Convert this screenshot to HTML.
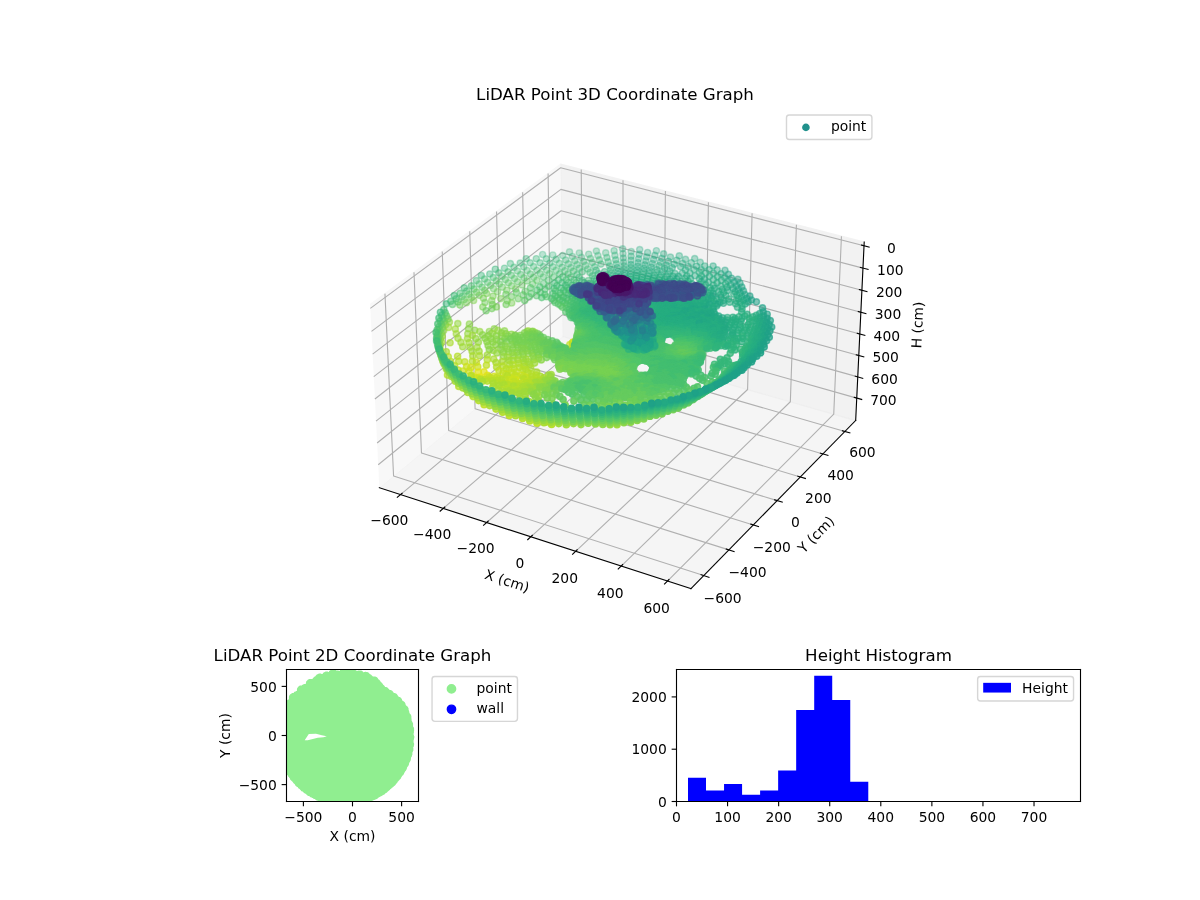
<!DOCTYPE html><html><head><meta charset="utf-8"><title>LiDAR Point Graphs</title><style>html,body{margin:0;padding:0;background:#fff}svg{display:block}text{font-family:"DejaVu Sans","Liberation Sans",sans-serif}
.pc circle{r:3.106px;stroke-width:1.389px}
.a{fill:#440154;stroke:#440154}
.b{fill:#46075a;stroke:#46075a}
.c{fill:#470d60;stroke:#470d60}
.d{fill:#471365;stroke:#471365}
.e{fill:#48186a;stroke:#48186a}
.f{fill:#481d6f;stroke:#481d6f}
.g{fill:#482374;stroke:#482374}
.h{fill:#482878;stroke:#482878}
.i{fill:#472d7b;stroke:#472d7b}
.j{fill:#46327e;stroke:#46327e}
.k{fill:#453781;stroke:#453781}
.l{fill:#443b84;stroke:#443b84}
.m{fill:#424086;stroke:#424086}
.n{fill:#404588;stroke:#404588}
.o{fill:#3e4989;stroke:#3e4989}
.p{fill:#3d4e8a;stroke:#3d4e8a}
.q{fill:#3a538b;stroke:#3a538b}
.r{fill:#38588c;stroke:#38588c}
.s{fill:#365c8d;stroke:#365c8d}
.t{fill:#34608d;stroke:#34608d}
.u{fill:#32648e;stroke:#32648e}
.v{fill:#31688e;stroke:#31688e}
.w{fill:#2f6c8e;stroke:#2f6c8e}
.x{fill:#2d708e;stroke:#2d708e}
.y{fill:#2c738e;stroke:#2c738e}
.z{fill:#2a778e;stroke:#2a778e}
.A{fill:#297b8e;stroke:#297b8e}
.B{fill:#277f8e;stroke:#277f8e}
.C{fill:#26828e;stroke:#26828e}
.D{fill:#24868e;stroke:#24868e}
.E{fill:#238a8d;stroke:#238a8d}
.F{fill:#218e8d;stroke:#218e8d}
.G{fill:#20928c;stroke:#20928c}
.H{fill:#1f968b;stroke:#1f968b}
.I{fill:#1f9a8a;stroke:#1f9a8a}
.J{fill:#1f9e89;stroke:#1f9e89}
.K{fill:#1fa187;stroke:#1fa187}
.L{fill:#21a585;stroke:#21a585}
.M{fill:#23a983;stroke:#23a983}
.N{fill:#26ad81;stroke:#26ad81}
.O{fill:#2ab07f;stroke:#2ab07f}
.P{fill:#2fb47c;stroke:#2fb47c}
.Q{fill:#35b779;stroke:#35b779}
.R{fill:#3bbb75;stroke:#3bbb75}
.S{fill:#42be71;stroke:#42be71}
.T{fill:#4ac16d;stroke:#4ac16d}
.U{fill:#52c569;stroke:#52c569}
.V{fill:#5ac864;stroke:#5ac864}
.W{fill:#65cb5e;stroke:#65cb5e}
.X{fill:#6ece58;stroke:#6ece58}
.Y{fill:#77d153;stroke:#77d153}
.Z{fill:#81d34d;stroke:#81d34d}
.k0{fill:#8bd646;stroke:#8bd646}
.k1{fill:#95d840;stroke:#95d840}
.k2{fill:#a0da39;stroke:#a0da39}
.k3{fill:#aadc32;stroke:#aadc32}
.k4{fill:#b5de2b;stroke:#b5de2b}
.k5{fill:#c0df25;stroke:#c0df25}
.k6{fill:#cae11f;stroke:#cae11f}
.k7{fill:#d5e21a;stroke:#d5e21a}
.k8{fill:#dfe318;stroke:#dfe318}
.k9{fill:#eae51a;stroke:#eae51a}
.k10{fill:#f4e61e;stroke:#f4e61e}
.k11{fill:#fde725;stroke:#fde725}
.o1{fill-opacity:0.05;stroke-opacity:0.05}
.o2{fill-opacity:0.1;stroke-opacity:0.1}
.o3{fill-opacity:0.15;stroke-opacity:0.15}
.o4{fill-opacity:0.2;stroke-opacity:0.2}
.o5{fill-opacity:0.25;stroke-opacity:0.25}
.o6{fill-opacity:0.3;stroke-opacity:0.3}
.o7{fill-opacity:0.35;stroke-opacity:0.35}
.o8{fill-opacity:0.4;stroke-opacity:0.4}
.o9{fill-opacity:0.45;stroke-opacity:0.45}
.o10{fill-opacity:0.5;stroke-opacity:0.5}
.o11{fill-opacity:0.55;stroke-opacity:0.55}
.o12{fill-opacity:0.6;stroke-opacity:0.6}
.o13{fill-opacity:0.65;stroke-opacity:0.65}
.o14{fill-opacity:0.7;stroke-opacity:0.7}
.o15{fill-opacity:0.75;stroke-opacity:0.75}
.o16{fill-opacity:0.8;stroke-opacity:0.8}
.o17{fill-opacity:0.85;stroke-opacity:0.85}
.o18{fill-opacity:0.9;stroke-opacity:0.9}
.o19{fill-opacity:0.95;stroke-opacity:0.95}
.o20{fill-opacity:1;stroke-opacity:1}</style></head><body><svg width="1200" height="900" viewBox="0 0 864 648">
 
 <defs>
  <style type="text/css">*{stroke-linejoin: round; stroke-linecap: butt}</style>
 </defs>
 <g id="figure_1">
  <g id="patch_1">
   <path d="M 0 648 
L 864 648 
L 864 0 
L 0 0 
z
" style="fill: #ffffff"/>
  </g>
  <g id="patch_2">
   <path d="M 252.828 457.704 
L 632.772 457.704 
L 632.772 77.76 
L 252.828 77.76 
z
" style="fill: #ffffff"/>
  </g>
  <g id="pane3d_1">
   <g id="patch_3">
    <path d="M 266.494291 219.285714 
L 403.616905 118.259584 
L 405.101358 242.24592 
L 273.139772 351.159248 
" style="fill: #f2f2f2; opacity: 0.5; stroke: #f2f2f2; stroke-linejoin: miter"/>
   </g>
  </g>
  <g id="pane3d_2">
   <g id="patch_4">
    <path d="M 403.616905 118.259584 
L 622.22818 174.289734 
L 616.087015 302.737657 
L 405.101358 242.24592 
" style="fill: #e6e6e6; opacity: 0.5; stroke: #e6e6e6; stroke-linejoin: miter"/>
   </g>
  </g>
  <g id="pane3d_3">
   <g id="patch_5">
    <path d="M 273.139772 351.159248 
L 497.441747 423.838683 
L 616.087015 302.737657 
L 405.101358 242.24592 
" style="fill: #ececec; opacity: 0.5; stroke: #ececec; stroke-linejoin: miter"/>
   </g>
  </g>
  <g id="grid3d_1">
   <g id="Line3DCollection_1">
    <path d="M 288.3555 356.089523 
L 419.478777 246.368073 
L 418.488989 122.071305 
" style="fill: none; stroke: #b0b0b0; stroke-width: 0.8"/>
    <path d="M 319.142932 366.065419 
L 448.540921 254.700485 
L 448.562174 129.779073 
" style="fill: none; stroke: #b0b0b0; stroke-width: 0.8"/>
    <path d="M 350.414322 376.198129 
L 478.020157 263.152482 
L 479.082197 137.601366 
" style="fill: none; stroke: #b0b0b0; stroke-width: 0.8"/>
    <path d="M 382.181172 386.491381 
L 507.925528 271.726657 
L 510.059092 145.540756 
" style="fill: none; stroke: #b0b0b0; stroke-width: 0.8"/>
    <path d="M 414.455351 396.94902 
L 538.266343 280.425678 
L 541.503194 153.599891 
" style="fill: none; stroke: #b0b0b0; stroke-width: 0.8"/>
    <path d="M 447.249111 407.575017 
L 569.052182 289.252291 
L 573.425153 161.781501 
" style="fill: none; stroke: #b0b0b0; stroke-width: 0.8"/>
    <path d="M 480.575101 418.373468 
L 600.292907 298.209325 
L 605.835948 170.088399 
" style="fill: none; stroke: #b0b0b0; stroke-width: 0.8"/>
   </g>
  </g>
  <g id="grid3d_2">
   <g id="Line3DCollection_2">
    <path d="M 277.164987 211.423997 
L 283.378164 342.709081 
L 506.688353 414.400687 
" style="fill: none; stroke: #b0b0b0; stroke-width: 0.8"/>
    <path d="M 298.071772 196.020764 
L 303.452921 326.140558 
L 524.798203 395.915994 
" style="fill: none; stroke: #b0b0b0; stroke-width: 0.8"/>
    <path d="M 318.418483 181.03017 
L 323.008954 310.000159 
L 542.414322 377.935251 
" style="fill: none; stroke: #b0b0b0; stroke-width: 0.8"/>
    <path d="M 338.227329 166.435852 
L 342.066113 294.271502 
L 559.556629 360.438127 
" style="fill: none; stroke: #b0b0b0; stroke-width: 0.8"/>
    <path d="M 357.519359 152.222302 
L 360.643246 278.939029 
L 576.243986 343.405369 
" style="fill: none; stroke: #b0b0b0; stroke-width: 0.8"/>
    <path d="M 376.314539 138.37481 
L 378.758265 263.987959 
L 592.494268 326.818733 
" style="fill: none; stroke: #b0b0b0; stroke-width: 0.8"/>
    <path d="M 394.631818 124.879416 
L 396.428201 249.404233 
L 608.324425 310.660919 
" style="fill: none; stroke: #b0b0b0; stroke-width: 0.8"/>
   </g>
  </g>
  <g id="grid3d_3">
   <g id="Line3DCollection_3">
    <path d="M 622.100655 176.957032 
L 403.647676 120.8297 
L 266.632483 222.028021 
" style="fill: none; stroke: #b0b0b0; stroke-width: 0.8"/>
    <path d="M 621.331751 193.039334 
L 403.833258 136.330112 
L 267.465531 238.559097 
" style="fill: none; stroke: #b0b0b0; stroke-width: 0.8"/>
    <path d="M 620.569607 208.980261 
L 404.017291 151.701159 
L 268.290959 254.938953 
" style="fill: none; stroke: #b0b0b0; stroke-width: 0.8"/>
    <path d="M 619.814133 224.781668 
L 404.199795 166.944452 
L 269.10887 271.169656 
" style="fill: none; stroke: #b0b0b0; stroke-width: 0.8"/>
    <path d="M 619.065242 240.445381 
L 404.380788 182.061579 
L 269.919367 287.253232 
" style="fill: none; stroke: #b0b0b0; stroke-width: 0.8"/>
    <path d="M 618.322849 255.973189 
L 404.560289 197.054099 
L 270.72255 303.191674 
" style="fill: none; stroke: #b0b0b0; stroke-width: 0.8"/>
    <path d="M 617.58687 271.366856 
L 404.738317 211.923546 
L 271.518518 318.986938 
" style="fill: none; stroke: #b0b0b0; stroke-width: 0.8"/>
    <path d="M 616.857221 286.628111 
L 404.914889 226.671429 
L 272.307368 334.640943 
" style="fill: none; stroke: #b0b0b0; stroke-width: 0.8"/>
   </g>
  </g>
  <g id="axis3d_1">
   <g id="line2d_1">
    <path d="M 273.139772 351.159248 
L 497.441747 423.838683 
" style="fill: none; stroke: #000000; stroke-width: 0.8; stroke-linecap: square"/>
   </g>
   <g id="xtick_1">
    <g id="line2d_2">
     <path d="M 289.502041 355.13012 
L 286.057249 358.012656 
" style="fill: none; stroke: #000000; stroke-width: 0.8; stroke-linecap: square"/>
    </g>
    <g id="text_1">
     <text style="font-size: 10px; font-family: 'DejaVu Sans', 'Liberation Sans', sans-serif; text-anchor: middle" x="280.334904" y="378.111347" transform="rotate(-0 280.334904 378.111347)">−600</text>
    </g>
   </g>
   <g id="xtick_2">
    <g id="line2d_3">
     <path d="M 320.275136 365.091 
L 316.873376 368.018686 
" style="fill: none; stroke: #000000; stroke-width: 0.8; stroke-linecap: square"/>
    </g>
    <g id="text_2">
     <text style="font-size: 10px; font-family: 'DejaVu Sans', 'Liberation Sans', sans-serif; text-anchor: middle" x="311.162793" y="388.233544" transform="rotate(-0 311.162793 388.233544)">−400</text>
    </g>
   </g>
   <g id="xtick_3">
    <g id="line2d_4">
     <path d="M 351.531597 375.208338 
L 348.174653 378.182245 
" style="fill: none; stroke: #000000; stroke-width: 0.8; stroke-linecap: square"/>
    </g>
    <g id="text_3">
     <text style="font-size: 10px; font-family: 'DejaVu Sans', 'Liberation Sans', sans-serif; text-anchor: middle" x="342.476913" y="398.515392" transform="rotate(-0 342.476913 398.515392)">−200</text>
    </g>
   </g>
   <g id="xtick_4">
    <g id="line2d_5">
     <path d="M 383.282901 385.485852 
L 379.972627 388.507082 
" style="fill: none; stroke: #000000; stroke-width: 0.8; stroke-linecap: square"/>
    </g>
    <g id="text_4">
     <text style="font-size: 10px; font-family: 'DejaVu Sans', 'Liberation Sans', sans-serif; text-anchor: middle" x="374.288861" y="408.960699" transform="rotate(-0 374.288861 408.960699)">0</text>
    </g>
   </g>
   <g id="xtick_5">
    <g id="line2d_6">
     <path d="M 415.540893 395.927375 
L 412.279216 398.997066 
" style="fill: none; stroke: #000000; stroke-width: 0.8; stroke-linecap: square"/>
    </g>
    <g id="text_5">
     <text style="font-size: 10px; font-family: 'DejaVu Sans', 'Liberation Sans', sans-serif; text-anchor: middle" x="406.610602" y="419.573395" transform="rotate(-0 406.610602 419.573395)">200</text>
    </g>
   </g>
   <g id="xtick_6">
    <g id="line2d_7">
     <path d="M 448.3178 406.536864 
L 445.10672 409.656193 
" style="fill: none; stroke: #000000; stroke-width: 0.8; stroke-linecap: square"/>
    </g>
    <g id="text_6">
     <text style="font-size: 10px; font-family: 'DejaVu Sans', 'Liberation Sans', sans-serif; text-anchor: middle" x="439.454491" y="430.357535" transform="rotate(-0 439.454491 430.357535)">400</text>
    </g>
   </g>
   <g id="xtick_7">
    <g id="line2d_8">
     <path d="M 481.626245 417.318405 
L 478.467841 420.488585 
" style="fill: none; stroke: #000000; stroke-width: 0.8; stroke-linecap: square"/>
    </g>
    <g id="text_7">
     <text style="font-size: 10px; font-family: 'DejaVu Sans', 'Liberation Sans', sans-serif; text-anchor: middle" x="472.833282" y="441.317308" transform="rotate(-0 472.833282 441.317308)">600</text>
    </g>
   </g>
   <g id="text_8">
    <text style="font-size: 10px; font-family: 'DejaVu Sans', 'Liberation Sans', sans-serif; text-anchor: middle" x="364.104534" y="421.574162" transform="rotate(-342.046382 364.104534 421.574162)">X (cm)</text>
   </g>
  </g>
  <g id="axis3d_2">
   <g id="line2d_9">
    <path d="M 616.087015 302.737657 
L 497.441747 423.838683 
" style="fill: none; stroke: #000000; stroke-width: 0.8; stroke-linecap: square"/>
   </g>
   <g id="xtick_8">
    <g id="line2d_10">
     <path d="M 504.801549 413.794946 
L 510.467097 415.613816 
" style="fill: none; stroke: #000000; stroke-width: 0.8; stroke-linecap: square"/>
    </g>
    <g id="text_9">
     <text style="font-size: 10px; font-family: 'DejaVu Sans', 'Liberation Sans', sans-serif; text-anchor: middle" x="520.283852" y="434.022168" transform="rotate(-0 520.283852 434.022168)">−600</text>
    </g>
   </g>
   <g id="xtick_9">
    <g id="line2d_11">
     <path d="M 522.929374 395.326876 
L 528.540876 397.095809 
" style="fill: none; stroke: #000000; stroke-width: 0.8; stroke-linecap: square"/>
    </g>
    <g id="text_10">
     <text style="font-size: 10px; font-family: 'DejaVu Sans', 'Liberation Sans', sans-serif; text-anchor: middle" x="538.224517" y="415.351852" transform="rotate(-0 538.224517 415.351852)">−400</text>
    </g>
   </g>
   <g id="xtick_10">
    <g id="line2d_12">
     <path d="M 540.563196 377.362082 
L 546.121473 379.083106 
" style="fill: none; stroke: #000000; stroke-width: 0.8; stroke-linecap: square"/>
    </g>
    <g id="text_11">
     <text style="font-size: 10px; font-family: 'DejaVu Sans', 'Liberation Sans', sans-serif; text-anchor: middle" x="555.67556" y="397.191071" transform="rotate(-0 555.67556 397.191071)">−200</text>
    </g>
   </g>
   <g id="xtick_11">
    <g id="line2d_13">
     <path d="M 557.722936 359.880267 
L 563.228801 361.555303 
" style="fill: none; stroke: #000000; stroke-width: 0.8; stroke-linecap: square"/>
    </g>
    <g id="text_12">
     <text style="font-size: 10px; font-family: 'DejaVu Sans', 'Liberation Sans', sans-serif; text-anchor: middle" x="572.656754" y="379.519247" transform="rotate(-0 572.656754 379.519247)">0</text>
    </g>
   </g>
   <g id="xtick_12">
    <g id="line2d_14">
     <path d="M 574.42746 342.862213 
L 579.881719 344.49308 
" style="fill: none; stroke: #000000; stroke-width: 0.8; stroke-linecap: square"/>
    </g>
    <g id="text_13">
     <text style="font-size: 10px; font-family: 'DejaVu Sans', 'Liberation Sans', sans-serif; text-anchor: middle" x="589.186823" y="362.316896" transform="rotate(-0 589.186823 362.316896)">200</text>
    </g>
   </g>
   <g id="xtick_13">
    <g id="line2d_15">
     <path d="M 590.694643 326.289708 
L 596.098094 327.87813 
" style="fill: none; stroke: #000000; stroke-width: 0.8; stroke-linecap: square"/>
    </g>
    <g id="text_14">
     <text style="font-size: 10px; font-family: 'DejaVu Sans', 'Liberation Sans', sans-serif; text-anchor: middle" x="605.283508" y="345.565555" transform="rotate(-0 605.283508 345.565555)">400</text>
    </g>
   </g>
   <g id="xtick_14">
    <g id="line2d_16">
     <path d="M 606.54144 310.145479 
L 611.894869 311.693092 
" style="fill: none; stroke: #000000; stroke-width: 0.8; stroke-linecap: square"/>
    </g>
    <g id="text_15">
     <text style="font-size: 10px; font-family: 'DejaVu Sans', 'Liberation Sans', sans-serif; text-anchor: middle" x="620.963633" y="329.247716" transform="rotate(-0 620.963633 329.247716)">600</text>
    </g>
   </g>
   <g id="text_16">
    <text style="font-size: 10px; font-family: 'DejaVu Sans', 'Liberation Sans', sans-serif; text-anchor: middle" x="590.040209" y="387.361361" transform="rotate(-45.586869 590.040209 387.361361)">Y (cm)</text>
   </g>
  </g>
  <g id="axis3d_3">
   <g id="line2d_17">
    <path d="M 616.087015 302.737657 
L 622.22818 174.289734 
" style="fill: none; stroke: #000000; stroke-width: 0.8; stroke-linecap: square"/>
   </g>
   <g id="xtick_15">
    <g id="line2d_18">
     <path d="M 620.259864 176.484076 
L 625.78699 177.904166 
" style="fill: none; stroke: #000000; stroke-width: 0.8; stroke-linecap: square"/>
    </g>
    <g id="text_17">
     <text style="font-size: 10px; font-family: 'DejaVu Sans', 'Liberation Sans', sans-serif; text-anchor: middle" x="641.89995" y="182.045052" transform="rotate(-0 641.89995 182.045052)">0</text>
    </g>
   </g>
   <g id="xtick_16">
    <g id="line2d_19">
     <path d="M 619.499413 192.561581 
L 625.00114 193.996068 
" style="fill: none; stroke: #000000; stroke-width: 0.8; stroke-linecap: square"/>
    </g>
    <g id="text_18">
     <text style="font-size: 10px; font-family: 'DejaVu Sans', 'Liberation Sans', sans-serif; text-anchor: middle" x="641.045582" y="198.101873" transform="rotate(-0 641.045582 198.101873)">100</text>
    </g>
   </g>
   <g id="xtick_17">
    <g id="line2d_20">
     <path d="M 618.745644 208.497814 
L 624.222203 209.946389 
" style="fill: none; stroke: #000000; stroke-width: 0.8; stroke-linecap: square"/>
    </g>
    <g id="text_19">
     <text style="font-size: 10px; font-family: 'DejaVu Sans', 'Liberation Sans', sans-serif; text-anchor: middle" x="640.198709" y="214.017862" transform="rotate(-0 640.198709 214.017862)">200</text>
    </g>
   </g>
   <g id="xtick_18">
    <g id="line2d_21">
     <path d="M 617.998469 224.294628 
L 623.450089 225.756991 
" style="fill: none; stroke: #000000; stroke-width: 0.8; stroke-linecap: square"/>
    </g>
    <g id="text_20">
     <text style="font-size: 10px; font-family: 'DejaVu Sans', 'Liberation Sans', sans-serif; text-anchor: middle" x="639.35923" y="229.794865" transform="rotate(-0 639.35923 229.794865)">300</text>
    </g>
   </g>
   <g id="xtick_19">
    <g id="line2d_22">
     <path d="M 617.257802 239.953844 
L 622.684709 241.429701 
" style="fill: none; stroke: #000000; stroke-width: 0.8; stroke-linecap: square"/>
    </g>
    <g id="text_21">
     <text style="font-size: 10px; font-family: 'DejaVu Sans', 'Liberation Sans', sans-serif; text-anchor: middle" x="638.52705" y="245.434692" transform="rotate(-0 638.52705 245.434692)">400</text>
    </g>
   </g>
   <g id="xtick_20">
    <g id="line2d_23">
     <path d="M 616.523559 255.477253 
L 621.925976 256.966314 
" style="fill: none; stroke: #000000; stroke-width: 0.8; stroke-linecap: square"/>
    </g>
    <g id="text_22">
     <text style="font-size: 10px; font-family: 'DejaVu Sans', 'Liberation Sans', sans-serif; text-anchor: middle" x="637.702075" y="260.939127" transform="rotate(-0 637.702075 260.939127)">500</text>
    </g>
   </g>
   <g id="xtick_21">
    <g id="line2d_24">
     <path d="M 615.795656 270.866614 
L 621.173803 272.368597 
" style="fill: none; stroke: #000000; stroke-width: 0.8; stroke-linecap: square"/>
    </g>
    <g id="text_23">
     <text style="font-size: 10px; font-family: 'DejaVu Sans', 'Liberation Sans', sans-serif; text-anchor: middle" x="636.884211" y="276.309919" transform="rotate(-0 636.884211 276.309919)">600</text>
    </g>
   </g>
   <g id="xtick_22">
    <g id="line2d_25">
     <path d="M 615.074012 286.123656 
L 620.428105 287.638284 
" style="fill: none; stroke: #000000; stroke-width: 0.8; stroke-linecap: square"/>
    </g>
    <g id="text_24">
     <text style="font-size: 10px; font-family: 'DejaVu Sans', 'Liberation Sans', sans-serif; text-anchor: middle" x="636.073365" y="291.548789" transform="rotate(-0 636.073365 291.548789)">700</text>
    </g>
   </g>
   <g id="text_25">
    <text style="font-size: 10px; font-family: 'DejaVu Sans', 'Liberation Sans', sans-serif; text-anchor: middle" x="664.06493" y="234.142659" transform="rotate(-87.262742 664.06493 234.142659)">H (cm)</text>
   </g>
  </g>
  <g id="axes_1">
   <g transform="scale(0.72)"><g class="pc" transform="translate(420 230)">
<g class="o6">
<circle class=Q cx=176.4 cy=21.1 r=3.1 />
<circle class=O cx=202.6 cy=18.8 r=3.1 />
<circle class=P cx=194.1 cy=20.7 r=3.1 />
<circle class=Q cx=149.5 cy=21.9 r=3.1 />
<circle class=Q cx=185.7 cy=22.9 r=3.1 />
<circle class=Q cx=159.3 cy=23 r=3.1 />
<circle class=Q cx=168.7 cy=24.2 r=3.1 />
<circle class=N cx=219.7 cy=19.6 r=3.1 />
<circle class=Q cx=177.9 cy=25.6 r=3.1 />
<circle class=O cx=211.2 cy=21.6 r=3.1 />
<circle class=P cx=122.6 cy=24.5 r=3.1 />
<circle class=N cx=236.4 cy=20.7 r=3.1 />
<circle class=Q cx=132.8 cy=25 r=3.1 />
<circle class=Q cx=142.7 cy=25.6 r=3.1 />
<circle class=O cx=203 cy=23.6 r=3.1 />
<circle class=Q cx=152.3 cy=26.5 r=3.1 />
<circle class=P cx=194.9 cy=25.4 r=3.1 />
<circle class=Q cx=161.5 cy=27.4 r=3.1 />
</g>
<g class="o7">
<circle class=N cx=227.6 cy=22.5 r=3.1 />
<circle class=Q cx=186.9 cy=27.5 r=3.1 />
<circle class=R cx=170.5 cy=28.5 r=3.1 />
<circle class=N cx=219.2 cy=24.3 r=3.1 />
<circle class=N cx=243.6 cy=23.9 r=3.1 />
<circle class=R cx=179.4 cy=29.9 r=3.1 />
<circle class=Q cx=126.4 cy=28.9 r=3.1 />
<circle class=Q cx=116.3 cy=28.7 r=3.1 />
<circle class=Q cx=136.2 cy=29.4 r=3.1 />
<circle class=Q cx=145.7 cy=30 r=3.1 />
<circle class=Q cx=106.2 cy=28.7 r=3.1 />
<circle class=O cx=211.1 cy=26.2 r=3.1 />
<circle class=R cx=154.8 cy=30.7 r=3.1 />
<circle class=N cx=234.9 cy=25.4 r=3.1 />
<circle class=R cx=163.6 cy=31.5 r=3.1 />
<circle class=O cx=203.3 cy=28 r=3.1 />
<circle class=R cx=172.3 cy=32.6 r=3.1 />
<circle class=N cx=259.3 cy=25.9 r=3.1 />
<circle class=N cx=226.6 cy=27 r=3.1 />
<circle class=P cx=195.7 cy=29.9 r=3.1 />
<circle class=Q cx=120 cy=32.8 r=3.1 />
<circle class=N cx=250.4 cy=27.1 r=3.1 />
<circle class=Q cx=188.2 cy=31.9 r=3.1 />
<circle class=Q cx=129.9 cy=33 r=3.1 />
<circle class=Q cx=110.1 cy=32.8 r=3.1 />
<circle class=R cx=139.4 cy=33.4 r=3.1 />
<circle class=N cx=218.6 cy=28.7 r=3.1 />
<circle class=R cx=148.4 cy=33.9 r=3.1 />
<circle class=N cx=241.8 cy=28.3 r=3.1 />
<circle class=R cx=157.2 cy=34.6 r=3.1 />
<circle class=Q cx=100.2 cy=33.1 r=3.1 />
<circle class=O cx=211 cy=30.2 r=3.1 />
<circle class=Q cx=181 cy=34.1 r=3.1 />
<circle class=R cx=165.7 cy=35.4 r=3.1 />
<circle class=N cx=274.7 cy=28.6 r=3.1 />
<circle class=N cx=233.6 cy=29.6 r=3.1 />
<circle class=Q cx=90.4 cy=33.6 r=3.1 />
<circle class=N cx=265.5 cy=29.4 r=3.1 />
<circle class=R cx=113.6 cy=36.6 r=3.1 />
<circle class=R cx=123.5 cy=36.6 r=3.1 />
<circle class=R cx=133.1 cy=36.8 r=3.1 />
<circle class=N cx=225.8 cy=31 r=3.1 />
<circle class=R cx=103.7 cy=36.9 r=3.1 />
<circle class=N cx=256.7 cy=30.2 r=3.1 />
<circle class=P cx=196.4 cy=33.8 r=3.1 />
<circle class=R cx=142.2 cy=37.2 r=3.1 />
<circle class=O cx=203.6 cy=32.3 r=3.1 />
<circle class=R cx=151 cy=37.6 r=3.1 />
<circle class=N cx=248.3 cy=31.2 r=3.1 />
<circle class=R cx=94 cy=37.4 r=3.1 />
<circle class=R cx=159.4 cy=38.2 r=3.1 />
<circle class=N cx=240.4 cy=32.2 r=3.1 />
<circle class=Q cx=174.7 cy=36.8 r=3.1 />
<circle class=N cx=218.1 cy=32.7 r=3.1 />
<circle class=S cx=116.9 cy=40.3 r=3.1 />
<circle class=S cx=107.1 cy=40.5 r=3.1 />
<circle class=S cx=126.7 cy=40.2 r=3.1 />
<circle class=R cx=167.8 cy=39 r=3.1 />
<circle class=P cx=189.6 cy=36 r=3.1 />
<circle class=N cx=280.2 cy=32.3 r=3.1 />
<circle class=S cx=136 cy=40.4 r=3.1 />
<circle class=Q cx=84.5 cy=38.2 r=3.1 />
<circle class=N cx=271.3 cy=32.7 r=3.1 />
<circle class=S cx=97.4 cy=41 r=3.1 />
<circle class=N cx=232.3 cy=33.6 r=3.1 />
<circle class=S cx=144.9 cy=40.7 r=3.1 />
<circle class=N cx=262.6 cy=33.4 r=3.1 />
<circle class=O cx=203.9 cy=35.8 r=3.1 />
</g>
<g class="o8">
<circle class=N cx=210.9 cy=34.5 r=3.1 />
<circle class=S cx=153.5 cy=41.1 r=3.1 />
<circle class=T cx=110.4 cy=44 r=3.1 />
<circle class=O cx=239.1 cy=35.7 r=3.1 />
<circle class=N cx=254.2 cy=34.2 r=3.1 />
<circle class=T cx=120.2 cy=43.7 r=3.1 />
<circle class=S cx=88 cy=41.8 r=3.1 />
<circle class=N cx=224.9 cy=34.9 r=3.1 />
<circle class=T cx=100.7 cy=44.5 r=3.1 />
<circle class=Q cx=176.2 cy=40.2 r=3.1 />
<circle class=T cx=129.7 cy=43.6 r=3.1 />
<circle class=Q cx=75.3 cy=39.2 r=3.1 />
<circle class=N cx=246.2 cy=35.1 r=3.1 />
<circle class=O cx=197.2 cy=37.7 r=3.1 />
<circle class=O cx=210.8 cy=37.6 r=3.1 />
<circle class=T cx=91.3 cy=45.3 r=3.1 />
<circle class=N cx=217.7 cy=36.4 r=3.1 />
<circle class=R cx=162.3 cy=41.8 r=3.1 />
<circle class=N cx=260.6 cy=36.8 r=3.1 />
<circle class=R cx=78.8 cy=42.8 r=3.1 />
<circle class=U cx=113.6 cy=47.3 r=3.1 />
<circle class=U cx=103.9 cy=47.8 r=3.1 />
<circle class=R cx=169.9 cy=42.5 r=3.1 />
<circle class=N cx=276.5 cy=36.2 r=3.1 />
<circle class=S cx=139.7 cy=43.9 r=3.1 />
<circle class=T cx=123.4 cy=47 r=3.1 />
<circle class=N cx=268.1 cy=36.5 r=3.1 />
<circle class=N cx=284.8 cy=36 r=3.1 />
<circle class=S cx=148 cy=44 r=3.1 />
<circle class=N cx=231.2 cy=37.1 r=3.1 />
<circle class=P cx=190.7 cy=39.6 r=3.1 />
<circle class=U cx=94.5 cy=48.6 r=3.1 />
<circle class=O cx=204.1 cy=39.3 r=3.1 />
<circle class=T cx=82.1 cy=46.3 r=3.1 />
<circle class=N cx=252.2 cy=37.7 r=3.1 />
<circle class=M cx=293.1 cy=36.1 r=3.1 />
<circle class=N cx=244.8 cy=38.4 r=3.1 />
<circle class=V cx=107.1 cy=51 r=3.1 />
<circle class=N cx=224 cy=38.4 r=3.1 />
<circle class=V cx=117 cy=50.4 r=3.1 />
<circle class=Q cx=69.8 cy=44 r=3.1 />
<circle class=T cx=133.8 cy=47 r=3.1 />
<circle class=U cx=85.3 cy=49.6 r=3.1 />
<circle class=V cx=97.6 cy=51.8 r=3.1 />
<circle class=R cx=157 cy=44.6 r=3.1 />
<circle class=N cx=274 cy=39.5 r=3.1 />
<circle class=P cx=184.6 cy=41.7 r=3.1 />
<circle class=S cx=73.2 cy=47.5 r=3.1 />
<circle class=V cx=88.4 cy=52.8 r=3.1 />
<circle class=N cx=265.5 cy=39.9 r=3.1 />
<circle class=S cx=143 cy=47 r=3.1 />
<circle class=O cx=197.9 cy=41.2 r=3.1 />
<circle class=P cx=178.4 cy=43.6 r=3.1 />
<circle class=O cx=210.7 cy=41 r=3.1 />
<circle class=S cx=150.8 cy=47.2 r=3.1 />
<circle class=N cx=281.2 cy=39.6 r=3.1 />
<circle class=N cx=217.2 cy=39.9 r=3.1 />
<circle class=P cx=191.5 cy=42.8 r=3.1 />
<circle class=N cx=236.9 cy=39.6 r=3.1 />
<circle class=U cx=76.3 cy=50.9 r=3.1 />
<circle class=N cx=289.2 cy=39.7 r=3.1 />
<circle class=O cx=236.4 cy=42.3 r=3.1 />
<circle class=W cx=91.7 cy=55.9 r=3.1 />
<circle class=T cx=128.5 cy=50.2 r=3.1 />
<circle class=W cx=102.1 cy=54.9 r=3.1 />
<circle class=Q cx=61.3 cy=45.5 r=3.1 />
<circle class=N cx=243 cy=41.6 r=3.1 />
<circle class=V cx=79.4 cy=54.1 r=3.1 />
<circle class=Q cx=172.5 cy=45.8 r=3.1 />
<circle class=R cx=159 cy=47.5 r=3.1 />
<circle class=O cx=279.4 cy=42.6 r=3.1 />
<circle class=N cx=223.4 cy=41.6 r=3.1 />
<circle class=N cx=249.8 cy=41.1 r=3.1 />
<circle class=N cx=229.8 cy=40.6 r=3.1 />
<circle class=M cx=297.2 cy=39.9 r=3.1 />
<circle class=V cx=112.7 cy=54.1 r=3.1 />
<circle class=S cx=64.5 cy=49 r=3.1 />
<circle class=P cx=185.6 cy=44.7 r=3.1 />
<circle class=W cx=82.4 cy=57.2 r=3.1 />
<circle class=N cx=216.9 cy=42.8 r=3.1 />
<circle class=T cx=67.6 cy=52.3 r=3.1 />
<circle class=N cx=229.3 cy=43.4 r=3.1 />
<circle class=X cx=95.7 cy=58.9 r=3.1 />
<circle class=L cx=305 cy=40.4 r=3.1 />
<circle class=S cx=138.5 cy=50.1 r=3.1 />
<circle class=S cx=146.2 cy=50 r=3.1 />
<circle class=O cx=222.9 cy=44.3 r=3.1 />
<circle class=V cx=70.6 cy=55.5 r=3.1 />
<circle class=N cx=210.6 cy=44 r=3.1 />
<circle class=N cx=285.8 cy=42.9 r=3.1 />
<circle class=N cx=269.9 cy=43 r=3.1 />
<circle class=T cx=123.5 cy=53.5 r=3.1 />
<circle class=N cx=248.4 cy=44 r=3.1 />
<circle class=N cx=262.3 cy=43.2 r=3.1 />
<circle class=N cx=204.5 cy=42.9 r=3.1 />
<circle class=N cx=198.5 cy=44.2 r=3.1 />
<circle class=R cx=154 cy=50.1 r=3.1 />
<circle class=N cx=255.1 cy=43.6 r=3.1 />
<circle class=W cx=73.5 cy=58.7 r=3.1 />
<circle class=X cx=86.8 cy=60.2 r=3.1 />
<circle class=N cx=293.5 cy=43.2 r=3.1 />
<circle class=P cx=180.2 cy=46.7 r=3.1 />
<circle class=O cx=192.6 cy=45.8 r=3.1 />
<circle class=R cx=56.3 cy=50.6 r=3.1 />
<circle class=S cx=148.3 cy=52.7 r=3.1 />
<circle class=Q cx=174.5 cy=48.6 r=3.1 />
<circle class=N cx=204.6 cy=45.5 r=3.1 />
<circle class=R cx=168.4 cy=50.6 r=3.1 />
<circle class=X cx=77.4 cy=61.7 r=3.1 />
<circle class=T cx=59.2 cy=54 r=3.1 />
<circle class=N cx=241 cy=44.8 r=3.1 />
<circle class=M cx=301.1 cy=43.7 r=3.1 />
<circle class=N cx=228.4 cy=46.2 r=3.1 />
<circle class=Q cx=162.1 cy=50.4 r=3.1 />
<circle class=U cx=62.1 cy=57.2 r=3.1 />
<circle class=N cx=275 cy=45.8 r=3.1 />
</g>
<g class="o9">
<circle class=S cx=156 cy=52.7 r=3.1 />
<circle class=Y cx=66.6 cy=63.5 r=3.1 />
<circle class=N cx=234.4 cy=45.5 r=3.1 />
<circle class=W cx=64.8 cy=60.4 r=3.1 />
<circle class=R cx=141.9 cy=52.8 r=3.1 />
<circle class=O cx=187.1 cy=47.6 r=3.1 />
<circle class=N cx=246.6 cy=46.8 r=3.1 />
<circle class=N cx=210.6 cy=46.8 r=3.1 />
<circle class=R cx=134.7 cy=53.1 r=3.1 />
<circle class=U cx=110.5 cy=57.7 r=3.1 />
<circle class=N cx=216.4 cy=45.8 r=3.1 />
<circle class=N cx=253 cy=46.4 r=3.1 />
<circle class=P cx=181.4 cy=49.3 r=3.1 />
<circle class=N cx=222.2 cy=47.2 r=3.1 />
<circle class=N cx=266.8 cy=46 r=3.1 />
<circle class=O cx=216.3 cy=48.1 r=3.1 />
<circle class=N cx=240 cy=47.4 r=3.1 />
<circle class=L cx=308.4 cy=44.4 r=3.1 />
<circle class=T cx=119.8 cy=56.8 r=3.1 />
<circle class=N cx=281.5 cy=46.1 r=3.1 />
<circle class=N cx=289.5 cy=46.3 r=3.1 />
<circle class=N cx=199 cy=47 r=3.1 />
<circle class=N cx=297.5 cy=46.7 r=3.1 />
<circle class=T cx=128.7 cy=56.2 r=3.1 />
<circle class=P cx=187.7 cy=50.1 r=3.1 />
<circle class=S cx=136.8 cy=55.7 r=3.1 />
<circle class=N cx=227.7 cy=48.8 r=3.1 />
<circle class=P cx=176.1 cy=51.2 r=3.1 />
<circle class=Q cx=164 cy=52.9 r=3.1 />
<circle class=Q cx=170.3 cy=53.2 r=3.1 />
<circle class=N cx=204.9 cy=48.2 r=3.1 />
<circle class=O cx=210.5 cy=49.3 r=3.1 />
<circle class=N cx=265 cy=48.6 r=3.1 />
<circle class=O cx=239.2 cy=49.8 r=3.1 />
<circle class=S cx=51.4 cy=55.8 r=3.1 />
<circle class=Y cx=73 cy=66.2 r=3.1 />
<circle class=N cx=279.4 cy=48.8 r=3.1 />
<circle class=N cx=233.4 cy=48.1 r=3.1 />
<circle class=U cx=54 cy=59.1 r=3.1 />
<circle class=V cx=105.2 cy=61.3 r=3.1 />
<circle class=N cx=193.6 cy=48.6 r=3.1 />
<circle class=M cx=258.4 cy=46.4 r=3.1 />
<circle class=W cx=56.6 cy=62.2 r=3.1 />
<circle class=X cx=59.2 cy=65.3 r=3.1 />
<circle class=N cx=199.3 cy=49.5 r=3.1 />
<circle class=M cx=304.7 cy=47.4 r=3.1 />
<circle class=R cx=152.1 cy=55.2 r=3.1 />
<circle class=P cx=182.5 cy=51.8 r=3.1 />
<circle class=W cx=85.9 cy=64.2 r=3.1 />
<circle class=V cx=96.4 cy=62.6 r=3.1 />
<circle class=Q cx=177 cy=53.6 r=3.1 />
<circle class=R cx=165.3 cy=55.3 r=3.1 />
<circle class=R cx=159 cy=55.2 r=3.1 />
<circle class=R cx=145.6 cy=55.4 r=3.1 />
<circle class=N cx=221.6 cy=49.7 r=3.1 />
<circle class=N cx=205 cy=50.6 r=3.1 />
<circle class=Y cx=63.4 cy=68.2 r=3.1 />
<circle class=O cx=227 cy=51.2 r=3.1 />
<circle class=N cx=244.5 cy=49.5 r=3.1 />
<circle class=M cx=270.5 cy=48.8 r=3.1 />
<circle class=N cx=293.4 cy=49.6 r=3.1 />
<circle class=M cx=256.9 cy=48.9 r=3.1 />
<circle class=Q cx=171.9 cy=55.5 r=3.1 />
<circle class=N cx=232.5 cy=50.5 r=3.1 />
<circle class=N cx=194.1 cy=51 r=3.1 />
<circle class=T cx=125.1 cy=59.3 r=3.1 />
<circle class=M cx=250.3 cy=49.2 r=3.1 />
<circle class=N cx=301.3 cy=50.2 r=3.1 />
<circle class=O cx=199.7 cy=51.9 r=3.1 />
<circle class=L cx=311.5 cy=48.2 r=3.1 />
<circle class=T cx=117 cy=60.1 r=3.1 />
<circle class=N cx=215.9 cy=50.7 r=3.1 />
<circle class=R cx=147.5 cy=57.7 r=3.1 />
<circle class=N cx=210.4 cy=51.7 r=3.1 />
<circle class=M cx=284.4 cy=49.3 r=3.1 />
<circle class=O cx=232 cy=52.8 r=3.1 />
<circle class=R cx=154.5 cy=57.5 r=3.1 />
<circle class=R cx=141 cy=58.1 r=3.1 />
<circle class=O cx=189 cy=52.5 r=3.1 />
<circle class=P cx=183.7 cy=54.1 r=3.1 />
<circle class=W cx=91.5 cy=66.7 r=3.1 />
<circle class=Y cx=80.7 cy=68.6 r=3.1 />
<circle class=Z cx=53.6 cy=70.5 r=3.1 />
<circle class=N cx=243.3 cy=51.9 r=3.1 />
<circle class=X cx=51.4 cy=67.4 r=3.1 />
<circle class=V cx=49 cy=64.3 r=3.1 />
<circle class=R cx=134.1 cy=58.5 r=3.1 />
<circle class=T cx=46.7 cy=61.1 r=3.1 />
<circle class=R cx=44.3 cy=57.9 r=3.1 />
<circle class=N cx=221 cy=52.1 r=3.1 />
<circle class=S cx=149 cy=60 r=3.1 />
<circle class=O cx=194.6 cy=53.3 r=3.1 />
<circle class=N cx=261.6 cy=51.3 r=3.1 />
<circle class=Q cx=167.4 cy=57.5 r=3.1 />
<circle class=N cx=268.2 cy=51.3 r=3.1 />
<circle class=U cx=111.3 cy=63.6 r=3.1 />
<circle class=N cx=237.3 cy=52.3 r=3.1 />
<circle class=T cx=135.4 cy=60.9 r=3.1 />
<circle class=N cx=215.6 cy=53 r=3.1 />
<circle class=M cx=307.9 cy=51.1 r=3.1 />
<circle class=N cx=205.2 cy=52.9 r=3.1 />
<circle class=T cx=120.4 cy=62.5 r=3.1 />
<circle class=V cx=103.1 cy=64.9 r=3.1 />
<circle class=Q cx=161.8 cy=57.4 r=3.1 />
<circle class=M cx=248.6 cy=51.6 r=3.1 />
<circle class=N cx=226.1 cy=53.5 r=3.1 />
<circle class=L cx=317.9 cy=49.3 r=3.1 />
<circle class=O cx=189.6 cy=54.7 r=3.1 />
<circle class=Y cx=71.7 cy=70.5 r=3.1 />
<circle class=M cx=281.4 cy=51.9 r=3.1 />
<circle class=M cx=254.5 cy=51.4 r=3.1 />
<circle class=O cx=200.1 cy=54.1 r=3.1 />
<circle class=N cx=297.1 cy=52.9 r=3.1 />
<circle class=O cx=242.2 cy=54.1 r=3.1 />
<circle class=N cx=305.6 cy=53.7 r=3.1 />
<circle class=R cx=156.5 cy=59.7 r=3.1 />
<circle class=S cx=143.7 cy=60.3 r=3.1 />
<circle class=O cx=231.1 cy=55 r=3.1 />
<circle class=N cx=210.4 cy=54 r=3.1 />
<circle class=Q cx=174 cy=57.7 r=3.1 />
<circle class=N cx=220.6 cy=54.3 r=3.1 />
<circle class=P cx=179.3 cy=55.9 r=3.1 />
<circle class=O cx=195.1 cy=55.4 r=3.1 />
<circle class=N cx=247.7 cy=53.9 r=3.1 />
<circle class=R cx=163 cy=59.6 r=3.1 />
<circle class=M cx=288.2 cy=52.4 r=3.1 />
<circle class=O cx=215.4 cy=55.1 r=3.1 />
<circle class=O cx=205.3 cy=55 r=3.1 />
<circle class=N cx=253.3 cy=53.7 r=3.1 />
<circle class=N cx=265.8 cy=53.7 r=3.1 />
<circle class=N cx=236.2 cy=54.5 r=3.1 />
<circle class=X cx=87.3 cy=70.8 r=3.1 />
<circle class=N cx=259.3 cy=53.7 r=3.1 />
<circle class=O cx=210.3 cy=56.1 r=3.1 />
<circle class=N cx=279.2 cy=54.3 r=3.1 />
<circle class=L cx=314.2 cy=52.1 r=3.1 />
<circle class=N cx=272 cy=53.9 r=3.1 />
<circle class=W cx=98.2 cy=68.7 r=3.1 />
<circle class=P cx=180 cy=58 r=3.1 />
<circle class=S cx=152.1 cy=62 r=3.1 />
<circle class=Y cx=46.4 cy=72.7 r=3.1 />
<circle class=Q cx=169.5 cy=59.6 r=3.1 />
<circle class=S cx=145.8 cy=62.4 r=3.1 />
<circle class=R cx=164.2 cy=61.7 r=3.1 />
<circle class=N cx=225.4 cy=55.6 r=3.1 />
<circle class=O cx=235.6 cy=56.6 r=3.1 />
<circle class=O cx=185.2 cy=56.3 r=3.1 />
<circle class=U cx=116.6 cy=65.7 r=3.1 />
<circle class=W cx=44.3 cy=69.6 r=3.1 />
<circle class=N cx=246.5 cy=56 r=3.1 />
<circle class=N cx=293.4 cy=55.4 r=3.1 />
<circle class=O cx=200.4 cy=56.2 r=3.1 />
<circle class=N cx=285.6 cy=54.8 r=3.1 />
<circle class=U cx=42.2 cy=66.5 r=3.1 />
<circle class=T cx=125 cy=64.6 r=3.1 />
<circle class=S cx=40.1 cy=63.3 r=3.1 />
<circle class=S cx=132.9 cy=63.6 r=3.1 />
<circle class=R cx=159 cy=61.7 r=3.1 />
<circle class=U cx=126.5 cy=66.8 r=3.1 />
<circle class=S cx=140 cy=62.9 r=3.1 />
<circle class=X cx=65 cy=72.5 r=3.1 />
<circle class=Y cx=91.7 cy=73 r=3.1 />
<circle class=N cx=240.6 cy=56.3 r=3.1 />
<circle class=U cx=109.3 cy=66.9 r=3.1 />
<circle class=N cx=300.7 cy=56.2 r=3.1 />
<circle class=M cx=310.7 cy=54.7 r=3.1 />
<circle class=T cx=141 cy=65.1 r=3.1 />
<circle class=S cx=153.9 cy=64.1 r=3.1 />
<circle class=O cx=195.7 cy=57.5 r=3.1 />
<circle class=O cx=210.3 cy=58.1 r=3.1 />
<circle class=O cx=224.9 cy=57.7 r=3.1 />
<circle class=O cx=219.9 cy=58.3 r=3.1 />
<circle class=P cx=175.9 cy=59.6 r=3.1 />
<circle class=P cx=181.1 cy=59.9 r=3.1 />
<circle class=N cx=215.1 cy=57.1 r=3.1 />
<circle class=N cx=220 cy=56.3 r=3.1 />
<circle class=T cx=135 cy=65.7 r=3.1 />
<circle class=N cx=205.5 cy=57.1 r=3.1 />
<circle class=P cx=229.6 cy=59.1 r=3.1 />
<circle class=N cx=275.9 cy=56.6 r=3.1 />
<circle class=M cx=251.1 cy=55.9 r=3.1 />
<circle class=L cx=320 cy=53.2 r=3.1 />
<circle class=S cx=148.5 cy=64.4 r=3.1 />
<circle class=N cx=191 cy=56.8 r=3.1 />
<circle class=N cx=290.1 cy=57.8 r=3.1 />
<circle class=M cx=262.7 cy=56 r=3.1 />
<circle class=Q cx=171.3 cy=61.5 r=3.1 />
<circle class=N cx=229.6 cy=57.1 r=3.1 />
<circle class=N cx=186.3 cy=58.3 r=3.1 />
<circle class=N cx=239.6 cy=58.3 r=3.1 />
<circle class=M cx=268.8 cy=56.2 r=3.1 />
<circle class=M cx=256.5 cy=55.8 r=3.1 />
</g>
<g class="o10">
<circle class=O cx=215 cy=59.1 r=3.1 />
<circle class=T cx=143.3 cy=67.1 r=3.1 />
<circle class=N cx=307 cy=57.2 r=3.1 />
<circle class=R cx=166.5 cy=63.5 r=3.1 />
<circle class=R cx=160.9 cy=63.6 r=3.1 />
<circle class=N cx=244.8 cy=58 r=3.1 />
<circle class=N cx=255.9 cy=57.9 r=3.1 />
<circle class=N cx=282 cy=57.1 r=3.1 />
<circle class=V cx=104.7 cy=70.6 r=3.1 />
<circle class=P cx=176.9 cy=61.6 r=3.1 />
<circle class=T cx=121.7 cy=67.6 r=3.1 />
<circle class=N cx=191.4 cy=58.8 r=3.1 />
<circle class=N cx=200.9 cy=58.1 r=3.1 />
<circle class=L cx=316.4 cy=55.8 r=3.1 />
<circle class=X cx=72.4 cy=74.5 r=3.1 />
<circle class=O cx=196.3 cy=59.4 r=3.1 />
<circle class=N cx=249.8 cy=57.9 r=3.1 />
<circle class=S cx=156.4 cy=65.9 r=3.1 />
<circle class=X cx=86.1 cy=74.5 r=3.1 />
<circle class=O cx=224.2 cy=59.6 r=3.1 />
<circle class=X cx=39.9 cy=75.1 r=3.1 />
<circle class=T cx=137.8 cy=67.6 r=3.1 />
<circle class=O cx=238.7 cy=60.2 r=3.1 />
<circle class=O cx=187 cy=60.2 r=3.1 />
<circle class=O cx=210.2 cy=59.9 r=3.1 />
<circle class=V cx=38 cy=72 r=3.1 />
<circle class=O cx=219.4 cy=60.2 r=3.1 />
<circle class=O cx=249 cy=59.9 r=3.1 />
<circle class=T cx=131.5 cy=68.5 r=3.1 />
<circle class=N cx=233.8 cy=58.5 r=3.1 />
<circle class=M cx=260.6 cy=58 r=3.1 />
<circle class=N cx=205.7 cy=58.9 r=3.1 />
<circle class=R cx=162.6 cy=65.5 r=3.1 />
<circle class=N cx=272.8 cy=58.7 r=3.1 />
<circle class=Y cx=76.4 cy=76.9 r=3.1 />
<circle class=T cx=36.2 cy=68.8 r=3.1 />
<circle class=N cx=279.4 cy=59.2 r=3.1 />
<circle class=N cx=243.5 cy=60 r=3.1 />
<circle class=M cx=313.1 cy=58.3 r=3.1 />
<circle class=M cx=266.3 cy=58.3 r=3.1 />
<circle class=T cx=139.7 cy=69.6 r=3.1 />
<circle class=O cx=192 cy=60.6 r=3.1 />
<circle class=N cx=259.6 cy=60 r=3.1 />
<circle class=R cx=34.3 cy=65.6 r=3.1 />
<circle class=Y cx=62.8 cy=77 r=3.1 />
<circle class=O cx=196.7 cy=61.2 r=3.1 />
<circle class=M cx=294.4 cy=58.5 r=3.1 />
<circle class=S cx=152.3 cy=68.1 r=3.1 />
<circle class=N cx=233.2 cy=60.4 r=3.1 />
<circle class=O cx=182.8 cy=61.7 r=3.1 />
<circle class=N cx=201.2 cy=60 r=3.1 />
<circle class=N cx=228.4 cy=60.8 r=3.1 />
<circle class=N cx=302.1 cy=59.5 r=3.1 />
<circle class=R cx=152 cy=66 r=3.1 />
<circle class=S cx=146.7 cy=68.7 r=3.1 />
<circle class=O cx=187.7 cy=62 r=3.1 />
<circle class=T cx=133.9 cy=70.4 r=3.1 />
<circle class=O cx=210.2 cy=61.7 r=3.1 />
<circle class=O cx=242.6 cy=61.8 r=3.1 />
<circle class=N cx=205.8 cy=60.8 r=3.1 />
<circle class=P cx=228.1 cy=62.7 r=3.1 />
<circle class=U cx=135.1 cy=72.5 r=3.1 />
<circle class=S cx=158.6 cy=67.5 r=3.1 />
<circle class=T cx=147.8 cy=70.7 r=3.1 />
<circle class=N cx=223.6 cy=61.3 r=3.1 />
<circle class=O cx=247.5 cy=61.7 r=3.1 />
<circle class=N cx=214.6 cy=60.8 r=3.1 />
<circle class=N cx=284.6 cy=59.8 r=3.1 />
<circle class=P cx=173.7 cy=63.1 r=3.1 />
<circle class=L cx=321.8 cy=57.1 r=3.1 />
<circle class=N cx=201.4 cy=61.8 r=3.1 />
<circle class=M cx=253 cy=59.8 r=3.1 />
<circle class=N cx=264.2 cy=60.2 r=3.1 />
<circle class=O cx=178.8 cy=63.2 r=3.1 />
<circle class=N cx=218.9 cy=61.9 r=3.1 />
<circle class=Q cx=169.3 cy=65 r=3.1 />
<circle class=N cx=291.3 cy=60.6 r=3.1 />
<circle class=N cx=276.3 cy=61.2 r=3.1 />
<circle class=O cx=183.7 cy=63.4 r=3.1 />
<circle class=T cx=142.8 cy=71.2 r=3.1 />
<circle class=M cx=269.7 cy=60.6 r=3.1 />
<circle class=O cx=223.2 cy=63.1 r=3.1 />
<circle class=N cx=298.5 cy=61.6 r=3.1 />
<circle class=N cx=205.9 cy=62.5 r=3.1 />
<circle class=O cx=241.4 cy=63.6 r=3.1 />
<circle class=S cx=154.9 cy=69.7 r=3.1 />
<circle class=N cx=192.8 cy=62.3 r=3.1 />
<circle class=N cx=257.2 cy=61.8 r=3.1 />
<circle class=N cx=214.5 cy=62.5 r=3.1 />
<circle class=Q cx=170.2 cy=66.8 r=3.1 />
<circle class=N cx=251.9 cy=61.7 r=3.1 />
<circle class=O cx=210.2 cy=63.4 r=3.1 />
<circle class=L cx=318.4 cy=59.5 r=3.1 />
<circle class=N cx=282.3 cy=61.8 r=3.1 />
<circle class=M cx=307.6 cy=60.5 r=3.1 />
<circle class=N cx=197.3 cy=62.8 r=3.1 />
<circle class=N cx=232.1 cy=62.1 r=3.1 />
<circle class=N cx=236.8 cy=61.8 r=3.1 />
<circle class=N cx=262.7 cy=62.1 r=3.1 />
<circle class=P cx=174.9 cy=64.8 r=3.1 />
<circle class=O cx=218.7 cy=63.6 r=3.1 />
<circle class=U cx=138.3 cy=74 r=3.1 />
<circle class=O cx=251 cy=63.5 r=3.1 />
<circle class=Q cx=165.5 cy=66.9 r=3.1 />
<circle class=O cx=188.7 cy=63.6 r=3.1 />
<circle class=O cx=231.7 cy=63.9 r=3.1 />
<circle class=T cx=144.7 cy=72.9 r=3.1 />
<circle class=X cx=71.9 cy=78.6 r=3.1 />
<circle class=R cx=161 cy=69 r=3.1 />
<circle class=N cx=288.3 cy=62.6 r=3.1 />
<circle class=N cx=267.8 cy=62.5 r=3.1 />
<circle class=O cx=313.8 cy=64.2 r=3.1 />
<circle class=M cx=315.2 cy=61.8 r=3.1 />
<circle class=O cx=222.7 cy=64.7 r=3.1 />
<circle class=U cx=32.5 cy=74.4 r=3.1 />
<circle class=T cx=151 cy=72 r=3.1 />
<circle class=N cx=193.3 cy=64 r=3.1 />
<circle class=Q cx=166.5 cy=68.6 r=3.1 />
<circle class=O cx=180.1 cy=64.8 r=3.1 />
<circle class=N cx=236 cy=63.6 r=3.1 />
<circle class=O cx=201.9 cy=65.2 r=3.1 />
<circle class=O cx=189.2 cy=65.3 r=3.1 />
<circle class=O cx=197.7 cy=64.5 r=3.1 />
<circle class=N cx=201.8 cy=63.3 r=3.1 />
<circle class=N cx=255.5 cy=63.6 r=3.1 />
<circle class=P cx=176 cy=66.5 r=3.1 />
<circle class=S cx=30.8 cy=71.3 r=3.1 />
<circle class=N cx=303.8 cy=62.6 r=3.1 />
<circle class=N cx=206 cy=64.1 r=3.1 />
<circle class=N cx=245.2 cy=63.3 r=3.1 />
<circle class=N cx=273 cy=63 r=3.1 />
<circle class=U cx=140.7 cy=75.6 r=3.1 />
<circle class=U cx=146.7 cy=74.6 r=3.1 />
<circle class=O cx=240.1 cy=65.2 r=3.1 />
<circle class=O cx=184.9 cy=64.9 r=3.1 />
<circle class=O cx=193.6 cy=65.7 r=3.1 />
<circle class=P cx=180.7 cy=66.5 r=3.1 />
<circle class=N cx=279.2 cy=63.7 r=3.1 />
<circle class=O cx=231 cy=65.6 r=3.1 />
<circle class=N cx=214.2 cy=64.1 r=3.1 />
<circle class=N cx=210.1 cy=64.9 r=3.1 />
<circle class=P cx=185.4 cy=66.6 r=3.1 />
<circle class=N cx=226.7 cy=64.1 r=3.1 />
<circle class=P cx=202 cy=66.8 r=3.1 />
<circle class=P cx=189.7 cy=66.9 r=3.1 />
<circle class=R cx=157.7 cy=71 r=3.1 />
<circle class=N cx=260.1 cy=63.8 r=3.1 />
<circle class=O cx=214.1 cy=65.8 r=3.1 />
<circle class=N cx=218.2 cy=65.1 r=3.1 />
<circle class=P cx=172.2 cy=68.2 r=3.1 />
<circle class=N cx=249.2 cy=65.1 r=3.1 />
<circle class=V cx=142.5 cy=77.3 r=3.1 />
<circle class=M cx=293.2 cy=63.5 r=3.1 />
<circle class=O cx=206.1 cy=65.7 r=3.1 />
<circle class=L cx=323.4 cy=60.8 r=3.1 />
<circle class=P cx=218.1 cy=66.8 r=3.1 />
<circle class=O cx=222.2 cy=66.2 r=3.1 />
<circle class=N cx=259.2 cy=65.6 r=3.1 />
<circle class=P cx=226.2 cy=67.6 r=3.1 />
<circle class=P cx=181.6 cy=68.1 r=3.1 />
<circle class=O cx=243.7 cy=66.8 r=3.1 />
<circle class=N cx=271 cy=64.8 r=3.1 />
<circle class=N cx=244.1 cy=64.9 r=3.1 />
<circle class=P cx=177.1 cy=68 r=3.1 />
<circle class=N cx=300.4 cy=64.7 r=3.1 />
<circle class=N cx=226.3 cy=65.7 r=3.1 />
<circle class=S cx=153.6 cy=73.4 r=3.1 />
<circle class=O cx=210.1 cy=66.5 r=3.1 />
<circle class=N cx=284.1 cy=64.4 r=3.1 />
<circle class=M cx=264.8 cy=64.1 r=3.1 />
<circle class=O cx=253.1 cy=67 r=3.1 />
<circle class=Q cx=163.6 cy=70.3 r=3.1 />
<circle class=N cx=234.7 cy=65 r=3.1 />
<circle class=O cx=194.2 cy=67.1 r=3.1 />
<circle class=L cx=320.1 cy=63.1 r=3.1 />
<circle class=Q cx=173.3 cy=69.8 r=3.1 />
<circle class=N cx=198.2 cy=65.9 r=3.1 />
<circle class=W cx=66.1 cy=80.7 r=3.1 />
<circle class=O cx=234.3 cy=66.8 r=3.1 />
<circle class=P cx=202.3 cy=68.3 r=3.1 />
<circle class=O cx=230.1 cy=67 r=3.1 />
<circle class=Q cx=177.9 cy=69.7 r=3.1 />
<circle class=N cx=238.6 cy=66.6 r=3.1 />
<circle class=N cx=290.3 cy=65.4 r=3.1 />
<circle class=N cx=275.9 cy=65.4 r=3.1 />
<circle class=O cx=198.4 cy=67.6 r=3.1 />
<circle class=N cx=253 cy=65.1 r=3.1 />
<circle class=Q cx=169 cy=69.8 r=3.1 />
<circle class=P cx=206.2 cy=68.9 r=3.1 />
<circle class=O cx=257.5 cy=67.2 r=3.1 />
<circle class=R cx=160 cy=72.4 r=3.1 />
<circle class=N cx=317 cy=65.3 r=3.1 />
<circle class=Q cx=165 cy=71.8 r=3.1 />
<circle class=O cx=190.6 cy=68.3 r=3.1 />
<circle class=O cx=221.6 cy=67.6 r=3.1 />
<circle class=N cx=263 cy=65.8 r=3.1 />
<circle class=O cx=186.6 cy=67.9 r=3.1 />
<circle class=N cx=213.9 cy=67.1 r=3.1 />
<circle class=N cx=206.2 cy=67.1 r=3.1 />
<circle class=T cx=150.4 cy=75.5 r=3.1 />
<circle class=N cx=306 cy=65.8 r=3.1 />
<circle class=O cx=246.7 cy=68.3 r=3.1 />
<circle class=O cx=194.7 cy=68.6 r=3.1 />
<circle class=P cx=210 cy=69.6 r=3.1 />
<circle class=P cx=187 cy=69.6 r=3.1 />
<circle class=N cx=262 cy=67.6 r=3.1 />
<circle class=O cx=233.5 cy=68.2 r=3.1 />
<circle class=P cx=182.9 cy=69.4 r=3.1 />
<circle class=P cx=229.1 cy=70.2 r=3.1 />
<circle class=N cx=273.7 cy=67.1 r=3.1 />
<circle class=P cx=202.5 cy=69.6 r=3.1 />
<circle class=N cx=217.6 cy=68 r=3.1 />
<circle class=Q cx=183.3 cy=71.1 r=3.1 />
<circle class=N cx=210 cy=67.8 r=3.1 />
<circle class=N cx=287.3 cy=67.1 r=3.1 />
<circle class=O cx=225.3 cy=68.7 r=3.1 />
<circle class=P cx=191.1 cy=69.8 r=3.1 />
<circle class=O cx=198.7 cy=69 r=3.1 />
<circle class=N cx=241.9 cy=68.1 r=3.1 />
<circle class=U cx=146.5 cy=78.1 r=3.1 />
<circle class=N cx=246.8 cy=66.4 r=3.1 />
<circle class=O cx=221.3 cy=69.2 r=3.1 />
<circle class=P cx=195 cy=70.2 r=3.1 />
<circle class=M cx=267.6 cy=66.2 r=3.1 />
<circle class=S cx=156.6 cy=74.4 r=3.1 />
<circle class=P cx=170.5 cy=71.2 r=3.1 />
<circle class=N cx=229.2 cy=68.3 r=3.1 />
<circle class=N cx=237.4 cy=68 r=3.1 />
<circle class=M cx=280.3 cy=66 r=3.1 />
<circle class=Q cx=166.4 cy=73.3 r=3.1 />
<circle class=Q cx=195.3 cy=71.8 r=3.1 />
<circle class=Q cx=162 cy=73.6 r=3.1 />
<circle class=P cx=179.5 cy=70.8 r=3.1 />
<circle class=N cx=213.7 cy=68.5 r=3.1 />
<circle class=S cx=157.8 cy=76 r=3.1 />
<circle class=O cx=232.7 cy=69.7 r=3.1 />
<circle class=L cx=325 cy=64.6 r=3.1 />
<circle class=Q cx=175.7 cy=72.6 r=3.1 />
<circle class=P cx=199 cy=70.5 r=3.1 />
<circle class=Q cx=26.3 cy=73.8 r=3.1 />
<circle class=P cx=187.7 cy=71 r=3.1 />
<circle class=P cx=202.7 cy=71.1 r=3.1 />
<circle class=O cx=236.8 cy=69.6 r=3.1 />
<circle class=O cx=217.4 cy=69.5 r=3.1 />
<circle class=Q cx=171.5 cy=72.7 r=3.1 />
<circle class=P cx=210 cy=70.9 r=3.1 />
<circle class=N cx=250.3 cy=68.2 r=3.1 />
<circle class=N cx=278.3 cy=67.7 r=3.1 />
<circle class=P cx=191.7 cy=71.2 r=3.1 />
<circle class=N cx=254.9 cy=68.5 r=3.1 />
<circle class=N cx=265.6 cy=67.8 r=3.1 />
<circle class=N cx=271.1 cy=68.6 r=3.1 />
<circle class=M cx=301.1 cy=67.5 r=3.1 />
<circle class=L cx=293.3 cy=66.1 r=3.1 />
<circle class=P cx=199.2 cy=72 r=3.1 />
<circle class=O cx=175.7 cy=70.7 r=3.1 />
<circle class=R cx=163.3 cy=75.1 r=3.1 />
<circle class=N cx=240.6 cy=69.4 r=3.1 />
<circle class=M cx=321.8 cy=66.7 r=3.1 />
<circle class=O cx=220.9 cy=70.5 r=3.1 />
<circle class=P cx=224.4 cy=71.7 r=3.1 />
<circle class=P cx=184.3 cy=72.3 r=3.1 />
<circle class=O cx=224.6 cy=70 r=3.1 />
<circle class=P cx=180.4 cy=72.2 r=3.1 />
<circle class=T cx=149.2 cy=79.2 r=3.1 />
<circle class=O cx=258.7 cy=70.6 r=3.1 />
<circle class=S cx=153.7 cy=76.4 r=3.1 />
<circle class=N cx=206.4 cy=69.8 r=3.1 />
<circle class=N cx=308.7 cy=69.1 r=3.1 />
<circle class=Q cx=206.5 cy=73.1 r=3.1 />
<circle class=P cx=188.3 cy=72.4 r=3.1 />
<circle class=N cx=259.2 cy=68.8 r=3.1 />
<circle class=P cx=206.4 cy=71.4 r=3.1 />
<circle class=N cx=213.6 cy=69.9 r=3.1 />
<circle class=Q cx=168.2 cy=74.5 r=3.1 />
</g>
<g class="o11">
<circle class=M cx=291.4 cy=67.9 r=3.1 />
<circle class=N cx=244.5 cy=69.4 r=3.1 />
<circle class=k1 cx=29.4 cy=92 r=3.1 />
<circle class=Q cx=184.9 cy=73.8 r=3.1 />
<circle class=N cx=318.7 cy=68.8 r=3.1 />
<circle class=M cx=283 cy=68.5 r=3.1 />
<circle class=O cx=217 cy=70.7 r=3.1 />
<circle class=Q cx=177 cy=73.8 r=3.1 />
<circle class=Q cx=181.1 cy=73.7 r=3.1 />
<circle class=P cx=196 cy=72.8 r=3.1 />
<circle class=P cx=199.5 cy=73.3 r=3.1 />
<circle class=O cx=220.5 cy=71.8 r=3.1 />
<circle class=N cx=235.6 cy=70.8 r=3.1 />
<circle class=U cx=145.7 cy=81.8 r=3.1 />
<circle class=N cx=231.7 cy=70.9 r=3.1 />
<circle class=N cx=316.2 cy=70.8 r=3.1 />
<circle class=Q cx=173.1 cy=73.8 r=3.1 />
<circle class=N cx=239.6 cy=70.7 r=3.1 />
<circle class=N cx=253 cy=69.8 r=3.1 />
<circle class=O cx=213.4 cy=71.3 r=3.1 />
<circle class=N cx=263.4 cy=69.2 r=3.1 />
<circle class=Y cx=28 cy=88.9 r=3.1 />
<circle class=O cx=235.1 cy=72.3 r=3.1 />
<circle class=O cx=203 cy=72.1 r=3.1 />
<circle class=M cx=275.1 cy=69.1 r=3.1 />
<circle class=O cx=216.9 cy=72.2 r=3.1 />
<circle class=S cx=155.6 cy=77.7 r=3.1 />
<circle class=P cx=189 cy=73.7 r=3.1 />
<circle class=N cx=248.3 cy=69.4 r=3.1 />
<circle class=O cx=192.5 cy=72.2 r=3.1 />
<circle class=R cx=165.2 cy=76.2 r=3.1 />
<circle class=N cx=262.4 cy=70.9 r=3.1 />
<circle class=Q cx=173.8 cy=75.4 r=3.1 />
<circle class=N cx=280.9 cy=70.2 r=3.1 />
<circle class=R cx=160.7 cy=76.8 r=3.1 />
<circle class=N cx=268.4 cy=69.9 r=3.1 />
<circle class=O cx=209.9 cy=71.9 r=3.1 />
<circle class=N cx=252.2 cy=71.4 r=3.1 />
<circle class=P cx=192.7 cy=73.8 r=3.1 />
<circle class=N cx=227.6 cy=70.9 r=3.1 />
<circle class=M cx=296.7 cy=69.1 r=3.1 />
<circle class=M cx=288.3 cy=69.5 r=3.1 />
<circle class=Q cx=185.7 cy=75 r=3.1 />
<circle class=W cx=26.6 cy=85.8 r=3.1 />
<circle class=K cx=329.8 cy=66.1 r=3.1 />
<circle class=O cx=227.3 cy=72.4 r=3.1 />
<circle class=k1 cx=37.8 cy=93.6 r=3.1 />
<circle class=O cx=231 cy=72.2 r=3.1 />
<circle class=O cx=223.7 cy=72.7 r=3.1 />
<circle class=O cx=213.3 cy=72.6 r=3.1 />
<circle class=N cx=247.3 cy=70.9 r=3.1 />
<circle class=P cx=209.9 cy=73.3 r=3.1 />
<circle class=P cx=182.2 cy=74.8 r=3.1 />
<circle class=N cx=303.5 cy=70.6 r=3.1 />
<circle class=R cx=170.7 cy=77.1 r=3.1 />
<circle class=S cx=157.3 cy=79 r=3.1 />
<circle class=P cx=213.2 cy=74.1 r=3.1 />
<circle class=N cx=238.5 cy=72 r=3.1 />
<circle class=O cx=216.6 cy=73.5 r=3.1 />
<circle class=P cx=178.4 cy=74.8 r=3.1 />
<circle class=N cx=242.8 cy=70.5 r=3.1 />
<circle class=O cx=220 cy=72.9 r=3.1 />
<circle class=L cx=326.6 cy=68.3 r=3.1 />
<circle class=U cx=25.2 cy=82.7 r=3.1 />
<circle class=S cx=152.7 cy=79.9 r=3.1 />
<circle class=O cx=203.3 cy=73.3 r=3.1 />
<circle class=P cx=170.5 cy=75.3 r=3.1 />
<circle class=R cx=166.7 cy=77.4 r=3.1 />
<circle class=P cx=206.6 cy=73.9 r=3.1 />
<circle class=N cx=293.8 cy=70.7 r=3.1 />
<circle class=Q cx=179 cy=76.3 r=3.1 />
<circle class=P cx=223.3 cy=74 r=3.1 />
<circle class=Q cx=182.8 cy=76.2 r=3.1 />
<circle class=O cx=226.8 cy=73.7 r=3.1 />
<circle class=P cx=203.3 cy=74.8 r=3.1 />
<circle class=N cx=242.2 cy=72 r=3.1 />
<circle class=P cx=189.8 cy=74.8 r=3.1 />
<circle class=R cx=162.5 cy=78 r=3.1 />
<circle class=N cx=250.6 cy=72.7 r=3.1 />
<circle class=O cx=265.4 cy=73 r=3.1 />
<circle class=P cx=209.9 cy=74.6 r=3.1 />
<circle class=O cx=196.6 cy=73.7 r=3.1 />
<circle class=O cx=230.3 cy=73.5 r=3.1 />
<circle class=Q cx=200.1 cy=75.8 r=3.1 />
<circle class=N cx=255.5 cy=71.5 r=3.1 />
<circle class=M cx=323.5 cy=70.3 r=3.1 />
<circle class=Q cx=219.7 cy=75.9 r=3.1 />
<circle class=N cx=285.1 cy=71 r=3.1 />
<circle class=O cx=234 cy=73.4 r=3.1 />
<circle class=P cx=196.8 cy=75.2 r=3.1 />
<circle class=M cx=272 cy=70.4 r=3.1 />
<circle class=T cx=149.1 cy=82.4 r=3.1 />
<circle class=Q cx=193.6 cy=76.4 r=3.1 />
<circle class=P cx=230 cy=75 r=3.1 />
<circle class=P cx=216.4 cy=74.8 r=3.1 />
<circle class=N cx=265.7 cy=71.2 r=3.1 />
<circle class=P cx=213.1 cy=75.3 r=3.1 />
<circle class=S cx=23.8 cy=79.6 r=3.1 />
<circle class=N cx=277.6 cy=71.4 r=3.1 />
<circle class=N cx=260 cy=72 r=3.1 />
<circle class=O cx=241.5 cy=73.5 r=3.1 />
<circle class=N cx=245.9 cy=72.1 r=3.1 />
<circle class=O cx=200.1 cy=74 r=3.1 />
<circle class=P cx=226.4 cy=75.1 r=3.1 />
<circle class=P cx=190.2 cy=76.1 r=3.1 />
<circle class=N cx=300 cy=72.2 r=3.1 />
<circle class=N cx=237.5 cy=73.3 r=3.1 />
<circle class=N cx=309.7 cy=72.2 r=3.1 />
<circle class=N cx=283.4 cy=72.7 r=3.1 />
<circle class=P cx=216.3 cy=76.2 r=3.1 />
<circle class=S cx=154.6 cy=81 r=3.1 />
<circle class=S cx=159.3 cy=80.1 r=3.1 />
<circle class=P cx=175.7 cy=76.2 r=3.1 />
<circle class=N cx=320.3 cy=72.3 r=3.1 />
<circle class=Q cx=176.1 cy=77.8 r=3.1 />
<circle class=O cx=219.6 cy=74 r=3.1 />
<circle class=N cx=290.8 cy=72.3 r=3.1 />
<circle class=O cx=193.6 cy=74.6 r=3.1 />
<circle class=Q cx=206.7 cy=76.6 r=3.1 />
<circle class=O cx=206.7 cy=75 r=3.1 />
<circle class=Q cx=222.6 cy=76.7 r=3.1 />
<circle class=Q cx=183.7 cy=77.3 r=3.1 />
<circle class=M cx=270.1 cy=71.9 r=3.1 />
<circle class=O cx=222.8 cy=75.1 r=3.1 />
<circle class=P cx=203.6 cy=75.9 r=3.1 />
<circle class=R cx=164.2 cy=79.1 r=3.1 />
<circle class=Q cx=180.2 cy=77.3 r=3.1 />
<circle class=P cx=209.9 cy=75.6 r=3.1 />
<circle class=P cx=213 cy=76.5 r=3.1 />
<circle class=Q cx=168.6 cy=78.3 r=3.1 />
<circle class=N cx=275.4 cy=72.9 r=3.1 />
<circle class=P cx=187.1 cy=75.6 r=3.1 />
<circle class=Q cx=194.1 cy=77.6 r=3.1 />
<circle class=P cx=236.3 cy=76.1 r=3.1 />
<circle class=O cx=236.7 cy=74.5 r=3.1 />
<circle class=N cx=244.8 cy=73.3 r=3.1 />
<circle class=Q cx=187.4 cy=77.1 r=3.1 />
<circle class=P cx=219.3 cy=76.9 r=3.1 />
<circle class=N cx=248.8 cy=73.7 r=3.1 />
<circle class=k0 cx=49.4 cy=94 r=3.1 />
<circle class=O cx=240.4 cy=74.6 r=3.1 />
<circle class=N cx=233 cy=74.4 r=3.1 />
<circle class=P cx=190.9 cy=77.2 r=3.1 />
<circle class=N cx=253.6 cy=72.6 r=3.1 />
<circle class=P cx=200.5 cy=76.7 r=3.1 />
<circle class=P cx=209.9 cy=77.1 r=3.1 />
<circle class=P cx=197.3 cy=76.2 r=3.1 />
<circle class=k2 cx=28.6 cy=97.4 r=3.1 />
<circle class=P cx=225.7 cy=76.1 r=3.1 />
<circle class=P cx=228.8 cy=77.4 r=3.1 />
<circle class=N cx=257.7 cy=73.1 r=3.1 />
<circle class=O cx=229 cy=75.9 r=3.1 />
<circle class=R cx=165.5 cy=80.3 r=3.1 />
<circle class=P cx=203.7 cy=77 r=3.1 />
<circle class=N cx=315.6 cy=73.8 r=3.1 />
<circle class=P cx=173.2 cy=77.5 r=3.1 />
<circle class=k0 cx=25.6 cy=94.7 r=3.1 />
<circle class=N cx=268 cy=73.2 r=3.1 />
<circle class=K cx=331.5 cy=70 r=3.1 />
<circle class=P cx=222.1 cy=77.8 r=3.1 />
<circle class=Q cx=200.7 cy=78 r=3.1 />
<circle class=N cx=295.6 cy=73.5 r=3.1 />
<circle class=Q cx=184.7 cy=78.3 r=3.1 />
<circle class=N cx=262 cy=73.8 r=3.1 />
<circle class=S cx=157.3 cy=81.8 r=3.1 />
<circle class=Q cx=177.7 cy=78.6 r=3.1 />
<circle class=P cx=197.7 cy=77.4 r=3.1 />
<circle class=k2 cx=35.3 cy=99.1 r=3.1 />
<circle class=N cx=279.5 cy=73.7 r=3.1 />
<circle class=P cx=231.9 cy=77.1 r=3.1 />
<circle class=S cx=152.7 cy=82.8 r=3.1 />
<circle class=P cx=215.9 cy=76.9 r=3.1 />
<circle class=P cx=225.2 cy=77.3 r=3.1 />
<circle class=L cx=328.2 cy=72 r=3.1 />
<circle class=N cx=256.4 cy=74.5 r=3.1 />
<circle class=P cx=206.8 cy=77.4 r=3.1 />
<circle class=Q cx=194.7 cy=78.5 r=3.1 />
<circle class=N cx=232.1 cy=75.5 r=3.1 />
<circle class=N cx=243.4 cy=74.4 r=3.1 />
<circle class=P cx=191.5 cy=78.2 r=3.1 />
<circle class=N cx=272.6 cy=74 r=3.1 />
<circle class=P cx=212.8 cy=77.4 r=3.1 />
<circle class=X cx=24.3 cy=91.6 r=3.1 />
<circle class=N cx=260.8 cy=75.2 r=3.1 />
<circle class=O cx=260.1 cy=76.8 r=3.1 />
<circle class=M cx=303.4 cy=73.3 r=3.1 />
<circle class=Q cx=162.2 cy=80.5 r=3.1 />
<circle class=P cx=218.8 cy=77.8 r=3.1 />
<circle class=P cx=181.6 cy=78.1 r=3.1 />
<circle class=P cx=215.8 cy=78.3 r=3.1 />
<circle class=P cx=188.4 cy=78 r=3.1 />
<circle class=M cx=251.7 cy=73.7 r=3.1 />
<circle class=M cx=325.2 cy=73.9 r=3.1 />
<circle class=M cx=286 cy=73.2 r=3.1 />
<circle class=P cx=209.8 cy=77.9 r=3.1 />
<circle class=O cx=238.6 cy=77.1 r=3.1 />
<circle class=Q cx=221.6 cy=80.4 r=3.1 />
<circle class=P cx=224.8 cy=78.5 r=3.1 />
<circle class=P cx=174.5 cy=78.5 r=3.1 />
<circle class=Q cx=170.7 cy=79 r=3.1 />
<circle class=P cx=203.9 cy=78 r=3.1 />
<circle class=N cx=250.9 cy=75.1 r=3.1 />
<circle class=N cx=265.8 cy=74.3 r=3.1 />
<circle class=P cx=221.7 cy=78.7 r=3.1 />
<circle class=N cx=238.8 cy=75.4 r=3.1 />
<circle class=P cx=228 cy=78.3 r=3.1 />
<circle class=P cx=212.7 cy=78.7 r=3.1 />
<circle class=N cx=242.4 cy=75.7 r=3.1 />
<circle class=P cx=198 cy=78.5 r=3.1 />
<circle class=Q cx=171.3 cy=80.4 r=3.1 />
<circle class=P cx=231.2 cy=78.2 r=3.1 />
<circle class=P cx=206.9 cy=78.5 r=3.1 />
<circle class=P cx=218.6 cy=79 r=3.1 />
<circle class=N cx=246.7 cy=74.5 r=3.1 />
<circle class=Q cx=215.6 cy=79.5 r=3.1 />
<circle class=N cx=277.1 cy=75 r=3.1 />
<circle class=Q cx=212.7 cy=80.1 r=3.1 />
<circle class=N cx=322 cy=75.8 r=3.1 />
<circle class=V cx=23 cy=88.5 r=3.1 />
<circle class=T cx=149.9 cy=85.1 r=3.1 />
<circle class=N cx=254.8 cy=75.6 r=3.1 />
<circle class=P cx=182.3 cy=79.3 r=3.1 />
<circle class=R cx=163.5 cy=81.7 r=3.1 />
<circle class=N cx=284 cy=74.7 r=3.1 />
<circle class=Q cx=175.3 cy=79.8 r=3.1 />
<circle class=P cx=204 cy=79.3 r=3.1 />
<circle class=P cx=195.2 cy=79.4 r=3.1 />
<circle class=P cx=185.8 cy=79.1 r=3.1 />
<circle class=Q cx=218.4 cy=80.4 r=3.1 />
<circle class=N cx=234.6 cy=76.5 r=3.1 />
<circle class=P cx=179 cy=79.4 r=3.1 />
<circle class=Q cx=198.3 cy=79.7 r=3.1 />
<circle class=P cx=189.1 cy=79 r=3.1 />
<circle class=S cx=155.1 cy=83.6 r=3.1 />
<circle class=P cx=227.4 cy=79.5 r=3.1 />
<circle class=Q cx=168 cy=80.7 r=3.1 />
<circle class=N cx=245.8 cy=75.8 r=3.1 />
<circle class=N cx=264.2 cy=75.6 r=3.1 />
<circle class=O cx=234.2 cy=77.9 r=3.1 />
<circle class=P cx=192.3 cy=79 r=3.1 />
<circle class=Q cx=186.2 cy=80.4 r=3.1 />
<circle class=P cx=201.2 cy=78.5 r=3.1 />
<circle class=P cx=230.5 cy=79.3 r=3.1 />
<circle class=N cx=241.4 cy=76.8 r=3.1 />
<circle class=P cx=233.8 cy=79.4 r=3.1 />
<circle class=Q cx=183 cy=80.5 r=3.1 />
<circle class=P cx=209.8 cy=78.8 r=3.1 />
<circle class=P cx=224.2 cy=79.5 r=3.1 />
<circle class=T cx=21.7 cy=85.4 r=3.1 />
<circle class=R cx=160 cy=82.2 r=3.1 />
<circle class=Q cx=195.6 cy=80.7 r=3.1 />
<circle class=M cx=269.5 cy=75 r=3.1 />
<circle class=Q cx=189.5 cy=80.3 r=3.1 />
<circle class=Q cx=212.5 cy=81.1 r=3.1 />
<circle class=Q cx=176.3 cy=80.9 r=3.1 />
<circle class=P cx=207 cy=79.5 r=3.1 />
<circle class=Q cx=221 cy=81.1 r=3.1 />
<circle class=N cx=253.3 cy=76.7 r=3.1 />
<circle class=N cx=317.5 cy=77.2 r=3.1 />
<circle class=N cx=288.8 cy=76 r=3.1 />
<circle class=P cx=204.2 cy=80.3 r=3.1 />
<circle class=K cx=336.4 cy=71.8 r=3.1 />
<circle class=L cx=289.8 cy=74.2 r=3.1 />
<circle class=N cx=262.5 cy=76.8 r=3.1 />
<circle class=Q cx=198.6 cy=80.7 r=3.1 />
<circle class=P cx=215.3 cy=80.3 r=3.1 />
<circle class=P cx=226.9 cy=80.5 r=3.1 />
<circle class=N cx=249 cy=75.9 r=3.1 />
<circle class=T cx=152.4 cy=85.9 r=3.1 />
<circle class=P cx=236.7 cy=79.2 r=3.1 />
<circle class=O cx=240.6 cy=78 r=3.1 />
<circle class=Q cx=193 cy=81.6 r=3.1 />
<circle class=N cx=296.6 cy=76.1 r=3.1 />
<circle class=P cx=201.4 cy=79.6 r=3.1 />
<circle class=P cx=209.8 cy=80 r=3.1 />
<circle class=N cx=244.5 cy=76.8 r=3.1 />
<circle class=M cx=274 cy=76 r=3.1 />
<circle class=P cx=180.2 cy=80.2 r=3.1 />
<circle class=Q cx=20.4 cy=82.2 r=3.1 />
<circle class=Q cx=215.2 cy=81.7 r=3.1 />
<circle class=L cx=297.6 cy=74.2 r=3.1 />
<circle class=Q cx=187 cy=81.4 r=3.1 />
<circle class=k0 cx=48.5 cy=98.8 r=3.1 />
<circle class=Q cx=165.6 cy=82.4 r=3.1 />
<circle class=P cx=192.9 cy=80 r=3.1 />
<circle class=P cx=223.8 cy=80.5 r=3.1 />
<circle class=Q cx=169.5 cy=81.6 r=3.1 />
<circle class=Q cx=218 cy=81.1 r=3.1 />
<circle class=N cx=248.2 cy=77.3 r=3.1 />
<circle class=P cx=207 cy=80.6 r=3.1 />
<circle class=Q cx=180.7 cy=81.6 r=3.1 />
<circle class=N cx=256.9 cy=77.2 r=3.1 />
<circle class=S cx=157.4 cy=84.3 r=3.1 />
<circle class=Q cx=209.8 cy=81.3 r=3.1 />
<circle class=k2 cx=108.2 cy=100.9 r=3.1 />
<circle class=P cx=173.3 cy=80.9 r=3.1 />
<circle class=N cx=236.8 cy=77.5 r=3.1 />
<circle class=Q cx=184 cy=81.4 r=3.1 />
<circle class=N cx=243.8 cy=78.2 r=3.1 />
<circle class=Q cx=217.8 cy=82.5 r=3.1 />
<circle class=Q cx=190.2 cy=81.2 r=3.1 />
<circle class=O cx=239.8 cy=79.2 r=3.1 />
<circle class=Q cx=161.9 cy=83.1 r=3.1 />
<circle class=M cx=267.3 cy=76.1 r=3.1 />
<circle class=M cx=280 cy=75.6 r=3.1 />
<circle class=Q cx=177.5 cy=81.8 r=3.1 />
<circle class=k0 cx=74.3 cy=98.8 r=3.1 />
<circle class=Q cx=207.1 cy=81.9 r=3.1 />
<circle class=N cx=266.3 cy=77.6 r=3.1 />
<circle class=N cx=272.2 cy=77.3 r=3.1 />
<circle class=Q cx=226.3 cy=81.6 r=3.1 />
<circle class=N cx=247.3 cy=78.5 r=3.1 />
<circle class=N cx=278.5 cy=77.1 r=3.1 />
<circle class=k1 cx=77.9 cy=100.4 r=3.1 />
<circle class=P cx=201.7 cy=80.6 r=3.1 />
<circle class=P cx=235.8 cy=80.2 r=3.1 />
<circle class=Q cx=174.2 cy=82.1 r=3.1 />
<circle class=k8 cx=155.9 cy=112 r=3.1 />
<circle class=O cx=229.5 cy=79.9 r=3.1 />
<circle class=Q cx=212.4 cy=81.8 r=3.1 />
<circle class=O cx=232.6 cy=80 r=3.1 />
<circle class=P cx=204.4 cy=81.1 r=3.1 />
<circle class=k0 cx=54.7 cy=100.2 r=3.1 />
<circle class=Q cx=201.8 cy=82 r=3.1 />
<circle class=Q cx=209.7 cy=82.4 r=3.1 />
<circle class=N cx=270.9 cy=78.7 r=3.1 />
<circle class=k1 cx=23.7 cy=100.5 r=3.1 />
<circle class=N cx=293.3 cy=77.3 r=3.1 />
<circle class=Q cx=187.8 cy=82.3 r=3.1 />
<circle class=P cx=229.1 cy=81.3 r=3.1 />
<circle class=Q cx=181.6 cy=82.6 r=3.1 />
<circle class=P cx=223.3 cy=81.5 r=3.1 />
<circle class=S cx=154.8 cy=86.6 r=3.1 />
<circle class=N cx=251.2 cy=77.5 r=3.1 />
<circle class=P cx=220.4 cy=81.7 r=3.1 />
<circle class=N cx=260.2 cy=77.7 r=3.1 />
<circle class=k8 cx=152.9 cy=112.6 r=3.1 />
<circle class=Q cx=171.1 cy=82.4 r=3.1 />
<circle class=Q cx=175.1 cy=83.3 r=3.1 />
<circle class=k4 cx=170.2 cy=106.8 r=3.1 />
<circle class=Q cx=223 cy=82.8 r=3.1 />
<circle class=P cx=190.9 cy=82.1 r=3.1 />
<circle class=k1 cx=59.8 cy=101.6 r=3.1 />
<circle class=N cx=250.4 cy=78.8 r=3.1 />
<circle class=R cx=159.6 cy=85 r=3.1 />
<circle class=P cx=196.4 cy=80.9 r=3.1 />
<circle class=Q cx=163.7 cy=83.9 r=3.1 />
<circle class=k1 cx=112.9 cy=101.2 r=3.1 />
<circle class=Q cx=167.7 cy=83 r=3.1 />
<circle class=k8 cx=153.1 cy=112.1 r=3.1 />
<circle class=M cx=284.2 cy=76.7 r=3.1 />
<circle class=Q cx=220.1 cy=82.8 r=3.1 />
<circle class=Q cx=217.5 cy=83.2 r=3.1 />
<circle class=N cx=242.3 cy=78.9 r=3.1 />
<circle class=P cx=214.9 cy=82.2 r=3.1 />
<circle class=P cx=231.8 cy=80.9 r=3.1 />
<circle class=P cx=196.6 cy=82.2 r=3.1 />
<circle class=P cx=185.1 cy=82 r=3.1 />
<circle class=P cx=199.2 cy=81.1 r=3.1 />
<circle class=T cx=151 cy=87.6 r=3.1 />
<circle class=P cx=204.6 cy=82 r=3.1 />
<circle class=Q cx=212.3 cy=82.7 r=3.1 />
<circle class=Y cx=22.5 cy=97.4 r=3.1 />
<circle class=S cx=160.6 cy=86.3 r=3.1 />
<circle class=P cx=228.5 cy=82.3 r=3.1 />
<circle class=k3 cx=166 cy=105.4 r=3.1 />
<circle class=k4 cx=172.4 cy=105.7 r=3.1 />
<circle class=P cx=225.6 cy=82.3 r=3.1 />
<circle class=N cx=322.1 cy=79 r=3.1 />
<circle class=k2 cx=36.3 cy=103.8 r=3.1 />
<circle class=N cx=282.6 cy=78.2 r=3.1 />
<circle class=k5 cx=171.6 cy=107.9 r=3.1 />
<circle class=Q cx=191.4 cy=83.2 r=3.1 />
<circle class=Q cx=209.7 cy=83.2 r=3.1 />
<circle class=Q cx=202 cy=82.8 r=3.1 />
<circle class=P cx=199.4 cy=82.4 r=3.1 />
<circle class=N cx=245.6 cy=79.3 r=3.1 />
<circle class=P cx=194 cy=81.8 r=3.1 />
<circle class=P cx=207.2 cy=82.5 r=3.1 />
<circle class=N cx=238.3 cy=79.7 r=3.1 />
<circle class=Q cx=168.7 cy=84.1 r=3.1 />
<circle class=Q cx=214.8 cy=83.4 r=3.1 />
<circle class=k0 cx=84.5 cy=100.8 r=3.1 />
<circle class=N cx=263.6 cy=78.3 r=3.1 />
<circle class=Q cx=165.1 cy=84.9 r=3.1 />
<circle class=N cx=253.5 cy=79.1 r=3.1 />
<circle class=P cx=179.1 cy=82.2 r=3.1 />
<circle class=Q cx=172.4 cy=83.3 r=3.1 />
<circle class=N cx=241.5 cy=80 r=3.1 />
<circle class=Q cx=182.7 cy=83.3 r=3.1 />
<circle class=N cx=258.2 cy=78.6 r=3.1 />
<circle class=O cx=244.8 cy=80.5 r=3.1 />
<circle class=k9 cx=164.6 cy=114.9 r=3.1 />
<circle class=Q cx=225.2 cy=83.4 r=3.1 />
<circle class=Q cx=222.4 cy=83.5 r=3.1 />
<circle class=Q cx=176.5 cy=84 r=3.1 />
<circle class=P cx=204.7 cy=83 r=3.1 />
<circle class=P cx=194.3 cy=83 r=3.1 />
<circle class=M cx=274.9 cy=77.8 r=3.1 />
<circle class=Q cx=179.7 cy=83.5 r=3.1 />
<circle class=M cx=253.8 cy=77.5 r=3.1 />
<circle class=N cx=262.4 cy=79.6 r=3.1 />
<circle class=W cx=21.3 cy=94.3 r=3.1 />
<circle class=O cx=237.5 cy=80.9 r=3.1 />
<circle class=k4 cx=172.1 cy=106.7 r=3.1 />
<circle class=N cx=267.7 cy=79.3 r=3.1 />
<circle class=M cx=288.8 cy=78.1 r=3.1 />
<circle class=P cx=188.8 cy=82.7 r=3.1 />
<circle class=N cx=234.3 cy=80.5 r=3.1 />
<circle class=Q cx=219.7 cy=83.6 r=3.1 />
<circle class=O cx=261.3 cy=80.9 r=3.1 />
<circle class=Q cx=217.1 cy=83.9 r=3.1 />
<circle class=P cx=212.2 cy=83.5 r=3.1 />
<circle class=Q cx=214.6 cy=84.4 r=3.1 />
<circle class=O cx=230.9 cy=81.7 r=3.1 />
<circle class=P cx=197.1 cy=83 r=3.1 />
<circle class=R cx=157.8 cy=86.7 r=3.1 />
<circle class=P cx=227.7 cy=83 r=3.1 />
<circle class=N cx=248.4 cy=79.4 r=3.1 />
<circle class=Q cx=212.1 cy=84.8 r=3.1 />
<circle class=O cx=233.8 cy=81.8 r=3.1 />
<circle class=O cx=236.9 cy=82 r=3.1 />
<circle class=P cx=199.8 cy=83.2 r=3.1 />
<circle class=Q cx=170.1 cy=84.9 r=3.1 />
<circle class=k4 cx=169.5 cy=108.1 r=3.1 />
<circle class=Q cx=209.7 cy=84 r=3.1 />
<circle class=P cx=186.2 cy=82.6 r=3.1 />
<circle class=N cx=240.4 cy=80.9 r=3.1 />
<circle class=P cx=202.3 cy=83.5 r=3.1 />
<circle class=Q cx=199.9 cy=84.6 r=3.1 />
<circle class=Q cx=180.6 cy=84.5 r=3.1 />
<circle class=N cx=252 cy=80 r=3.1 />
<circle class=S cx=153.8 cy=88 r=3.1 />
<circle class=N cx=256.5 cy=79.5 r=3.1 />
<circle class=k0 cx=69.3 cy=101.5 r=3.1 />
<circle class=k1 cx=72.4 cy=103.3 r=3.1 />
<circle class=Q cx=222 cy=84.4 r=3.1 />
<circle class=N cx=266 cy=80.4 r=3.1 />
<circle class=P cx=207.2 cy=83.1 r=3.1 />
<circle class=U cx=20.1 cy=91.2 r=3.1 />
<circle class=M cx=279.1 cy=79 r=3.1 />
<circle class=k0 cx=107 cy=101.5 r=3.1 />
<circle class=P cx=173.9 cy=83.9 r=3.1 />
<circle class=P cx=197.5 cy=84 r=3.1 />
<circle class=P cx=230.3 cy=82.7 r=3.1 />
<circle class=Q cx=207.3 cy=84.4 r=3.1 />
<circle class=P cx=189.5 cy=83.7 r=3.1 />
<circle class=P cx=204.9 cy=83.8 r=3.1 />
<circle class=S cx=159.2 cy=87.8 r=3.1 />
<circle class=k3 cx=167.5 cy=106.5 r=3.1 />
<circle class=Q cx=167 cy=85.5 r=3.1 />
<circle class=Q cx=174.6 cy=85.3 r=3.1 />
<circle class=P cx=192.3 cy=83.6 r=3.1 />
<circle class=P cx=227.2 cy=84 r=3.1 />
<circle class=P cx=186.8 cy=83.6 r=3.1 />
<circle class=P cx=194.9 cy=83.7 r=3.1 />
<circle class=Q cx=177.8 cy=84.6 r=3.1 />
<circle class=P cx=183.9 cy=83.8 r=3.1 />
<circle class=k2 cx=171.8 cy=105.8 r=3.1 />
<circle class=Q cx=216.8 cy=84.8 r=3.1 />
<circle class=N cx=243.2 cy=81.1 r=3.1 />
<circle class=k1 cx=47.8 cy=103.7 r=3.1 />
<circle class=P cx=224.4 cy=83.9 r=3.1 />
<circle class=N cx=247.1 cy=80.3 r=3.1 />
<circle class=Q cx=184.3 cy=85.2 r=3.1 />
<circle class=Q cx=214.4 cy=85.1 r=3.1 />
<circle class=L cx=271.9 cy=78.6 r=3.1 />
<circle class=O cx=235.9 cy=82.9 r=3.1 />
<circle class=N cx=246.5 cy=81.7 r=3.1 />
<circle class=P cx=219.3 cy=84.3 r=3.1 />
<circle class=P cx=190 cy=84.8 r=3.1 />
<circle class=Q cx=207.3 cy=85.6 r=3.1 />
<circle class=O cx=232.9 cy=82.6 r=3.1 />
</g>
<g class="o12">
<circle class=Q cx=209.7 cy=84.8 r=3.1 />
<circle class=k2 cx=52.4 cy=105.3 r=3.1 />
<circle class=Q cx=205 cy=84.9 r=3.1 />
<circle class=M cx=270.8 cy=80 r=3.1 />
<circle class=S cx=155.7 cy=88.8 r=3.1 />
<circle class=k9 cx=159.3 cy=116.1 r=3.1 />
<circle class=P cx=232.5 cy=83.9 r=3.1 />
<circle class=Q cx=178.5 cy=85.8 r=3.1 />
<circle class=Q cx=163.8 cy=86.1 r=3.1 />
<circle class=Q cx=221.6 cy=85.3 r=3.1 />
<circle class=Q cx=171.6 cy=85.6 r=3.1 />
<circle class=N cx=239.3 cy=81.8 r=3.1 />
<circle class=R cx=164.5 cy=87.5 r=3.1 />
<circle class=Q cx=226.7 cy=85.1 r=3.1 />
<circle class=P cx=202.6 cy=84.3 r=3.1 />
<circle class=Q cx=224.1 cy=85.1 r=3.1 />
<circle class=P cx=197.8 cy=85 r=3.1 />
<circle class=M cx=292.9 cy=79.4 r=3.1 />
<circle class=O cx=238.8 cy=83.1 r=3.1 />
<circle class=P cx=187.4 cy=84.7 r=3.1 />
<circle class=Q cx=219.1 cy=85.5 r=3.1 />
<circle class=L cx=284.9 cy=78.8 r=3.1 />
<circle class=R cx=18.9 cy=88.1 r=3.1 />
<circle class=N cx=250.4 cy=80.8 r=3.1 />
<circle class=P cx=195.3 cy=84.7 r=3.1 />
<circle class=Q cx=216.6 cy=85.8 r=3.1 />
<circle class=P cx=192.8 cy=84.5 r=3.1 />
<circle class=M cx=276.6 cy=80 r=3.1 />
<circle class=Q cx=212 cy=85.3 r=3.1 />
<circle class=N cx=242.3 cy=82.1 r=3.1 />
<circle class=M cx=283.5 cy=80.3 r=3.1 />
<circle class=Q cx=193.1 cy=85.9 r=3.1 />
<circle class=P cx=200.3 cy=85.1 r=3.1 />
<circle class=Q cx=182.2 cy=86.4 r=3.1 />
<circle class=O cx=229.5 cy=83.5 r=3.1 />
<circle class=P cx=235.1 cy=83.9 r=3.1 />
<circle class=k8 cx=155.6 cy=115.4 r=3.1 />
<circle class=k4 cx=173.6 cy=109.1 r=3.1 />
<circle class=P cx=181.9 cy=85 r=3.1 />
<circle class=Q cx=168.6 cy=86.1 r=3.1 />
<circle class=Q cx=202.7 cy=85.4 r=3.1 />
<circle class=N cx=249.4 cy=82 r=3.1 />
<circle class=k8 cx=154.5 cy=115.5 r=3.1 />
<circle class=N cx=290.7 cy=80.7 r=3.1 />
<circle class=k6 cx=152.3 cy=113.3 r=3.1 />
<circle class=Q cx=172.7 cy=86.6 r=3.1 />
<circle class=Q cx=223.7 cy=86.2 r=3.1 />
<circle class=M cx=254.3 cy=80.1 r=3.1 />
<circle class=k5 cx=171.8 cy=110.8 r=3.1 />
<circle class=R cx=165.8 cy=88.5 r=3.1 />
<circle class=Q cx=214.2 cy=85.9 r=3.1 />
<circle class=k7 cx=156.5 cy=114.9 r=3.1 />
<circle class=S cx=157.4 cy=89.6 r=3.1 />
<circle class=Z cx=112.1 cy=101.6 r=3.1 />
<circle class=k3 cx=169.9 cy=108.1 r=3.1 />
<circle class=Q cx=209.6 cy=85.7 r=3.1 />
<circle class=R cx=161.4 cy=88.2 r=3.1 />
<circle class=k4 cx=166.9 cy=109.5 r=3.1 />
<circle class=Q cx=195.7 cy=85.7 r=3.1 />
<circle class=k2 cx=174.6 cy=106.8 r=3.1 />
<circle class=Q cx=188 cy=85.7 r=3.1 />
<circle class=Q cx=216.4 cy=86.8 r=3.1 />
<circle class=N cx=274.7 cy=81.1 r=3.1 />
<circle class=k2 cx=165.4 cy=106.5 r=3.1 />
<circle class=O cx=241.3 cy=83.1 r=3.1 />
<circle class=P cx=176.1 cy=85.7 r=3.1 />
<circle class=k2 cx=173.1 cy=107.3 r=3.1 />
<circle class=k2 cx=22.3 cy=106.3 r=3.1 />
<circle class=N cx=245.1 cy=82.4 r=3.1 />
<circle class=P cx=229 cy=84.5 r=3.1 />
<circle class=Q cx=218.7 cy=86.3 r=3.1 />
<circle class=k6 cx=152.5 cy=113 r=3.1 />
<circle class=Q cx=173.6 cy=87.7 r=3.1 />
<circle class=P cx=185.4 cy=85.7 r=3.1 />
<circle class=k6 cx=158.8 cy=113 r=3.1 />
<circle class=M cx=262.9 cy=80.8 r=3.1 />
<circle class=N cx=253.2 cy=81.2 r=3.1 />
<circle class=Q cx=211.9 cy=86.2 r=3.1 />
<circle class=Q cx=179.8 cy=86.4 r=3.1 />
<circle class=N cx=281 cy=81.3 r=3.1 />
<circle class=M cx=268.2 cy=80.7 r=3.1 />
<circle class=Q cx=200.6 cy=86 r=3.1 />
<circle class=M cx=257.7 cy=80.9 r=3.1 />
<circle class=k0 cx=115 cy=102.6 r=3.1 />
<circle class=Q cx=169.8 cy=87.1 r=3.1 />
<circle class=k0 cx=81.5 cy=102.8 r=3.1 />
<circle class=O cx=231.5 cy=84.5 r=3.1 />
<circle class=P cx=205.1 cy=85.4 r=3.1 />
<circle class=P cx=207.4 cy=86 r=3.1 />
<circle class=N cx=321.6 cy=82.1 r=3.1 />
<circle class=k8 cx=158.3 cy=116.6 r=3.1 />
<circle class=P cx=198.3 cy=85.5 r=3.1 />
<circle class=R cx=162.8 cy=89.1 r=3.1 />
<circle class=N cx=261.8 cy=82 r=3.1 />
<circle class=S cx=159 cy=90.5 r=3.1 />
<circle class=P cx=203 cy=86.2 r=3.1 />
<circle class=P cx=190.9 cy=85.1 r=3.1 />
<circle class=P cx=221 cy=85.7 r=3.1 />
<circle class=O cx=234.2 cy=84.6 r=3.1 />
<circle class=Q cx=214 cy=86.8 r=3.1 />
<circle class=Q cx=193.7 cy=86.5 r=3.1 />
<circle class=N cx=287.7 cy=81.7 r=3.1 />
<circle class=P cx=225.9 cy=85.5 r=3.1 />
<circle class=O cx=237.4 cy=83.6 r=3.1 />
<circle class=Q cx=220.8 cy=87.1 r=3.1 />
<circle class=Q cx=177.1 cy=86.6 r=3.1 />
<circle class=P cx=209.6 cy=86.4 r=3.1 />
<circle class=Q cx=218.4 cy=87.3 r=3.1 />
<circle class=Q cx=223.1 cy=86.8 r=3.1 />
<circle class=Q cx=186.1 cy=86.6 r=3.1 />
<circle class=K cx=342.5 cy=77.9 r=3.1 />
<circle class=Q cx=198.6 cy=86.7 r=3.1 />
<circle class=N cx=256.4 cy=81.9 r=3.1 />
<circle class=k0 cx=85.9 cy=103.7 r=3.1 />
<circle class=k0 cx=62.6 cy=104.9 r=3.1 />
<circle class=Q cx=180.7 cy=87.3 r=3.1 />
<circle class=N cx=251.8 cy=82.1 r=3.1 />
<circle class=P cx=196.2 cy=86.4 r=3.1 />
<circle class=S cx=164.1 cy=90.1 r=3.1 />
<circle class=Z cx=21.2 cy=103.2 r=3.1 />
<circle class=P cx=230.9 cy=85.4 r=3.1 />
<circle class=P cx=205.3 cy=86.4 r=3.1 />
<circle class=N cx=278.5 cy=82.3 r=3.1 />
<circle class=P cx=183.6 cy=86.7 r=3.1 />
<circle class=N cx=255.4 cy=83.1 r=3.1 />
<circle class=P cx=233.5 cy=85.6 r=3.1 />
<circle class=O cx=228.2 cy=85.2 r=3.1 />
<circle class=S cx=160.5 cy=91.3 r=3.1 />
<circle class=N cx=260.1 cy=82.9 r=3.1 />
<circle class=P cx=191.5 cy=86.1 r=3.1 />
<circle class=N cx=243.6 cy=83 r=3.1 />
<circle class=M cx=271.9 cy=81.8 r=3.1 />
<circle class=Q cx=189.3 cy=87.5 r=3.1 />
<circle class=P cx=207.5 cy=86.8 r=3.1 />
<circle class=Q cx=171.3 cy=87.7 r=3.1 />
<circle class=N cx=285.4 cy=82.8 r=3.1 />
<circle class=Z cx=104.6 cy=102.9 r=3.1 />
<circle class=O cx=243.1 cy=84.3 r=3.1 />
<circle class=P cx=227.9 cy=86.5 r=3.1 />
<circle class=Q cx=209.6 cy=87.5 r=3.1 />
<circle class=N cx=247.4 cy=82.4 r=3.1 />
<circle class=N cx=250.9 cy=83.3 r=3.1 />
<circle class=Q cx=203.2 cy=87.1 r=3.1 />
<circle class=P cx=225.4 cy=86.4 r=3.1 />
<circle class=k9 cx=161.1 cy=118.4 r=3.1 />
<circle class=Q cx=168 cy=88.6 r=3.1 />
<circle class=Q cx=178.1 cy=87.5 r=3.1 />
<circle class=P cx=189 cy=86 r=3.1 />
<circle class=N cx=259.1 cy=84.1 r=3.1 />
<circle class=Q cx=213.8 cy=87.6 r=3.1 />
<circle class=Q cx=186.8 cy=87.5 r=3.1 />
<circle class=N cx=264.9 cy=82.8 r=3.1 />
<circle class=N cx=239.8 cy=83.5 r=3.1 />
<circle class=k5 cx=165.7 cy=112.8 r=3.1 />
<circle class=Q cx=175.2 cy=88.1 r=3.1 />
<circle class=k2 cx=38 cy=108.3 r=3.1 />
<circle class=Q cx=172.1 cy=88.9 r=3.1 />
<circle class=Q cx=220.4 cy=87.9 r=3.1 />
<circle class=P cx=216 cy=87.1 r=3.1 />
<circle class=P cx=211.7 cy=86.7 r=3.1 />
<circle class=P cx=201 cy=86.5 r=3.1 />
<circle class=Q cx=198.9 cy=87.6 r=3.1 />
<circle class=P cx=191.9 cy=87.2 r=3.1 />
<circle class=P cx=194.3 cy=87.2 r=3.1 />
<circle class=Q cx=201.1 cy=87.8 r=3.1 />
<circle class=k0 cx=68.5 cy=105.8 r=3.1 />
<circle class=R cx=168.9 cy=89.8 r=3.1 />
<circle class=k2 cx=167.3 cy=108.8 r=3.1 />
<circle class=N cx=270.2 cy=82.9 r=3.1 />
<circle class=Q cx=184.3 cy=87.6 r=3.1 />
<circle class=M cx=293.9 cy=81.9 r=3.1 />
<circle class=Q cx=211.7 cy=87.9 r=3.1 />
<circle class=Q cx=207.5 cy=87.8 r=3.1 />
<circle class=Q cx=218.1 cy=87.9 r=3.1 />
<circle class=T cx=157.4 cy=92.3 r=3.1 />
<circle class=N cx=236.2 cy=84.1 r=3.1 />
<circle class=Q cx=178.9 cy=88.5 r=3.1 />
<circle class=P cx=224.9 cy=87.4 r=3.1 />
<circle class=P cx=205.4 cy=87.2 r=3.1 />
<circle class=k0 cx=91.3 cy=104.2 r=3.1 />
<circle class=k8 cx=154.7 cy=117.5 r=3.1 />
<circle class=X cx=20.1 cy=100.1 r=3.1 />
<circle class=S cx=162.2 cy=92 r=3.1 />
<circle class=L cx=265.1 cy=81.1 r=3.1 />
<circle class=N cx=263.5 cy=83.8 r=3.1 />
<circle class=N cx=246.2 cy=83.2 r=3.1 />
<circle class=Q cx=215.8 cy=88.1 r=3.1 />
<circle class=P cx=196.8 cy=87 r=3.1 />
<circle class=P cx=222.5 cy=87.3 r=3.1 />
<circle class=Q cx=181.9 cy=87.8 r=3.1 />
<circle class=T cx=158.6 cy=93.4 r=3.1 />
<circle class=S cx=166.7 cy=91.9 r=3.1 />
<circle class=N cx=275.8 cy=83.1 r=3.1 />
<circle class=P cx=227.2 cy=87.2 r=3.1 />
<circle class=O cx=230 cy=86 r=3.1 />
<circle class=N cx=249.4 cy=84 r=3.1 />
<circle class=N cx=253.7 cy=83.8 r=3.1 />
<circle class=Q cx=213.7 cy=88.5 r=3.1 />
<circle class=O cx=235.6 cy=85.2 r=3.1 />
<circle class=Z cx=109 cy=103.3 r=3.1 />
<circle class=Q cx=205.5 cy=88.3 r=3.1 />
<circle class=R cx=166.2 cy=90.4 r=3.1 />
<circle class=k0 cx=95 cy=105.1 r=3.1 />
<circle class=k4 cx=163.6 cy=112.2 r=3.1 />
<circle class=Q cx=190.1 cy=88 r=3.1 />
<circle class=Q cx=222.2 cy=88.4 r=3.1 />
<circle class=k8 cx=159 cy=118.5 r=3.1 />
<circle class=N cx=241.6 cy=84.8 r=3.1 />
<circle class=Q cx=199.3 cy=88.3 r=3.1 />
<circle class=Q cx=187.7 cy=88.1 r=3.1 />
<circle class=P cx=192.5 cy=87.9 r=3.1 />
<circle class=O cx=232.4 cy=86 r=3.1 />
<circle class=P cx=197.1 cy=88 r=3.1 />
<circle class=N cx=327.2 cy=84.4 r=3.1 />
<circle class=Q cx=201.4 cy=88.5 r=3.1 />
<circle class=O cx=324.8 cy=86.1 r=3.1 />
<circle class=P cx=203.4 cy=87.5 r=3.1 />
<circle class=Q cx=173.6 cy=89.4 r=3.1 />
<circle class=N cx=238.6 cy=84.1 r=3.1 />
<circle class=k3 cx=173.3 cy=111.2 r=3.1 />
<circle class=P cx=194.9 cy=87.8 r=3.1 />
<circle class=R cx=170.5 cy=90.3 r=3.1 />
<circle class=Q cx=185.3 cy=88.3 r=3.1 />
<circle class=Q cx=176.6 cy=88.5 r=3.1 />
<circle class=P cx=229.4 cy=86.9 r=3.1 />
<circle class=N cx=238.1 cy=85.3 r=3.1 />
<circle class=S cx=163.8 cy=92.7 r=3.1 />
<circle class=P cx=209.6 cy=87.8 r=3.1 />
<circle class=v cx=258.3 cy=55.6 r=3.1 />
<circle class=N cx=244.5 cy=85.3 r=3.1 />
<circle class=Q cx=219.9 cy=88.3 r=3.1 />
<circle class=k2 cx=47.5 cy=108.5 r=3.1 />
<circle class=O cx=234.8 cy=86.1 r=3.1 />
<circle class=N cx=252.3 cy=84.6 r=3.1 />
<circle class=M cx=267.7 cy=83.5 r=3.1 />
<circle class=V cx=18.9 cy=97 r=3.1 />
<circle class=k8 cx=153.4 cy=119.2 r=3.1 />
<circle class=P cx=224.3 cy=88 r=3.1 />
<circle class=R cx=171.3 cy=91.5 r=3.1 />
<circle class=P cx=207.6 cy=88.4 r=3.1 />
<circle class=M cx=281.3 cy=83.2 r=3.1 />
<circle class=M cx=290.2 cy=82.7 r=3.1 />
<circle class=P cx=211.6 cy=88.4 r=3.1 />
<circle class=k0 cx=76 cy=105.8 r=3.1 />
<circle class=P cx=217.7 cy=88.4 r=3.1 />
<circle class=P cx=182.9 cy=88.4 r=3.1 />
<circle class=Q cx=174.5 cy=90.4 r=3.1 />
<circle class=P cx=226.5 cy=87.9 r=3.1 />
<circle class=Q cx=193 cy=88.8 r=3.1 />
<circle class=N cx=256.5 cy=84.4 r=3.1 />
<circle class=N cx=279.8 cy=84.5 r=3.1 />
<circle class=N cx=244.7 cy=83.8 r=3.1 />
<circle class=Q cx=180.3 cy=88.9 r=3.1 />
<circle class=Q cx=177.5 cy=89.5 r=3.1 />
<circle class=T cx=165 cy=93.7 r=3.1 />
<circle class=k8 cx=162.4 cy=118.7 r=3.1 />
<circle class=k5 cx=155.4 cy=114.2 r=3.1 />
<circle class=T cx=161.5 cy=95.1 r=3.1 />
<circle class=Q cx=195.3 cy=88.7 r=3.1 />
<circle class=Y cx=113.3 cy=103.6 r=3.1 />
<circle class=t cx=261.6 cy=54.5 r=3.1 />
<circle class=Q cx=188.4 cy=88.9 r=3.1 />
<circle class=Q cx=209.6 cy=88.8 r=3.1 />
<circle class=P cx=203.6 cy=88.4 r=3.1 />
<circle class=t cx=253.8 cy=53.8 r=3.1 />
<circle class=Q cx=205.6 cy=88.9 r=3.1 />
<circle class=M cx=273 cy=83.7 r=3.1 />
<circle class=Q cx=203.7 cy=89.8 r=3.1 />
<circle class=P cx=228.8 cy=87.8 r=3.1 />
<circle class=S cx=168.6 cy=92.2 r=3.1 />
<circle class=Q cx=211.5 cy=89.5 r=3.1 />
<circle class=S cx=160.9 cy=93.6 r=3.1 />
<circle class=Q cx=199.6 cy=88.9 r=3.1 />
<circle class=P cx=215.5 cy=88.5 r=3.1 />
<circle class=Q cx=226.1 cy=88.9 r=3.1 />
<circle class=k6 cx=158.1 cy=116 r=3.1 />
<circle class=Q cx=186.1 cy=89 r=3.1 />
<circle class=Z cx=100.4 cy=105.2 r=3.1 />
<circle class=u cx=240.9 cy=54.9 r=3.1 />
<circle class=P cx=190.9 cy=88.5 r=3.1 />
<circle class=N cx=237.1 cy=86.1 r=3.1 />
<circle class=U cx=162.7 cy=96.1 r=3.1 />
<circle class=Q cx=178.3 cy=90.5 r=3.1 />
<circle class=Q cx=215.4 cy=89.7 r=3.1 />
<circle class=Q cx=183.7 cy=89.3 r=3.1 />
<circle class=k5 cx=149.8 cy=114.6 r=3.1 />
<circle class=P cx=213.5 cy=88.7 r=3.1 />
<circle class=P cx=197.6 cy=88.5 r=3.1 />
<circle class=Q cx=181.1 cy=89.8 r=3.1 />
<circle class=N cx=255.1 cy=85.3 r=3.1 />
<circle class=O cx=231.4 cy=86.5 r=3.1 />
<circle class=P cx=201.7 cy=89.1 r=3.1 />
<circle class=N cx=247.4 cy=84.3 r=3.1 />
<circle class=M cx=287.4 cy=83.6 r=3.1 />
<circle class=M cx=260.5 cy=84 r=3.1 />
<circle class=P cx=223.7 cy=88.7 r=3.1 />
<circle class=P cx=217.4 cy=89.2 r=3.1 />
<circle class=Q cx=193.6 cy=89.6 r=3.1 />
<circle class=P cx=219.4 cy=88.9 r=3.1 />
<circle class=k0 cx=81.7 cy=106.3 r=3.1 />
<circle class=S cx=17.8 cy=93.9 r=3.1 />
<circle class=Q cx=175.7 cy=91 r=3.1 />
<circle class=k7 cx=165.2 cy=118.7 r=3.1 />
<circle class=O cx=233.8 cy=86.7 r=3.1 />
<circle class=O cx=230.9 cy=87.6 r=3.1 />
<circle class=P cx=221.5 cy=88.6 r=3.1 />
<circle class=u cx=260.6 cy=55.7 r=3.1 />
<circle class=P cx=207.6 cy=89 r=3.1 />
<circle class=k1 cx=55.9 cy=108.6 r=3.1 />
<circle class=O cx=319 cy=86.7 r=3.1 />
<circle class=N cx=270.9 cy=84.5 r=3.1 />
<circle class=M cx=265.3 cy=84.1 r=3.1 />
<circle class=Q cx=209.5 cy=89.6 r=3.1 />
<circle class=N cx=246.6 cy=85.3 r=3.1 />
<circle class=Q cx=186.8 cy=89.9 r=3.1 />
<circle class=N cx=240 cy=85 r=3.1 />
<circle class=S cx=166.7 cy=94.2 r=3.1 />
<circle class=T cx=158.8 cy=96 r=3.1 />
<circle class=P cx=195.8 cy=89.4 r=3.1 />
<circle class=k8 cx=152 cy=120.4 r=3.1 />
<circle class=P cx=228.1 cy=88.6 r=3.1 />
<circle class=N cx=250.4 cy=85 r=3.1 />
<circle class=Q cx=184.4 cy=90.2 r=3.1 />
<circle class=Q cx=205.8 cy=89.7 r=3.1 />
<circle class=Q cx=213.3 cy=89.7 r=3.1 />
<circle class=S cx=170 cy=92.8 r=3.1 />
<circle class=Q cx=200 cy=89.8 r=3.1 />
<circle class=M cx=295.1 cy=84.5 r=3.1 />
<circle class=P cx=197.9 cy=89.5 r=3.1 />
<circle class=Q cx=207.7 cy=90.2 r=3.1 />
<circle class=N cx=259.1 cy=84.9 r=3.1 />
<circle class=Q cx=173.2 cy=91.6 r=3.1 />
<circle class=N cx=249.6 cy=86.2 r=3.1 />
<circle class=N cx=239.3 cy=86.1 r=3.1 />
<circle class=k8 cx=155.9 cy=119.9 r=3.1 />
<circle class=O cx=233.2 cy=87.6 r=3.1 />
<circle class=k5 cx=153.3 cy=115 r=3.1 />
<circle class=P cx=191.5 cy=89.2 r=3.1 />
<circle class=Y cx=117.7 cy=103.6 r=3.1 />
<circle class=k7 cx=165.4 cy=118.7 r=3.1 />
<circle class=N cx=236.1 cy=86.8 r=3.1 />
<circle class=P cx=221.2 cy=89.7 r=3.1 />
<circle class=P cx=189.3 cy=89.4 r=3.1 />
<circle class=k7 cx=152.3 cy=119 r=3.1 />
<circle class=U cx=160 cy=97 r=3.1 />
<circle class=Q cx=211.4 cy=90.1 r=3.1 />
<circle class=K cx=343.2 cy=81.9 r=3.1 />
<circle class=P cx=223.2 cy=89.5 r=3.1 />
<circle class=t cx=167.8 cy=55.6 r=3.1 />
<circle class=U cx=161 cy=98.2 r=3.1 />
<circle class=M cx=276.4 cy=84.9 r=3.1 />
<circle class=Q cx=182.1 cy=90.4 r=3.1 />
<circle class=N cx=269.2 cy=85.5 r=3.1 />
<circle class=k3 cx=21.5 cy=112 r=3.1 />
<circle class=Q cx=194.1 cy=90.4 r=3.1 />
<circle class=Q cx=176.8 cy=91.7 r=3.1 />
<circle class=L cx=339.7 cy=83.6 r=3.1 />
<circle class=Q cx=215.1 cy=90.3 r=3.1 />
<circle class=P cx=202 cy=89.7 r=3.1 />
<circle class=u cx=221.1 cy=56.2 r=3.1 />
<circle class=N cx=242.4 cy=85.3 r=3.1 />
<circle class=Q cx=198.3 cy=90.5 r=3.1 />
<circle class=k7 cx=159.7 cy=118.1 r=3.1 />
<circle class=k8 cx=161.4 cy=119.6 r=3.1 />
<circle class=k5 cx=154.8 cy=115.3 r=3.1 />
<circle class=P cx=219 cy=89.5 r=3.1 />
<circle class=N cx=245.4 cy=86.1 r=3.1 />
<circle class=Q cx=192 cy=90.2 r=3.1 />
<circle class=N cx=238.5 cy=87 r=3.1 />
<circle class=N cx=336.3 cy=85.3 r=3.1 />
<circle class=M cx=284.2 cy=84.3 r=3.1 />
<circle class=Q cx=200.3 cy=90.6 r=3.1 />
<circle class=P cx=217 cy=89.7 r=3.1 />
<circle class=O cx=230.1 cy=88.2 r=3.1 />
<circle class=P cx=204 cy=90 r=3.1 />
<circle class=Q cx=205.9 cy=90.5 r=3.1 />
<circle class=Q cx=180.3 cy=92 r=3.1 />
<circle class=T cx=164.9 cy=96.2 r=3.1 />
<circle class=P cx=225.2 cy=89.1 r=3.1 />
<circle class=Q cx=185.3 cy=90.9 r=3.1 />
<circle class=v cx=270.2 cy=57.2 r=3.1 />
<circle class=N cx=241.7 cy=86.4 r=3.1 />
<circle class=Q cx=179.8 cy=90.6 r=3.1 />
<circle class=k6 cx=164.5 cy=117.4 r=3.1 />
<circle class=Q cx=187.6 cy=90.5 r=3.1 />
<circle class=N cx=333 cy=86.9 r=3.1 />
<circle class=k2 cx=166.7 cy=110.7 r=3.1 />
<circle class=P cx=227.4 cy=89.2 r=3.1 />
<circle class=P cx=189.9 cy=90.2 r=3.1 />
<circle class=M cx=291.8 cy=85.4 r=3.1 />
<circle class=N cx=267.5 cy=86.4 r=3.1 />
<circle class=Y cx=106.6 cy=104.8 r=3.1 />
<circle class=Q cx=174.4 cy=92.2 r=3.1 />
<circle class=Q cx=182.9 cy=91.2 r=3.1 />
<circle class=M cx=263 cy=84.6 r=3.1 />
<circle class=N cx=248.2 cy=86.9 r=3.1 />
<circle class=O cx=232.3 cy=88.3 r=3.1 />
<circle class=N cx=244.5 cy=87.1 r=3.1 />
<circle class=N cx=235.2 cy=87.5 r=3.1 />
<circle class=V cx=158.1 cy=99.4 r=3.1 />
<circle class=k5 cx=170 cy=115.9 r=3.1 />
<circle class=u cx=157.1 cy=57.2 r=3.1 />
<circle class=Z cx=88.3 cy=106.2 r=3.1 />
<circle class=R cx=171.5 cy=93.2 r=3.1 />
<circle class=S cx=168.5 cy=94.5 r=3.1 />
<circle class=P cx=196.4 cy=89.9 r=3.1 />
<circle class=Q cx=202.2 cy=90.7 r=3.1 />
<circle class=P cx=213.2 cy=90.3 r=3.1 />
<circle class=Q cx=207.7 cy=90.8 r=3.1 />
<circle class=k5 cx=155.1 cy=115.9 r=3.1 />
<circle class=M cx=252.8 cy=85.5 r=3.1 />
<circle class=P cx=209.5 cy=90.1 r=3.1 />
<circle class=Q cx=218.7 cy=90.5 r=3.1 />
<circle class=Q cx=190.4 cy=91.3 r=3.1 />
<circle class=M cx=257.2 cy=85.5 r=3.1 />
<circle class=Q cx=204.1 cy=91 r=3.1 />
<circle class=k3 cx=30.1 cy=112.7 r=3.1 />
<circle class=Q cx=216.8 cy=90.8 r=3.1 />
<circle class=S cx=172.4 cy=94.4 r=3.1 />
<circle class=N cx=252 cy=86.6 r=3.1 />
<circle class=P cx=220.7 cy=90.2 r=3.1 />
<circle class=k5 cx=163.8 cy=116.6 r=3.1 />
<circle class=O cx=329.4 cy=88.3 r=3.1 />
<circle class=k0 cx=64.9 cy=108.3 r=3.1 />
<circle class=Q cx=211.3 cy=90.6 r=3.1 />
<circle class=P cx=229.4 cy=89 r=3.1 />
<circle class=v cx=155.6 cy=57.8 r=3.1 />
<circle class=P cx=222.7 cy=90 r=3.1 />
<circle class=N cx=256.1 cy=86.6 r=3.1 />
<circle class=M cx=261.6 cy=85.6 r=3.1 />
<circle class=r cx=238.1 cy=53.3 r=3.1 />
<circle class=N cx=272.7 cy=86.8 r=3.1 />
<circle class=N cx=313 cy=87.2 r=3.1 />
<circle class=N cx=260.8 cy=86.8 r=3.1 />
<circle class=Q cx=188.3 cy=91.3 r=3.1 />
<circle class=Q cx=178.2 cy=92.2 r=3.1 />
<circle class=k0 cx=20.4 cy=108.9 r=3.1 />
<circle class=Q cx=194.7 cy=90.8 r=3.1 />
<circle class=Q cx=192.7 cy=90.8 r=3.1 />
<circle class=O cx=231.6 cy=89.2 r=3.1 />
<circle class=Q cx=196.7 cy=90.8 r=3.1 />
<circle class=Q cx=209.5 cy=91 r=3.1 />
<circle class=N cx=240.6 cy=87 r=3.1 />
<circle class=P cx=224.6 cy=89.8 r=3.1 />
<circle class=S cx=169.8 cy=95.1 r=3.1 />
<circle class=P cx=198.7 cy=90.9 r=3.1 />
<circle class=N cx=237.3 cy=87.5 r=3.1 />
<circle class=O cx=234.4 cy=88.2 r=3.1 />
<circle class=N cx=279.9 cy=86.2 r=3.1 />
<circle class=T cx=166.8 cy=96.5 r=3.1 />
<circle class=M cx=273.2 cy=85.3 r=3.1 />
<circle class=u cx=226.8 cy=57.6 r=3.1 />
<circle class=Q cx=213 cy=91.1 r=3.1 />
<circle class=L cx=281 cy=84.9 r=3.1 />
<circle class=M cx=288.7 cy=86.1 r=3.1 />
<circle class=Q cx=186.3 cy=91.3 r=3.1 />
<circle class=P cx=214.8 cy=90.6 r=3.1 />
<circle class=P cx=200.7 cy=91 r=3.1 />
<circle class=P cx=226.6 cy=89.7 r=3.1 />
<circle class=T cx=170.8 cy=96.2 r=3.1 />
<circle class=Q cx=184 cy=91.7 r=3.1 />
<circle class=v cx=160.9 cy=58 r=3.1 />
<circle class=k0 cx=70.8 cy=108.9 r=3.1 />
<circle class=R cx=176.4 cy=93.9 r=3.1 />
<circle class=k4 cx=170.6 cy=115 r=3.1 />
<circle class=Q cx=204.3 cy=91.7 r=3.1 />
<circle class=Q cx=202.5 cy=91.2 r=3.1 />
<circle class=Q cx=175.9 cy=92.6 r=3.1 />
<circle class=Y cx=111.4 cy=104.8 r=3.1 />
<circle class=Q cx=191.1 cy=91.9 r=3.1 />
<circle class=Q cx=181.6 cy=92.2 r=3.1 />
<circle class=M cx=298.7 cy=86.1 r=3.1 />
<circle class=N cx=250.4 cy=87.2 r=3.1 />
<circle class=N cx=246.6 cy=87.3 r=3.1 />
<circle class=Q cx=207.8 cy=91.3 r=3.1 />
<circle class=P cx=206 cy=90.7 r=3.1 />
<circle class=Q cx=211.2 cy=91.4 r=3.1 />
<circle class=k5 cx=164.6 cy=116.9 r=3.1 />
<circle class=k5 cx=162.6 cy=117.3 r=3.1 />
<circle class=Q cx=195.2 cy=91.7 r=3.1 />
<circle class=P cx=218.3 cy=91 r=3.1 />
<circle class=T cx=163.9 cy=97.6 r=3.1 />
<circle class=N cx=245.9 cy=88.4 r=3.1 />
<circle class=S cx=173.9 cy=94.7 r=3.1 />
<circle class=O cx=228.7 cy=89.6 r=3.1 />
<circle class=Q cx=200.9 cy=92.1 r=3.1 />
<circle class=Q cx=197.2 cy=91.7 r=3.1 />
<circle class=P cx=216.5 cy=91.2 r=3.1 />
<circle class=T cx=168.1 cy=97.2 r=3.1 />
<circle class=Q cx=193.2 cy=91.6 r=3.1 />
<circle class=k8 cx=152.8 cy=121.2 r=3.1 />
<circle class=Q cx=189.1 cy=91.9 r=3.1 />
<circle class=s cx=227.2 cy=54.6 r=3.1 />
<circle class=P cx=226.2 cy=90.7 r=3.1 />
<circle class=N cx=242.9 cy=87.3 r=3.1 />
<circle class=P cx=222.1 cy=90.6 r=3.1 />
<circle class=N cx=239.5 cy=87.7 r=3.1 />
<circle class=P cx=220.2 cy=90.7 r=3.1 />
<circle class=Q cx=214.6 cy=91.5 r=3.1 />
<circle class=P cx=224.1 cy=90.5 r=3.1 />
<circle class=t cx=278.9 cy=56.4 r=3.1 />
<circle class=Q cx=187 cy=92.2 r=3.1 />
<circle class=Q cx=206.1 cy=91.9 r=3.1 />
<circle class=k7 cx=160.8 cy=119.6 r=3.1 />
<circle class=O cx=230.8 cy=89.8 r=3.1 />
<circle class=N cx=236.4 cy=88.2 r=3.1 />
<circle class=Y cx=114.3 cy=105.6 r=3.1 />
<circle class=Y cx=95.1 cy=105.8 r=3.1 />
<circle class=Q cx=199.1 cy=91.6 r=3.1 />
<circle class=k3 cx=173.9 cy=113.5 r=3.1 />
<circle class=V cx=161.7 cy=100.4 r=3.1 />
<circle class=M cx=264.5 cy=86.5 r=3.1 />
<circle class=k2 cx=41 cy=112.4 r=3.1 />
<circle class=P cx=228.2 cy=90.7 r=3.1 />
<circle class=O cx=235.9 cy=89.4 r=3.1 />
<circle class=k6 cx=157.7 cy=118.8 r=3.1 />
<circle class=W cx=158.2 cy=102.4 r=3.1 />
<circle class=Y cx=98 cy=107 r=3.1 />
<circle class=N cx=242.1 cy=88.4 r=3.1 />
<circle class=Q cx=184.8 cy=92.5 r=3.1 />
<circle class=Y cx=19.4 cy=105.9 r=3.1 />
<circle class=N cx=233.4 cy=88.8 r=3.1 />
<circle class=k0 cx=76.3 cy=109.5 r=3.1 />
<circle class=S cx=174.9 cy=95.6 r=3.1 />
<circle class=N cx=254 cy=86.9 r=3.1 />
<circle class=t cx=235.7 cy=56.8 r=3.1 />
<circle class=U cx=161 cy=99 r=3.1 />
<circle class=Q cx=207.8 cy=92.3 r=3.1 />
<circle class=T cx=165.3 cy=98.4 r=3.1 />
<circle class=N cx=238.8 cy=88.7 r=3.1 />
<circle class=k5 cx=163.5 cy=116.9 r=3.1 />
<circle class=t cx=275.3 cy=56.3 r=3.1 />
<circle class=O cx=232.9 cy=89.9 r=3.1 />
<circle class=Q cx=218 cy=91.9 r=3.1 />
<circle class=Q cx=180.2 cy=93.5 r=3.1 />
<circle class=M cx=285.4 cy=86.7 r=3.1 />
<circle class=Q cx=202.8 cy=91.9 r=3.1 />
<circle class=N cx=253 cy=87.9 r=3.1 />
<circle class=N cx=249 cy=87.8 r=3.1 />
<circle class=P cx=221.7 cy=91.5 r=3.1 />
<circle class=Q cx=216.2 cy=92.1 r=3.1 />
<circle class=Q cx=193.8 cy=92.4 r=3.1 />
<circle class=Q cx=204.5 cy=92.3 r=3.1 />
<circle class=N cx=307.4 cy=87.5 r=3.1 />
<circle class=Q cx=191.8 cy=92.5 r=3.1 />
<circle class=Q cx=195.7 cy=92.4 r=3.1 />
<circle class=M cx=258.2 cy=86.9 r=3.1 />
<circle class=P cx=209.5 cy=91.3 r=3.1 />
<circle class=P cx=212.8 cy=91.5 r=3.1 />
<circle class=P cx=219.8 cy=91.5 r=3.1 />
<circle class=Q cx=197.6 cy=92.4 r=3.1 />
<circle class=Q cx=179.8 cy=92.1 r=3.1 />
<circle class=Q cx=185.5 cy=93.4 r=3.1 />
<circle class=N cx=263 cy=87.4 r=3.1 />
<circle class=Q cx=187.7 cy=93 r=3.1 />
<circle class=N cx=275.5 cy=87.9 r=3.1 />
<circle class=M cx=269.3 cy=86.9 r=3.1 />
<circle class=P cx=211.1 cy=92 r=3.1 />
<circle class=N cx=321.9 cy=88.5 r=3.1 />
<circle class=Q cx=182.8 cy=92.6 r=3.1 />
<circle class=Q cx=201.2 cy=92.8 r=3.1 />
<circle class=Q cx=192.2 cy=93.7 r=3.1 />
<circle class=P cx=223.6 cy=91.3 r=3.1 />
<circle class=k6 cx=162.1 cy=119.3 r=3.1 />
<circle class=Q cx=189.8 cy=92.5 r=3.1 />
<circle class=N cx=268.2 cy=88 r=3.1 />
<circle class=u cx=253.7 cy=58.8 r=3.1 />
<circle class=P cx=225.5 cy=91.3 r=3.1 />
<circle class=M cx=276.4 cy=86.5 r=3.1 />
<circle class=s cx=276.4 cy=56.3 r=3.1 />
<circle class=N cx=283.5 cy=87.8 r=3.1 />
<circle class=v cx=234.9 cy=59.1 r=3.1 />
<circle class=Q cx=209.5 cy=92.5 r=3.1 />
<circle class=u cx=258.2 cy=58.4 r=3.1 />
<circle class=Q cx=212.7 cy=92.7 r=3.1 />
<circle class=M cx=294.7 cy=86.7 r=3.1 />
<circle class=Y cx=102.3 cy=107.4 r=3.1 />
<circle class=N cx=256.9 cy=87.9 r=3.1 />
<circle class=P cx=214.4 cy=92.1 r=3.1 />
<circle class=Q cx=178 cy=93.9 r=3.1 />
<circle class=Q cx=190.3 cy=93.7 r=3.1 />
<circle class=P cx=199.5 cy=92.3 r=3.1 />
<circle class=T cx=169.8 cy=97.4 r=3.1 />
<circle class=k2 cx=49 cy=112.7 r=3.1 />
<circle class=k8 cx=158.1 cy=122.3 r=3.1 />
<circle class=N cx=247.9 cy=88.6 r=3.1 />
<circle class=N cx=244.3 cy=88.7 r=3.1 />
<circle class=u cx=234 cy=58.3 r=3.1 />
<circle class=Q cx=203 cy=92.8 r=3.1 />
<circle class=Q cx=219.5 cy=92.4 r=3.1 />
<circle class=S cx=172.8 cy=95.9 r=3.1 />
<circle class=P cx=206.2 cy=92.3 r=3.1 />
<circle class=Q cx=217.7 cy=92.6 r=3.1 />
<circle class=N cx=237.7 cy=89.3 r=3.1 />
<circle class=Q cx=181.2 cy=94.2 r=3.1 />
<circle class=R cx=178.8 cy=95 r=3.1 />
<circle class=O cx=229.8 cy=90.2 r=3.1 />
<circle class=N cx=281.5 cy=88.7 r=3.1 />
<circle class=Q cx=183.6 cy=93.4 r=3.1 />
<circle class=P cx=227.4 cy=91.1 r=3.1 />
<circle class=k6 cx=156.6 cy=120.1 r=3.1 />
<circle class=t cx=156.7 cy=57.4 r=3.1 />
<circle class=P cx=221.2 cy=92.1 r=3.1 />
<circle class=M cx=292.2 cy=87.7 r=3.1 />
<circle class=W cx=18.3 cy=102.8 r=3.1 />
<circle class=t cx=260.7 cy=57.2 r=3.1 />
<circle class=u cx=247.3 cy=59.1 r=3.1 />
<circle class=q cx=242.7 cy=53.7 r=3.1 />
<circle class=Q cx=196.2 cy=93 r=3.1 />
<circle class=Q cx=198 cy=93.1 r=3.1 />
<circle class=t cx=260.5 cy=57.9 r=3.1 />
<circle class=T cx=167.2 cy=98.5 r=3.1 />
<circle class=R cx=176.4 cy=95.7 r=3.1 />
<circle class=O cx=231.9 cy=90.3 r=3.1 />
<circle class=U cx=164.1 cy=100.2 r=3.1 />
<circle class=Q cx=201.5 cy=93.5 r=3.1 />
<circle class=Q cx=214.2 cy=93 r=3.1 />
<circle class=Q cx=194.4 cy=92.9 r=3.1 />
<circle class=u cx=220.7 cy=59.1 r=3.1 />
<circle class=N cx=266.2 cy=88.7 r=3.1 />
<circle class=q cx=238.8 cy=54.2 r=3.1 />
<circle class=V cx=160.8 cy=102.1 r=3.1 />
<circle class=S cx=173.9 cy=96.8 r=3.1 />
<circle class=X cx=119.6 cy=105 r=3.1 />
<circle class=Q cx=199.8 cy=93.1 r=3.1 />
<circle class=r cx=248.2 cy=55.3 r=3.1 />
<circle class=P cx=207.9 cy=92.5 r=3.1 />
<circle class=v cx=236.3 cy=59.7 r=3.1 />
<circle class=N cx=234.5 cy=89.5 r=3.1 />
<circle class=Q cx=191 cy=94.4 r=3.1 />
<circle class=P cx=204.7 cy=92.7 r=3.1 />
<circle class=Q cx=188.6 cy=93.3 r=3.1 />
<circle class=T cx=168.3 cy=99.4 r=3.1 />
<circle class=u cx=216.6 cy=58.6 r=3.1 />
<circle class=N cx=272.8 cy=88.3 r=3.1 />
<circle class=N cx=240.4 cy=88.4 r=3.1 />
<circle class=P cx=222.9 cy=91.8 r=3.1 />
<circle class=N cx=251.1 cy=88.2 r=3.1 />
<circle class=q cx=259.9 cy=53.9 r=3.1 />
<circle class=W cx=162 cy=103 r=3.1 />
<circle class=P cx=211 cy=92.5 r=3.1 />
<circle class=K cx=347.2 cy=84.2 r=3.1 />
<circle class=Q cx=212.6 cy=93.3 r=3.1 />
<circle class=O cx=229.2 cy=91 r=3.1 />
<circle class=k5 cx=159.4 cy=119 r=3.1 />
<circle class=Q cx=196.6 cy=94 r=3.1 />
<circle class=Q cx=182.1 cy=94.9 r=3.1 />
<circle class=Q cx=203.2 cy=93.6 r=3.1 />
<circle class=O cx=234 cy=90.6 r=3.1 />
<circle class=M cx=260.6 cy=87.7 r=3.1 />
<circle class=L cx=343.5 cy=85.9 r=3.1 />
<circle class=N cx=239.8 cy=89.5 r=3.1 />
<circle class=M cx=302.5 cy=87.9 r=3.1 />
<circle class=W cx=157.6 cy=103.9 r=3.1 />
<circle class=N cx=243 cy=89.2 r=3.1 />
<circle class=S cx=171.4 cy=97.7 r=3.1 />
<circle class=Q cx=184.5 cy=94.1 r=3.1 />
<circle class=k5 cx=150.1 cy=119 r=3.1 />
<circle class=Y cx=107.3 cy=107.3 r=3.1 />
<circle class=P cx=206.4 cy=93 r=3.1 />
<circle class=O cx=242.3 cy=90.4 r=3.1 />
<circle class=Z cx=84.8 cy=108.6 r=3.1 />
<circle class=O cx=231.2 cy=91.2 r=3.1 />
<circle class=M cx=340 cy=87.5 r=3.1 />
<circle class=Q cx=193 cy=93.9 r=3.1 />
<circle class=P cx=215.8 cy=92.2 r=3.1 />
<circle class=N cx=236.7 cy=89.8 r=3.1 />
<circle class=Q cx=187.1 cy=94.7 r=3.1 />
<circle class=P cx=224.7 cy=91.6 r=3.1 />
<circle class=U cx=165.6 cy=100.7 r=3.1 />
<circle class=Q cx=186.7 cy=93.4 r=3.1 />
<circle class=Q cx=211 cy=93.6 r=3.1 />
<circle class=R cx=180 cy=95.4 r=3.1 />
<circle class=P cx=209.5 cy=92.8 r=3.1 />
<circle class=r cx=224.1 cy=55.9 r=3.1 />
<circle class=u cx=167 cy=59.6 r=3.1 />
<circle class=N cx=336.6 cy=89 r=3.1 />
<circle class=P cx=226.6 cy=91.6 r=3.1 />
<circle class=Q cx=194.9 cy=93.7 r=3.1 />
<circle class=Q cx=207.9 cy=93.4 r=3.1 />
<circle class=N cx=246.2 cy=88.9 r=3.1 />
<circle class=O cx=333.2 cy=90.5 r=3.1 />
<circle class=Q cx=200.2 cy=93.9 r=3.1 />
<circle class=N cx=254 cy=89.2 r=3.1 />
<circle class=t cx=166 cy=58.3 r=3.1 />
<circle class=N cx=313.3 cy=90.2 r=3.1 />
<circle class=Q cx=189.3 cy=94.1 r=3.1 />
<circle class=t cx=263.2 cy=58.1 r=3.1 />
<circle class=s cx=226.4 cy=56.9 r=3.1 />
<circle class=S cx=175.2 cy=97.2 r=3.1 />
<circle class=N cx=270.8 cy=89 r=3.1 />
<circle class=N cx=259.2 cy=88.5 r=3.1 />
<circle class=T cx=169.7 cy=100 r=3.1 />
<circle class=u cx=172.5 cy=59.1 r=3.1 />
<circle class=q cx=253.7 cy=54.6 r=3.1 />
<circle class=k1 cx=58.4 cy=112.2 r=3.1 />
<circle class=S cx=178.4 cy=97.3 r=3.1 />
<circle class=M cx=254.6 cy=87.9 r=3.1 />
<circle class=N cx=238.9 cy=90.3 r=3.1 />
<circle class=P cx=215.6 cy=93.2 r=3.1 />
<circle class=P cx=222.4 cy=92.5 r=3.1 />
<circle class=P cx=220.7 cy=92.5 r=3.1 />
<circle class=O cx=235.9 cy=90.7 r=3.1 />
<circle class=N cx=315.1 cy=88.6 r=3.1 />
<circle class=P cx=217.3 cy=92.9 r=3.1 />
<circle class=W cx=159.3 cy=104.4 r=3.1 />
<circle class=N cx=264 cy=89.1 r=3.1 />
<circle class=R cx=177.9 cy=96 r=3.1 />
<circle class=T cx=17.2 cy=99.7 r=3.1 />
<circle class=P cx=204.9 cy=93.4 r=3.1 />
<circle class=P cx=218.9 cy=92.6 r=3.1 />
<circle class=O cx=329.5 cy=91.8 r=3.1 />
<circle class=Q cx=201.9 cy=93.9 r=3.1 />
<circle class=P cx=198.6 cy=93.4 r=3.1 />
<circle class=N cx=248.9 cy=89.8 r=3.1 />
<circle class=Q cx=209.4 cy=93.8 r=3.1 />
<circle class=Q cx=206.5 cy=93.9 r=3.1 />
<circle class=k2 cx=168.9 cy=114.2 r=3.1 />
<circle class=v cx=167.4 cy=60.5 r=3.1 />
<circle class=P cx=214 cy=93.4 r=3.1 />
<circle class=R cx=185.9 cy=95.9 r=3.1 />
<circle class=S cx=172.9 cy=98.1 r=3.1 />
<circle class=P cx=224.2 cy=92.3 r=3.1 />
<circle class=N cx=245.1 cy=89.6 r=3.1 />
<circle class=Q cx=212.4 cy=93.8 r=3.1 />
<circle class=Q cx=183.3 cy=95.3 r=3.1 />
<circle class=Q cx=193.6 cy=94.5 r=3.1 />
<circle class=O cx=228.4 cy=91.4 r=3.1 />
<circle class=Q cx=185.4 cy=94.6 r=3.1 />
<circle class=Q cx=203.5 cy=94.1 r=3.1 />
<circle class=Q cx=195.4 cy=94.5 r=3.1 />
<circle class=O cx=238 cy=91.1 r=3.1 />
<circle class=N cx=286.4 cy=89.1 r=3.1 />
<circle class=N cx=257.7 cy=89.2 r=3.1 />
<circle class=P cx=226 cy=92.3 r=3.1 />
<circle class=Q cx=190 cy=94.9 r=3.1 />
<circle class=O cx=232.9 cy=90.9 r=3.1 />
<circle class=M cx=277.5 cy=88.7 r=3.1 />
<circle class=N cx=262.5 cy=89.9 r=3.1 />
<circle class=M cx=298.6 cy=88.5 r=3.1 />
<circle class=O cx=230.3 cy=91.6 r=3.1 />
<circle class=V cx=164.3 cy=102.8 r=3.1 />
<circle class=Q cx=197.2 cy=94.3 r=3.1 />
<circle class=q cx=245.9 cy=54.8 r=3.1 />
<circle class=Y cx=90.7 cy=108.6 r=3.1 />
<circle class=P cx=220.3 cy=93.4 r=3.1 />
<circle class=P cx=217 cy=93.8 r=3.1 />
<circle class=P cx=222 cy=93.3 r=3.1 />
<circle class=Q cx=200.5 cy=94.6 r=3.1 />
<circle class=Q cx=198.9 cy=94.4 r=3.1 />
<circle class=N cx=268.7 cy=89.6 r=3.1 />
<circle class=Q cx=181.2 cy=95.7 r=3.1 />
<circle class=t cx=219.2 cy=59.3 r=3.1 />
<circle class=L cx=287.5 cy=87.7 r=3.1 />
<circle class=Q cx=205 cy=94.3 r=3.1 />
<circle class=O cx=232.3 cy=92 r=3.1 />
<circle class=M cx=249.1 cy=88.3 r=3.1 />
<circle class=Q cx=188.1 cy=95 r=3.1 />
<circle class=Q cx=192 cy=94.4 r=3.1 />
<circle class=t cx=152.7 cy=59.1 r=3.1 />
<circle class=Q cx=209.4 cy=94.7 r=3.1 />
<circle class=X cx=112.4 cy=107 r=3.1 />
<circle class=s cx=250.9 cy=57.5 r=3.1 />
<circle class=T cx=174 cy=98.8 r=3.1 />
<circle class=T cx=167.6 cy=100.7 r=3.1 />
<circle class=P cx=208 cy=93.9 r=3.1 />
<circle class=P cx=210.9 cy=94 r=3.1 />
<circle class=P cx=218.5 cy=93.3 r=3.1 />
<circle class=P cx=229.7 cy=92.5 r=3.1 />
<circle class=N cx=240.7 cy=90.4 r=3.1 />
<circle class=N cx=252.1 cy=89.5 r=3.1 />
<circle class=O cx=227.7 cy=92.1 r=3.1 />
<circle class=k6 cx=163.2 cy=121.2 r=3.1 />
<circle class=S cx=176.7 cy=97.4 r=3.1 />
<circle class=N cx=244 cy=90.3 r=3.1 />
<circle class=N cx=295.8 cy=89.4 r=3.1 />
<circle class=R cx=182 cy=96.6 r=3.1 />
<circle class=N cx=284 cy=89.9 r=3.1 />
<circle class=u cx=164 cy=60.5 r=3.1 />
<circle class=P cx=215.3 cy=93.7 r=3.1 />
<circle class=N cx=247.4 cy=90.3 r=3.1 />
<circle class=Q cx=184.2 cy=95.9 r=3.1 />
<circle class=N cx=256.2 cy=89.9 r=3.1 />
<circle class=u cx=156.3 cy=60.5 r=3.1 />
<circle class=r cx=158.7 cy=55.8 r=3.1 />
<circle class=t cx=254 cy=59.7 r=3.1 />
<circle class=Y cx=95 cy=109.2 r=3.1 />
<circle class=Q cx=203.7 cy=94.9 r=3.1 />
<circle class=Q cx=206.6 cy=94.5 r=3.1 />
<circle class=u cx=283.4 cy=60.1 r=3.1 />
<circle class=W cx=161.6 cy=104.4 r=3.1 />
<circle class=k7 cx=155.1 cy=122.3 r=3.1 />
<circle class=M cx=275.3 cy=89.3 r=3.1 />
<circle class=Q cx=192.5 cy=95.3 r=3.1 />
<circle class=Q cx=202.2 cy=94.4 r=3.1 />
<circle class=P cx=223.6 cy=92.8 r=3.1 />
<circle class=P cx=225.4 cy=93 r=3.1 />
<circle class=r cx=248.3 cy=56 r=3.1 />
<circle class=P cx=213.8 cy=94 r=3.1 />
<circle class=W cx=157 cy=105.6 r=3.1 />
<circle class=p cx=249.6 cy=53.5 r=3.1 />
<circle class=k0 cx=66.9 cy=111.8 r=3.1 />
<circle class=P cx=231.6 cy=92.7 r=3.1 />
<circle class=Q cx=190.7 cy=95.5 r=3.1 />
<circle class=N cx=234.7 cy=90.9 r=3.1 />
<circle class=s cx=154.4 cy=57.6 r=3.1 />
<circle class=r cx=270.3 cy=56.4 r=3.1 />
<circle class=R cx=180 cy=97.3 r=3.1 />
<circle class=U cx=169 cy=101.3 r=3.1 />
<circle class=N cx=251 cy=90.4 r=3.1 />
<circle class=v cx=154.2 cy=61.3 r=3.1 />
<circle class=O cx=234.2 cy=92.1 r=3.1 />
<circle class=Q cx=205.2 cy=95.1 r=3.1 />
<circle class=N cx=260.6 cy=90.4 r=3.1 />
<circle class=Q cx=196 cy=94.9 r=3.1 />
<circle class=Q cx=197.7 cy=95 r=3.1 />
<circle class=Q cx=210.8 cy=94.9 r=3.1 />
<circle class=t cx=251.9 cy=59.1 r=3.1 />
<circle class=u cx=254.8 cy=60.7 r=3.1 />
<circle class=Q cx=188.9 cy=95.7 r=3.1 />
<circle class=Q cx=194.4 cy=94.9 r=3.1 />
<circle class=Q cx=200.9 cy=95.2 r=3.1 />
<circle class=N cx=236.8 cy=91.5 r=3.1 />
<circle class=s cx=240.9 cy=58.4 r=3.1 />
<circle class=P cx=212.3 cy=94.2 r=3.1 />
<circle class=s cx=171.1 cy=58.3 r=3.1 />
<circle class=Q cx=199.3 cy=95 r=3.1 />
<circle class=v cx=172.9 cy=61.4 r=3.1 />
<circle class=Y cx=98.9 cy=109.8 r=3.1 />
<circle class=P cx=221.5 cy=93.9 r=3.1 />
<circle class=Q cx=208 cy=94.7 r=3.1 />
<circle class=s cx=166.9 cy=58.7 r=3.1 />
<circle class=s cx=273 cy=57.9 r=3.1 />
<circle class=R cx=185 cy=96.7 r=3.1 />
<circle class=Q cx=187 cy=96 r=3.1 />
<circle class=T cx=172 cy=99.5 r=3.1 />
<circle class=u cx=171.7 cy=61 r=3.1 />
<circle class=P cx=218.2 cy=94 r=3.1 />
<circle class=Q cx=202.4 cy=95.4 r=3.1 />
<circle class=O cx=227.1 cy=92.9 r=3.1 />
<circle class=S cx=177.8 cy=98 r=3.1 />
<circle class=N cx=246.2 cy=91 r=3.1 />
<circle class=P cx=215.1 cy=94.6 r=3.1 />
<circle class=u cx=163.8 cy=61 r=3.1 />
<circle class=q cx=166.4 cy=55.3 r=3.1 />
<circle class=N cx=307 cy=90.1 r=3.1 />
<circle class=s cx=252.9 cy=57.8 r=3.1 />
<circle class=P cx=216.6 cy=94.2 r=3.1 />
<circle class=X cx=116.6 cy=107 r=3.1 />
<circle class=N cx=239.6 cy=91 r=3.1 />
<circle class=Q cx=209.4 cy=95.2 r=3.1 />
<circle class=Q cx=206.7 cy=95.2 r=3.1 />
<circle class=O cx=228.9 cy=93 r=3.1 />
<circle class=N cx=242.7 cy=90.7 r=3.1 />
<circle class=N cx=249.8 cy=91.1 r=3.1 />
<circle class=W cx=158.9 cy=105.9 r=3.1 />
<circle class=Q cx=196.5 cy=95.8 r=3.1 />
<circle class=O cx=236.1 cy=92.3 r=3.1 />
<circle class=O cx=238.9 cy=92 r=3.1 />
<circle class=P cx=219.7 cy=93.6 r=3.1 />
<circle class=Q cx=213.6 cy=94.8 r=3.1 />
<circle class=R cx=183.1 cy=97.1 r=3.1 />
<circle class=k0 cx=73 cy=112.1 r=3.1 />
<circle class=Q cx=203.9 cy=95.6 r=3.1 />
<circle class=P cx=223 cy=93.5 r=3.1 />
<circle class=Q cx=198.1 cy=95.8 r=3.1 />
<circle class=Q cx=216.4 cy=95.3 r=3.1 />
<circle class=R cx=187.7 cy=96.9 r=3.1 />
<circle class=Q cx=189.6 cy=96.5 r=3.1 />
<circle class=N cx=254.5 cy=90.3 r=3.1 />
<circle class=U cx=166.6 cy=102.4 r=3.1 />
<circle class=Q cx=193.2 cy=95.9 r=3.1 />
<circle class=r cx=278.3 cy=56.8 r=3.1 />
<circle class=k1 cx=20.2 cy=114.7 r=3.1 />
<circle class=S cx=175.7 cy=98.8 r=3.1 />
<circle class=t cx=154.8 cy=59.8 r=3.1 />
<circle class=Q cx=191.4 cy=96.1 r=3.1 />
<circle class=O cx=233.2 cy=92.6 r=3.1 />
<circle class=Q cx=199.7 cy=95.8 r=3.1 />
<circle class=Q cx=201.2 cy=96.1 r=3.1 />
<circle class=v cx=180.7 cy=62.9 r=3.1 />
<circle class=Q cx=194.9 cy=95.6 r=3.1 />
<circle class=P cx=217.9 cy=94.9 r=3.1 />
<circle class=O cx=230.7 cy=93.2 r=3.1 />
<circle class=k0 cx=164.7 cy=113.6 r=3.1 />
<circle class=P cx=224.7 cy=93.4 r=3.1 />
<circle class=q cx=160.9 cy=56 r=3.1 />
<circle class=Q cx=208.1 cy=95.5 r=3.1 />
<circle class=M cx=265.6 cy=89.5 r=3.1 />
<circle class=T cx=173.3 cy=100 r=3.1 />
<circle class=N cx=257.7 cy=91.9 r=3.1 />
<circle class=P cx=212.1 cy=94.9 r=3.1 />
<circle class=R cx=181.2 cy=97.5 r=3.1 />
<circle class=u cx=223.8 cy=61.5 r=3.1 />
<circle class=O cx=252.5 cy=92.2 r=3.1 />
<circle class=N cx=258.5 cy=90.7 r=3.1 />
<circle class=t cx=273.7 cy=60.2 r=3.1 />
<circle class=s cx=220.9 cy=58.2 r=3.1 />
<circle class=V cx=163.9 cy=104.1 r=3.1 />
<circle class=N cx=264.4 cy=90.6 r=3.1 />
<circle class=N cx=321 cy=91.4 r=3.1 />
<circle class=P cx=228.2 cy=93.8 r=3.1 />
<circle class=Q cx=210.7 cy=95.4 r=3.1 />
<circle class=N cx=241.7 cy=91.5 r=3.1 />
<circle class=P cx=222.6 cy=94.4 r=3.1 />
<circle class=N cx=279 cy=91.1 r=3.1 />
<circle class=R cx=190.2 cy=97.4 r=3.1 />
<circle class=Q cx=214.8 cy=95.3 r=3.1 />
<circle class=M cx=291.4 cy=89.6 r=3.1 />
<circle class=P cx=219.3 cy=94.4 r=3.1 />
<circle class=P cx=234.6 cy=94.2 r=3.1 />
<circle class=N cx=263.3 cy=91.5 r=3.1 />
<circle class=P cx=224.2 cy=94.5 r=3.1 />
<circle class=Q cx=186 cy=97 r=3.1 />
<circle class=q cx=159.7 cy=56.4 r=3.1 />
<circle class=O cx=235.1 cy=93 r=3.1 />
<circle class=P cx=220.9 cy=94.3 r=3.1 />
<circle class=N cx=269.8 cy=91.6 r=3.1 />
<circle class=U cx=168.2 cy=102.9 r=3.1 />
<circle class=T cx=171 cy=101.1 r=3.1 />
<circle class=O cx=226.3 cy=93.3 r=3.1 />
<circle class=T cx=174.4 cy=100.7 r=3.1 />
<circle class=Q cx=197 cy=96.5 r=3.1 />
<circle class=W cx=120.7 cy=106.9 r=3.1 />
<circle class=p cx=264.4 cy=54 r=3.1 />
<circle class=O cx=232.4 cy=93.3 r=3.1 />
<circle class=v cx=175.7 cy=63.5 r=3.1 />
<circle class=N cx=244.7 cy=91.3 r=3.1 />
<circle class=R cx=182.1 cy=98.4 r=3.1 />
<circle class=Q cx=206.8 cy=95.9 r=3.1 />
<circle class=N cx=252.9 cy=90.8 r=3.1 />
<circle class=Y cx=107 cy=110.4 r=3.1 />
<circle class=M cx=279.9 cy=89.7 r=3.1 />
<circle class=Q cx=195.4 cy=96.4 r=3.1 />
<circle class=Y cx=104.5 cy=109.3 r=3.1 />
<circle class=N cx=289.3 cy=90.5 r=3.1 />
<circle class=s cx=165.7 cy=58.8 r=3.1 />
<circle class=Q cx=209.4 cy=95.7 r=3.1 />
<circle class=P cx=205.4 cy=95.3 r=3.1 />
<circle class=R cx=188.6 cy=97.5 r=3.1 />
<circle class=N cx=287.6 cy=91.7 r=3.1 />
<circle class=Q cx=184.2 cy=97.4 r=3.1 />
<circle class=u cx=160.8 cy=62 r=3.1 />
<circle class=Q cx=202.8 cy=95.7 r=3.1 />
<circle class=Q cx=204.2 cy=96.1 r=3.1 />
<circle class=p cx=257.4 cy=55.2 r=3.1 />
<circle class=R cx=179.4 cy=98 r=3.1 />
<circle class=Q cx=200.1 cy=96.5 r=3.1 />
<circle class=N cx=237.7 cy=92.3 r=3.1 />
<circle class=S cx=177.1 cy=99.1 r=3.1 />
<circle class=Q cx=192.2 cy=96.6 r=3.1 />
<circle class=Q cx=201.5 cy=96.7 r=3.1 />
<circle class=W cx=161.3 cy=105.7 r=3.1 />
<circle class=Q cx=198.6 cy=96.2 r=3.1 />
<circle class=N cx=300.2 cy=91.6 r=3.1 />
<circle class=R cx=186.8 cy=97.8 r=3.1 />
<circle class=u cx=160.5 cy=61.3 r=3.1 />
<circle class=R cx=184.9 cy=98.4 r=3.1 />
<circle class=N cx=276.7 cy=91.7 r=3.1 />
<circle class=P cx=220.5 cy=95.2 r=3.1 />
<circle class=Q cx=216 cy=95.7 r=3.1 />
<circle class=L cx=271.4 cy=89 r=3.1 />
<circle class=W cx=123.5 cy=107.5 r=3.1 />
<circle class=P cx=217.5 cy=95.4 r=3.1 />
<circle class=k2 cx=42.7 cy=116.8 r=3.1 />
<circle class=N cx=243.7 cy=92 r=3.1 />
<circle class=Q cx=193.9 cy=96.2 r=3.1 />
<circle class=W cx=156.7 cy=107.1 r=3.1 />
<circle class=P cx=213.4 cy=95.1 r=3.1 />
<circle class=Q cx=205.5 cy=96.3 r=3.1 />
<circle class=v cx=181.8 cy=63.2 r=3.1 />
<circle class=Z cx=80.5 cy=111.6 r=3.1 />
<circle class=R cx=180.2 cy=98.9 r=3.1 />
<circle class=O cx=236.9 cy=93.2 r=3.1 />
<circle class=Q cx=203 cy=96.8 r=3.1 />
<circle class=V cx=165.8 cy=104.2 r=3.1 />
<circle class=Q cx=197.4 cy=97.3 r=3.1 />
<circle class=N cx=240.5 cy=91.9 r=3.1 />
<circle class=t cx=172.8 cy=60.7 r=3.1 />
<circle class=P cx=218.9 cy=95.1 r=3.1 />
<circle class=Q cx=208.1 cy=96 r=3.1 />
<circle class=N cx=247.7 cy=91 r=3.1 />
<circle class=O cx=225.7 cy=94 r=3.1 />
<circle class=U cx=169.7 cy=103.2 r=3.1 />
<circle class=q cx=168.9 cy=56.5 r=3.1 />
<circle class=q cx=263.5 cy=56 r=3.1 />
<circle class=P cx=229.2 cy=94.6 r=3.1 />
<circle class=W cx=158.2 cy=107.8 r=3.1 />
<circle class=Z cx=19.2 cy=111.6 r=3.1 />
<circle class=M cx=269.8 cy=89.9 r=3.1 />
<circle class=Q cx=210.7 cy=95.9 r=3.1 />
<circle class=u cx=213.8 cy=62 r=3.1 />
<circle class=O cx=229.7 cy=93.4 r=3.1 />
<circle class=T cx=172.5 cy=101.4 r=3.1 />
<circle class=O cx=254.7 cy=93.1 r=3.1 />
<circle class=P cx=222 cy=94.9 r=3.1 />
<circle class=P cx=212 cy=95.3 r=3.1 />
<circle class=P cx=223.6 cy=94.9 r=3.1 />
<circle class=M cx=301.3 cy=90 r=3.1 />
<circle class=N cx=246.9 cy=92 r=3.1 />
<circle class=O cx=227.4 cy=94.1 r=3.1 />
<circle class=Q cx=194.4 cy=97.2 r=3.1 />
<circle class=P cx=225.2 cy=95.1 r=3.1 />
<circle class=R cx=189.4 cy=98.1 r=3.1 />
<circle class=t cx=211 cy=60.8 r=3.1 />
<circle class=N cx=315.7 cy=91.8 r=3.1 />
<circle class=Q cx=192.8 cy=97.3 r=3.1 />
<circle class=N cx=239.6 cy=92.8 r=3.1 />
<circle class=P cx=214.6 cy=95.6 r=3.1 />
<circle class=Y cx=111.5 cy=110.3 r=3.1 />
<circle class=V cx=163 cy=106 r=3.1 />
<circle class=Q cx=196 cy=97 r=3.1 />
<circle class=N cx=242.7 cy=92.7 r=3.1 />
<circle class=k2 cx=49.9 cy=117.2 r=3.1 />
<circle class=Q cx=209.4 cy=96.4 r=3.1 />
<circle class=o cx=254.1 cy=53.9 r=3.1 />
<circle class=s cx=158.9 cy=59.6 r=3.1 />
<circle class=Q cx=204.4 cy=96.8 r=3.1 />
<circle class=R cx=183.3 cy=98.6 r=3.1 />
<circle class=N cx=297 cy=92.3 r=3.1 />
<circle class=P cx=213.2 cy=96 r=3.1 />
<circle class=O cx=238.9 cy=93.7 r=3.1 />
<circle class=Q cx=200.5 cy=97.1 r=3.1 />
<circle class=R cx=187.7 cy=98.4 r=3.1 />
<circle class=O cx=231.4 cy=93.6 r=3.1 />
<circle class=t cx=257.3 cy=60.5 r=3.1 />
<circle class=q cx=164.8 cy=56.8 r=3.1 />
<circle class=Q cx=199.1 cy=96.9 r=3.1 />
<circle class=O cx=236 cy=93.8 r=3.1 />
<circle class=Q cx=191.3 cy=97.4 r=3.1 />
<circle class=N cx=260.7 cy=91.6 r=3.1 />
<circle class=Q cx=211.9 cy=96.4 r=3.1 />
<circle class=N cx=265.9 cy=92.8 r=3.1 />
<circle class=N cx=250.3 cy=92.1 r=3.1 />
<circle class=s cx=246.1 cy=60 r=3.1 />
<circle class=r cx=253.3 cy=58.9 r=3.1 />
<circle class=Q cx=201.9 cy=97.3 r=3.1 />
<circle class=S cx=176.1 cy=100.6 r=3.1 />
<circle class=Q cx=206.9 cy=96.2 r=3.1 />
<circle class=T cx=173.7 cy=102 r=3.1 />
<circle class=P cx=217.1 cy=96.1 r=3.1 />
<circle class=K cx=347.1 cy=88.2 r=3.1 />
<circle class=P cx=220 cy=95.7 r=3.1 />
<circle class=L cx=343.4 cy=89.7 r=3.1 />
<circle class=M cx=339.8 cy=91.2 r=3.1 />
<circle class=Q cx=215.7 cy=96.3 r=3.1 />
<circle class=Q cx=205.7 cy=97 r=3.1 />
<circle class=P cx=230.8 cy=94.6 r=3.1 />
<circle class=Q cx=208.1 cy=96.8 r=3.1 />
<circle class=Q cx=195 cy=98 r=3.1 />
<circle class=N cx=336.3 cy=92.6 r=3.1 />
<circle class=P cx=218.5 cy=95.8 r=3.1 />
<circle class=t cx=269.4 cy=60.8 r=3.1 />
<circle class=Q cx=214.4 cy=96.7 r=3.1 />
<circle class=Y cx=86.4 cy=111.6 r=3.1 />
<circle class=N cx=255 cy=91.5 r=3.1 />
<circle class=s cx=168.3 cy=59.8 r=3.1 />
<circle class=R cx=186 cy=98.7 r=3.1 />
<circle class=R cx=181.4 cy=99.2 r=3.1 />
<circle class=R cx=178.6 cy=99.1 r=3.1 />
<circle class=P cx=221.5 cy=95.6 r=3.1 />
<circle class=S cx=179.3 cy=100.2 r=3.1 />
<circle class=s cx=255.3 cy=60.1 r=3.1 />
<circle class=N cx=311.8 cy=92.6 r=3.1 />
<circle class=U cx=167.6 cy=104.3 r=3.1 />
<circle class=s cx=155.5 cy=60.3 r=3.1 />
<circle class=Q cx=210.6 cy=96.7 r=3.1 />
<circle class=v cx=177.9 cy=63.6 r=3.1 />
<circle class=O cx=233.2 cy=93.9 r=3.1 />
<circle class=Q cx=199.4 cy=97.9 r=3.1 />
<circle class=N cx=249.2 cy=92.8 r=3.1 />
<circle class=Q cx=191.9 cy=98.3 r=3.1 />
<circle class=k2 cx=57.1 cy=117.3 r=3.1 />
<circle class=P cx=223 cy=95.5 r=3.1 />
<circle class=P cx=228.4 cy=95.1 r=3.1 />
<circle class=N cx=259.2 cy=92.2 r=3.1 />
<circle class=Q cx=204.6 cy=97.7 r=3.1 />
<circle class=Q cx=207 cy=97.3 r=3.1 />
<circle class=O cx=226.6 cy=94.7 r=3.1 />
<circle class=Q cx=196.6 cy=97.7 r=3.1 />
<circle class=Q cx=198 cy=97.7 r=3.1 />
<circle class=Q cx=203.3 cy=97.2 r=3.1 />
<circle class=N cx=282 cy=92.7 r=3.1 />
<circle class=Q cx=211.8 cy=97.3 r=3.1 />
<circle class=R cx=184.3 cy=99.1 r=3.1 />
<circle class=Q cx=213 cy=96.8 r=3.1 />
<circle class=S cx=182.3 cy=100 r=3.1 />
<circle class=Q cx=190.3 cy=98.4 r=3.1 />
<circle class=N cx=241.4 cy=93.1 r=3.1 />
<circle class=v cx=164.9 cy=63.3 r=3.1 />
<circle class=p cx=248.4 cy=55.1 r=3.1 />
<circle class=N cx=252.8 cy=93.3 r=3.1 />
<circle class=Q cx=221 cy=96.6 r=3.1 />
<circle class=o cx=244.9 cy=54.5 r=3.1 />
<circle class=P cx=224.5 cy=95.5 r=3.1 />
<circle class=t cx=275.7 cy=61.9 r=3.1 />
<circle class=N cx=245.3 cy=92.2 r=3.1 />
<circle class=Q cx=193.6 cy=97.7 r=3.1 />
<circle class=M cx=283.2 cy=91.4 r=3.1 />
<circle class=P cx=230.1 cy=95.3 r=3.1 />
<circle class=Q cx=218.1 cy=96.7 r=3.1 />
<circle class=O cx=237.7 cy=94.1 r=3.1 />
<circle class=T cx=171.7 cy=103 r=3.1 />
<circle class=N cx=263.9 cy=93.2 r=3.1 />
</g>
<g class="o13">
<circle class=S cx=177.4 cy=101 r=3.1 />
<circle class=t cx=262.3 cy=61.7 r=3.1 />
<circle class=Q cx=200.9 cy=97.7 r=3.1 />
<circle class=R cx=188.7 cy=98.7 r=3.1 />
<circle class=Q cx=209.4 cy=96.9 r=3.1 />
<circle class=s cx=169.8 cy=60.4 r=3.1 />
<circle class=W cx=160.8 cy=107.3 r=3.1 />
<circle class=N cx=244.5 cy=93.1 r=3.1 />
<circle class=Q cx=208.2 cy=97.6 r=3.1 />
<circle class=u cx=221.1 cy=62.7 r=3.1 />
<circle class=p cx=275 cy=55.5 r=3.1 />
<circle class=p cx=231 cy=55.3 r=3.1 />
<circle class=M cx=273 cy=91.5 r=3.1 />
<circle class=X cx=116.3 cy=109.9 r=3.1 />
<circle class=Q cx=202.2 cy=97.9 r=3.1 />
<circle class=O cx=234.9 cy=94.2 r=3.1 />
<circle class=O cx=232.3 cy=94.6 r=3.1 />
<circle class=O cx=328 cy=94.7 r=3.1 />
<circle class=P cx=219.5 cy=96.3 r=3.1 />
<circle class=W cx=18.2 cy=108.6 r=3.1 />
<circle class=S cx=180.5 cy=100.7 r=3.1 />
<circle class=M cx=265.8 cy=90.9 r=3.1 />
<circle class=P cx=226 cy=95.4 r=3.1 />
<circle class=O cx=243.6 cy=94 r=3.1 />
<circle class=Q cx=205.8 cy=97.7 r=3.1 />
<circle class=q cx=277.2 cy=58.2 r=3.1 />
<circle class=Q cx=195.6 cy=98.5 r=3.1 />
<circle class=t cx=159.1 cy=62 r=3.1 />
<circle class=N cx=247.8 cy=93.3 r=3.1 />
<circle class=R cx=192.6 cy=98.9 r=3.1 />
<circle class=N cx=271.5 cy=92.4 r=3.1 />
<circle class=q cx=237.9 cy=58 r=3.1 />
<circle class=T cx=175.3 cy=102 r=3.1 />
<circle class=P cx=216.7 cy=96.5 r=3.1 />
<circle class=V cx=165.4 cy=105.5 r=3.1 />
<circle class=P cx=222.4 cy=96.2 r=3.1 />
<circle class=p cx=230.5 cy=56.3 r=3.1 />
<circle class=R cx=185.2 cy=99.7 r=3.1 />
<circle class=Q cx=203.5 cy=98 r=3.1 />
<circle class=t cx=232 cy=61.7 r=3.1 />
<circle class=Q cx=194.2 cy=98.5 r=3.1 />
<circle class=Q cx=197.1 cy=98.3 r=3.1 />
<circle class=Q cx=199.9 cy=98.5 r=3.1 />
<circle class=Y cx=92.4 cy=111.3 r=3.1 />
<circle class=N cx=256.5 cy=93.6 r=3.1 />
<circle class=N cx=240.3 cy=93.7 r=3.1 />
<circle class=R cx=191.1 cy=99.1 r=3.1 />
<circle class=Q cx=210.5 cy=97.3 r=3.1 />
<circle class=Q cx=198.5 cy=98.3 r=3.1 />
<circle class=P cx=231.6 cy=95.4 r=3.1 />
<circle class=N cx=270 cy=93.3 r=3.1 />
<circle class=Q cx=187.1 cy=98.9 r=3.1 />
<circle class=P cx=227.6 cy=95.5 r=3.1 />
<circle class=Q cx=212.8 cy=97.5 r=3.1 />
<circle class=O cx=236.8 cy=94.8 r=3.1 />
<circle class=P cx=215.4 cy=96.7 r=3.1 />
<circle class=Q cx=214.1 cy=97 r=3.1 />
<circle class=r cx=165.9 cy=59.6 r=3.1 />
<circle class=Y cx=95.9 cy=112.1 r=3.1 />
<circle class=u cx=279.7 cy=63.2 r=3.1 />
<circle class=N cx=262.1 cy=93.7 r=3.1 />
<circle class=O cx=234.1 cy=94.9 r=3.1 />
<circle class=T cx=173.1 cy=103.3 r=3.1 />
<circle class=t cx=218.5 cy=62 r=3.1 />
<circle class=O cx=239.6 cy=94.6 r=3.1 />
<circle class=N cx=257.3 cy=92.5 r=3.1 />
<circle class=Q cx=201.2 cy=98.5 r=3.1 />
<circle class=R cx=187.8 cy=100 r=3.1 />
<circle class=U cx=169.7 cy=104 r=3.1 />
<circle class=R cx=189.5 cy=99.3 r=3.1 />
<circle class=S cx=178.7 cy=101.3 r=3.1 />
<circle class=Q cx=216.4 cy=97.6 r=3.1 />
<circle class=Q cx=207.1 cy=97.8 r=3.1 />
<circle class=P cx=225.4 cy=96.2 r=3.1 />
<circle class=Q cx=209.3 cy=97.7 r=3.1 />
<circle class=X cx=119.9 cy=110 r=3.1 />
<circle class=Q cx=211.6 cy=97.8 r=3.1 />
<circle class=P cx=219.1 cy=97.1 r=3.1 />
<circle class=p cx=263.7 cy=56.1 r=3.1 />
<circle class=P cx=223.8 cy=95.9 r=3.1 />
<circle class=R cx=183.6 cy=100.1 r=3.1 />
<circle class=W cx=157 cy=108.2 r=3.1 />
<circle class=Y cx=99.8 cy=112.6 r=3.1 />
<circle class=N cx=251 cy=93.4 r=3.1 />
<circle class=Q cx=208.2 cy=98.2 r=3.1 />
<circle class=R cx=194.8 cy=99.4 r=3.1 />
<circle class=Q cx=204.8 cy=97.9 r=3.1 />
<circle class=Q cx=196.2 cy=99.2 r=3.1 />
<circle class=M cx=291.6 cy=91.9 r=3.1 />
<circle class=Q cx=206 cy=98.4 r=3.1 />
<circle class=O cx=235.9 cy=95.4 r=3.1 />
<circle class=S cx=181.7 cy=101 r=3.1 />
<circle class=P cx=217.7 cy=97.1 r=3.1 />
<circle class=O cx=238.7 cy=95.4 r=3.1 />
<circle class=R cx=193.3 cy=99.5 r=3.1 />
<circle class=R cx=186.2 cy=100.3 r=3.1 />
<circle class=N cx=278.5 cy=92.6 r=3.1 />
<circle class=O cx=229 cy=95.5 r=3.1 />
<circle class=Q cx=199 cy=99.1 r=3.1 />
<circle class=N cx=289.7 cy=92.9 r=3.1 />
<circle class=Q cx=202.6 cy=98.4 r=3.1 />
<circle class=r cx=211.3 cy=59.8 r=3.1 />
<circle class=P cx=220.4 cy=96.7 r=3.1 />
<circle class=U cx=167.3 cy=105.6 r=3.1 />
<circle class=u cx=156.6 cy=63.3 r=3.1 />
<circle class=P cx=221.8 cy=96.7 r=3.1 />
<circle class=R cx=191.8 cy=99.7 r=3.1 />
<circle class=q cx=270.6 cy=57.6 r=3.1 />
<circle class=S cx=176.8 cy=102.2 r=3.1 />
<circle class=N cx=242.2 cy=94.2 r=3.1 />
<circle class=u cx=158.3 cy=63.4 r=3.1 />
<circle class=Q cx=197.7 cy=98.9 r=3.1 />
<circle class=O cx=233.2 cy=95.5 r=3.1 />
<circle class=Q cx=200.3 cy=99.2 r=3.1 />
<circle class=Q cx=210.4 cy=98 r=3.1 />
<circle class=V cx=163.2 cy=106.9 r=3.1 />
<circle class=N cx=267.8 cy=93.6 r=3.1 />
<circle class=P cx=215.1 cy=97.4 r=3.1 />
<circle class=M cx=305.7 cy=92.4 r=3.1 />
<circle class=t cx=270 cy=62.2 r=3.1 />
<circle class=P cx=226.8 cy=96 r=3.1 />
<circle class=Q cx=212.7 cy=98.2 r=3.1 />
<circle class=N cx=246.1 cy=93.5 r=3.1 />
<circle class=N cx=260.2 cy=94 r=3.1 />
<circle class=v cx=187.3 cy=64.6 r=3.1 />
<circle class=O cx=230.7 cy=95.8 r=3.1 />
<circle class=P cx=223.2 cy=96.7 r=3.1 />
<circle class=Y cx=103.9 cy=112.8 r=3.1 />
<circle class=X cx=123.3 cy=110.1 r=3.1 />
<circle class=W cx=158.8 cy=108.5 r=3.1 />
<circle class=Q cx=211.5 cy=98.7 r=3.1 />
<circle class=N cx=249.7 cy=94 r=3.1 />
<circle class=Q cx=213.8 cy=97.6 r=3.1 />
<circle class=N cx=245.3 cy=94.4 r=3.1 />
<circle class=Q cx=205 cy=98.9 r=3.1 />
<circle class=Q cx=203.8 cy=98.4 r=3.1 />
<circle class=Q cx=218.6 cy=97.9 r=3.1 />
<circle class=Q cx=201.6 cy=99.2 r=3.1 />
<circle class=N cx=275.1 cy=94.3 r=3.1 />
<circle class=u cx=227.3 cy=64.1 r=3.1 />
<circle class=R cx=190.4 cy=99.8 r=3.1 />
<circle class=P cx=224.7 cy=96.8 r=3.1 />
<circle class=R cx=188.7 cy=100.3 r=3.1 />
<circle class=k0 cx=68.1 cy=115.6 r=3.1 />
<circle class=Q cx=209.3 cy=98.4 r=3.1 />
<circle class=U cx=17.1 cy=105.5 r=3.1 />
<circle class=p cx=171.3 cy=56.8 r=3.1 />
<circle class=R cx=184.7 cy=100.5 r=3.1 />
<circle class=P cx=230 cy=96.7 r=3.1 />
<circle class=N cx=276.2 cy=93.2 r=3.1 />
<circle class=R cx=191 cy=100.9 r=3.1 />
<circle class=N cx=258.8 cy=94.7 r=3.1 />
<circle class=Q cx=217.3 cy=97.8 r=3.1 />
<circle class=P cx=219.9 cy=97.6 r=3.1 />
<circle class=N cx=248.6 cy=94.7 r=3.1 />
<circle class=R cx=196.8 cy=99.9 r=3.1 />
<circle class=S cx=180.1 cy=101.4 r=3.1 />
<circle class=S cx=182.8 cy=101.4 r=3.1 />
<circle class=N cx=254.3 cy=93.6 r=3.1 />
<circle class=O cx=234.8 cy=95.9 r=3.1 />
<circle class=O cx=244.3 cy=95.1 r=3.1 />
<circle class=T cx=171.5 cy=103.9 r=3.1 />
<circle class=p cx=249.9 cy=56 r=3.1 />
<circle class=O cx=228.3 cy=96.1 r=3.1 />
<circle class=S cx=178.1 cy=102.6 r=3.1 />
<circle class=s cx=214.3 cy=61.6 r=3.1 />
<circle class=R cx=187.2 cy=100.7 r=3.1 />
<circle class=O cx=237.5 cy=95.7 r=3.1 />
<circle class=O cx=232.3 cy=96.1 r=3.1 />
<circle class=Q cx=202.9 cy=99.1 r=3.1 />
<circle class=Q cx=207.2 cy=98.2 r=3.1 />
<circle class=Q cx=198.2 cy=99.7 r=3.1 />
<circle class=O cx=247.6 cy=95.6 r=3.1 />
<circle class=N cx=241 cy=94.7 r=3.1 />
<circle class=T cx=175 cy=102.9 r=3.1 />
<circle class=P cx=216 cy=97.8 r=3.1 />
<circle class=Q cx=199.5 cy=99.7 r=3.1 />
<circle class=t cx=158.4 cy=63 r=3.1 />
<circle class=P cx=222.6 cy=97.4 r=3.1 />
<circle class=R cx=192.6 cy=100.2 r=3.1 />
<circle class=P cx=226.1 cy=96.7 r=3.1 />
<circle class=Q cx=195.5 cy=99.7 r=3.1 />
<circle class=Q cx=213.6 cy=98.5 r=3.1 />
<circle class=q cx=270.5 cy=57.9 r=3.1 />
<circle class=N cx=265.7 cy=93.9 r=3.1 />
<circle class=Q cx=210.4 cy=98.7 r=3.1 />
<circle class=Q cx=208.3 cy=98.7 r=3.1 />
<circle class=q cx=157.3 cy=59.2 r=3.1 />
<circle class=r cx=162.9 cy=60.7 r=3.1 />
<circle class=q cx=224.6 cy=59.3 r=3.1 />
<circle class=Q cx=204.1 cy=99.3 r=3.1 />
<circle class=M cx=301.8 cy=92.8 r=3.1 />
<circle class=Q cx=207.3 cy=99.4 r=3.1 />
<circle class=M cx=286.2 cy=93.1 r=3.1 />
<circle class=Q cx=206.2 cy=98.8 r=3.1 />
<circle class=P cx=221.2 cy=97.2 r=3.1 />
<circle class=Q cx=194.1 cy=99.7 r=3.1 />
<circle class=N cx=319.9 cy=94.2 r=3.1 />
<circle class=t cx=160.9 cy=62.8 r=3.1 />
<circle class=P cx=214.8 cy=97.9 r=3.1 />
<circle class=Q cx=212.5 cy=98.8 r=3.1 />
<circle class=P cx=227.6 cy=96.9 r=3.1 />
<circle class=V cx=165.3 cy=106.7 r=3.1 />
<circle class=W cx=161 cy=108.4 r=3.1 />
<circle class=O cx=240.1 cy=95.4 r=3.1 />
<circle class=Q cx=202 cy=99.9 r=3.1 />
<circle class=p cx=262.4 cy=57 r=3.1 />
<circle class=P cx=233.9 cy=96.5 r=3.1 />
<circle class=q cx=156.4 cy=59.1 r=3.1 />
<circle class=P cx=231.5 cy=96.8 r=3.1 />
<circle class=N cx=252.8 cy=94.1 r=3.1 />
<circle class=S cx=181.2 cy=101.9 r=3.1 />
<circle class=N cx=251.9 cy=95 r=3.1 />
<circle class=R cx=189.7 cy=100.7 r=3.1 />
<circle class=o cx=276.6 cy=55.9 r=3.1 />
<circle class=U cx=169.4 cy=105.2 r=3.1 />
<circle class=T cx=173 cy=104.2 r=3.1 />
<circle class=R cx=185.7 cy=100.9 r=3.1 />
<circle class=Q cx=200.8 cy=99.5 r=3.1 />
<circle class=P cx=224 cy=97.2 r=3.1 />
<circle class=Q cx=211.4 cy=99.2 r=3.1 />
<circle class=R cx=196 cy=100.6 r=3.1 />
<circle class=Q cx=209.3 cy=99 r=3.1 />
<circle class=Q cx=203.2 cy=100 r=3.1 />
<circle class=u cx=166.5 cy=64.2 r=3.1 />
<circle class=v cx=267.1 cy=65.2 r=3.1 />
<circle class=T cx=176.3 cy=103.4 r=3.1 />
<circle class=N cx=264 cy=94.6 r=3.1 />
<circle class=t cx=177.7 cy=63.2 r=3.1 />
<circle class=O cx=236.4 cy=96.2 r=3.1 />
<circle class=O cx=243 cy=95.5 r=3.1 />
<circle class=Q cx=208.3 cy=99.7 r=3.1 />
<circle class=Q cx=218.1 cy=98.3 r=3.1 />
<circle class=v cx=233 cy=65.3 r=3.1 />
<circle class=P cx=220.7 cy=98.1 r=3.1 />
<circle class=S cx=184 cy=101.7 r=3.1 />
<circle class=r cx=152.9 cy=60.6 r=3.1 />
<circle class=p cx=273.5 cy=56.8 r=3.1 />
<circle class=Q cx=215.7 cy=98.7 r=3.1 />
<circle class=P cx=225.4 cy=97.3 r=3.1 />
<circle class=P cx=219.4 cy=98.1 r=3.1 />
<circle class=R cx=194.7 cy=100.6 r=3.1 />
<circle class=O cx=239.2 cy=96.2 r=3.1 />
<circle class=W cx=127.7 cy=109.5 r=3.1 />
<circle class=Q cx=205.2 cy=99.3 r=3.1 />
<circle class=Q cx=197.4 cy=100.3 r=3.1 />
<circle class=k0 cx=75.6 cy=115.1 r=3.1 />
<circle class=O cx=250.7 cy=95.7 r=3.1 />
<circle class=v cx=174.8 cy=65.1 r=3.1 />
<circle class=S cx=179.4 cy=102.8 r=3.1 />
<circle class=P cx=226.9 cy=97.6 r=3.1 />
<circle class=n cx=266.5 cy=55.2 r=3.1 />
<circle class=P cx=222 cy=98 r=3.1 />
<circle class=P cx=216.9 cy=98.3 r=3.1 />
<circle class=Q cx=214.5 cy=98.8 r=3.1 />
<circle class=R cx=188.3 cy=100.9 r=3.1 />
<circle class=U cx=170.8 cy=105.7 r=3.1 />
<circle class=N cx=271.9 cy=94.2 r=3.1 />
<circle class=Q cx=206.3 cy=99.6 r=3.1 />
<circle class=O cx=242 cy=96.2 r=3.1 />
<circle class=P cx=235.6 cy=97 r=3.1 />
<circle class=P cx=230.7 cy=97.5 r=3.1 />
<circle class=M cx=283.4 cy=93.5 r=3.1 />
<circle class=M cx=298.3 cy=93.3 r=3.1 />
<circle class=Q cx=210.3 cy=99.4 r=3.1 />
<circle class=Q cx=198.8 cy=100.1 r=3.1 />
<circle class=Q cx=200 cy=100.2 r=3.1 />
<circle class=R cx=186.6 cy=101.6 r=3.1 />
<circle class=N cx=256.5 cy=94.6 r=3.1 />
<circle class=X cx=110.1 cy=111.7 r=3.1 />
<circle class=U cx=167.1 cy=106.8 r=3.1 />
<circle class=R cx=192 cy=100.9 r=3.1 />
<circle class=N cx=255.5 cy=95.6 r=3.1 />
<circle class=P cx=233 cy=97 r=3.1 />
<circle class=Q cx=204.3 cy=99.9 r=3.1 />
<circle class=Q cx=193.5 cy=100.5 r=3.1 />
<circle class=o cx=180 cy=55.7 r=3.1 />
<circle class=Q cx=213.4 cy=99.1 r=3.1 />
<circle class=Q cx=201.2 cy=100.3 r=3.1 />
<circle class=T cx=177.6 cy=103.8 r=3.1 />
<circle class=S cx=182.4 cy=102.2 r=3.1 />
<circle class=P cx=223.3 cy=97.9 r=3.1 />
<circle class=s cx=157 cy=61.7 r=3.1 />
<circle class=N cx=245.9 cy=95.5 r=3.1 />
<circle class=v cx=188 cy=66.7 r=3.1 />
<circle class=Q cx=209.3 cy=99.9 r=3.1 />
<circle class=R cx=190.6 cy=101.2 r=3.1 />
<circle class=O cx=238.1 cy=96.8 r=3.1 />
<circle class=Q cx=205.4 cy=100.3 r=3.1 />
<circle class=S cx=16.1 cy=102.5 r=3.1 />
<circle class=N cx=295.7 cy=94.2 r=3.1 />
<circle class=Q cx=212.3 cy=99.4 r=3.1 />
<circle class=u cx=248.9 cy=64.3 r=3.1 />
<circle class=O cx=228.8 cy=96.5 r=3.1 />
<circle class=Q cx=207.4 cy=99.9 r=3.1 />
<circle class=Q cx=220.2 cy=98.8 r=3.1 />
<circle class=N cx=314.8 cy=94.6 r=3.1 />
<circle class=S cx=185.1 cy=102.1 r=3.1 />
<circle class=Q cx=202.4 cy=100.4 r=3.1 />
<circle class=R cx=194 cy=101.5 r=3.1 />
<circle class=k0 cx=85.3 cy=115.9 r=3.1 />
<circle class=p cx=251.1 cy=58.3 r=3.1 />
<circle class=O cx=254.2 cy=96.2 r=3.1 />
<circle class=Z cx=81.5 cy=115.1 r=3.1 />
<circle class=S cx=180.6 cy=103.2 r=3.1 />
<circle class=X cx=113.5 cy=112.1 r=3.1 />
<circle class=t cx=182.7 cy=63.3 r=3.1 />
<circle class=s cx=282.7 cy=62.8 r=3.1 />
<circle class=u cx=171.6 cy=64.9 r=3.1 />
<circle class=N cx=269.9 cy=94.7 r=3.1 />
<circle class=k3 cx=26.3 cy=121.7 r=3.1 />
<circle class=R cx=196.7 cy=101.1 r=3.1 />
<circle class=Q cx=217.7 cy=98.9 r=3.1 />
<circle class=o cx=216.8 cy=56.2 r=3.1 />
<circle class=V cx=163.3 cy=108 r=3.1 />
<circle class=P cx=218.9 cy=98.7 r=3.1 />
<circle class=Q cx=216.5 cy=99.1 r=3.1 />
<circle class=O cx=244.8 cy=96.2 r=3.1 />
<circle class=T cx=174.7 cy=104.1 r=3.1 />
<circle class=N cx=261.8 cy=94.7 r=3.1 />
<circle class=p cx=275.4 cy=57.9 r=3.1 />
<circle class=P cx=228.2 cy=97.5 r=3.1 />
<circle class=Q cx=215.4 cy=99.3 r=3.1 />
<circle class=P cx=222.8 cy=98.8 r=3.1 />
<circle class=Q cx=203.5 cy=100.5 r=3.1 />
<circle class=P cx=224.6 cy=97.7 r=3.1 />
<circle class=p cx=280.8 cy=57.7 r=3.1 />
<circle class=P cx=232.1 cy=97.6 r=3.1 />
<circle class=R cx=189.2 cy=101.4 r=3.1 />
<circle class=Q cx=198 cy=100.8 r=3.1 />
<circle class=P cx=221.4 cy=98.6 r=3.1 />
<circle class=R cx=195.5 cy=101 r=3.1 />
<circle class=r cx=154.3 cy=61.3 r=3.1 />
<circle class=P cx=227.6 cy=98.5 r=3.1 />
<circle class=Q cx=200.4 cy=100.9 r=3.1 />
<circle class=O cx=243.8 cy=97 r=3.1 />
<circle class=O cx=248.1 cy=96.7 r=3.1 />
<circle class=P cx=226 cy=98 r=3.1 />
<circle class=Q cx=214.2 cy=99.4 r=3.1 />
<circle class=O cx=240.7 cy=96.5 r=3.1 />
<circle class=s cx=280.7 cy=62.2 r=3.1 />
<circle class=Q cx=204.6 cy=100.7 r=3.1 />
<circle class=N cx=260.4 cy=95.4 r=3.1 />
<circle class=Q cx=211.2 cy=99.5 r=3.1 />
<circle class=Q cx=210.2 cy=100.1 r=3.1 />
<circle class=R cx=187.7 cy=101.9 r=3.1 />
<circle class=R cx=192.8 cy=101.4 r=3.1 />
<circle class=Q cx=199.3 cy=100.7 r=3.1 />
<circle class=T cx=172.5 cy=105.6 r=3.1 />
<circle class=k2 cx=20.6 cy=120.3 r=3.1 />
<circle class=N cx=248.9 cy=95.7 r=3.1 />
<circle class=Q cx=208.4 cy=100 r=3.1 />
<circle class=S cx=183.6 cy=102.6 r=3.1 />
<circle class=O cx=234.4 cy=97.1 r=3.1 />
<circle class=t cx=161.5 cy=64.3 r=3.1 />
<circle class=V cx=157.9 cy=108.7 r=3.1 />
<circle class=Q cx=201.6 cy=100.9 r=3.1 />
<circle class=X cx=117.2 cy=112.1 r=3.1 />
<circle class=T cx=179 cy=104 r=3.1 />
<circle class=t cx=179 cy=63.7 r=3.1 />
<circle class=Q cx=213.1 cy=99.7 r=3.1 />
<circle class=V cx=165 cy=108.2 r=3.1 />
<circle class=T cx=175.9 cy=104.6 r=3.1 />
<circle class=P cx=229.6 cy=97.6 r=3.1 />
<circle class=N cx=277.2 cy=95.5 r=3.1 />
<circle class=N cx=292.4 cy=94.5 r=3.1 />
<circle class=N cx=278.7 cy=94.6 r=3.1 />
<circle class=O cx=237 cy=97.1 r=3.1 />
<circle class=R cx=191.5 cy=101.6 r=3.1 />
<circle class=Q cx=206.5 cy=100 r=3.1 />
<circle class=O cx=252.6 cy=96.6 r=3.1 />
<circle class=R cx=190 cy=102.1 r=3.1 />
<circle class=P cx=233.6 cy=98 r=3.1 />
<circle class=O cx=239.7 cy=97.2 r=3.1 />
<circle class=Q cx=212.1 cy=100.1 r=3.1 />
<circle class=P cx=224 cy=98.5 r=3.1 />
<circle class=S cx=186.2 cy=102.4 r=3.1 />
<circle class=Q cx=207.5 cy=100.6 r=3.1 />
<circle class=Q cx=217.3 cy=99.6 r=3.1 />
<circle class=n cx=204.3 cy=55.7 r=3.1 />
<circle class=S cx=181.9 cy=103.4 r=3.1 />
<circle class=Q cx=215 cy=100.1 r=3.1 />
<circle class=Q cx=205.6 cy=100.8 r=3.1 />
<circle class=Q cx=220.9 cy=99.3 r=3.1 />
<circle class=Q cx=218.4 cy=99.4 r=3.1 />
<circle class=O cx=257.8 cy=96.8 r=3.1 />
<circle class=N cx=266.4 cy=95.8 r=3.1 />
<circle class=R cx=197.4 cy=101.6 r=3.1 />
<circle class=Q cx=209.3 cy=100.4 r=3.1 />
<circle class=t cx=171.6 cy=64.1 r=3.1 />
<circle class=R cx=194.9 cy=101.9 r=3.1 />
<circle class=Q cx=202.7 cy=100.9 r=3.1 />
<circle class=O cx=265.1 cy=96.7 r=3.1 />
<circle class=N cx=309.9 cy=94.8 r=3.1 />
<circle class=r cx=157.3 cy=61.5 r=3.1 />
<circle class=Q cx=211.1 cy=100.4 r=3.1 />
<circle class=N cx=335.7 cy=96.2 r=3.1 />
<circle class=U cx=169.4 cy=106.2 r=3.1 />
<circle class=o cx=203.5 cy=57.1 r=3.1 />
<circle class=R cx=196.2 cy=101.6 r=3.1 />
<circle class=N cx=267.4 cy=94.8 r=3.1 />
<circle class=P cx=225.3 cy=98.6 r=3.1 />
<circle class=N cx=258.7 cy=95.8 r=3.1 />
<circle class=P cx=219.6 cy=99.1 r=3.1 />
<circle class=P cx=228.9 cy=98.4 r=3.1 />
<circle class=N cx=339.1 cy=94.9 r=3.1 />
<circle class=p cx=273.3 cy=58.3 r=3.1 />
<circle class=Q cx=216.1 cy=99.5 r=3.1 />
<circle class=P cx=231.1 cy=97.9 r=3.1 />
<circle class=V cx=159.9 cy=108.8 r=3.1 />
<circle class=O cx=251.2 cy=97.1 r=3.1 />
<circle class=R cx=193.6 cy=101.9 r=3.1 />
<circle class=Q cx=198.6 cy=101.3 r=3.1 />
<circle class=M cx=342.7 cy=93.5 r=3.1 />
<circle class=Q cx=213.9 cy=100.2 r=3.1 />
<circle class=N cx=274.9 cy=96 r=3.1 />
<circle class=s cx=226.6 cy=62.3 r=3.1 />
<circle class=X cx=120.9 cy=112.1 r=3.1 />
<circle class=O cx=242.4 cy=97.2 r=3.1 />
<circle class=L cx=279.2 cy=93.1 r=3.1 />
<circle class=Z cx=92.4 cy=114.9 r=3.1 />
<circle class=L cx=346.4 cy=92.1 r=3.1 />
<circle class=Q cx=206.6 cy=101 r=3.1 />
<circle class=Q cx=203.8 cy=100.9 r=3.1 />
<circle class=P cx=222 cy=99 r=3.1 />
<circle class=Q cx=208.4 cy=100.7 r=3.1 />
<circle class=P cx=230.4 cy=98.8 r=3.1 />
<circle class=O cx=263.4 cy=97.3 r=3.1 />
<circle class=S cx=184.8 cy=102.8 r=3.1 />
<circle class=q cx=237.1 cy=59.3 r=3.1 />
<circle class=R cx=188.8 cy=102.1 r=3.1 />
<circle class=K cx=350.3 cy=90.6 r=3.1 />
<circle class=Q cx=212.9 cy=100.4 r=3.1 />
<circle class=S cx=183.1 cy=103.8 r=3.1 />
<circle class=O cx=331 cy=97 r=3.1 />
<circle class=R cx=197.9 cy=102.4 r=3.1 />
<circle class=Q cx=216.9 cy=100.4 r=3.1 />
<circle class=Q cx=199.9 cy=101.1 r=3.1 />
<circle class=s cx=218 cy=63.2 r=3.1 />
<circle class=P cx=226.6 cy=98.6 r=3.1 />
<circle class=T cx=177.5 cy=104.6 r=3.1 />
<circle class=Q cx=204.8 cy=101.2 r=3.1 />
<circle class=Q cx=201 cy=101.2 r=3.1 />
<circle class=Q cx=210.2 cy=100.6 r=3.1 />
<circle class=U cx=170.9 cy=106.5 r=3.1 />
<circle class=T cx=174.3 cy=105.3 r=3.1 />
<circle class=N cx=246.3 cy=96.6 r=3.1 />
<circle class=Q cx=202 cy=101.4 r=3.1 />
<circle class=P cx=224.6 cy=99.3 r=3.1 />
<circle class=N cx=273 cy=96.6 r=3.1 />
<circle class=R cx=191 cy=102.4 r=3.1 />
<circle class=O cx=238.4 cy=97.4 r=3.1 />
<circle class=s cx=185.5 cy=62.8 r=3.1 />
<circle class=S cx=180.5 cy=103.9 r=3.1 />
<circle class=P cx=223.3 cy=98.9 r=3.1 />
<circle class=R cx=187.3 cy=102.7 r=3.1 />
<circle class=R cx=192.4 cy=101.9 r=3.1 />
<circle class=Q cx=211.9 cy=100.7 r=3.1 />
<circle class=Q cx=215.7 cy=100.4 r=3.1 />
<circle class=Q cx=209.3 cy=101.2 r=3.1 />
<circle class=O cx=235.7 cy=97.2 r=3.1 />
<circle class=Q cx=217.9 cy=100 r=3.1 />
<circle class=Q cx=203.1 cy=101.6 r=3.1 />
<circle class=O cx=271.4 cy=97.3 r=3.1 />
<circle class=u cx=184.3 cy=66 r=3.1 />
<circle class=u cx=195.7 cy=66.1 r=3.1 />
<circle class=R cx=196.8 cy=102.2 r=3.1 />
<circle class=S cx=185.7 cy=103.5 r=3.1 />
<circle class=U cx=167.3 cy=107.7 r=3.1 />
<circle class=t cx=160.7 cy=64.7 r=3.1 />
<circle class=P cx=232.5 cy=98.2 r=3.1 />
<circle class=Q cx=205.8 cy=101.5 r=3.1 />
<circle class=R cx=194.3 cy=102.6 r=3.1 />
<circle class=V cx=161.8 cy=108.9 r=3.1 />
<circle class=X cx=124.3 cy=112.1 r=3.1 />
<circle class=k2 cx=52.1 cy=121.2 r=3.1 />
<circle class=n cx=221.9 cy=56.5 r=3.1 />
<circle class=Q cx=220.2 cy=99.8 r=3.1 />
<circle class=Q cx=221.5 cy=99.8 r=3.1 />
<circle class=O cx=241.2 cy=97.6 r=3.1 />
<circle class=p cx=255.8 cy=59.2 r=3.1 />
<circle class=Q cx=207.6 cy=101.1 r=3.1 />
<circle class=R cx=189.6 cy=102.8 r=3.1 />
<circle class=Y cx=97.2 cy=114.9 r=3.1 />
<circle class=O cx=234.9 cy=98 r=3.1 />
<circle class=t cx=186 cy=64.5 r=3.1 />
<circle class=Q cx=214.7 cy=100.6 r=3.1 />
<circle class=N cx=286.6 cy=95.4 r=3.1 />
<circle class=Q cx=224 cy=100.2 r=3.1 />
<circle class=M cx=288.3 cy=94.4 r=3.1 />
<circle class=V cx=163.2 cy=109.5 r=3.1 />
<circle class=O cx=249.6 cy=97.3 r=3.1 />
<circle class=R cx=199.2 cy=102 r=3.1 />
<circle class=q cx=266.6 cy=60 r=3.1 />
<circle class=P cx=231.7 cy=99 r=3.1 />
<circle class=P cx=227.9 cy=98.7 r=3.1 />
<circle class=O cx=245.1 cy=97.2 r=3.1 />
<circle class=R cx=195.7 cy=102.1 r=3.1 />
<circle class=P cx=219 cy=99.6 r=3.1 />
<circle class=T cx=178.7 cy=105 r=3.1 />
<circle class=o cx=261 cy=57.3 r=3.1 />
<circle class=R cx=200.3 cy=102 r=3.1 />
<circle class=T cx=175.7 cy=105.7 r=3.1 />
<circle class=P cx=225.9 cy=99.3 r=3.1 />
<circle class=R cx=201.4 cy=102.2 r=3.1 />
<circle class=p cx=272.5 cy=59 r=3.1 />
<circle class=Q cx=204.1 cy=101.7 r=3.1 />
<circle class=R cx=191.8 cy=103.1 r=3.1 />
<circle class=R cx=193.1 cy=102.6 r=3.1 />
<circle class=Q cx=211 cy=100.9 r=3.1 />
<circle class=S cx=188.2 cy=103.3 r=3.1 />
<circle class=O cx=254.5 cy=97.5 r=3.1 />
<circle class=W cx=155.8 cy=110.2 r=3.1 />
<circle class=Q cx=213.7 cy=100.8 r=3.1 />
<circle class=Q cx=210.1 cy=101.6 r=3.1 />
<circle class=O cx=261.4 cy=97.4 r=3.1 />
<circle class=P cx=222.6 cy=99.7 r=3.1 />
<circle class=N cx=284.5 cy=96.1 r=3.1 />
<circle class=o cx=242.5 cy=57.3 r=3.1 />
<circle class=k0 cx=19.6 cy=117.3 r=3.1 />
<circle class=Q cx=206.8 cy=101.7 r=3.1 />
<circle class=o cx=215.9 cy=57.5 r=3.1 />
<circle class=M cx=305 cy=94.8 r=3.1 />
<circle class=Q cx=208.4 cy=101.5 r=3.1 />
<circle class=k2 cx=59.1 cy=121.2 r=3.1 />
<circle class=O cx=240.2 cy=98.2 r=3.1 />
<circle class=N cx=255.4 cy=96.5 r=3.1 />
<circle class=W cx=127.4 cy=112.2 r=3.1 />
<circle class=Q cx=205.1 cy=102 r=3.1 />
<circle class=O cx=237.3 cy=97.8 r=3.1 />
<circle class=Y cx=101.6 cy=114.9 r=3.1 />
<circle class=O cx=325.4 cy=97.3 r=3.1 />
<circle class=n cx=224.3 cy=56.6 r=3.1 />
<circle class=Q cx=212.7 cy=101 r=3.1 />
<circle class=T cx=172.6 cy=106.5 r=3.1 />
<circle class=q cx=263.4 cy=60.9 r=3.1 />
<circle class=o cx=217.9 cy=57.2 r=3.1 />
<circle class=Q cx=217.5 cy=100.7 r=3.1 />
<circle class=P cx=225.2 cy=100.1 r=3.1 />
<circle class=Q cx=202.5 cy=102 r=3.1 />
<circle class=s cx=181.8 cy=63.2 r=3.1 />
<circle class=P cx=243.1 cy=98.6 r=3.1 />
<circle class=P cx=227.2 cy=99.4 r=3.1 />
<circle class=Q cx=218.6 cy=100.5 r=3.1 />
<circle class=P cx=229.3 cy=98.9 r=3.1 />
<circle class=O cx=233.9 cy=98.5 r=3.1 />
<circle class=Z cx=108.2 cy=116 r=3.1 />
<circle class=S cx=186.8 cy=103.8 r=3.1 />
<circle class=N cx=299.7 cy=96.5 r=3.1 />
<circle class=Q cx=209.3 cy=101.9 r=3.1 />
<circle class=r cx=270 cy=62.1 r=3.1 />
<circle class=R cx=203.4 cy=102.3 r=3.1 />
<circle class=S cx=181.8 cy=103.9 r=3.1 />
<circle class=Q cx=216.4 cy=100.8 r=3.1 />
<circle class=Q cx=222.1 cy=100.6 r=3.1 />
<circle class=N cx=282.1 cy=96.7 r=3.1 />
<circle class=r cx=213.5 cy=62.5 r=3.1 />
<circle class=R cx=198.6 cy=102.7 r=3.1 />
<circle class=O cx=243.8 cy=97.6 r=3.1 />
<circle class=Q cx=211.8 cy=101.3 r=3.1 />
<circle class=Q cx=207.6 cy=101.9 r=3.1 />
<circle class=P cx=230.8 cy=99.5 r=3.1 />
<circle class=R cx=190.6 cy=103.2 r=3.1 />
<circle class=O cx=259.6 cy=97.8 r=3.1 />
<circle class=O cx=236.3 cy=98.4 r=3.1 />
<circle class=Q cx=215.3 cy=100.9 r=3.1 />
<circle class=R cx=196.4 cy=102.7 r=3.1 />
<circle class=S cx=184.5 cy=103.6 r=3.1 />
<circle class=R cx=197.5 cy=102.6 r=3.1 />
<circle class=T cx=180.1 cy=105.2 r=3.1 />
<circle class=P cx=219.6 cy=100.2 r=3.1 />
<circle class=T cx=177.1 cy=105.8 r=3.1 />
<circle class=O cx=252.9 cy=97.8 r=3.1 />
<circle class=R cx=199.8 cy=102.6 r=3.1 />
<circle class=v cx=185.9 cy=67.8 r=3.1 />
<circle class=Q cx=213.4 cy=101.6 r=3.1 />
<circle class=N cx=268.7 cy=97.2 r=3.1 />
<circle class=Q cx=206 cy=102 r=3.1 />
<circle class=Q cx=214.3 cy=101.1 r=3.1 />
<circle class=P cx=233 cy=99.2 r=3.1 />
<circle class=R cx=200.8 cy=102.6 r=3.1 />
<circle class=R cx=195.2 cy=102.8 r=3.1 />
<circle class=U cx=169.3 cy=107.3 r=3.1 />
<circle class=R cx=194 cy=103.1 r=3.1 />
<circle class=O cx=247 cy=98.2 r=3.1 />
<circle class=N cx=247.9 cy=97.3 r=3.1 />
<circle class=s cx=171.1 cy=64.4 r=3.1 />
<circle class=P cx=220.8 cy=100.1 r=3.1 />
<circle class=V cx=165.4 cy=109.1 r=3.1 />
<circle class=R cx=201.8 cy=102.8 r=3.1 />
<circle class=Q cx=210.9 cy=101.7 r=3.1 />
<circle class=p cx=281.9 cy=59.9 r=3.1 />
<circle class=O cx=320.8 cy=97.8 r=3.1 />
<circle class=R cx=192.7 cy=103.5 r=3.1 />
<circle class=S cx=187.8 cy=104.4 r=3.1 />
<circle class=O cx=238.9 cy=98.5 r=3.1 />
<circle class=R cx=189.3 cy=103.5 r=3.1 />
<circle class=r cx=269.5 cy=62.1 r=3.1 />
<circle class=O cx=278.2 cy=98 r=3.1 />
<circle class=P cx=228.4 cy=99.5 r=3.1 />
<circle class=o cx=185.6 cy=57.5 r=3.1 />
<circle class=P cx=226.4 cy=100 r=3.1 />
<circle class=S cx=182.9 cy=104.4 r=3.1 />
<circle class=V cx=158.3 cy=109.9 r=3.1 />
<circle class=n cx=187.2 cy=57.1 r=3.1 />
<circle class=P cx=241.8 cy=99 r=3.1 />
<circle class=O cx=251.6 cy=98.4 r=3.1 />
<circle class=P cx=235.4 cy=99 r=3.1 />
<circle class=Q cx=208.5 cy=102.2 r=3.1 />
<circle class=P cx=223.2 cy=100.3 r=3.1 />
<circle class=S cx=185.5 cy=104.2 r=3.1 />
<circle class=Q cx=206.9 cy=102.3 r=3.1 />
<circle class=O cx=258 cy=98.2 r=3.1 />
<circle class=Q cx=204.4 cy=102.2 r=3.1 />
<circle class=P cx=229.9 cy=100.1 r=3.1 />
<circle class=O cx=245.9 cy=98.8 r=3.1 />
<circle class=P cx=238 cy=99.2 r=3.1 />
<circle class=R cx=197 cy=103.6 r=3.1 />
<circle class=N cx=279.5 cy=97 r=3.1 />
<circle class=Q cx=218 cy=101.2 r=3.1 />
<circle class=Q cx=219.1 cy=101.1 r=3.1 />
<circle class=R cx=191.5 cy=103.7 r=3.1 />
<circle class=Q cx=220.2 cy=101.1 r=3.1 />
<circle class=R cx=202.9 cy=102.8 r=3.1 />
<circle class=T cx=181.3 cy=105.5 r=3.1 />
<circle class=Q cx=212.5 cy=101.7 r=3.1 />
<circle class=T cx=174.3 cy=106.3 r=3.1 />
<circle class=p cx=164.5 cy=59.9 r=3.1 />
<circle class=Y cx=106.9 cy=114.4 r=3.1 />
<circle class=V cx=159.9 cy=110.3 r=3.1 />
<circle class=P cx=224.4 cy=100.5 r=3.1 />
<circle class=Q cx=217 cy=101.2 r=3.1 />
<circle class=S cx=194.7 cy=103.9 r=3.1 />
<circle class=P cx=240.8 cy=99.6 r=3.1 />
<circle class=P cx=232.1 cy=99.7 r=3.1 />
<circle class=v cx=201.8 cy=68.1 r=3.1 />
<circle class=M cx=300.3 cy=94.8 r=3.1 />
<circle class=Q cx=210 cy=101.9 r=3.1 />
<circle class=R cx=198.2 cy=103.3 r=3.1 />
<circle class=Q cx=216 cy=101.4 r=3.1 />
<circle class=t cx=181.7 cy=66 r=3.1 />
<circle class=s cx=180.2 cy=63.6 r=3.1 />
<circle class=Q cx=205.4 cy=102.4 r=3.1 />
<circle class=P cx=264 cy=99.1 r=3.1 />
<circle class=R cx=200.3 cy=103.3 r=3.1 />
<circle class=O cx=265.3 cy=98.3 r=3.1 />
<circle class=R cx=199.3 cy=103.2 r=3.1 />
<circle class=s cx=160.3 cy=64.7 r=3.1 />
<circle class=P cx=234.4 cy=99.6 r=3.1 />
<circle class=P cx=227.6 cy=100.1 r=3.1 />
<circle class=T cx=171 cy=107.4 r=3.1 />
<circle class=Q cx=215 cy=101.6 r=3.1 />
<circle class=T cx=178.6 cy=105.9 r=3.1 />
<circle class=n cx=227.7 cy=57.4 r=3.1 />
<circle class=k1 cx=73.3 cy=120.4 r=3.1 />
<circle class=R cx=196 cy=103.4 r=3.1 />
<circle class=R cx=203.8 cy=102.8 r=3.1 />
<circle class=N cx=295.5 cy=96.5 r=3.1 />
<circle class=Q cx=211.6 cy=101.9 r=3.1 />
<circle class=Q cx=221.3 cy=100.8 r=3.1 />
<circle class=o cx=241.1 cy=57.9 r=3.1 />
<circle class=R cx=190.3 cy=103.9 r=3.1 />
<circle class=Q cx=222.5 cy=101 r=3.1 />
<circle class=N cx=266.3 cy=97.3 r=3.1 />
<circle class=P cx=255.3 cy=99.4 r=3.1 />
<circle class=R cx=193.6 cy=103.9 r=3.1 />
<circle class=t cx=236.1 cy=66 r=3.1 />
<circle class=S cx=186.6 cy=104.5 r=3.1 />
<circle class=Q cx=214 cy=101.7 r=3.1 />
<circle class=P cx=231.2 cy=100.4 r=3.1 />
<circle class=R cx=201.4 cy=103.2 r=3.1 />
<circle class=Q cx=210.8 cy=102.4 r=3.1 />
<circle class=Q cx=223.7 cy=101.2 r=3.1 />
<circle class=S cx=184.2 cy=104.6 r=3.1 />
<circle class=Q cx=207.7 cy=102.3 r=3.1 />
<circle class=Q cx=209.2 cy=102.2 r=3.1 />
<circle class=Q cx=213.1 cy=102.1 r=3.1 />
<circle class=P cx=225.5 cy=100.4 r=3.1 />
<circle class=o cx=250.3 cy=58.4 r=3.1 />
<circle class=k0 cx=69.3 cy=119.5 r=3.1 />
<circle class=s cx=159.3 cy=64.5 r=3.1 />
<circle class=V cx=132.2 cy=110.9 r=3.1 />
<circle class=O cx=256.2 cy=98.4 r=3.1 />
<circle class=R cx=204.7 cy=103 r=3.1 />
<circle class=T cx=175.8 cy=106.5 r=3.1 />
<circle class=P cx=248.9 cy=99.3 r=3.1 />
<circle class=X cx=18.6 cy=114.3 r=3.1 />
<circle class=Q cx=206.2 cy=102.5 r=3.1 />
<circle class=n cx=215.8 cy=57.4 r=3.1 />
<circle class=P cx=236.8 cy=99.5 r=3.1 />
<circle class=Q cx=208.5 cy=102.9 r=3.1 />
<circle class=Q cx=217.5 cy=101.8 r=3.1 />
<circle class=R cx=202.3 cy=103.2 r=3.1 />
<circle class=o cx=263.2 cy=58 r=3.1 />
<circle class=P cx=228.9 cy=100.4 r=3.1 />
<circle class=S cx=182.6 cy=105.7 r=3.1 />
<circle class=O cx=244.4 cy=98.9 r=3.1 />
<circle class=n cx=222.5 cy=57.7 r=3.1 />
<circle class=Y cx=114.3 cy=114.6 r=3.1 />
<circle class=q cx=260.1 cy=61.2 r=3.1 />
<circle class=Q cx=212.2 cy=102.5 r=3.1 />
<circle class=S cx=189 cy=104.3 r=3.1 />
<circle class=P cx=236 cy=100.3 r=3.1 />
<circle class=m cx=188.4 cy=55.6 r=3.1 />
<circle class=P cx=233.4 cy=100.1 r=3.1 />
<circle class=R cx=192.4 cy=104 r=3.1 />
<circle class=S cx=191.1 cy=104.6 r=3.1 />
<circle class=U cx=167.7 cy=108.5 r=3.1 />
<circle class=v cx=174.1 cy=68.7 r=3.1 />
<circle class=Q cx=218.5 cy=101.6 r=3.1 />
<circle class=R cx=203.3 cy=103.4 r=3.1 />
<circle class=m cx=217.6 cy=55.5 r=3.1 />
<circle class=Q cx=219.6 cy=101.6 r=3.1 />
<circle class=p cx=245.7 cy=58.9 r=3.1 />
<circle class=O cx=249.7 cy=98.2 r=3.1 />
<circle class=Q cx=215.5 cy=102.1 r=3.1 />
<circle class=N cx=275 cy=97.8 r=3.1 />
<circle class=S cx=185.2 cy=105.2 r=3.1 />
<circle class=P cx=226.8 cy=100.6 r=3.1 />
<circle class=S cx=187.6 cy=105.1 r=3.1 />
<circle class=R cx=197.8 cy=103.9 r=3.1 />
<circle class=Q cx=207.1 cy=102.8 r=3.1 />
<circle class=Q cx=210 cy=102.7 r=3.1 />
<circle class=Q cx=216.5 cy=101.8 r=3.1 />
<circle class=P cx=260.7 cy=100 r=3.1 />
<circle class=p cx=213.9 cy=60.3 r=3.1 />
<circle class=T cx=172.7 cy=107.4 r=3.1 />
<circle class=R cx=200.9 cy=104 r=3.1 />
<circle class=R cx=205.6 cy=103.1 r=3.1 />
<circle class=P cx=253.6 cy=99.6 r=3.1 />
<circle class=P cx=243.3 cy=99.6 r=3.1 />
<circle class=T cx=177 cy=106.9 r=3.1 />
<circle class=P cx=239.4 cy=99.7 r=3.1 />
<circle class=N cx=292.3 cy=96.8 r=3.1 />
<circle class=s cx=183.7 cy=64.5 r=3.1 />
<circle class=o cx=268.2 cy=58.7 r=3.1 />
<circle class=R cx=196.7 cy=103.9 r=3.1 />
<circle class=p cx=269 cy=60.6 r=3.1 />
<circle class=u cx=175.1 cy=66.9 r=3.1 />
<circle class=P cx=247.6 cy=99.7 r=3.1 />
<circle class=Q cx=220.6 cy=101.4 r=3.1 />
<circle class=o cx=241.3 cy=58.5 r=3.1 />
<circle class=R cx=199.9 cy=103.7 r=3.1 />
<circle class=R cx=195.6 cy=104.1 r=3.1 />
<circle class=O cx=273.2 cy=98.4 r=3.1 />
<circle class=P cx=230.2 cy=100.8 r=3.1 />
<circle class=n cx=192.7 cy=56.6 r=3.1 />
<circle class=t cx=243.3 cy=66.4 r=3.1 />
<circle class=S cx=180.1 cy=105.8 r=3.1 />
<circle class=R cx=209.2 cy=103.2 r=3.1 />
<circle class=U cx=162.4 cy=109.6 r=3.1 />
<circle class=R cx=204.2 cy=103.5 r=3.1 />
<circle class=P cx=268.7 cy=100.7 r=3.1 />
<circle class=Q cx=211.4 cy=102.6 r=3.1 />
<circle class=P cx=224.7 cy=100.9 r=3.1 />
<circle class=m cx=222.2 cy=55.5 r=3.1 />
<circle class=Q cx=214.6 cy=102.1 r=3.1 />
<circle class=S cx=189.9 cy=104.9 r=3.1 />
<circle class=n cx=198.7 cy=57.9 r=3.1 />
<circle class=R cx=198.9 cy=103.5 r=3.1 />
<circle class=Q cx=207.8 cy=103.2 r=3.1 />
<circle class=k0 cx=80.7 cy=119.5 r=3.1 />
<circle class=u cx=199.6 cy=67.3 r=3.1 />
<circle class=Q cx=213.7 cy=102.5 r=3.1 />
<circle class=R cx=194.5 cy=104.2 r=3.1 />
<circle class=R cx=201.9 cy=103.8 r=3.1 />
<circle class=R cx=206.4 cy=103.4 r=3.1 />
<circle class=P cx=234.9 cy=100.7 r=3.1 />
<circle class=o cx=239.1 cy=58.6 r=3.1 />
<circle class=v cx=175.7 cy=68.3 r=3.1 />
<circle class=q cx=240.2 cy=61.5 r=3.1 />
<circle class=N cx=314 cy=97.3 r=3.1 />
<circle class=P cx=228 cy=100.8 r=3.1 />
<circle class=P cx=238.3 cy=100.2 r=3.1 />
<circle class=Q cx=221.7 cy=101.3 r=3.1 />
<circle class=U cx=169.4 cy=108.5 r=3.1 />
<circle class=q cx=236.8 cy=61.6 r=3.1 />
<circle class=P cx=242.1 cy=100 r=3.1 />
<circle class=P cx=225.9 cy=101.2 r=3.1 />
<circle class=O cx=261.3 cy=98.7 r=3.1 />
<circle class=Q cx=212.8 cy=102.8 r=3.1 />
<circle class=R cx=193.3 cy=104.5 r=3.1 />
<circle class=Q cx=222.8 cy=101.5 r=3.1 />
<circle class=S cx=197.4 cy=104.7 r=3.1 />
<circle class=Q cx=219 cy=102.2 r=3.1 />
<circle class=T cx=174.2 cy=107.5 r=3.1 />
<circle class=S cx=186.4 cy=105.4 r=3.1 />
<circle class=R cx=205 cy=103.6 r=3.1 />
<circle class=P cx=232.3 cy=100.3 r=3.1 />
<circle class=Q cx=210.6 cy=102.9 r=3.1 />
<circle class=P cx=237.4 cy=100.9 r=3.1 />
<circle class=Q cx=218 cy=102.2 r=3.1 />
<circle class=P cx=231.6 cy=101.2 r=3.1 />
<circle class=O cx=271 cy=98.7 r=3.1 />
<circle class=Q cx=217 cy=102.3 r=3.1 />
<circle class=u cx=172.2 cy=67.7 r=3.1 />
<circle class=U cx=170.7 cy=109 r=3.1 />
<circle class=m cx=218.4 cy=56.2 r=3.1 />
<circle class=X cx=118.8 cy=114 r=3.1 />
<circle class=O cx=251.9 cy=99.8 r=3.1 />
<circle class=Q cx=216 cy=102.5 r=3.1 />
<circle class=Q cx=224 cy=101.7 r=3.1 />
<circle class=Q cx=212 cy=103.1 r=3.1 />
<circle class=o cx=257.1 cy=59.2 r=3.1 />
<circle class=U cx=164.3 cy=109.7 r=3.1 />
<circle class=S cx=181.4 cy=106.1 r=3.1 />
<circle class=R cx=202.8 cy=103.7 r=3.1 />
<circle class=n cx=179.2 cy=57.5 r=3.1 />
<circle class=S cx=196.4 cy=104.7 r=3.1 />
<circle class=R cx=207.2 cy=103.6 r=3.1 />
<circle class=q cx=242.1 cy=61.5 r=3.1 />
<circle class=m cx=221.9 cy=55.4 r=3.1 />
<circle class=Q cx=215.1 cy=102.8 r=3.1 />
<circle class=S cx=184 cy=105.5 r=3.1 />
<circle class=N cx=289 cy=97 r=3.1 />
<circle class=P cx=246.1 cy=99.9 r=3.1 />
<circle class=T cx=178.6 cy=106.8 r=3.1 />
<circle class=R cx=203.7 cy=104 r=3.1 />
<circle class=S cx=188.8 cy=105.2 r=3.1 />
<circle class=R cx=205.8 cy=103.9 r=3.1 />
<circle class=N cx=286.9 cy=97.8 r=3.1 />
<circle class=P cx=233.8 cy=101.2 r=3.1 />
<circle class=P cx=229.2 cy=101.1 r=3.1 />
<circle class=Q cx=221.1 cy=102.1 r=3.1 />
<circle class=q cx=171.3 cy=61.3 r=3.1 />
<circle class=R cx=192.2 cy=104.6 r=3.1 />
<circle class=S cx=195.3 cy=104.8 r=3.1 />
<circle class=R cx=199.5 cy=104.2 r=3.1 />
<circle class=Q cx=209.9 cy=103.3 r=3.1 />
<circle class=R cx=198.5 cy=104.2 r=3.1 />
<circle class=Q cx=220 cy=101.9 r=3.1 />
<circle class=Q cx=208.6 cy=103.3 r=3.1 />
<circle class=O cx=269.1 cy=99.2 r=3.1 />
<circle class=Q cx=214.2 cy=102.9 r=3.1 />
<circle class=Q cx=225.1 cy=101.8 r=3.1 />
<circle class=Q cx=222.1 cy=102.2 r=3.1 />
<circle class=P cx=250.6 cy=100.3 r=3.1 />
<circle class=P cx=245 cy=100.5 r=3.1 />
<circle class=R cx=201.4 cy=104.4 r=3.1 />
<circle class=u cx=191.1 cy=67.6 r=3.1 />
<circle class=P cx=240.8 cy=100.3 r=3.1 />
<circle class=S cx=194.2 cy=105.1 r=3.1 />
<circle class=N cx=284.7 cy=98.4 r=3.1 />
<circle class=V cx=157 cy=110.7 r=3.1 />
<circle class=T cx=175.6 cy=107.7 r=3.1 />
<circle class=k0 cx=87.1 cy=118.9 r=3.1 />
<circle class=O cx=258.2 cy=99.7 r=3.1 />
<circle class=S cx=191 cy=105.1 r=3.1 />
<circle class=R cx=200.5 cy=104.1 r=3.1 />
<circle class=P cx=227 cy=101.2 r=3.1 />
<circle class=Q cx=228.4 cy=101.9 r=3.1 />
<circle class=R cx=202.4 cy=104.5 r=3.1 />
<circle class=P cx=257 cy=100.4 r=3.1 />
<circle class=Q cx=211.2 cy=103.3 r=3.1 />
<circle class=Q cx=213.4 cy=103.1 r=3.1 />
<circle class=s cx=231.9 cy=64.6 r=3.1 />
<circle class=S cx=187.5 cy=105.7 r=3.1 />
<circle class=O cx=282.5 cy=99 r=3.1 />
<circle class=P cx=239.8 cy=100.9 r=3.1 />
<circle class=R cx=207.9 cy=103.8 r=3.1 />
<circle class=n cx=184.1 cy=57.3 r=3.1 />
<circle class=R cx=204.6 cy=103.9 r=3.1 />
<circle class=P cx=236.1 cy=101.1 r=3.1 />
<circle class=Q cx=209.2 cy=103.7 r=3.1 />
<circle class=S cx=193.1 cy=105.3 r=3.1 />
<circle class=R cx=206.6 cy=104 r=3.1 />
<circle class=P cx=243.8 cy=101 r=3.1 />
<circle class=S cx=185.2 cy=105.8 r=3.1 />
<circle class=Q cx=217.4 cy=102.9 r=3.1 />
<circle class=P cx=249.3 cy=100.7 r=3.1 />
<circle class=n cx=206.7 cy=57.3 r=3.1 />
<circle class=S cx=182.7 cy=106.2 r=3.1 />
<circle class=Q cx=212.6 cy=103.4 r=3.1 />
<circle class=Q cx=218.4 cy=102.8 r=3.1 />
<circle class=R cx=205.3 cy=104.3 r=3.1 />
<circle class=V cx=17.6 cy=111.2 r=3.1 />
<circle class=p cx=260.5 cy=61.4 r=3.1 />
<circle class=U cx=172.5 cy=108.8 r=3.1 />
<circle class=T cx=183.6 cy=107 r=3.1 />
<circle class=P cx=265.7 cy=100.2 r=3.1 />
<circle class=T cx=180 cy=106.9 r=3.1 />
<circle class=Q cx=216.5 cy=102.9 r=3.1 />
<circle class=P cx=255.5 cy=100.8 r=3.1 />
<circle class=P cx=232.7 cy=101.5 r=3.1 />
<circle class=Q cx=210.5 cy=103.6 r=3.1 />
<circle class=W cx=122.9 cy=113.5 r=3.1 />
<circle class=Q cx=223.2 cy=102 r=3.1 />
<circle class=u cx=236.9 cy=68.4 r=3.1 />
<circle class=Q cx=219.3 cy=102.7 r=3.1 />
<circle class=Q cx=215.6 cy=103.2 r=3.1 />
<circle class=U cx=166.3 cy=109.3 r=3.1 />
<circle class=t cx=264.6 cy=67.2 r=3.1 />
<circle class=R cx=197.2 cy=105.1 r=3.1 />
<circle class=R cx=198.2 cy=105 r=3.1 />
<circle class=u cx=213.2 cy=68 r=3.1 />
<circle class=N cx=308.5 cy=97.2 r=3.1 />
<circle class=V cx=159 cy=110.7 r=3.1 />
<circle class=P cx=226.2 cy=101.8 r=3.1 />
<circle class=R cx=199.2 cy=104.9 r=3.1 />
<circle class=R cx=203.3 cy=104.3 r=3.1 />
<circle class=R cx=200.2 cy=104.9 r=3.1 />
<circle class=q cx=178.2 cy=62.9 r=3.1 />
<circle class=Q cx=224.3 cy=102.3 r=3.1 />
<circle class=q cx=161.1 cy=63.1 r=3.1 />
<circle class=S cx=189.9 cy=105.3 r=3.1 />
<circle class=P cx=230.4 cy=101.3 r=3.1 />
<circle class=Q cx=214.7 cy=103.4 r=3.1 />
<circle class=m cx=219.1 cy=56.6 r=3.1 />
<circle class=m cx=227.3 cy=57.2 r=3.1 />
<circle class=S cx=192 cy=105.5 r=3.1 />
<circle class=P cx=254.1 cy=101.4 r=3.1 />
<circle class=R cx=196.2 cy=105.2 r=3.1 />
<circle class=S cx=188.6 cy=106.2 r=3.1 />
<circle class=m cx=183.3 cy=56.7 r=3.1 />
<circle class=Q cx=221.4 cy=102.7 r=3.1 />
<circle class=Z cx=92.8 cy=118.4 r=3.1 />
<circle class=P cx=262.7 cy=101.4 r=3.1 />
<circle class=R cx=208.6 cy=104.1 r=3.1 />
<circle class=T cx=181.1 cy=107.4 r=3.1 />
<circle class=O cx=278.3 cy=100.1 r=3.1 />
<circle class=T cx=177.2 cy=107.6 r=3.1 />
<circle class=r cx=255.4 cy=64.6 r=3.1 />
<circle class=S cx=186.3 cy=106.2 r=3.1 />
<circle class=U cx=167.8 cy=109.6 r=3.1 />
<circle class=Q cx=213.8 cy=103.6 r=3.1 />
<circle class=r cx=258.4 cy=64.3 r=3.1 />
<circle class=Q cx=211.8 cy=103.6 r=3.1 />
<circle class=R cx=206.1 cy=104.5 r=3.1 />
<circle class=P cx=235 cy=101.5 r=3.1 />
<circle class=Q cx=220.3 cy=102.4 r=3.1 />
<circle class=m cx=214.4 cy=56.7 r=3.1 />
<circle class=R cx=204.1 cy=104.4 r=3.1 />
<circle class=P cx=231.8 cy=102 r=3.1 />
<circle class=P cx=247.8 cy=100.9 r=3.1 />
<circle class=R cx=201.1 cy=104.7 r=3.1 />
<circle class=o cx=235.5 cy=59.4 r=3.1 />
<circle class=P cx=238.5 cy=101.1 r=3.1 />
<circle class=R cx=195.1 cy=105.3 r=3.1 />
<circle class=Q cx=207.3 cy=104 r=3.1 />
<circle class=s cx=174.6 cy=66 r=3.1 />
<circle class=Q cx=209.8 cy=103.9 r=3.1 />
<circle class=W cx=126.3 cy=113.4 r=3.1 />
<circle class=V cx=160.9 cy=110.8 r=3.1 />
<circle class=P cx=227.4 cy=102.1 r=3.1 />
<circle class=Q cx=213.1 cy=103.9 r=3.1 />
<circle class=Q cx=225.4 cy=102.5 r=3.1 />
<circle class=P cx=229.5 cy=101.9 r=3.1 />
<circle class=o cx=220.9 cy=59.6 r=3.1 />
<circle class=S cx=190.8 cy=105.9 r=3.1 />
<circle class=R cx=202 cy=104.8 r=3.1 />
<circle class=p cx=254.7 cy=61 r=3.1 />
<circle class=p cx=242 cy=60.9 r=3.1 />
<circle class=t cx=185.9 cy=66.5 r=3.1 />
<circle class=t cx=248 cy=66.4 r=3.1 />
<circle class=Q cx=211.1 cy=103.9 r=3.1 />
<circle class=Q cx=217.8 cy=103.4 r=3.1 />
<circle class=Q cx=222.4 cy=102.6 r=3.1 />
<circle class=R cx=202.9 cy=105 r=3.1 />
<circle class=R cx=204.9 cy=104.7 r=3.1 />
<circle class=r cx=245.5 cy=64.2 r=3.1 />
<circle class=S cx=194.1 cy=105.6 r=3.1 />
<circle class=P cx=242.2 cy=101 r=3.1 />
<circle class=l cx=191.5 cy=55.5 r=3.1 />
<circle class=N cx=279.4 cy=98.9 r=3.1 />
<circle class=R cx=203.7 cy=105.3 r=3.1 />
<circle class=R cx=209.2 cy=104.4 r=3.1 />
<circle class=Q cx=215.9 cy=103.6 r=3.1 />
<circle class=Z cx=105 cy=118.8 r=3.1 />
<circle class=P cx=241.2 cy=101.6 r=3.1 />
<circle class=R cx=206.8 cy=104.7 r=3.1 />
<circle class=R cx=208 cy=104.4 r=3.1 />
<circle class=P cx=252.5 cy=101.5 r=3.1 />
<circle class=S cx=185 cy=107 r=3.1 />
<circle class=Z cx=101.6 cy=118.4 r=3.1 />
<circle class=O cx=334.7 cy=99.6 r=3.1 />
<circle class=O cx=263.4 cy=100.2 r=3.1 />
<circle class=Q cx=219.7 cy=103.3 r=3.1 />
<circle class=W cx=129.2 cy=113.5 r=3.1 />
<circle class=T cx=174.3 cy=108.5 r=3.1 />
<circle class=m cx=199.4 cy=57.2 r=3.1 />
<circle class=Q cx=215.1 cy=103.8 r=3.1 />
<circle class=T cx=178.6 cy=107.8 r=3.1 />
<circle class=Z cx=98.2 cy=117.9 r=3.1 />
<circle class=M cx=304.3 cy=97.3 r=3.1 />
<circle class=R cx=205.6 cy=104.9 r=3.1 />
<circle class=N cx=301.7 cy=98.2 r=3.1 />
<circle class=P cx=272.5 cy=101.6 r=3.1 />
<circle class=Q cx=228.6 cy=102.5 r=3.1 />
<circle class=U cx=162.7 cy=110.9 r=3.1 />
<circle class=Q cx=218.7 cy=103.1 r=3.1 />
<circle class=Q cx=216.8 cy=103.3 r=3.1 />
<circle class=S cx=191.8 cy=106.5 r=3.1 />
<circle class=S cx=187.5 cy=106.5 r=3.1 />
<circle class=Q cx=212.3 cy=104 r=3.1 />
<circle class=P cx=233.9 cy=101.8 r=3.1 />
<circle class=R cx=199.9 cy=105.4 r=3.1 />
<circle class=S cx=197 cy=105.7 r=3.1 />
<circle class=U cx=169.6 cy=109.5 r=3.1 />
<circle class=R cx=198 cy=105.5 r=3.1 />
<circle class=R cx=199 cy=105.4 r=3.1 />
<circle class=S cx=193 cy=105.8 r=3.1 />
<circle class=R cx=211.6 cy=104.6 r=3.1 />
<circle class=Q cx=226.5 cy=102.6 r=3.1 />
<circle class=q cx=211.5 cy=62.6 r=3.1 />
<circle class=P cx=245.3 cy=101.9 r=3.1 />
<circle class=P cx=237.3 cy=101.4 r=3.1 />
<circle class=R cx=200.8 cy=105.4 r=3.1 />
<circle class=S cx=189.7 cy=106.3 r=3.1 />
<circle class=Q cx=220.6 cy=103.2 r=3.1 />
<circle class=Q cx=223.4 cy=102.6 r=3.1 />
<circle class=P cx=246.3 cy=101.1 r=3.1 />
<circle class=Q cx=258 cy=102.7 r=3.1 />
<circle class=N cx=338.1 cy=98.4 r=3.1 />
<circle class=Q cx=214.3 cy=104 r=3.1 />
<circle class=Q cx=210.4 cy=104.2 r=3.1 />
<circle class=T cx=175.6 cy=108.9 r=3.1 />
<circle class=P cx=230.7 cy=102.3 r=3.1 />
<circle class=r cx=270.2 cy=65.2 r=3.1 />
<circle class=N cx=298.8 cy=98.8 r=3.1 />
<circle class=Q cx=213.5 cy=104.3 r=3.1 />
<circle class=O cx=273.7 cy=100.7 r=3.1 />
<circle class=P cx=240.1 cy=102.1 r=3.1 />
<circle class=P cx=251 cy=101.9 r=3.1 />
<circle class=Q cx=224.5 cy=102.9 r=3.1 />
<circle class=q cx=162.3 cy=63.6 r=3.1 />
<circle class=T cx=186.1 cy=107.4 r=3.1 />
<circle class=m cx=198.6 cy=56.9 r=3.1 />
<circle class=Q cx=221.6 cy=103.2 r=3.1 />
<circle class=R cx=196 cy=105.7 r=3.1 />
<circle class=q cx=211.8 cy=63.4 r=3.1 />
<circle class=O cx=329.7 cy=100.1 r=3.1 />
<circle class=P cx=236.3 cy=102 r=3.1 />
<circle class=R cx=201.7 cy=105.3 r=3.1 />
<circle class=R cx=204.5 cy=105.1 r=3.1 />
<circle class=R cx=208.6 cy=104.7 r=3.1 />
<circle class=R cx=209.8 cy=104.7 r=3.1 />
<circle class=S cx=195 cy=106 r=3.1 />
<circle class=M cx=341.7 cy=97.2 r=3.1 />
<circle class=S cx=182.7 cy=107 r=3.1 />
<circle class=P cx=260.2 cy=101.1 r=3.1 />
<circle class=R cx=207.5 cy=104.8 r=3.1 />
<circle class=P cx=232.9 cy=102.2 r=3.1 />
<circle class=R cx=206.4 cy=105.1 r=3.1 />
<circle class=Q cx=222.7 cy=103.4 r=3.1 />
<circle class=W cx=132.5 cy=113.2 r=3.1 />
<circle class=Q cx=235.4 cy=102.7 r=3.1 />
<circle class=l cx=193.7 cy=56.1 r=3.1 />
<circle class=R cx=202.6 cy=105.4 r=3.1 />
<circle class=P cx=249.7 cy=102.3 r=3.1 />
<circle class=Q cx=227.6 cy=103 r=3.1 />
<circle class=Q cx=229.8 cy=102.9 r=3.1 />
<circle class=P cx=258.8 cy=101.6 r=3.1 />
<circle class=o cx=269.5 cy=59.8 r=3.1 />
<circle class=U cx=164.6 cy=110.8 r=3.1 />
<circle class=S cx=188.6 cy=106.8 r=3.1 />
<circle class=S cx=193.9 cy=106.3 r=3.1 />
<circle class=P cx=238.9 cy=102.5 r=3.1 />
<circle class=q cx=184.2 cy=64 r=3.1 />
<circle class=Q cx=212.7 cy=104.5 r=3.1 />
<circle class=r cx=178.8 cy=64.2 r=3.1 />
<circle class=S cx=190.7 cy=106.7 r=3.1 />
<circle class=Q cx=217.1 cy=103.9 r=3.1 />
<circle class=T cx=180.1 cy=107.8 r=3.1 />
<circle class=P cx=243.9 cy=102.1 r=3.1 />
<circle class=Q cx=218 cy=103.8 r=3.1 />
<circle class=Q cx=215.4 cy=104.3 r=3.1 />
<circle class=Q cx=210.9 cy=104.6 r=3.1 />
<circle class=T cx=171.4 cy=109.4 r=3.1 />
<circle class=n cx=194.8 cy=59.4 r=3.1 />
<circle class=L cx=345.4 cy=95.9 r=3.1 />
<circle class=r cx=246.6 cy=64.6 r=3.1 />
<circle class=Q cx=232 cy=102.9 r=3.1 />
<circle class=P cx=270 cy=101.6 r=3.1 />
<circle class=Q cx=242.8 cy=102.7 r=3.1 />
<circle class=s cx=271.5 cy=65.5 r=3.1 />
<circle class=s cx=246 cy=66.2 r=3.1 />
<circle class=q cx=214.1 cy=62.7 r=3.1 />
<circle class=S cx=198.8 cy=106 r=3.1 />
<circle class=Q cx=214.6 cy=104.5 r=3.1 />
<circle class=Q cx=218.9 cy=103.7 r=3.1 />
<circle class=R cx=199.7 cy=105.9 r=3.1 />
<circle class=v cx=185.4 cy=69.9 r=3.1 />
<circle class=Q cx=266.8 cy=102.8 r=3.1 />
<circle class=S cx=197.8 cy=106.1 r=3.1 />
<circle class=Q cx=219.9 cy=103.7 r=3.1 />
<circle class=R cx=203.4 cy=105.4 r=3.1 />
<circle class=s cx=192.6 cy=66.5 r=3.1 />
<circle class=s cx=190.6 cy=66.7 r=3.1 />
<circle class=S cx=183.9 cy=107.4 r=3.1 />
<circle class=Q cx=254.8 cy=103.3 r=3.1 />
<circle class=Q cx=225.5 cy=102.9 r=3.1 />
<circle class=R cx=205.3 cy=105.1 r=3.1 />
<circle class=R cx=200.6 cy=105.9 r=3.1 />
<circle class=R cx=208.1 cy=105.1 r=3.1 />
<circle class=Q cx=262.4 cy=104.6 r=3.1 />
<circle class=Q cx=223.7 cy=103.4 r=3.1 />
<circle class=R cx=207 cy=105.3 r=3.1 />
<circle class=p cx=160.9 cy=62.1 r=3.1 />
<circle class=R cx=209.2 cy=105 r=3.1 />
<circle class=Q cx=220.9 cy=103.8 r=3.1 />
<circle class=Q cx=216.2 cy=103.8 r=3.1 />
<circle class=N cx=293 cy=99.7 r=3.1 />
<circle class=T cx=16.6 cy=108.2 r=3.1 />
<circle class=T cx=181.3 cy=108.1 r=3.1 />
<circle class=O cx=324.5 cy=100.4 r=3.1 />
<circle class=S cx=192.9 cy=106.6 r=3.1 />
<circle class=u cx=171.6 cy=69.3 r=3.1 />
<circle class=T cx=177.3 cy=108.7 r=3.1 />
<circle class=P cx=255.9 cy=102.6 r=3.1 />
<circle class=q cx=253.1 cy=62.5 r=3.1 />
<circle class=k4 cx=28.3 cy=126.7 r=3.1 />
<circle class=R cx=201.5 cy=105.9 r=3.1 />
<circle class=S cx=196.9 cy=106.2 r=3.1 />
<circle class=K cx=349.2 cy=94.5 r=3.1 />
<circle class=R cx=205.9 cy=105.5 r=3.1 />
<circle class=Q cx=228.8 cy=103.4 r=3.1 />
<circle class=T cx=172.9 cy=109.6 r=3.1 />
<circle class=Q cx=212 cy=104.6 r=3.1 />
<circle class=N cx=274.2 cy=99.2 r=3.1 />
<circle class=Y cx=111 cy=117.5 r=3.1 />
<circle class=R cx=204.2 cy=105.5 r=3.1 />
<circle class=o cx=214.4 cy=60.7 r=3.1 />
<circle class=l cx=197.9 cy=56.5 r=3.1 />
<circle class=Q cx=210.3 cy=104.9 r=3.1 />
<circle class=q cx=237.5 cy=63.5 r=3.1 />
<circle class=S cx=191.8 cy=107.1 r=3.1 />
<circle class=R cx=202.3 cy=106 r=3.1 />
<circle class=Q cx=213.8 cy=104.5 r=3.1 />
<circle class=q cx=182.6 cy=63.4 r=3.1 />
<circle class=Q cx=226.7 cy=103.3 r=3.1 />
<circle class=V cx=155.8 cy=111.6 r=3.1 />
<circle class=Q cx=230.9 cy=103.3 r=3.1 />
<circle class=S cx=187.4 cy=107.3 r=3.1 />
<circle class=q cx=183.2 cy=63 r=3.1 />
<circle class=n cx=195.2 cy=59.1 r=3.1 />
<circle class=P cx=248 cy=102.3 r=3.1 />
<circle class=Q cx=245.9 cy=103.7 r=3.1 />
<circle class=Q cx=221.8 cy=103.8 r=3.1 />
<circle class=S cx=189.7 cy=107 r=3.1 />
<circle class=S cx=194.9 cy=106.7 r=3.1 />
<circle class=S cx=195.9 cy=106.3 r=3.1 />
<circle class=Q cx=224.7 cy=103.6 r=3.1 />
<circle class=P cx=237.6 cy=102.6 r=3.1 />
<circle class=o cx=215.5 cy=60.5 r=3.1 />
<circle class=P cx=241.5 cy=102.9 r=3.1 />
<circle class=P cx=267.7 cy=101.7 r=3.1 />
<circle class=k4 cx=37.6 cy=126.2 r=3.1 />
<circle class=N cx=290.1 cy=100 r=3.1 />
<circle class=Q cx=213.1 cy=104.8 r=3.1 />
<circle class=R cx=208.7 cy=105.4 r=3.1 />
<circle class=R cx=204.9 cy=105.7 r=3.1 />
<circle class=P cx=246.8 cy=102.9 r=3.1 />
<circle class=U cx=166.7 cy=110.4 r=3.1 />
<circle class=R cx=203.1 cy=106 r=3.1 />
<circle class=Q cx=211.3 cy=104.9 r=3.1 />
<circle class=Q cx=217.4 cy=104.4 r=3.1 />
<circle class=m cx=192.2 cy=57 r=3.1 />
<circle class=Q cx=216.5 cy=104.5 r=3.1 />
<circle class=v cx=194 cy=70.3 r=3.1 />
<circle class=V cx=157.7 cy=111.8 r=3.1 />
<circle class=P cx=234 cy=102.6 r=3.1 />
<circle class=R cx=207.6 cy=105.4 r=3.1 />
<circle class=S cx=188.5 cy=107.8 r=3.1 />
<circle class=o cx=213.7 cy=60.8 r=3.1 />
<circle class=k3 cx=21.6 cy=125.9 r=3.1 />
<circle class=Q cx=218.3 cy=104.3 r=3.1 />
<circle class=Q cx=236.6 cy=103.2 r=3.1 />
<circle class=Q cx=219.2 cy=104.3 r=3.1 />
<circle class=S cx=185.2 cy=107.4 r=3.1 />
<circle class=R cx=206.6 cy=105.7 r=3.1 />
<circle class=R cx=209.7 cy=105.3 r=3.1 />
<circle class=S cx=199.6 cy=106.5 r=3.1 />
<circle class=Q cx=215.7 cy=104.6 r=3.1 />
<circle class=k cx=219.3 cy=54.7 r=3.1 />
<circle class=p cx=179.9 cy=62.5 r=3.1 />
<circle class=k3 cx=52.8 cy=125.9 r=3.1 />
<circle class=p cx=267 cy=61.7 r=3.1 />
<circle class=U cx=168.2 cy=110.6 r=3.1 />
<circle class=Q cx=222.8 cy=103.8 r=3.1 />
<circle class=V cx=136.4 cy=112.3 r=3.1 />
<circle class=R cx=203.9 cy=106.1 r=3.1 />
<circle class=R cx=210.7 cy=105.3 r=3.1 />
<circle class=Q cx=220.1 cy=104.4 r=3.1 />
<circle class=Q cx=252.8 cy=103.2 r=3.1 />
<circle class=S cx=197.7 cy=106.7 r=3.1 />
<circle class=S cx=198.7 cy=106.5 r=3.1 />
<circle class=S cx=193.9 cy=106.9 r=3.1 />
<circle class=Q cx=212.4 cy=105 r=3.1 />
<circle class=Q cx=233.1 cy=103.2 r=3.1 />
<circle class=k3 cx=59.5 cy=125.8 r=3.1 />
<circle class=Q cx=251.6 cy=103.8 r=3.1 />
<circle class=S cx=182.7 cy=108 r=3.1 />
<circle class=o cx=256 cy=60.5 r=3.1 />
<circle class=Q cx=262.9 cy=103.2 r=3.1 />
<circle class=Q cx=225.7 cy=103.8 r=3.1 />
<circle class=Q cx=260.1 cy=104.4 r=3.1 />
<circle class=Y cx=115.3 cy=117 r=3.1 />
<circle class=l cx=220.7 cy=56.2 r=3.1 />
<circle class=S cx=201.3 cy=106.5 r=3.1 />
<circle class=Q cx=227.7 cy=103.6 r=3.1 />
<circle class=Q cx=214.9 cy=104.7 r=3.1 />
<circle class=Q cx=223.8 cy=104.2 r=3.1 />
<circle class=Q cx=221 cy=104.5 r=3.1 />
<circle class=R cx=205.6 cy=105.8 r=3.1 />
<circle class=S cx=190.8 cy=107.3 r=3.1 />
<circle class=Q cx=229.8 cy=103.6 r=3.1 />
<circle class=P cx=240.2 cy=103.1 r=3.1 />
<circle class=S cx=186.3 cy=107.9 r=3.1 />
<circle class=R cx=211.7 cy=105.4 r=3.1 />
<circle class=R cx=200.5 cy=106.2 r=3.1 />
<circle class=T cx=179 cy=108.3 r=3.1 />
<circle class=Q cx=214.1 cy=104.9 r=3.1 />
<circle class=r cx=188.2 cy=65.2 r=3.1 />
<circle class=T cx=174.7 cy=109.3 r=3.1 />
<circle class=Q cx=258.5 cy=104.8 r=3.1 />
<circle class=o cx=220.2 cy=60.9 r=3.1 />
<circle class=S cx=195.8 cy=107.1 r=3.1 />
<circle class=S cx=196.8 cy=106.7 r=3.1 />
<circle class=U cx=159.7 cy=111.7 r=3.1 />
<circle class=Q cx=244.3 cy=103.7 r=3.1 />
<circle class=o cx=223.8 cy=60.5 r=3.1 />
<circle class=R cx=209.2 cy=105.7 r=3.1 />
<circle class=v cx=187.8 cy=70.4 r=3.1 />
<circle class=R cx=204.6 cy=106.2 r=3.1 />
<circle class=S cx=192.9 cy=107.2 r=3.1 />
<circle class=R cx=207.2 cy=105.9 r=3.1 />
<circle class=Q cx=217.6 cy=105.1 r=3.1 />
<circle class=Q cx=235.4 cy=103.5 r=3.1 />
<circle class=R cx=208.2 cy=105.7 r=3.1 />
<circle class=R cx=202.1 cy=106.3 r=3.1 />
<circle class=P cx=264 cy=102.3 r=3.1 />
<circle class=U cx=169.9 cy=110.7 r=3.1 />
<circle class=M cx=293.3 cy=97.9 r=3.1 />
<circle class=q cx=277.3 cy=63 r=3.1 />
<circle class=V cx=161.4 cy=112 r=3.1 />
<circle class=N cx=318.5 cy=100.2 r=3.1 />
<circle class=Q cx=213.4 cy=105.2 r=3.1 />
<circle class=s cx=186 cy=67 r=3.1 />
<circle class=Q cx=275.4 cy=103.9 r=3.1 />
<circle class=Q cx=232 cy=103.6 r=3.1 />
<circle class=t cx=176.1 cy=68.8 r=3.1 />
<circle class=T cx=176 cy=109.6 r=3.1 />
<circle class=R cx=206.2 cy=106.1 r=3.1 />
<circle class=R cx=210.2 cy=105.6 r=3.1 />
<circle class=T cx=180.2 cy=108.7 r=3.1 />
<circle class=s cx=182.1 cy=67.4 r=3.1 />
<circle class=n cx=236.6 cy=60.1 r=3.1 />
<circle class=R cx=202.9 cy=106.4 r=3.1 />
<circle class=S cx=194.9 cy=107.4 r=3.1 />
<circle class=Q cx=218.4 cy=104.9 r=3.1 />
<circle class=S cx=189.7 cy=107.9 r=3.1 />
<circle class=S cx=184 cy=108.2 r=3.1 />
<circle class=O cx=282.6 cy=101.2 r=3.1 />
<circle class=v cx=213.4 cy=71.2 r=3.1 />
<circle class=Q cx=215.2 cy=105.4 r=3.1 />
<circle class=Q cx=215.9 cy=105.1 r=3.1 />
<circle class=R cx=211.1 cy=105.7 r=3.1 />
<circle class=S cx=191.8 cy=107.7 r=3.1 />
<circle class=k2 cx=67.3 cy=125 r=3.1 />
<circle class=Q cx=221.9 cy=104.3 r=3.1 />
<circle class=Q cx=249.9 cy=103.8 r=3.1 />
<circle class=Q cx=212.7 cy=105.4 r=3.1 />
<circle class=Q cx=216.7 cy=104.9 r=3.1 />
<circle class=P cx=238.9 cy=103.3 r=3.1 />
<circle class=Q cx=224.8 cy=104.2 r=3.1 />
<circle class=N cx=286.3 cy=99.8 r=3.1 />
<circle class=q cx=243.1 cy=63.9 r=3.1 />
<circle class=S cx=187.5 cy=108 r=3.1 />
<circle class=Q cx=234.3 cy=103.9 r=3.1 />
<circle class=R cx=205.3 cy=106.3 r=3.1 />
<circle class=Q cx=226.7 cy=103.9 r=3.1 />
<circle class=N cx=284.2 cy=100.4 r=3.1 />
<circle class=Q cx=228.8 cy=103.9 r=3.1 />
<circle class=R cx=203.7 cy=106.5 r=3.1 />
<circle class=S cx=200.4 cy=106.9 r=3.1 />
<circle class=Q cx=242.9 cy=103.8 r=3.1 />
<circle class=T cx=181.5 cy=108.9 r=3.1 />
<circle class=R cx=208.7 cy=106 r=3.1 />
<circle class=S cx=193.9 cy=107.6 r=3.1 />
<circle class=Q cx=231 cy=104 r=3.1 />
<circle class=S cx=197.7 cy=107.3 r=3.1 />
<circle class=Q cx=219.3 cy=104.7 r=3.1 />
<circle class=R cx=207.8 cy=106.1 r=3.1 />
<circle class=R cx=209.6 cy=106 r=3.1 />
<circle class=v cx=193.6 cy=71.2 r=3.1 />
<circle class=U cx=171.6 cy=110.6 r=3.1 />
<circle class=T cx=185.2 cy=108.5 r=3.1 />
<circle class=s cx=235.1 cy=66.7 r=3.1 />
<circle class=O cx=280.1 cy=101.5 r=3.1 />
<circle class=Q cx=222.9 cy=104.4 r=3.1 />
<circle class=Q cx=214.4 cy=105.4 r=3.1 />
<circle class=R cx=212.1 cy=105.7 r=3.1 />
<circle class=Q cx=220.2 cy=104.8 r=3.1 />
<circle class=U cx=163.4 cy=111.8 r=3.1 />
<circle class=S cx=198.6 cy=107 r=3.1 />
<circle class=R cx=199.5 cy=106.8 r=3.1 />
<circle class=R cx=206.9 cy=106.3 r=3.1 />
<circle class=R cx=201.2 cy=106.8 r=3.1 />
<circle class=Q cx=248.5 cy=104.1 r=3.1 />
<circle class=o cx=199.4 cy=61.4 r=3.1 />
<circle class=R cx=204.4 cy=106.6 r=3.1 />
<circle class=O cx=278.1 cy=102 r=3.1 />
<circle class=S cx=188.6 cy=108.5 r=3.1 />
<circle class=t cx=190.5 cy=68.5 r=3.1 />
<circle class=t cx=199.4 cy=69.2 r=3.1 />
<circle class=s cx=189.1 cy=66.9 r=3.1 />
<circle class=R cx=202 cy=106.8 r=3.1 />
<circle class=Q cx=213.7 cy=105.6 r=3.1 />
<circle class=o cx=217.1 cy=61.2 r=3.1 />
<circle class=T cx=177.6 cy=109.5 r=3.1 />
<circle class=Q cx=223.9 cy=104.8 r=3.1 />
<circle class=R cx=210.6 cy=105.9 r=3.1 />
<circle class=T cx=182.7 cy=109.3 r=3.1 />
<circle class=s cx=189.4 cy=67.5 r=3.1 />
<circle class=Q cx=225.8 cy=104.5 r=3.1 />
<circle class=X cx=120.2 cy=116 r=3.1 />
<circle class=Q cx=221.1 cy=104.9 r=3.1 />
<circle class=S cx=190.8 cy=108.1 r=3.1 />
<circle class=P cx=237.7 cy=103.6 r=3.1 />
<circle class=Q cx=230 cy=104.5 r=3.1 />
<circle class=R cx=206 cy=106.4 r=3.1 />
<circle class=Q cx=241.5 cy=104 r=3.1 />
<circle class=S cx=196.9 cy=107.2 r=3.1 />
<circle class=R cx=211.5 cy=106 r=3.1 />
<circle class=Q cx=227.8 cy=104.2 r=3.1 />
<circle class=R cx=202.8 cy=106.8 r=3.1 />
<circle class=P cx=272.5 cy=103.6 r=3.1 />
<circle class=R cx=213 cy=105.9 r=3.1 />
<circle class=Q cx=267.5 cy=105.2 r=3.1 />
<circle class=s cx=196.9 cy=67.6 r=3.1 />
<circle class=Q cx=222.1 cy=105.1 r=3.1 />
<circle class=v cx=185.2 cy=70.7 r=3.1 />
<circle class=Q cx=218.6 cy=105.5 r=3.1 />
<circle class=R cx=208.3 cy=106.4 r=3.1 />
<circle class=u cx=192 cy=70 r=3.1 />
<circle class=v cx=177.8 cy=71.3 r=3.1 />
<circle class=Q cx=253.5 cy=105.4 r=3.1 />
<circle class=Q cx=256.1 cy=104.2 r=3.1 />
<circle class=S cx=193 cy=107.8 r=3.1 />
<circle class=Q cx=216.9 cy=105.4 r=3.1 />
<circle class=W cx=123.5 cy=115.9 r=3.1 />
<circle class=T cx=178.9 cy=109.7 r=3.1 />
<circle class=Q cx=233.1 cy=104 r=3.1 />
<circle class=t cx=192.5 cy=68 r=3.1 />
<circle class=q cx=175.7 cy=65.1 r=3.1 />
<circle class=R cx=209.2 cy=106.3 r=3.1 />
<circle class=R cx=203.5 cy=107 r=3.1 />
<circle class=Q cx=265.8 cy=105.6 r=3.1 />
<circle class=o cx=207 cy=61.3 r=3.1 />
<circle class=Q cx=216.1 cy=105.5 r=3.1 />
<circle class=R cx=205.1 cy=106.7 r=3.1 />
<circle class=S cx=194.9 cy=108 r=3.1 />
<circle class=Q cx=236.5 cy=104 r=3.1 />
<circle class=S cx=195.9 cy=107.4 r=3.1 />
<circle class=S cx=186.5 cy=108.6 r=3.1 />
<circle class=Q cx=246.9 cy=104.2 r=3.1 />
<circle class=Q cx=215.3 cy=105.7 r=3.1 />
<circle class=R cx=207.4 cy=106.4 r=3.1 />
<circle class=T cx=173.3 cy=110.4 r=3.1 />
<circle class=R cx=206.5 cy=106.7 r=3.1 />
<circle class=Q cx=217.7 cy=105.3 r=3.1 />
<circle class=Q cx=245.8 cy=104.8 r=3.1 />
<circle class=r cx=203.1 cy=66.5 r=3.1 />
<circle class=r cx=194.7 cy=65.4 r=3.1 />
<circle class=R cx=214.6 cy=105.9 r=3.1 />
<circle class=u cx=188.7 cy=69.5 r=3.1 />
<circle class=k cx=218.1 cy=55.1 r=3.1 />
<circle class=Q cx=240.3 cy=104.4 r=3.1 />
<circle class=s cx=262 cy=67.7 r=3.1 />
<circle class=N cx=312.7 cy=99.9 r=3.1 />
<circle class=S cx=200.3 cy=107.4 r=3.1 />
<circle class=R cx=210 cy=106.2 r=3.1 />
<circle class=R cx=212.4 cy=106.1 r=3.1 />
<circle class=Q cx=264 cy=105.9 r=3.1 />
<circle class=S cx=199.5 cy=107.4 r=3.1 />
<circle class=T cx=174.7 cy=110.7 r=3.1 />
<circle class=R cx=205.7 cy=107 r=3.1 />
<circle class=S cx=201.1 cy=107.3 r=3.1 />
<circle class=Q cx=224.8 cy=104.8 r=3.1 />
<circle class=S cx=189.8 cy=108.5 r=3.1 />
<circle class=Q cx=235.4 cy=104.4 r=3.1 />
<circle class=S cx=192 cy=108.3 r=3.1 />
<circle class=S cx=198.6 cy=107.5 r=3.1 />
<circle class=Q cx=223 cy=105.2 r=3.1 />
<circle class=R cx=204.2 cy=107 r=3.1 />
<circle class=P cx=270.2 cy=103.7 r=3.1 />
<circle class=Q cx=220.3 cy=105.4 r=3.1 />
<circle class=S cx=197.8 cy=107.7 r=3.1 />
<circle class=Q cx=219.4 cy=105.1 r=3.1 />
<circle class=S cx=201.9 cy=107.3 r=3.1 />
<circle class=R cx=210.9 cy=106.2 r=3.1 />
<circle class=Q cx=213.9 cy=106 r=3.1 />
<circle class=Q cx=254.3 cy=104.3 r=3.1 />
<circle class=R cx=207.9 cy=106.8 r=3.1 />
<circle class=Q cx=228.8 cy=104.6 r=3.1 />
<circle class=Q cx=268.4 cy=104.1 r=3.1 />
<circle class=U cx=165.7 cy=111.1 r=3.1 />
<circle class=k1 cx=20.6 cy=122.9 r=3.1 />
<circle class=S cx=196.9 cy=108 r=3.1 />
<circle class=R cx=211.8 cy=106.4 r=3.1 />
<circle class=S cx=194 cy=108.1 r=3.1 />
<circle class=Q cx=221.2 cy=105.5 r=3.1 />
<circle class=S cx=187.7 cy=108.8 r=3.1 />
<circle class=R cx=208.7 cy=106.6 r=3.1 />
<circle class=Q cx=238 cy=105.2 r=3.1 />
<circle class=Q cx=231.9 cy=104.2 r=3.1 />
<circle class=R cx=202.7 cy=107.3 r=3.1 />
<circle class=t cx=179.4 cy=69.4 r=3.1 />
<circle class=S cx=184.2 cy=108.9 r=3.1 />
<circle class=R cx=207.1 cy=106.9 r=3.1 />
<circle class=v cx=185 cy=70.9 r=3.1 />
<circle class=R cx=209.6 cy=106.6 r=3.1 />
<circle class=T cx=180.4 cy=109.5 r=3.1 />
<circle class=Q cx=239 cy=104.5 r=3.1 />
<circle class=o cx=229.2 cy=61.6 r=3.1 />
<circle class=R cx=204.9 cy=107.2 r=3.1 />
<circle class=R cx=213.2 cy=106.2 r=3.1 />
<circle class=Q cx=226.7 cy=104.3 r=3.1 />
<circle class=k1 cx=76.9 cy=123 r=3.1 />
<circle class=Q cx=244.2 cy=104.8 r=3.1 />
<circle class=Q cx=261.9 cy=105.9 r=3.1 />
<circle class=n cx=217.1 cy=60 r=3.1 />
<circle class=O cx=274.8 cy=101.6 r=3.1 />
<circle class=S cx=191 cy=108.8 r=3.1 />
<circle class=Q cx=230.9 cy=104.7 r=3.1 />
<circle class=S cx=196 cy=108.2 r=3.1 />
<circle class=R cx=206.3 cy=107.1 r=3.1 />
<circle class=Q cx=234.2 cy=104.6 r=3.1 />
<circle class=Q cx=216.2 cy=106 r=3.1 />
<circle class=R cx=210.4 cy=106.5 r=3.1 />
<circle class=R cx=203.4 cy=107.3 r=3.1 />
<circle class=Q cx=215.4 cy=106.1 r=3.1 />
<circle class=o cx=223.3 cy=61.9 r=3.1 />
<circle class=Q cx=217 cy=105.8 r=3.1 />
<circle class=S cx=193.1 cy=108.6 r=3.1 />
<circle class=Q cx=218.6 cy=105.9 r=3.1 />
<circle class=Q cx=217.8 cy=105.8 r=3.1 />
<circle class=q cx=222.4 cy=64 r=3.1 />
<circle class=T cx=185.4 cy=109.2 r=3.1 />
<circle class=Q cx=233.3 cy=105.3 r=3.1 />
<circle class=R cx=211.2 cy=106.7 r=3.1 />
<circle class=R cx=212.6 cy=106.5 r=3.1 />
<circle class=Q cx=223.9 cy=105.2 r=3.1 />
<circle class=Q cx=230 cy=105.4 r=3.1 />
<circle class=Q cx=227.8 cy=105.1 r=3.1 />
<circle class=S cx=255.9 cy=107.7 r=3.1 />
<circle class=S cx=199.5 cy=108.1 r=3.1 />
<circle class=p cx=264.8 cy=63.3 r=3.1 />
<circle class=Q cx=222 cy=105.5 r=3.1 />
<circle class=Q cx=214.7 cy=106.2 r=3.1 />
<circle class=S cx=201.1 cy=107.9 r=3.1 />
<circle class=Q cx=225.7 cy=104.9 r=3.1 />
<circle class=W cx=127.9 cy=115 r=3.1 />
<circle class=R cx=204.1 cy=107.5 r=3.1 />
<circle class=Q cx=242.9 cy=105 r=3.1 />
<circle class=R cx=214 cy=106.6 r=3.1 />
<circle class=R cx=205.5 cy=107.3 r=3.1 />
<circle class=R cx=208.4 cy=107 r=3.1 />
<circle class=U cx=168.9 cy=111.3 r=3.1 />
<circle class=W cx=130.5 cy=115.2 r=3.1 />
<circle class=j cx=193.4 cy=54.6 r=3.1 />
<circle class=S cx=200.4 cy=107.8 r=3.1 />
<circle class=S cx=195.1 cy=108.4 r=3.1 />
<circle class=R cx=209.2 cy=106.9 r=3.1 />
<circle class=Q cx=219.4 cy=105.8 r=3.1 />
<circle class=S cx=201.9 cy=107.8 r=3.1 />
<circle class=Q cx=224.9 cy=105.7 r=3.1 />
<circle class=t cx=187 cy=68.6 r=3.1 />
<circle class=U cx=156.7 cy=112.7 r=3.1 />
<circle class=T cx=176.5 cy=110.2 r=3.1 />
<circle class=T cx=181.8 cy=109.5 r=3.1 />
<circle class=R cx=207.6 cy=107.1 r=3.1 />
<circle class=T cx=167.7 cy=110.8 r=3.1 />
<circle class=k0 cx=92.6 cy=122.4 r=3.1 />
<circle class=m cx=227 cy=58.6 r=3.1 />
<circle class=S cx=197.8 cy=108.3 r=3.1 />
<circle class=r cx=223.8 cy=67.1 r=3.1 />
<circle class=W cx=133.2 cy=115.3 r=3.1 />
<circle class=R cx=212 cy=106.8 r=3.1 />
<circle class=Q cx=260 cy=105.9 r=3.1 />
<circle class=r cx=252 cy=65.7 r=3.1 />
<circle class=k0 cx=97 cy=122.3 r=3.1 />
<circle class=Q cx=220.3 cy=106 r=3.1 />
<circle class=k0 cx=83.4 cy=122.2 r=3.1 />
<circle class=S cx=198.7 cy=108 r=3.1 />
<circle class=S cx=188.9 cy=108.7 r=3.1 />
<circle class=o cx=234.6 cy=61.5 r=3.1 />
<circle class=Q cx=258.5 cy=106.4 r=3.1 />
<circle class=s cx=251.6 cy=68.2 r=3.1 />
<circle class=R cx=209.9 cy=106.9 r=3.1 />
<circle class=T cx=183 cy=110 r=3.1 />
<circle class=T cx=186.6 cy=109.4 r=3.1 />
<circle class=T cx=177.8 cy=110.5 r=3.1 />
<circle class=Q cx=223 cy=105.8 r=3.1 />
<circle class=R cx=213.4 cy=106.7 r=3.1 />
<circle class=U cx=170.5 cy=111.4 r=3.1 />
<circle class=R cx=204.8 cy=107.6 r=3.1 />
<circle class=Q cx=241.6 cy=105.3 r=3.1 />
<circle class=R cx=206.9 cy=107.2 r=3.1 />
<circle class=R cx=276.5 cy=106.8 r=3.1 />
<circle class=Q cx=226.8 cy=105.4 r=3.1 />
<circle class=d cx=181 cy=46.2 r=3.1 />
<circle class=R cx=210.7 cy=106.9 r=3.1 />
<circle class=R cx=206.1 cy=107.5 r=3.1 />
<circle class=S cx=192.1 cy=108.9 r=3.1 />
<circle class=k0 cx=88.6 cy=122 r=3.1 />
<circle class=R cx=202.7 cy=107.7 r=3.1 />
<circle class=Q cx=236.5 cy=105 r=3.1 />
<circle class=Q cx=228.9 cy=105.6 r=3.1 />
<circle class=S cx=190 cy=109.2 r=3.1 />
<circle class=S cx=194.2 cy=108.8 r=3.1 />
<circle class=Q cx=235.5 cy=105.6 r=3.1 />
<circle class=k cx=178.3 cy=56.2 r=3.1 />
<circle class=Q cx=221.1 cy=106 r=3.1 />
<circle class=t cx=180.8 cy=69.2 r=3.1 />
<circle class=S cx=197 cy=108.4 r=3.1 />
<circle class=Q cx=232 cy=105.3 r=3.1 />
<circle class=U cx=158.8 cy=112.5 r=3.1 />
<circle class=Q cx=217 cy=106.4 r=3.1 />
<circle class=t cx=180.8 cy=69.6 r=3.1 />
<circle class=Q cx=217.8 cy=106.4 r=3.1 />
<circle class=Q cx=216.2 cy=106.4 r=3.1 />
<circle class=R cx=215.5 cy=106.6 r=3.1 />
<circle class=R cx=211.4 cy=107 r=3.1 />
<circle class=R cx=203.4 cy=107.7 r=3.1 />
<circle class=R cx=212.7 cy=106.8 r=3.1 />
<circle class=n cx=212.3 cy=61 r=3.1 />
<circle class=T cx=184.3 cy=110.1 r=3.1 />
<circle class=Q cx=218.6 cy=106.4 r=3.1 />
<circle class=R cx=214.8 cy=106.7 r=3.1 />
<circle class=Q cx=240.3 cy=105.5 r=3.1 />
<circle class=R cx=205.4 cy=107.7 r=3.1 />
<circle class=m cx=215.5 cy=58.8 r=3.1 />
<circle class=Q cx=223.9 cy=106 r=3.1 />
<circle class=Q cx=256.6 cy=106.3 r=3.1 />
<circle class=N cx=300.9 cy=100.5 r=3.1 />
<circle class=r cx=237.9 cy=67 r=3.1 />
<circle class=Q cx=231 cy=105.8 r=3.1 />
<circle class=R cx=204.1 cy=107.9 r=3.1 />
<circle class=R cx=272.1 cy=107.2 r=3.1 />
<circle class=S cx=201.2 cy=108.3 r=3.1 />
<circle class=n cx=220.8 cy=60.6 r=3.1 />
<circle class=R cx=214.1 cy=106.9 r=3.1 />
<circle class=Q cx=222 cy=106.2 r=3.1 />
<circle class=S cx=199.6 cy=108.4 r=3.1 />
<circle class=Q cx=219.4 cy=106.4 r=3.1 />
<circle class=Q cx=234.3 cy=105.9 r=3.1 />
<circle class=M cx=306.2 cy=99.1 r=3.1 />
<circle class=Q cx=225.7 cy=105.7 r=3.1 />
<circle class=T cx=172.3 cy=111.2 r=3.1 />
<circle class=Q cx=239.1 cy=105.9 r=3.1 />
<circle class=S cx=200.4 cy=108.2 r=3.1 />
<circle class=S cx=196.2 cy=108.5 r=3.1 />
<circle class=M cx=303.2 cy=99.7 r=3.1 />
<circle class=Z cx=102.6 cy=121.4 r=3.1 />
<circle class=Q cx=227.8 cy=105.8 r=3.1 />
<circle class=T cx=173.6 cy=111.4 r=3.1 />
<circle class=t cx=185.3 cy=69.9 r=3.1 />
<circle class=S cx=198.8 cy=108.5 r=3.1 />
<circle class=Q cx=273.7 cy=106.6 r=3.1 />
<circle class=R cx=212.1 cy=107 r=3.1 />
<circle class=S cx=202.7 cy=108.2 r=3.1 />
<circle class=S cx=202 cy=108.1 r=3.1 />
<circle class=S cx=193.3 cy=109 r=3.1 />
<circle class=R cx=204.7 cy=108 r=3.1 />
<circle class=R cx=213.5 cy=107 r=3.1 />
<circle class=U cx=162.5 cy=112.5 r=3.1 />
<circle class=S cx=198 cy=108.7 r=3.1 />
<circle class=T cx=175 cy=111.7 r=3.1 />
<circle class=S cx=195.3 cy=108.9 r=3.1 />
<circle class=Q cx=220.2 cy=106.5 r=3.1 />
<circle class=S cx=188 cy=109.1 r=3.1 />
<circle class=U cx=160.9 cy=112.2 r=3.1 />
<circle class=T cx=185.6 cy=110 r=3.1 />
<circle class=S cx=264.7 cy=108.5 r=3.1 />
<circle class=Q cx=229.9 cy=106.1 r=3.1 />
<circle class=S cx=191.3 cy=109.1 r=3.1 />
<circle class=m cx=197.8 cy=58.4 r=3.1 />
<circle class=m cx=218.4 cy=58.8 r=3.1 />
<circle class=S cx=189.1 cy=109.6 r=3.1 />
<circle class=S cx=203.4 cy=108.3 r=3.1 />
<circle class=P cx=283.3 cy=104 r=3.1 />
<circle class=T cx=179.6 cy=109.9 r=3.1 />
<circle class=Q cx=224.7 cy=106.1 r=3.1 />
<circle class=s cx=172.6 cy=68.2 r=3.1 />
<circle class=l cx=226.6 cy=58.1 r=3.1 />
<circle class=Q cx=217 cy=106.9 r=3.1 />
<circle class=N cx=297.1 cy=100.6 r=3.1 />
<circle class=Q cx=279.1 cy=104.9 r=3.1 />
<circle class=O cx=287.5 cy=102.9 r=3.1 />
<circle class=m cx=187.1 cy=60.2 r=3.1 />
<circle class=R cx=212.8 cy=107.2 r=3.1 />
<circle class=Q cx=222.8 cy=106.2 r=3.1 />
<circle class=Q cx=216.2 cy=106.8 r=3.1 />
<circle class=R cx=214.8 cy=107.2 r=3.1 />
<circle class=Z cx=107.4 cy=120.8 r=3.1 />
<circle class=U cx=164.3 cy=112.4 r=3.1 />
<circle class=Q cx=217.7 cy=106.8 r=3.1 />
<circle class=Q cx=215.5 cy=106.9 r=3.1 />
<circle class=S cx=197.2 cy=108.8 r=3.1 />
<circle class=Q cx=233 cy=105.9 r=3.1 />
<circle class=S cx=194.4 cy=109.3 r=3.1 />
<circle class=S cx=204.1 cy=108.3 r=3.1 />
<circle class=Q cx=221 cy=106.5 r=3.1 />
<circle class=T cx=182 cy=110.5 r=3.1 />
<circle class=Q cx=218.5 cy=106.9 r=3.1 />
<circle class=m cx=194.4 cy=58.6 r=3.1 />
<circle class=Q cx=226.7 cy=106 r=3.1 />
<circle class=R cx=267.7 cy=107.3 r=3.1 />
<circle class=S cx=262.6 cy=108.4 r=3.1 />
<circle class=Q cx=269.4 cy=106.8 r=3.1 />
<circle class=S cx=202 cy=108.7 r=3.1 />
<circle class=T cx=186.9 cy=110.1 r=3.1 />
<circle class=V cx=137.7 cy=113.8 r=3.1 />
<circle class=s cx=235 cy=68 r=3.1 />
<circle class=Q cx=232 cy=106.3 r=3.1 />
<circle class=S cx=196.3 cy=109.2 r=3.1 />
<circle class=N cx=289.3 cy=102.1 r=3.1 />
<circle class=R cx=214.1 cy=107.2 r=3.1 />
<circle class=S cx=199.8 cy=108.9 r=3.1 />
<circle class=S cx=201.3 cy=108.6 r=3.1 />
<circle class=S cx=192.4 cy=109.3 r=3.1 />
<circle class=r cx=171.5 cy=67.4 r=3.1 />
<circle class=S cx=181 cy=109.9 r=3.1 />
<circle class=Y cx=111.6 cy=120.4 r=3.1 />
<circle class=R cx=213.5 cy=107.6 r=3.1 />
<circle class=Q cx=237.6 cy=105.6 r=3.1 />
<circle class=T cx=176.7 cy=111.4 r=3.1 />
<circle class=Q cx=228.7 cy=106.2 r=3.1 />
<circle class=S cx=200.6 cy=108.6 r=3.1 />
<circle class=Y cx=19.6 cy=119.9 r=3.1 />
<circle class=Q cx=225.7 cy=106.6 r=3.1 />
<circle class=Q cx=221.9 cy=106.7 r=3.1 />
<circle class=P cx=280.5 cy=104 r=3.1 />
<circle class=U cx=167.6 cy=112.6 r=3.1 />
<circle class=S cx=190.3 cy=109.6 r=3.1 />
<circle class=T cx=183.3 cy=110.7 r=3.1 />
<circle class=N cx=291.4 cy=101.4 r=3.1 />
<circle class=Q cx=241.7 cy=106.6 r=3.1 />
<circle class=Q cx=223.7 cy=106.4 r=3.1 />
<circle class=Q cx=219.3 cy=106.8 r=3.1 />
<circle class=S cx=202.8 cy=108.6 r=3.1 />
<circle class=S cx=199 cy=108.9 r=3.1 />
<circle class=S cx=193.5 cy=109.7 r=3.1 />
<circle class=Q cx=236.4 cy=106 r=3.1 />
<circle class=Q cx=242.7 cy=106 r=3.1 />
<circle class=O cx=284.4 cy=102.8 r=3.1 />
<circle class=l cx=176.7 cy=58.2 r=3.1 />
<circle class=U cx=166.3 cy=112.1 r=3.1 />
<circle class=S cx=203.5 cy=108.6 r=3.1 />
<circle class=Q cx=220.1 cy=106.9 r=3.1 />
<circle class=Q cx=235.3 cy=106.4 r=3.1 />
<circle class=Y cx=115.6 cy=120 r=3.1 />
<circle class=m cx=218.9 cy=59.9 r=3.1 />
<circle class=Q cx=240.4 cy=106.9 r=3.1 />
<circle class=R cx=216.2 cy=107.4 r=3.1 />
<circle class=T cx=188.2 cy=110.1 r=3.1 />
<circle class=T cx=184.6 cy=110.8 r=3.1 />
<circle class=S cx=198.2 cy=109.1 r=3.1 />
<circle class=R cx=215.5 cy=107.5 r=3.1 />
<circle class=S cx=195.5 cy=109.4 r=3.1 />
<circle class=o cx=242.7 cy=62.5 r=3.1 />
<circle class=Q cx=265.4 cy=107.1 r=3.1 />
<circle class=n cx=195.2 cy=61.7 r=3.1 />
<circle class=R cx=217.7 cy=107.4 r=3.1 />
<circle class=R cx=214.8 cy=107.6 r=3.1 />
<circle class=T cx=178.2 cy=111.3 r=3.1 />
<circle class=Q cx=230.8 cy=106.5 r=3.1 />
<circle class=S cx=191.5 cy=109.9 r=3.1 />
<circle class=R cx=216.9 cy=107.3 r=3.1 />
<circle class=N cx=293.2 cy=100.5 r=3.1 />
<circle class=U cx=169.3 cy=112.5 r=3.1 />
<circle class=R cx=260.4 cy=108.2 r=3.1 />
<circle class=n cx=194.8 cy=61 r=3.1 />
<circle class=O cx=333.5 cy=103 r=3.1 />
<circle class=Q cx=224.6 cy=106.9 r=3.1 />
<circle class=Q cx=227.6 cy=106.4 r=3.1 />
<circle class=S cx=197.4 cy=109.4 r=3.1 />
<circle class=R cx=214.1 cy=107.7 r=3.1 />
<circle class=k cx=204.8 cy=57.2 r=3.1 />
<circle class=p cx=229.8 cy=63.9 r=3.1 />
<circle class=Q cx=222.7 cy=106.8 r=3.1 />
<circle class=n cx=221.4 cy=61.9 r=3.1 />
<circle class=s cx=188.5 cy=68.5 r=3.1 />
<circle class=R cx=258.7 cy=108.3 r=3.1 />
<circle class=Q cx=234.1 cy=106.6 r=3.1 />
<circle class=q cx=262.4 cy=65.7 r=3.1 />
<circle class=S cx=202.2 cy=109 r=3.1 />
<circle class=Q cx=218.4 cy=107.2 r=3.1 />
<circle class=S cx=200.8 cy=109.1 r=3.1 />
<circle class=Q cx=220.9 cy=106.9 r=3.1 />
<circle class=o cx=201.6 cy=63 r=3.1 />
<circle class=Y cx=119.7 cy=119.4 r=3.1 />
<circle class=S cx=196.6 cy=109.7 r=3.1 />
<circle class=S cx=189.4 cy=110.2 r=3.1 />
<circle class=S cx=200 cy=109.2 r=3.1 />
<circle class=S cx=201.5 cy=108.9 r=3.1 />
<circle class=S cx=194.7 cy=109.7 r=3.1 />
<circle class=S cx=192.7 cy=110 r=3.1 />
<circle class=T cx=186 cy=110.7 r=3.1 />
<circle class=t cx=172.5 cy=70.1 r=3.1 />
<circle class=S cx=202.9 cy=109 r=3.1 />
<circle class=Q cx=226.5 cy=106.7 r=3.1 />
<circle class=Q cx=233 cy=107 r=3.1 />
<circle class=O cx=328.1 cy=103.2 r=3.1 />
<circle class=R cx=256.9 cy=108.5 r=3.1 />
<circle class=Q cx=229.6 cy=106.6 r=3.1 />
<circle class=S cx=199.2 cy=109.4 r=3.1 />
<circle class=P cx=275.4 cy=104.1 r=3.1 />
<circle class=U cx=172.5 cy=112.5 r=3.1 />
<circle class=Q cx=225.6 cy=107.4 r=3.1 />
<circle class=r cx=255.2 cy=67.6 r=3.1 />
<circle class=t cx=210.6 cy=70.6 r=3.1 />
<circle class=Q cx=219.2 cy=107.3 r=3.1 />
<circle class=N cx=336.9 cy=101.9 r=3.1 />
<circle class=y cx=176.9 cy=77.4 r=3.1 />
<circle class=T cx=181 cy=111.4 r=3.1 />
<circle class=Q cx=237.7 cy=107.2 r=3.1 />
<circle class=T cx=171.2 cy=112.1 r=3.1 />
<circle class=T cx=179.8 cy=111 r=3.1 />
<circle class=Q cx=221.7 cy=107.2 r=3.1 />
<circle class=Q cx=238.8 cy=106.7 r=3.1 />
<circle class=U cx=174 cy=112.6 r=3.1 />
<circle class=n cx=233.4 cy=62.2 r=3.1 />
<circle class=Q cx=228.6 cy=107 r=3.1 />
<circle class=R cx=220 cy=107.5 r=3.1 />
<circle class=S cx=198.4 cy=109.7 r=3.1 />
<circle class=T cx=190.6 cy=110.4 r=3.1 />
<circle class=R cx=216.1 cy=107.8 r=3.1 />
<circle class=V cx=157.2 cy=114.2 r=3.1 />
<circle class=S cx=195.7 cy=110.1 r=3.1 />
<circle class=R cx=214.7 cy=108 r=3.1 />
<circle class=Q cx=223.5 cy=106.9 r=3.1 />
<circle class=R cx=215.4 cy=107.8 r=3.1 />
<circle class=r cx=181.2 cy=68.1 r=3.1 />
<circle class=q cx=255.7 cy=65.5 r=3.1 />
<circle class=S cx=193.8 cy=110.2 r=3.1 />
<circle class=R cx=216.8 cy=107.6 r=3.1 />
<circle class=o cx=181.9 cy=63.1 r=3.1 />
<circle class=T cx=187.3 cy=110.7 r=3.1 />
<circle class=Q cx=231.8 cy=107 r=3.1 />
<circle class=X cx=123.8 cy=118.8 r=3.1 />
<circle class=Q cx=217.5 cy=107.6 r=3.1 />
<circle class=S cx=202.4 cy=109.5 r=3.1 />
<circle class=t cx=180.1 cy=70.2 r=3.1 />
<circle class=T cx=182.5 cy=111.2 r=3.1 />
<circle class=U cx=155.7 cy=113.7 r=3.1 />
<circle class=n cx=220.6 cy=62.2 r=3.1 />
<circle class=o cx=216.6 cy=63.3 r=3.1 />
<circle class=S cx=197.7 cy=109.8 r=3.1 />
<circle class=N cx=340.4 cy=100.8 r=3.1 />
<circle class=S cx=191.8 cy=110.5 r=3.1 />
<circle class=Q cx=222.5 cy=107.4 r=3.1 />
<circle class=S cx=201.7 cy=109.4 r=3.1 />
<circle class=Q cx=224.4 cy=107.5 r=3.1 />
<circle class=S cx=200.2 cy=109.7 r=3.1 />
<circle class=S cx=201 cy=109.5 r=3.1 />
<circle class=Q cx=220.7 cy=107.5 r=3.1 />
<circle class=T cx=188.5 cy=110.8 r=3.1 />
<circle class=Q cx=236.3 cy=107.1 r=3.1 />
<circle class=Q cx=218.2 cy=107.6 r=3.1 />
<circle class=R cx=219 cy=107.9 r=3.1 />
<circle class=T cx=183.7 cy=111.4 r=3.1 />
<circle class=U cx=159.4 cy=113.8 r=3.1 />
<circle class=Q cx=227.4 cy=107.1 r=3.1 />
<circle class=k cx=177.9 cy=57.2 r=3.1 />
<circle class=Q cx=230.6 cy=107.3 r=3.1 />
<circle class=S cx=195 cy=110.4 r=3.1 />
<circle class=r cx=237.7 cy=67 r=3.1 />
<circle class=T cx=177 cy=112.5 r=3.1 />
<circle class=l cx=199.8 cy=58 r=3.1 />
<circle class=p cx=189.2 cy=64.2 r=3.1 />
<circle class=o cx=186.5 cy=62.7 r=3.1 />
<circle class=o cx=215.1 cy=63.3 r=3.1 />
<circle class=S cx=276.8 cy=109.3 r=3.1 />
<circle class=T cx=185 cy=111.6 r=3.1 />
<circle class=T cx=193 cy=110.8 r=3.1 />
<circle class=O cx=322.1 cy=103 r=3.1 />
<circle class=S cx=199.5 cy=109.8 r=3.1 />
<circle class=X cx=127.4 cy=118.3 r=3.1 />
<circle class=Q cx=235.1 cy=107.3 r=3.1 />
<circle class=T cx=189.7 cy=111 r=3.1 />
<circle class=R cx=223.4 cy=107.9 r=3.1 />
<circle class=R cx=215.9 cy=108.2 r=3.1 />
<circle class=T cx=175.9 cy=111.9 r=3.1 />
<circle class=R cx=216.6 cy=108.2 r=3.1 />
<circle class=S cx=196.9 cy=110 r=3.1 />
<circle class=Q cx=226.3 cy=107.4 r=3.1 />
<circle class=R cx=215.2 cy=108.2 r=3.1 />
<circle class=k6 cx=56.4 cy=132.3 r=3.1 />
<circle class=o cx=239.3 cy=63 r=3.1 />
<circle class=U cx=161.4 cy=113.6 r=3.1 />
<circle class=q cx=263.1 cy=65.9 r=3.1 />
<circle class=S cx=264.9 cy=110.7 r=3.1 />
<circle class=Q cx=221.5 cy=107.7 r=3.1 />
<circle class=S cx=198.8 cy=110 r=3.1 />
<circle class=Q cx=229.5 cy=107.5 r=3.1 />
<circle class=T cx=259.7 cy=111.3 r=3.1 />
<circle class=T cx=186.3 cy=111.7 r=3.1 />
<circle class=Q cx=233.9 cy=107.6 r=3.1 />
<circle class=L cx=344 cy=99.6 r=3.1 />
<circle class=T cx=261.3 cy=111 r=3.1 />
<circle class=U cx=163.1 cy=113.6 r=3.1 />
<circle class=O cx=317.5 cy=103.2 r=3.1 />
<circle class=Q cx=240.1 cy=107.9 r=3.1 />
<circle class=R cx=278.4 cy=108.6 r=3.1 />
<circle class=Q cx=219.7 cy=107.8 r=3.1 />
<circle class=m cx=218.7 cy=59.6 r=3.1 />
<circle class=T cx=179.9 cy=112.5 r=3.1 />
<circle class=p cx=161.5 cy=64.9 r=3.1 />
<circle class=S cx=268.3 cy=109.9 r=3.1 />
<circle class=d cx=181.7 cy=46.9 r=3.1 />
<circle class=U cx=164.8 cy=113.7 r=3.1 />
<circle class=T cx=178.7 cy=112.2 r=3.1 />
<circle class=S cx=202 cy=109.9 r=3.1 />
<circle class=S cx=201.3 cy=110 r=3.1 />
<circle class=S cx=272.1 cy=109.4 r=3.1 />
<circle class=R cx=217.3 cy=108 r=3.1 />
<circle class=n cx=196.4 cy=61.6 r=3.1 />
<circle class=T cx=257.8 cy=111.3 r=3.1 />
<circle class=T cx=191 cy=110.9 r=3.1 />
<circle class=S cx=196.1 cy=110.3 r=3.1 />
<circle class=Q cx=241.2 cy=107.3 r=3.1 />
<circle class=S cx=200.5 cy=110.1 r=3.1 />
<circle class=R cx=238.8 cy=108.1 r=3.1 />
<circle class=R cx=218 cy=108.2 r=3.1 />
<circle class=S cx=194.2 cy=110.6 r=3.1 />
<circle class=S cx=198 cy=110.2 r=3.1 />
<circle class=i cx=217.1 cy=55.1 r=3.1 />
<circle class=Q cx=225.2 cy=107.6 r=3.1 />
<circle class=Q cx=228.3 cy=107.6 r=3.1 />
<circle class=k cx=228 cy=58.1 r=3.1 />
<circle class=Q cx=220.5 cy=108 r=3.1 />
<circle class=W cx=18.6 cy=116.9 r=3.1 />
<circle class=p cx=189.9 cy=65.4 r=3.1 />
<circle class=T cx=195.3 cy=111 r=3.1 />
<circle class=R cx=224.2 cy=108.1 r=3.1 />
<circle class=T cx=192.2 cy=111.1 r=3.1 />
<circle class=r cx=179.7 cy=68.1 r=3.1 />
<circle class=S cx=199.8 cy=110.3 r=3.1 />
<circle class=R cx=273.7 cy=108.8 r=3.1 />
<circle class=S cx=262.5 cy=110.3 r=3.1 />
<circle class=S cx=197.2 cy=110.7 r=3.1 />
<circle class=S cx=266 cy=109.8 r=3.1 />
<circle class=U cx=168.2 cy=113.6 r=3.1 />
<circle class=Q cx=222.3 cy=107.8 r=3.1 />
<circle class=o cx=176.4 cy=62.9 r=3.1 />
<circle class=U cx=166.7 cy=113.4 r=3.1 />
<circle class=p cx=251.9 cy=65.5 r=3.1 />
<circle class=Q cx=232.6 cy=107.4 r=3.1 />
<circle class=L cx=347.8 cy=98.3 r=3.1 />
<circle class=R cx=215.7 cy=108.6 r=3.1 />
<circle class=T cx=187.7 cy=111.3 r=3.1 />
<circle class=T cx=181.5 cy=112.1 r=3.1 />
<circle class=R cx=269.6 cy=109.2 r=3.1 />
<circle class=Q cx=218.7 cy=108.1 r=3.1 />
<circle class=i cx=184.1 cy=55.2 r=3.1 />
<circle class=U cx=169.9 cy=113.6 r=3.1 />
<circle class=Q cx=227.2 cy=107.8 r=3.1 />
<circle class=p cx=180.3 cy=64.5 r=3.1 />
<circle class=T cx=182.8 cy=112.3 r=3.1 />
<circle class=R cx=216.4 cy=108.5 r=3.1 />
<circle class=n cx=196.9 cy=61.5 r=3.1 />
<circle class=n cx=218.6 cy=62.3 r=3.1 />
<circle class=R cx=219.5 cy=108.4 r=3.1 />
<circle class=N cx=312.5 cy=103 r=3.1 />
<circle class=R cx=217.1 cy=108.6 r=3.1 />
<circle class=r cx=168.6 cy=67.8 r=3.1 />
<circle class=l cx=216.1 cy=59 r=3.1 />
<circle class=S cx=199.1 cy=110.3 r=3.1 />
<circle class=Q cx=231.4 cy=107.6 r=3.1 />
<circle class=Q cx=237.3 cy=107.8 r=3.1 />
<circle class=S cx=201.6 cy=110.4 r=3.1 />
<circle class=Q cx=221.2 cy=108.1 r=3.1 />
<circle class=j cx=227 cy=56.8 r=3.1 />
<circle class=T cx=189 cy=111.3 r=3.1 />
<circle class=n cx=195.6 cy=62.1 r=3.1 />
<circle class=Q cx=226.1 cy=108 r=3.1 />
<circle class=S cx=196.5 cy=110.9 r=3.1 />
<circle class=q cx=214.7 cy=67.1 r=3.1 />
<circle class=R cx=217.8 cy=108.6 r=3.1 />
<circle class=T cx=190.2 cy=111.5 r=3.1 />
<circle class=S cx=193.4 cy=111 r=3.1 />
<circle class=Q cx=236.1 cy=108.1 r=3.1 />
<circle class=Q cx=223.1 cy=108.1 r=3.1 />
<circle class=k4 cx=52.3 cy=131.3 r=3.1 />
<circle class=S cx=198.4 cy=110.7 r=3.1 />
<circle class=T cx=184.2 cy=112.1 r=3.1 />
<circle class=Q cx=230.3 cy=107.8 r=3.1 />
<circle class=W cx=132.3 cy=116.6 r=3.1 />
<circle class=S cx=200.9 cy=110.4 r=3.1 />
<circle class=r cx=199.2 cy=68.4 r=3.1 />
<circle class=d cx=185.5 cy=47.7 r=3.1 />
<circle class=R cx=220.2 cy=108.5 r=3.1 />
<circle class=K cx=351.7 cy=97 r=3.1 />
<circle class=k5 cx=44.7 cy=131.8 r=3.1 />
<circle class=R cx=218.5 cy=108.7 r=3.1 />
<circle class=k3 cx=73.7 cy=129.1 r=3.1 />
<circle class=k cx=196 cy=58.3 r=3.1 />
<circle class=k4 cx=67.3 cy=129.7 r=3.1 />
<circle class=S cx=200.2 cy=110.6 r=3.1 />
<circle class=T cx=174.7 cy=113.3 r=3.1 />
<circle class=T cx=171.8 cy=113 r=3.1 />
<circle class=S cx=194.6 cy=111.1 r=3.1 />
<circle class=S cx=197.6 cy=111.1 r=3.1 />
<circle class=Q cx=222 cy=108.4 r=3.1 />
<circle class=Q cx=278.8 cy=107 r=3.1 />
<circle class=p cx=231.5 cy=65 r=3.1 />
<circle class=R cx=233.7 cy=108.4 r=3.1 />
<circle class=Q cx=224.9 cy=108.2 r=3.1 />
<circle class=q cx=265 cy=66.5 r=3.1 />
<circle class=Q cx=229.1 cy=107.9 r=3.1 />
<circle class=T cx=191.4 cy=111.4 r=3.1 />
<circle class=k cx=177.4 cy=58.3 r=3.1 />
<circle class=R cx=216.1 cy=108.9 r=3.1 />
<circle class=l cx=196.8 cy=59.3 r=3.1 />
<circle class=Q cx=234.7 cy=107.9 r=3.1 />
<circle class=T cx=173.4 cy=112.9 r=3.1 />
<circle class=S cx=195.8 cy=111.3 r=3.1 />
<circle class=V cx=135.5 cy=116.1 r=3.1 />
<circle class=S cx=199.5 cy=110.8 r=3.1 />
<circle class=R cx=219.2 cy=108.9 r=3.1 />
<circle class=T cx=185.6 cy=111.8 r=3.1 />
<circle class=T cx=186.9 cy=112 r=3.1 />
<circle class=P cx=280.7 cy=106.5 r=3.1 />
<circle class=t cx=212.2 cy=71.5 r=3.1 />
<circle class=R cx=216.8 cy=108.9 r=3.1 />
<circle class=t cx=180.4 cy=71.7 r=3.1 />
<circle class=Q cx=228 cy=108.2 r=3.1 />
<circle class=T cx=176.3 cy=113 r=3.1 />
<circle class=P cx=287.5 cy=105.4 r=3.1 />
<circle class=V cx=140.6 cy=116 r=3.1 />
<circle class=T cx=192.7 cy=111.5 r=3.1 />
<circle class=R cx=221 cy=108.7 r=3.1 />
<circle class=n cx=226.8 cy=62.8 r=3.1 />
<circle class=v cx=215.3 cy=73.1 r=3.1 />
<circle class=R cx=241.1 cy=108.7 r=3.1 />
<circle class=Q cx=242.4 cy=108.4 r=3.1 />
<circle class=S cx=201.3 cy=110.7 r=3.1 />
<circle class=Q cx=223.8 cy=108.3 r=3.1 />
<circle class=Q cx=226.9 cy=108.5 r=3.1 />
<circle class=S cx=196.9 cy=111.4 r=3.1 />
<circle class=R cx=217.5 cy=109 r=3.1 />
<circle class=T cx=177.8 cy=113 r=3.1 />
<circle class=V cx=138.5 cy=115.8 r=3.1 />
<circle class=O cx=289.8 cy=104.9 r=3.1 />
<circle class=q cx=207.1 cy=67.3 r=3.1 />
<circle class=v cx=184.5 cy=74.5 r=3.1 />
<circle class=b cx=184.6 cy=46.2 r=3.1 />
<circle class=Q cx=232.3 cy=108.3 r=3.1 />
<circle class=S cx=198.8 cy=111 r=3.1 />
<circle class=R cx=231.2 cy=108.6 r=3.1 />
<circle class=R cx=237.3 cy=109.4 r=3.1 />
<circle class=P cx=284.8 cy=105.5 r=3.1 />
<circle class=T cx=179.2 cy=113 r=3.1 />
<circle class=S cx=200.6 cy=110.9 r=3.1 />
<circle class=t cx=202.5 cy=71.1 r=3.1 />
<circle class=R cx=230.1 cy=108.9 r=3.1 />
<circle class=T cx=189.4 cy=112.1 r=3.1 />
<circle class=R cx=219.9 cy=109 r=3.1 />
<circle class=T cx=188.2 cy=111.8 r=3.1 />
<circle class=R cx=238.5 cy=109 r=3.1 />
<circle class=R cx=218.2 cy=109.1 r=3.1 />
<circle class=R cx=239.7 cy=108.7 r=3.1 />
<circle class=Q cx=225.7 cy=108.7 r=3.1 />
<circle class=k2 cx=87.2 cy=127 r=3.1 />
<circle class=R cx=221.7 cy=109.1 r=3.1 />
<circle class=Q cx=222.7 cy=108.6 r=3.1 />
<circle class=k4 cx=38.7 cy=131.3 r=3.1 />
<circle class=S cx=193.9 cy=111.4 r=3.1 />
<circle class=q cx=262.6 cy=67.7 r=3.1 />
<circle class=p cx=248.4 cy=64.6 r=3.1 />
<circle class=N cx=303.2 cy=102.7 r=3.1 />
<circle class=T cx=195 cy=111.6 r=3.1 />
<circle class=T cx=263.5 cy=113.4 r=3.1 />
<circle class=S cx=199.9 cy=111.2 r=3.1 />
<circle class=T cx=182 cy=113 r=3.1 />
<circle class=T cx=183.3 cy=113.1 r=3.1 />
<circle class=R cx=216.5 cy=109.3 r=3.1 />
<circle class=k cx=192.9 cy=58.1 r=3.1 />
<circle class=h cx=193.7 cy=54.3 r=3.1 />
<circle class=T cx=275.7 cy=112.8 r=3.1 />
<circle class=d cx=185.3 cy=48.1 r=3.1 />
<circle class=S cx=198.1 cy=111.3 r=3.1 />
<circle class=T cx=269.2 cy=113 r=3.1 />
<circle class=T cx=184.6 cy=113.1 r=3.1 />
<circle class=T cx=190.7 cy=112 r=3.1 />
<circle class=d cx=181.6 cy=48.1 r=3.1 />
<circle class=R cx=224.6 cy=108.8 r=3.1 />
<circle class=R cx=235.9 cy=109.2 r=3.1 />
<circle class=N cx=297 cy=103.3 r=3.1 />
<circle class=T cx=191.9 cy=112.1 r=3.1 />
<circle class=O cx=291.5 cy=104 r=3.1 />
<circle class=R cx=220.6 cy=109.3 r=3.1 />
<circle class=c cx=182.2 cy=47.1 r=3.1 />
<circle class=R cx=218.8 cy=109.2 r=3.1 />
<circle class=T cx=180.8 cy=112.6 r=3.1 />
<circle class=P cx=281.7 cy=105.3 r=3.1 />
<circle class=Q cx=228.8 cy=108.8 r=3.1 />
<circle class=S cx=196.2 cy=111.6 r=3.1 />
<circle class=n cx=226 cy=63 r=3.1 />
<circle class=R cx=217.1 cy=109.3 r=3.1 />
<circle class=h cx=192.8 cy=54 r=3.1 />
<circle class=T cx=259.5 cy=113.2 r=3.1 />
<circle class=T cx=261.3 cy=113.1 r=3.1 />
<circle class=k0 cx=98.3 cy=125.4 r=3.1 />
<circle class=N cx=299.6 cy=102.7 r=3.1 />
<circle class=k4 cx=30.8 cy=131.5 r=3.1 />
<circle class=q cx=245.9 cy=67.4 r=3.1 />
<circle class=S cx=199.2 cy=111.4 r=3.1 />
<circle class=m cx=198.3 cy=61.7 r=3.1 />
<circle class=T cx=193.1 cy=112.1 r=3.1 />
<circle class=k1 cx=93.7 cy=125.7 r=3.1 />
<circle class=R cx=223.5 cy=109 r=3.1 />
<circle class=v cx=195.4 cy=74.7 r=3.1 />
<circle class=R cx=233.4 cy=109.4 r=3.1 />
<circle class=k cx=192.3 cy=58.1 r=3.1 />
<circle class=S cx=201 cy=111.2 r=3.1 />
<circle class=R cx=227.7 cy=108.9 r=3.1 />
<circle class=k0 cx=103.1 cy=124.8 r=3.1 />
<circle class=S cx=197.4 cy=111.7 r=3.1 />
<circle class=N cx=293.7 cy=103.4 r=3.1 />
<circle class=T cx=264.7 cy=112.7 r=3.1 />
<circle class=R cx=222.4 cy=109.2 r=3.1 />
<circle class=R cx=219.5 cy=109.4 r=3.1 />
<circle class=U cx=154.8 cy=114.8 r=3.1 />
<circle class=q cx=238.1 cy=68 r=3.1 />
<circle class=r cx=181.7 cy=69.4 r=3.1 />
<circle class=R cx=217.8 cy=109.4 r=3.1 />
<circle class=T cx=257.4 cy=112.9 r=3.1 />
<circle class=T cx=188.6 cy=112.9 r=3.1 />
<circle class=T cx=266.6 cy=112.5 r=3.1 />
<circle class=T cx=186.1 cy=112.6 r=3.1 />
<circle class=Q cx=234.5 cy=109 r=3.1 />
<circle class=U cx=162.2 cy=114.7 r=3.1 />
<circle class=k1 cx=83.7 cy=126.3 r=3.1 />
<circle class=p cx=234.7 cy=64.7 r=3.1 />
<circle class=T cx=187.4 cy=112.7 r=3.1 />
<circle class=p cx=194.4 cy=65.7 r=3.1 />
<circle class=T cx=17.6 cy=113.9 r=3.1 />
<circle class=U cx=168.9 cy=114.7 r=3.1 />
<circle class=R cx=221.3 cy=109.5 r=3.1 />
<circle class=S cx=200.4 cy=111.4 r=3.1 />
<circle class=U cx=158.7 cy=114.6 r=3.1 />
<circle class=d cx=180.3 cy=48.1 r=3.1 />
<circle class=S cx=198.6 cy=111.7 r=3.1 />
<circle class=U cx=160.6 cy=114.5 r=3.1 />
<circle class=M cx=304.9 cy=101.5 r=3.1 />
<circle class=R cx=232.1 cy=109.3 r=3.1 />
<circle class=Q cx=226.5 cy=108.9 r=3.1 />
<circle class=R cx=241.1 cy=110.3 r=3.1 />
<circle class=R cx=216.7 cy=109.8 r=3.1 />
<circle class=T cx=195.5 cy=112 r=3.1 />
<circle class=S cx=194.4 cy=111.8 r=3.1 />
<circle class=U cx=164.1 cy=114.5 r=3.1 />
<circle class=b cx=183.3 cy=45.5 r=3.1 />
<circle class=k0 cx=108.2 cy=123.8 r=3.1 />
<circle class=m cx=217.1 cy=62.3 r=3.1 />
<circle class=U cx=157.1 cy=114.3 r=3.1 />
<circle class=U cx=165.8 cy=114.4 r=3.1 />
<circle class=d cx=186.2 cy=48.2 r=3.1 />
<circle class=R cx=218.4 cy=109.6 r=3.1 />
<circle class=R cx=225.3 cy=109.1 r=3.1 />
<circle class=T cx=189.9 cy=112.6 r=3.1 />
<circle class=U cx=170.7 cy=114.3 r=3.1 />
<circle class=m cx=228.4 cy=62.3 r=3.1 />
<circle class=Z cx=112.5 cy=123.2 r=3.1 />
<circle class=S cx=199.7 cy=111.7 r=3.1 />
<circle class=S cx=270.1 cy=111.8 r=3.1 />
<circle class=R cx=230.8 cy=109.3 r=3.1 />
<circle class=k4 cx=23.1 cy=131.4 r=3.1 />
<circle class=R cx=229.7 cy=109.6 r=3.1 />
<circle class=m cx=207.9 cy=62.3 r=3.1 />
<circle class=r cx=189 cy=69.2 r=3.1 />
<circle class=T cx=191.2 cy=112.5 r=3.1 />
<circle class=q cx=204.8 cy=66.6 r=3.1 />
<circle class=j cx=178.5 cy=57.4 r=3.1 />
<circle class=S cx=196.7 cy=111.9 r=3.1 />
<circle class=S cx=276.4 cy=111.4 r=3.1 />
<circle class=R cx=220.2 cy=109.5 r=3.1 />
<circle class=p cx=234.3 cy=66.3 r=3.1 />
<circle class=R cx=224.2 cy=109.3 r=3.1 />
<circle class=j cx=192.6 cy=57.9 r=3.1 />
<circle class=T cx=167.7 cy=114.1 r=3.1 />
<circle class=R cx=217.4 cy=109.8 r=3.1 />
<circle class=T cx=172.4 cy=114.1 r=3.1 />
<circle class=T cx=176.8 cy=114.1 r=3.1 />
<circle class=S cx=272 cy=111.5 r=3.1 />
<circle class=R cx=219.1 cy=109.9 r=3.1 />
<circle class=R cx=223.1 cy=109.5 r=3.1 />
<circle class=S cx=197.9 cy=112 r=3.1 />
<circle class=T cx=175.4 cy=114 r=3.1 />
<circle class=q cx=178.3 cy=67.5 r=3.1 />
<circle class=R cx=228.4 cy=109.5 r=3.1 />
<circle class=S cx=200.9 cy=111.7 r=3.1 />
<circle class=T cx=178.3 cy=113.9 r=3.1 />
<circle class=T cx=193.6 cy=112.5 r=3.1 />
<circle class=R cx=239.4 cy=109.8 r=3.1 />
<circle class=T cx=192.5 cy=112.4 r=3.1 />
<circle class=S cx=280.8 cy=110.9 r=3.1 />
<circle class=R cx=236.8 cy=110.1 r=3.1 />
<circle class=T cx=194.8 cy=112.5 r=3.1 />
<circle class=R cx=218 cy=110 r=3.1 />
<circle class=S cx=199.1 cy=111.9 r=3.1 />
<circle class=R cx=222 cy=109.6 r=3.1 />
<circle class=l cx=202.3 cy=60.4 r=3.1 />
<circle class=R cx=226.1 cy=109.8 r=3.1 />
<circle class=Y cx=117.3 cy=122.2 r=3.1 />
<circle class=D cx=224.3 cy=87.2 r=3.1 />
<circle class=T cx=181.2 cy=113.6 r=3.1 />
<circle class=T cx=179.9 cy=113.6 r=3.1 />
<circle class=R cx=227.2 cy=109.5 r=3.1 />
<circle class=R cx=219.8 cy=110.2 r=3.1 />
<circle class=T cx=186.5 cy=113.6 r=3.1 />
<circle class=K cx=205.4 cy=98.1 r=3.1 />
<circle class=R cx=217 cy=110.3 r=3.1 />
<circle class=T cx=182.6 cy=113.6 r=3.1 />
<circle class=R cx=220.9 cy=109.8 r=3.1 />
<circle class=w cx=180.5 cy=75.7 r=3.1 />
<circle class=T cx=174.2 cy=113.5 r=3.1 />
<circle class=R cx=237.9 cy=109.6 r=3.1 />
<circle class=S cx=200.2 cy=111.9 r=3.1 />
<circle class=q cx=196.5 cy=67.2 r=3.1 />
<circle class=c cx=184.2 cy=47.5 r=3.1 />
<circle class=T cx=187.9 cy=113.5 r=3.1 />
<circle class=n cx=184 cy=62.8 r=3.1 />
<circle class=S cx=196.1 cy=112.3 r=3.1 />
<circle class=q cx=231.5 cy=68 r=3.1 />
<circle class=v cx=179.4 cy=75.1 r=3.1 />
<circle class=T cx=185.3 cy=113.4 r=3.1 />
<circle class=T cx=184 cy=113.4 r=3.1 />
<circle class=T cx=197.3 cy=112.3 r=3.1 />
<circle class=i cx=227.7 cy=56.4 r=3.1 />
<circle class=R cx=218.7 cy=110.3 r=3.1 />
<circle class=R cx=224.9 cy=109.7 r=3.1 />
<circle class=p cx=170.1 cy=65.7 r=3.1 />
<circle class=R cx=277.7 cy=110.5 r=3.1 />
<circle class=d cx=198.6 cy=48.6 r=3.1 />
<circle class=v cx=188.3 cy=75.3 r=3.1 />
<circle class=o cx=200.3 cy=64.3 r=3.1 />
<circle class=S cx=198.4 cy=112.3 r=3.1 />
<circle class=T cx=191.7 cy=113.2 r=3.1 />
<circle class=q cx=258.1 cy=67.3 r=3.1 />
<circle class=p cx=181 cy=65.6 r=3.1 />
<circle class=R cx=223.8 cy=109.8 r=3.1 />
<circle class=R cx=282.2 cy=110.1 r=3.1 />
<circle class=Q cx=235.3 cy=109.6 r=3.1 />
<circle class=R cx=234 cy=109.7 r=3.1 />
<circle class=T cx=190.5 cy=113.1 r=3.1 />
<circle class=S cx=199.6 cy=112.2 r=3.1 />
<circle class=R cx=222.6 cy=109.9 r=3.1 />
<circle class=Y cx=121.9 cy=121 r=3.1 />
<circle class=l cx=182.7 cy=60.3 r=3.1 />
<circle class=R cx=217.6 cy=110.2 r=3.1 />
<circle class=R cx=229.2 cy=110.2 r=3.1 />
<circle class=T cx=189.3 cy=112.9 r=3.1 />
<circle class=R cx=231.6 cy=109.9 r=3.1 />
<circle class=S cx=200.8 cy=112.2 r=3.1 />
<circle class=K cx=211.3 cy=99 r=3.1 />
<circle class=d cx=192.9 cy=49.8 r=3.1 />
<circle class=R cx=221.5 cy=110 r=3.1 />
<circle class=R cx=232.7 cy=109.7 r=3.1 />
<circle class=T cx=193 cy=112.9 r=3.1 />
<circle class=R cx=226.9 cy=110.4 r=3.1 />
<circle class=T cx=195.4 cy=112.8 r=3.1 />
<circle class=Q cx=286.8 cy=109.5 r=3.1 />
<circle class=R cx=220.4 cy=110.1 r=3.1 />
<circle class=q cx=176.6 cy=67.7 r=3.1 />
<circle class=T cx=194.3 cy=112.7 r=3.1 />
<circle class=R cx=218.2 cy=110.6 r=3.1 />
<circle class=R cx=228 cy=110.1 r=3.1 />
<circle class=T cx=196.6 cy=112.6 r=3.1 />
<circle class=R cx=219.3 cy=110.3 r=3.1 />
<circle class=j cx=207.3 cy=58.4 r=3.1 />
<circle class=S cx=197.8 cy=112.6 r=3.1 />
<circle class=Q cx=230.3 cy=109.7 r=3.1 />
<circle class=R cx=223.4 cy=110.6 r=3.1 />
<circle class=q cx=168.3 cy=67.8 r=3.1 />
<circle class=q cx=185.9 cy=68.1 r=3.1 />
<circle class=R cx=225.6 cy=110.3 r=3.1 />
<circle class=o cx=213.8 cy=64.6 r=3.1 />
<circle class=v cx=191.9 cy=74.5 r=3.1 />
<circle class=r cx=187.1 cy=70 r=3.1 />
<circle class=U cx=265.2 cy=115.5 r=3.1 />
<circle class=S cx=240.5 cy=111.2 r=3.1 />
<circle class=R cx=217.1 cy=110.6 r=3.1 />
<circle class=U cx=181.6 cy=115 r=3.1 />
<circle class=S cx=199 cy=112.4 r=3.1 />
<circle class=Q cx=283.7 cy=109.2 r=3.1 />
<circle class=U cx=263.1 cy=115.3 r=3.1 />
<circle class=U cx=257.3 cy=115 r=3.1 />
<circle class=S cx=239.1 cy=111.1 r=3.1 />
<circle class=d cx=180 cy=49.1 r=3.1 />
<circle class=S cx=200.2 cy=112.3 r=3.1 />
<circle class=m cx=226.4 cy=61.8 r=3.1 />
<circle class=U cx=259.1 cy=115 r=3.1 />
<circle class=U cx=169.5 cy=115.9 r=3.1 />
<circle class=q cx=183.7 cy=68.8 r=3.1 />
<circle class=U cx=255.4 cy=114.8 r=3.1 />
<circle class=R cx=224.4 cy=110.2 r=3.1 />
<circle class=R cx=237.7 cy=111.1 r=3.1 />
<circle class=d cx=186.4 cy=49 r=3.1 />
<circle class=y cx=193.4 cy=79.2 r=3.1 />
<circle class=d cx=194.4 cy=49.6 r=3.1 />
<circle class=p cx=176.1 cy=66.8 r=3.1 />
<circle class=W cx=126.6 cy=119.7 r=3.1 />
<circle class=U cx=260.9 cy=115 r=3.1 />
<circle class=v cx=177.5 cy=74.4 r=3.1 />
<circle class=s cx=179.4 cy=71.8 r=3.1 />
<circle class=n cx=218.9 cy=64.4 r=3.1 />
<circle class=U cx=269.1 cy=115.3 r=3.1 />
<circle class=T cx=187.2 cy=114.1 r=3.1 />
<circle class=U cx=176 cy=115.1 r=3.1 />
<circle class=d cx=185.3 cy=48.8 r=3.1 />
<circle class=T cx=192.3 cy=113.7 r=3.1 />
<circle class=U cx=177.5 cy=115 r=3.1 />
<circle class=T cx=180.4 cy=114.7 r=3.1 />
<circle class=R cx=219.9 cy=110.6 r=3.1 />
<circle class=R cx=221 cy=110.4 r=3.1 />
<circle class=r cx=188.8 cy=70.1 r=3.1 />
<circle class=T cx=179 cy=114.8 r=3.1 />
<circle class=R cx=218.8 cy=110.7 r=3.1 />
<circle class=R cx=222.1 cy=110.2 r=3.1 />
<circle class=R cx=217.7 cy=110.8 r=3.1 />
<circle class=U cx=266.8 cy=115.1 r=3.1 />
<circle class=T cx=197.2 cy=113.1 r=3.1 />
<circle class=U cx=174.5 cy=115.1 r=3.1 />
<circle class=T cx=188.6 cy=113.8 r=3.1 />
<circle class=U cx=166.4 cy=115.8 r=3.1 />
<circle class=T cx=191.1 cy=113.6 r=3.1 />
<circle class=U cx=171.4 cy=115.3 r=3.1 />
<circle class=R cx=236.2 cy=110.7 r=3.1 />
<circle class=m cx=195.8 cy=61.7 r=3.1 />
<circle class=T cx=189.9 cy=113.6 r=3.1 />
<circle class=R cx=16.6 cy=110.9 r=3.1 />
<circle class=U cx=271 cy=115.2 r=3.1 />
<circle class=T cx=193.6 cy=113.3 r=3.1 />
<circle class=W cx=130.2 cy=119 r=3.1 />
<circle class=T cx=196.1 cy=113 r=3.1 />
<circle class=T cx=183.3 cy=114.2 r=3.1 />
<circle class=q cx=234 cy=68.2 r=3.1 />
<circle class=R cx=232.4 cy=110.8 r=3.1 />
<circle class=U cx=173.1 cy=115.1 r=3.1 />
<circle class=b cx=183.2 cy=47.6 r=3.1 />
<circle class=S cx=198.4 cy=112.8 r=3.1 />
<circle class=T cx=186 cy=113.9 r=3.1 />
<circle class=t cx=201.7 cy=72.4 r=3.1 />
<circle class=U cx=162.9 cy=116 r=3.1 />
<circle class=p cx=236.4 cy=66.7 r=3.1 />
<circle class=U cx=168.2 cy=115.5 r=3.1 />
<circle class=T cx=194.9 cy=113.1 r=3.1 />
<circle class=R cx=234.9 cy=110.7 r=3.1 />
<circle class=S cx=199.6 cy=112.6 r=3.1 />
<circle class=U cx=161.1 cy=116.1 r=3.1 />
<circle class=U cx=273.2 cy=115.1 r=3.1 />
<circle class=S cx=200.8 cy=112.5 r=3.1 />
<circle class=p cx=277.4 cy=65.9 r=3.1 />
<circle class=j cx=177.5 cy=57.8 r=3.1 />
<circle class=T cx=184.7 cy=113.9 r=3.1 />
<circle class=l cx=219.4 cy=61.1 r=3.1 />
<circle class=h cx=202.8 cy=55.5 r=3.1 />
<circle class=U cx=164.9 cy=115.7 r=3.1 />
<circle class=O cx=332 cy=106.3 r=3.1 />
<circle class=k cx=191.3 cy=59.4 r=3.1 />
<circle class=U cx=155.4 cy=116.4 r=3.1 />
<circle class=R cx=228.7 cy=110.7 r=3.1 />
<circle class=O cx=327 cy=106.4 r=3.1 />
<circle class=R cx=220.5 cy=111 r=3.1 />
<circle class=P cx=322.3 cy=106.6 r=3.1 />
<circle class=R cx=231.1 cy=110.5 r=3.1 />
<circle class=m cx=222.9 cy=62.9 r=3.1 />
<circle class=R cx=217.2 cy=111.1 r=3.1 />
<circle class=R cx=226.3 cy=110.7 r=3.1 />
<circle class=R cx=219.4 cy=111 r=3.1 />
<circle class=R cx=222.8 cy=110.8 r=3.1 />
<circle class=R cx=233.5 cy=110.4 r=3.1 />
<circle class=k2 cx=22 cy=128.4 r=3.1 />
<circle class=d cx=201.6 cy=49.9 r=3.1 />
<circle class=R cx=218.3 cy=111 r=3.1 />
<circle class=R cx=229.8 cy=110.4 r=3.1 />
<circle class=R cx=225.1 cy=110.6 r=3.1 />
<circle class=S cx=200.2 cy=112.9 r=3.1 />
<circle class=n cx=184.5 cy=64.3 r=3.1 />
<circle class=a cx=182.7 cy=45.8 r=3.1 />
<circle class=R cx=223.9 cy=110.6 r=3.1 />
<circle class=V cx=142.1 cy=117.3 r=3.1 />
<circle class=d cx=181.6 cy=49.1 r=3.1 />
<circle class=r cx=207.8 cy=69.5 r=3.1 />
<circle class=S cx=199 cy=113.1 r=3.1 />
<circle class=R cx=221.6 cy=110.6 r=3.1 />
<circle class=T cx=196.6 cy=113.5 r=3.1 />
<circle class=V cx=137 cy=117.7 r=3.1 />
<circle class=U cx=157.8 cy=115.8 r=3.1 />
<circle class=T cx=197.9 cy=113.2 r=3.1 />
<circle class=P cx=287.1 cy=107.7 r=3.1 />
<circle class=R cx=227.3 cy=110.3 r=3.1 />
<circle class=T cx=274.8 cy=114.5 r=3.1 />
<circle class=T cx=195.5 cy=113.6 r=3.1 />
<circle class=U cx=159.9 cy=115.5 r=3.1 />
<circle class=p cx=242.9 cy=66.6 r=3.1 />
<circle class=T cx=194.2 cy=113.8 r=3.1 />
<circle class=T cx=193 cy=114 r=3.1 />
<circle class=v cx=188 cy=75.9 r=3.1 />
<circle class=d cx=202.8 cy=50.3 r=3.1 />
<circle class=V cx=140 cy=117.2 r=3.1 />
<circle class=T cx=191.7 cy=114.1 r=3.1 />
<circle class=R cx=217.7 cy=111.3 r=3.1 />
<circle class=S cx=200.8 cy=113.1 r=3.1 />
<circle class=P cx=289.4 cy=107.3 r=3.1 />
<circle class=b cx=185.4 cy=46.8 r=3.1 />
<circle class=T cx=187.9 cy=114.7 r=3.1 />
<circle class=T cx=186.5 cy=115 r=3.1 />
<circle class=R cx=218.8 cy=111.3 r=3.1 />
<circle class=i cx=196.4 cy=57 r=3.1 />
<circle class=N cx=335.4 cy=105.3 r=3.1 />
<circle class=i cx=218.6 cy=57.4 r=3.1 />
<circle class=U cx=183.8 cy=115.4 r=3.1 />
<circle class=T cx=189.2 cy=114.4 r=3.1 />
<circle class=S cx=241.5 cy=112.4 r=3.1 />
<circle class=T cx=199.7 cy=113.3 r=3.1 />
<circle class=l cx=201.6 cy=61.6 r=3.1 />
<circle class=V cx=134.9 cy=117.3 r=3.1 />
</g>
<g class="o14">
<circle class=R cx=220 cy=111.1 r=3.1 />
<circle class=R cx=223.4 cy=111.3 r=3.1 />
<circle class=T cx=190.6 cy=113.9 r=3.1 />
<circle class=T cx=198.5 cy=113.5 r=3.1 />
<circle class=R cx=217.2 cy=111.6 r=3.1 />
<circle class=t cx=176.5 cy=73.8 r=3.1 />
<circle class=R cx=231.9 cy=111.6 r=3.1 />
<circle class=h cx=228 cy=56.6 r=3.1 />
<circle class=l cx=227.9 cy=61.7 r=3.1 />
<circle class=m cx=203.6 cy=63.6 r=3.1 />
<circle class=p cx=203.9 cy=66.8 r=3.1 />
<circle class=R cx=225.7 cy=111.3 r=3.1 />
<circle class=R cx=228.2 cy=111.4 r=3.1 />
<circle class=r cx=175.2 cy=70.2 r=3.1 />
<circle class=T cx=154.5 cy=115.3 r=3.1 />
<circle class=R cx=224.5 cy=111.1 r=3.1 />
<circle class=R cx=221 cy=110.9 r=3.1 />
<circle class=R cx=230.6 cy=111.4 r=3.1 />
<circle class=R cx=222.2 cy=111 r=3.1 />
<circle class=T cx=197.3 cy=113.6 r=3.1 />
<circle class=R cx=234.4 cy=111.6 r=3.1 />
<circle class=c cx=201.1 cy=48.6 r=3.1 />
<circle class=T cx=185.4 cy=114.7 r=3.1 />
<circle class=T cx=276.2 cy=113.8 r=3.1 />
<circle class=R cx=233.1 cy=111.5 r=3.1 />
<circle class=i cx=180.1 cy=57.1 r=3.1 />
<circle class=h cx=182 cy=56.3 r=3.1 />
<circle class=T cx=281.3 cy=114 r=3.1 />
<circle class=T cx=200.3 cy=113.5 r=3.1 />
<circle class=R cx=226.9 cy=111.1 r=3.1 />
<circle class=R cx=218.3 cy=111.5 r=3.1 />
<circle class=T cx=196.1 cy=113.8 r=3.1 />
<circle class=p cx=263 cy=67.6 r=3.1 />
<circle class=R cx=229.3 cy=111.1 r=3.1 />
<circle class=R cx=239.7 cy=111.7 r=3.1 />
<circle class=R cx=237 cy=111.5 r=3.1 />
<circle class=U cx=179.7 cy=115.6 r=3.1 />
<circle class=t cx=203.6 cy=73.8 r=3.1 />
<circle class=T cx=194.9 cy=114.1 r=3.1 />
<circle class=T cx=182.6 cy=115 r=3.1 />
<circle class=O cx=291.1 cy=106.5 r=3.1 />
<circle class=d cx=195.9 cy=50.5 r=3.1 />
<circle class=d cx=183.2 cy=50.2 r=3.1 />
<circle class=R cx=219.4 cy=111.5 r=3.1 />
<circle class=T cx=181.2 cy=115.2 r=3.1 />
<circle class=r cx=216.9 cy=71 r=3.1 />
<circle class=U cx=178.2 cy=115.7 r=3.1 />
<circle class=T cx=199.1 cy=113.7 r=3.1 />
<circle class=U cx=176.7 cy=116 r=3.1 />
<circle class=R cx=238.3 cy=111.5 r=3.1 />
<circle class=N cx=311 cy=105.6 r=3.1 />
<circle class=d cx=193.9 cy=49.4 r=3.1 />
<circle class=T cx=193.7 cy=114.3 r=3.1 />
<circle class=q cx=191.8 cy=69.5 r=3.1 />
<circle class=k2 cx=106 cy=129.2 r=3.1 />
<circle class=T cx=192.4 cy=114.6 r=3.1 />
<circle class=U cx=175.2 cy=116.2 r=3.1 />
<circle class=N cx=338.8 cy=104.2 r=3.1 />
<circle class=b cx=179.9 cy=47.7 r=3.1 />
<circle class=R cx=220.5 cy=111.5 r=3.1 />
<circle class=R cx=235.5 cy=111.2 r=3.1 />
<circle class=U cx=257 cy=116.9 r=3.1 />
<circle class=R cx=221.7 cy=111.6 r=3.1 />
<circle class=T cx=198 cy=113.9 r=3.1 />
<circle class=R cx=217.7 cy=111.8 r=3.1 />
<circle class=U cx=258.9 cy=117.1 r=3.1 />
<circle class=S cx=201 cy=113.5 r=3.1 />
<circle class=S cx=277.9 cy=113.2 r=3.1 />
<circle class=O cx=293.3 cy=105.9 r=3.1 />
<circle class=N cx=299.5 cy=105.6 r=3.1 />
<circle class=T cx=189.9 cy=114.9 r=3.1 />
<circle class=R cx=222.8 cy=111.5 r=3.1 />
<circle class=V cx=262.8 cy=117.5 r=3.1 />
<circle class=R cx=218.8 cy=111.8 r=3.1 />
<circle class=q cx=204.8 cy=69.4 r=3.1 />
<circle class=R cx=224 cy=111.6 r=3.1 />
<circle class=T cx=199.8 cy=113.9 r=3.1 />
<circle class=M cx=226.2 cy=103.1 r=3.1 />
<circle class=T cx=196.8 cy=114.1 r=3.1 />
<circle class=R cx=225.2 cy=111.8 r=3.1 />
<circle class=t cx=191.7 cy=74.1 r=3.1 />
<circle class=U cx=254.7 cy=116.2 r=3.1 />
<circle class=S cx=217.1 cy=112.1 r=3.1 />
<circle class=U cx=260.6 cy=117 r=3.1 />
<circle class=U cx=168.9 cy=116.8 r=3.1 />
<circle class=R cx=219.9 cy=111.9 r=3.1 />
<circle class=U cx=172.3 cy=116.1 r=3.1 />
<circle class=T cx=195.6 cy=114.4 r=3.1 />
<circle class=U cx=174 cy=115.8 r=3.1 />
<circle class=N cx=295.8 cy=105.5 r=3.1 />
<circle class=o cx=269 cy=66.3 r=3.1 />
<circle class=T cx=191.3 cy=114.2 r=3.1 />
<circle class=c cx=202 cy=49.3 r=3.1 />
<circle class=T cx=198.6 cy=114.2 r=3.1 />
<circle class=T cx=188.7 cy=114.9 r=3.1 />
<circle class=q cx=182.1 cy=69.5 r=3.1 />
<circle class=U cx=170.7 cy=116.3 r=3.1 />
<circle class=T cx=187.3 cy=115.3 r=3.1 />
<circle class=T cx=194.4 cy=114.7 r=3.1 />
<circle class=i cx=179.5 cy=58 r=3.1 />
<circle class=l cx=194.7 cy=61.4 r=3.1 />
<circle class=m cx=219.8 cy=62.5 r=3.1 />
<circle class=c cx=200.4 cy=49 r=3.1 />
<circle class=T cx=193.1 cy=115.1 r=3.1 />
<circle class=k1 cx=102.9 cy=128.8 r=3.1 />
<circle class=V cx=269.1 cy=117.9 r=3.1 />
<circle class=T cx=186 cy=115.5 r=3.1 />
<circle class=R cx=218.2 cy=112.1 r=3.1 />
<circle class=p cx=190.5 cy=68.1 r=3.1 />
<circle class=k2 cx=97.8 cy=129.8 r=3.1 />
<circle class=T cx=184.6 cy=115.9 r=3.1 />
<circle class=N cx=312.9 cy=104.4 r=3.1 />
<circle class=i cx=199 cy=57.6 r=3.1 />
<circle class=M cx=342.4 cy=103.2 r=3.1 />
<circle class=R cx=226.2 cy=111.4 r=3.1 />
<circle class=R cx=228.7 cy=111.8 r=3.1 />
<circle class=r cx=186.2 cy=71.3 r=3.1 />
<circle class=v cx=214 cy=75.7 r=3.1 />
<circle class=j cx=226.8 cy=59.2 r=3.1 />
<circle class=S cx=200.5 cy=113.8 r=3.1 />
<circle class=U cx=165.6 cy=116.9 r=3.1 />
<circle class=R cx=231.2 cy=112.1 r=3.1 />
<circle class=o cx=229.9 cy=66.2 r=3.1 />
<circle class=o cx=217.2 cy=65.7 r=3.1 />
<circle class=R cx=227.4 cy=111.5 r=3.1 />
<circle class=T cx=197.5 cy=114.3 r=3.1 />
<circle class=U cx=264.3 cy=117 r=3.1 />
<circle class=R cx=221 cy=111.6 r=3.1 />
<circle class=R cx=229.9 cy=111.8 r=3.1 />
<circle class=j cx=204.2 cy=59.1 r=3.1 />
<circle class=S cx=235.2 cy=112.5 r=3.1 />
<circle class=R cx=222.2 cy=111.8 r=3.1 />
<circle class=T cx=183.3 cy=115.9 r=3.1 />
<circle class=R cx=219.3 cy=112.1 r=3.1 />
<circle class=k6 cx=57.8 cy=136.9 r=3.1 />
<circle class=c cx=203 cy=49.1 r=3.1 />
<circle class=R cx=223.4 cy=112.1 r=3.1 />
<circle class=S cx=236.5 cy=112.7 r=3.1 />
<circle class=N cx=304.6 cy=104.4 r=3.1 />
<circle class=V cx=160 cy=117.7 r=3.1 />
<circle class=T cx=201.2 cy=114 r=3.1 />
<circle class=S cx=284.5 cy=112.5 r=3.1 />
<circle class=a cx=180.6 cy=47.2 r=3.1 />
<circle class=S cx=237.9 cy=112.8 r=3.1 />
<circle class=k2 cx=93.2 cy=130.2 r=3.1 />
<circle class=V cx=271 cy=117.7 r=3.1 />
<circle class=T cx=199.4 cy=114.2 r=3.1 />
<circle class=k5 cx=66.4 cy=135.2 r=3.1 />
<circle class=T cx=191.9 cy=115 r=3.1 />
<circle class=d cx=184.5 cy=50.3 r=3.1 />
<circle class=R cx=217.5 cy=112.2 r=3.1 />
<circle class=R cx=224.5 cy=112.3 r=3.1 />
<circle class=S cx=239.3 cy=113 r=3.1 />
<circle class=S cx=240.8 cy=113.2 r=3.1 />
<circle class=R cx=281.6 cy=112.3 r=3.1 />
<circle class=R cx=232.4 cy=111.9 r=3.1 />
<circle class=k0 cx=113.2 cy=126.4 r=3.1 />
<circle class=U cx=167.8 cy=116.1 r=3.1 />
<circle class=U cx=162.2 cy=117.2 r=3.1 />
<circle class=b cx=181 cy=48.3 r=3.1 />
<circle class=R cx=220.4 cy=112.3 r=3.1 />
<circle class=U cx=164.1 cy=116.8 r=3.1 />
<circle class=T cx=196.3 cy=114.5 r=3.1 />
<circle class=T cx=190.7 cy=115.4 r=3.1 />
<circle class=U cx=266.1 cy=116.8 r=3.1 />
<circle class=Z cx=21.1 cy=125.4 r=3.1 />
<circle class=i cx=223.3 cy=57.6 r=3.1 />
<circle class=R cx=233.6 cy=112 r=3.1 />
<circle class=b cx=198 cy=48.5 r=3.1 />
<circle class=m cx=181.8 cy=64.3 r=3.1 />
<circle class=l cx=223.5 cy=61.7 r=3.1 />
<circle class=T cx=182 cy=115.8 r=3.1 />
<circle class=S cx=216.9 cy=112.4 r=3.1 />
<circle class=v cx=199.4 cy=77.1 r=3.1 />
<circle class=M cx=300.5 cy=104.2 r=3.1 />
<circle class=d cx=206.6 cy=50.9 r=3.1 />
<circle class=R cx=225.7 cy=112.2 r=3.1 />
<circle class=r cx=173.2 cy=70.6 r=3.1 />
<circle class=T cx=195.1 cy=114.8 r=3.1 />
<circle class=U cx=179 cy=116.7 r=3.1 />
<circle class=T cx=200.1 cy=114.3 r=3.1 />
<circle class=T cx=189.4 cy=115.6 r=3.1 />
<circle class=x cx=190.7 cy=79.5 r=3.1 />
<circle class=s cx=199.2 cy=71.9 r=3.1 />
<circle class=R cx=218.6 cy=112.3 r=3.1 />
<circle class=T cx=198.2 cy=114.4 r=3.1 />
<circle class=R cx=286.6 cy=112.1 r=3.1 />
<circle class=T cx=193.9 cy=115.3 r=3.1 />
<circle class=c cx=194.6 cy=49.9 r=3.1 />
<circle class=T cx=180.6 cy=116 r=3.1 />
<circle class=R cx=221.5 cy=112.2 r=3.1 />
<circle class=L cx=346.1 cy=102 r=3.1 />
<circle class=k3 cx=82.3 cy=131.7 r=3.1 />
<circle class=T cx=197 cy=115 r=3.1 />
<circle class=U cx=158.6 cy=117.3 r=3.1 />
<circle class=k7 cx=50.8 cy=137.5 r=3.1 />
<circle class=d cx=197.6 cy=50.8 r=3.1 />
<circle class=d cx=204.9 cy=50.9 r=3.1 />
<circle class=S cx=219.8 cy=112.6 r=3.1 />
<circle class=Y cx=118.5 cy=124.7 r=3.1 />
<circle class=k2 cx=88.9 cy=130.3 r=3.1 />
<circle class=r cx=170.8 cy=71.2 r=3.1 />
<circle class=T cx=200.8 cy=114.4 r=3.1 />
<circle class=R cx=226.8 cy=112.1 r=3.1 />
<circle class=T cx=188.1 cy=115.8 r=3.1 />
<circle class=k cx=227.4 cy=60.8 r=3.1 />
<circle class=S cx=218 cy=112.6 r=3.1 />
<circle class=U cx=177.6 cy=116.6 r=3.1 />
<circle class=R cx=222.7 cy=112.4 r=3.1 />
<circle class=k3 cx=76 cy=132.6 r=3.1 />
<circle class=T cx=198.9 cy=114.6 r=3.1 />
<circle class=c cx=196.2 cy=49.7 r=3.1 />
<circle class=U cx=176.1 cy=116.9 r=3.1 />
<circle class=T cx=192.7 cy=115.5 r=3.1 />
<circle class=U cx=185.3 cy=116.6 r=3.1 />
<circle class=R cx=228 cy=112.2 r=3.1 />
<circle class=T cx=201.5 cy=114.5 r=3.1 />
<circle class=Y cx=122.9 cy=123.7 r=3.1 />
<circle class=R cx=223.9 cy=112.6 r=3.1 />
<circle class=k cx=185.6 cy=60.4 r=3.1 />
<circle class=T cx=195.9 cy=115.2 r=3.1 />
<circle class=R cx=229.3 cy=112.4 r=3.1 />
<circle class=U cx=156.9 cy=117.2 r=3.1 />
<circle class=R cx=220.9 cy=112.7 r=3.1 />
<circle class=S cx=230.6 cy=112.7 r=3.1 />
<circle class=t cx=181.9 cy=73.6 r=3.1 />
<circle class=a cx=183.8 cy=47.6 r=3.1 />
<circle class=T cx=186.9 cy=115.8 r=3.1 />
<circle class=R cx=217.3 cy=112.7 r=3.1 />
<circle class=U cx=174.6 cy=117.1 r=3.1 />
<circle class=T cx=199.7 cy=114.8 r=3.1 />
<circle class=T cx=197.8 cy=115.1 r=3.1 />
<circle class=s cx=198 cy=72.3 r=3.1 />
<circle class=t cx=184.1 cy=73.6 r=3.1 />
<circle class=S cx=219.1 cy=112.8 r=3.1 />
<circle class=d cx=184.8 cy=50.4 r=3.1 />
<circle class=c cx=197.7 cy=49.7 r=3.1 />
<circle class=S cx=216.7 cy=113 r=3.1 />
<circle class=h cx=199 cy=56.3 r=3.1 />
<circle class=b cx=198.8 cy=48.9 r=3.1 />
<circle class=U cx=272 cy=116.6 r=3.1 />
<circle class=S cx=231.8 cy=112.8 r=3.1 />
<circle class=W cx=260.9 cy=119.9 r=3.1 />
<circle class=T cx=194.7 cy=115.6 r=3.1 />
<circle class=R cx=225 cy=112.6 r=3.1 />
<circle class=e cx=191.7 cy=51.8 r=3.1 />
<circle class=U cx=184.1 cy=116.7 r=3.1 />
<circle class=U cx=252.5 cy=117.8 r=3.1 />
<circle class=T cx=191.5 cy=115.6 r=3.1 />
<circle class=d cx=200.5 cy=50.4 r=3.1 />
<circle class=V cx=256.5 cy=118.7 r=3.1 />
<circle class=i cx=225.9 cy=58.4 r=3.1 />
<circle class=U cx=155.1 cy=117.1 r=3.1 />
<circle class=c cx=181.8 cy=50.2 r=3.1 />
<circle class=U cx=173.1 cy=117.2 r=3.1 />
<circle class=i cx=226.6 cy=58.9 r=3.1 />
<circle class=m cx=188.2 cy=63.4 r=3.1 />
<circle class=S cx=233.1 cy=112.9 r=3.1 />
<circle class=d cx=200.7 cy=50.4 r=3.1 />
<circle class=T cx=200.4 cy=114.9 r=3.1 />
<circle class=c cx=199.4 cy=49.5 r=3.1 />
<circle class=K cx=349.9 cy=100.9 r=3.1 />
<circle class=R cx=222 cy=112.6 r=3.1 />
<circle class=S cx=218.4 cy=113 r=3.1 />
<circle class=Q cx=287.9 cy=111.1 r=3.1 />
<circle class=c cx=195.2 cy=49.7 r=3.1 />
<circle class=S cx=220.2 cy=112.9 r=3.1 />
<circle class=S cx=234.4 cy=113.1 r=3.1 />
<circle class=T cx=190.2 cy=115.9 r=3.1 />
<circle class=a cx=180.6 cy=47.5 r=3.1 />
<circle class=U cx=254.2 cy=117.9 r=3.1 />
<circle class=U cx=276.6 cy=116.9 r=3.1 />
<circle class=R cx=226.2 cy=112.6 r=3.1 />
<circle class=i cx=219.9 cy=58.6 r=3.1 />
<circle class=T cx=196.6 cy=115.3 r=3.1 />
<circle class=T cx=198.5 cy=115.1 r=3.1 />
<circle class=c cx=196.4 cy=49.7 r=3.1 />
<circle class=W cx=262.7 cy=119.9 r=3.1 />
<circle class=S cx=237.2 cy=113.6 r=3.1 />
<circle class=q cx=178.6 cy=69.1 r=3.1 />
<circle class=V cx=145.9 cy=118.5 r=3.1 />
<circle class=W cx=131.3 cy=121.2 r=3.1 />
<circle class=T cx=193.5 cy=115.8 r=3.1 />
<circle class=T cx=201.1 cy=114.8 r=3.1 />
<circle class=T cx=273.8 cy=116.3 r=3.1 />
<circle class=B cx=230.9 cy=85.2 r=3.1 />
<circle class=p cx=213.5 cy=68.5 r=3.1 />
<circle class=p cx=183.1 cy=68.1 r=3.1 />
<circle class=S cx=217.8 cy=113.1 r=3.1 />
<circle class=R cx=223.1 cy=112.8 r=3.1 />
<circle class=j cx=214.8 cy=59.9 r=3.1 />
<circle class=U cx=168 cy=118.2 r=3.1 />
<circle class=S cx=241.6 cy=114.5 r=3.1 />
<circle class=U cx=169.9 cy=117.6 r=3.1 />
<circle class=m cx=218 cy=63.4 r=3.1 />
<circle class=v cx=207.1 cy=77.6 r=3.1 />
<circle class=T cx=182.9 cy=116.5 r=3.1 />
<circle class=R cx=235.6 cy=112.9 r=3.1 />
<circle class=l cx=199.3 cy=62.7 r=3.1 />
<circle class=d cx=201.5 cy=51.6 r=3.1 />
<circle class=V cx=257.9 cy=118.4 r=3.1 />
<circle class=U cx=171.8 cy=117 r=3.1 />
<circle class=T cx=201.8 cy=114.7 r=3.1 />
<circle class=T cx=189 cy=116.1 r=3.1 />
<circle class=p cx=199.2 cy=68 r=3.1 />
<circle class=R cx=227.3 cy=112.6 r=3.1 />
<circle class=W cx=128.4 cy=121.4 r=3.1 />
<circle class=S cx=240 cy=113.9 r=3.1 />
<circle class=c cx=196.8 cy=49.8 r=3.1 />
<circle class=U cx=179.8 cy=117.5 r=3.1 />
<circle class=U cx=181.4 cy=116.9 r=3.1 />
<circle class=S cx=217.1 cy=113.3 r=3.1 />
<circle class=R cx=221.3 cy=113 r=3.1 />
<circle class=T cx=192.3 cy=116.1 r=3.1 />
<circle class=S cx=238.4 cy=113.5 r=3.1 />
<circle class=R cx=219.5 cy=113.1 r=3.1 />
<circle class=T cx=187.6 cy=116.6 r=3.1 />
<circle class=R cx=224.3 cy=113 r=3.1 />
<circle class=c cx=204.9 cy=50.5 r=3.1 />
<circle class=T cx=195.5 cy=115.6 r=3.1 />
<circle class=b cx=196 cy=48.9 r=3.1 />
<circle class=d cx=196.1 cy=51.9 r=3.1 />
<circle class=T cx=199.3 cy=115.1 r=3.1 />
<circle class=n cx=219.1 cy=65.2 r=3.1 />
<circle class=t cx=177.4 cy=74.1 r=3.1 />
<circle class=a cx=181.1 cy=47.8 r=3.1 />
<circle class=R cx=228.5 cy=112.9 r=3.1 />
<circle class=T cx=197.4 cy=115.5 r=3.1 />
<circle class=k cx=187 cy=61.7 r=3.1 />
<circle class=S cx=216.4 cy=113.4 r=3.1 />
<circle class=m cx=194.8 cy=63.8 r=3.1 />
<circle class=T cx=278.5 cy=116.5 r=3.1 />
<circle class=h cx=206.9 cy=56.8 r=3.1 />
<circle class=k6 cx=46.6 cy=136.5 r=3.1 />
<circle class=R cx=229.8 cy=113.1 r=3.1 />
<circle class=T cx=191 cy=116.6 r=3.1 />
<circle class=q cx=190.6 cy=69.6 r=3.1 />
<circle class=c cx=193.8 cy=50.1 r=3.1 />
<circle class=d cx=196.8 cy=50.9 r=3.1 />
<circle class=n cx=222.5 cy=66.2 r=3.1 />
<circle class=S cx=222.5 cy=113.2 r=3.1 />
<circle class=T cx=200.1 cy=115.2 r=3.1 />
<circle class=S cx=218.8 cy=113.3 r=3.1 />
<circle class=V cx=141.6 cy=118.5 r=3.1 />
<circle class=T cx=186.3 cy=116.9 r=3.1 />
<circle class=i cx=196.8 cy=58.3 r=3.1 />
<circle class=R cx=225.5 cy=113.1 r=3.1 />
<circle class=U cx=166.7 cy=117.8 r=3.1 />
<circle class=j cx=210.1 cy=60.3 r=3.1 />
<circle class=a cx=182.6 cy=47.7 r=3.1 />
<circle class=c cx=203.7 cy=50.3 r=3.1 />
<circle class=h cx=195.6 cy=57.7 r=3.1 />
<circle class=U cx=144.5 cy=117.8 r=3.1 />
<circle class=T cx=196.3 cy=116 r=3.1 />
<circle class=b cx=199.3 cy=49.4 r=3.1 />
<circle class=d cx=200.1 cy=51.4 r=3.1 />
<circle class=i cx=221.4 cy=59.3 r=3.1 />
<circle class=l cx=190 cy=62.2 r=3.1 />
<circle class=c cx=181.1 cy=50 r=3.1 />
<circle class=T cx=194.3 cy=115.9 r=3.1 />
<circle class=T cx=198.2 cy=115.6 r=3.1 />
<circle class=V cx=136 cy=119.4 r=3.1 />
<circle class=S cx=232.4 cy=113.7 r=3.1 />
<circle class=T cx=200.8 cy=115.2 r=3.1 />
<circle class=R cx=231 cy=113.2 r=3.1 />
<circle class=U cx=178.6 cy=117.3 r=3.1 />
<circle class=r cx=180.5 cy=72 r=3.1 />
<circle class=P cx=289 cy=109.9 r=3.1 />
<circle class=S cx=218.1 cy=113.5 r=3.1 />
<circle class=R cx=220.6 cy=113.1 r=3.1 />
<circle class=d cx=195.6 cy=51.4 r=3.1 />
<circle class=V cx=263.8 cy=119 r=3.1 />
<circle class=U cx=165 cy=118.1 r=3.1 />
<circle class=T cx=201.5 cy=115.2 r=3.1 />
<circle class=P cx=292 cy=109.9 r=3.1 />
<circle class=p cx=264.6 cy=68.2 r=3.1 />
<circle class=U cx=139.2 cy=118.6 r=3.1 />
<circle class=V cx=268.7 cy=120.2 r=3.1 />
<circle class=b cx=194.9 cy=49.3 r=3.1 />
<circle class=p cx=250.8 cy=68.3 r=3.1 />
<circle class=o cx=269.7 cy=67.2 r=3.1 />
<circle class=T cx=202.3 cy=115.1 r=3.1 />
<circle class=S cx=217.4 cy=113.6 r=3.1 />
<circle class=T cx=193.1 cy=116.4 r=3.1 />
<circle class=S cx=221.7 cy=113.6 r=3.1 />
<circle class=d cx=198.6 cy=51 r=3.1 />
<circle class=R cx=226.6 cy=113.1 r=3.1 />
<circle class=S cx=219.9 cy=113.5 r=3.1 />
<circle class=S cx=216.7 cy=113.8 r=3.1 />
<circle class=T cx=189.8 cy=116.6 r=3.1 />
<circle class=X cx=20.1 cy=122.4 r=3.1 />
<circle class=a cx=181.7 cy=47.5 r=3.1 />
<circle class=T cx=199 cy=115.6 r=3.1 />
<circle class=R cx=223.5 cy=113.1 r=3.1 />
<circle class=m cx=199 cy=63.8 r=3.1 />
<circle class=j cx=189.5 cy=60.7 r=3.1 />
<circle class=K cx=211.8 cy=101.5 r=3.1 />
<circle class=n cx=208.5 cy=65.4 r=3.1 />
<circle class=b cx=196.6 cy=49.5 r=3.1 />
<circle class=s cx=190.6 cy=74 r=3.1 />
<circle class=U cx=177.2 cy=117.4 r=3.1 />
<circle class=T cx=197.1 cy=116.1 r=3.1 />
<circle class=T cx=185.2 cy=116.7 r=3.1 />
<circle class=T cx=195.1 cy=116.3 r=3.1 />
<circle class=S cx=227.8 cy=113.5 r=3.1 />
<circle class=U cx=163.3 cy=118.1 r=3.1 />
<circle class=T cx=280 cy=115.7 r=3.1 />
<circle class=V cx=265.7 cy=119 r=3.1 />
<circle class=S cx=235 cy=114 r=3.1 />
<circle class=S cx=233.5 cy=113.5 r=3.1 />
<circle class=g cx=197.9 cy=56.8 r=3.1 />
<circle class=d cx=208.2 cy=52.2 r=3.1 />
<circle class=S cx=236.4 cy=114.4 r=3.1 />
<circle class=U cx=183.7 cy=117.3 r=3.1 />
<circle class=h cx=196.6 cy=58 r=3.1 />
<circle class=T cx=199.8 cy=115.8 r=3.1 />
<circle class=U cx=161.4 cy=118.5 r=3.1 />
<circle class=t cx=212.4 cy=74.7 r=3.1 />
<circle class=i cx=228 cy=58.7 r=3.1 />
<circle class=d cx=205.4 cy=51.6 r=3.1 />
<circle class=S cx=229.1 cy=113.8 r=3.1 />
<circle class=n cx=193 cy=65.8 r=3.1 />
<circle class=R cx=224.7 cy=113.4 r=3.1 />
<circle class=i cx=181 cy=58.4 r=3.1 />
<circle class=T cx=188.5 cy=116.9 r=3.1 />
<circle class=S cx=219.2 cy=113.6 r=3.1 />
<circle class=V cx=270.5 cy=120 r=3.1 />
<circle class=U cx=175.8 cy=117.5 r=3.1 />
<circle class=U cx=174 cy=118.2 r=3.1 />
<circle class=T cx=191.9 cy=116.6 r=3.1 />
<circle class=T cx=200.5 cy=115.8 r=3.1 />
<circle class=n cx=226 cy=66.8 r=3.1 />
<circle class=V cx=159.4 cy=118.9 r=3.1 />
<circle class=S cx=221 cy=113.8 r=3.1 />
<circle class=S cx=218.5 cy=114 r=3.1 />
<circle class=S cx=225.9 cy=113.9 r=3.1 />
<circle class=L cx=222 cy=103.7 r=3.1 />
<circle class=U cx=182.3 cy=117.6 r=3.1 />
<circle class=S cx=216.5 cy=113.9 r=3.1 />
<circle class=S cx=237.7 cy=114.5 r=3.1 />
<circle class=d cx=191 cy=51.1 r=3.1 />
<circle class=S cx=215.8 cy=113.9 r=3.1 />
<circle class=x cx=221.3 cy=81.2 r=3.1 />
<circle class=R cx=222.8 cy=113.5 r=3.1 />
<circle class=T cx=202 cy=115.7 r=3.1 />
<circle class=v cx=188.2 cy=77.7 r=3.1 />
<circle class=T cx=202.7 cy=115.6 r=3.1 />
<circle class=T cx=201.3 cy=115.7 r=3.1 />
<circle class=T cx=197.9 cy=116.1 r=3.1 />
<circle class=T cx=240.9 cy=115.5 r=3.1 />
<circle class=S cx=230.3 cy=114 r=3.1 />
<circle class=l cx=177.9 cy=62.5 r=3.1 />
<circle class=c cx=181.3 cy=50.5 r=3.1 />
<circle class=V cx=251.7 cy=119.2 r=3.1 />
<circle class=S cx=239.2 cy=114.9 r=3.1 />
<circle class=T cx=196 cy=116.5 r=3.1 />
<circle class=S cx=217.7 cy=114.1 r=3.1 />
<circle class=U cx=172.4 cy=118.5 r=3.1 />
<circle class=P cx=293.4 cy=108.9 r=3.1 />
<circle class=k cx=217.3 cy=61.9 r=3.1 />
<circle class=T cx=194 cy=116.5 r=3.1 />
<circle class=T cx=187.3 cy=117.1 r=3.1 />
<circle class=U cx=180.8 cy=118 r=3.1 />
<circle class=C cx=210.8 cy=88.8 r=3.1 />
<circle class=g cx=194.2 cy=57 r=3.1 />
<circle class=i cx=210.3 cy=58.6 r=3.1 />
<circle class=m cx=202.8 cy=64.6 r=3.1 />
<circle class=S cx=220.3 cy=114.1 r=3.1 />
<circle class=d cx=204.6 cy=52 r=3.1 />
<circle class=g cx=207.4 cy=57.1 r=3.1 />
<circle class=T cx=198.7 cy=116.3 r=3.1 />
<circle class=k cx=216.2 cy=62.4 r=3.1 />
<circle class=q cx=214 cy=70.6 r=3.1 />
<circle class=S cx=224 cy=114 r=3.1 />
<circle class=T cx=242.3 cy=115.7 r=3.1 />
<circle class=T cx=190.7 cy=117 r=3.1 />
<circle class=S cx=231.6 cy=114.2 r=3.1 />
<circle class=T cx=244 cy=116.2 r=3.1 />
<circle class=i cx=219.7 cy=59.2 r=3.1 />
<circle class=U cx=247.6 cy=117.5 r=3.1 />
<circle class=e cx=208.1 cy=52.7 r=3.1 />
<circle class=S cx=222.1 cy=114 r=3.1 />
<circle class=V cx=168.9 cy=119.5 r=3.1 />
<circle class=T cx=245.7 cy=116.7 r=3.1 />
<circle class=c cx=183.2 cy=51 r=3.1 />
<circle class=U cx=249.4 cy=118 r=3.1 />
<circle class=U cx=185.9 cy=117.7 r=3.1 />
<circle class=b cx=181.8 cy=49.4 r=3.1 />
<circle class=T cx=192.7 cy=117.1 r=3.1 />
<circle class=m cx=196.9 cy=65.4 r=3.1 />
<circle class=S cx=227 cy=113.8 r=3.1 />
<circle class=U cx=179.4 cy=118.3 r=3.1 />
<circle class=V cx=255.4 cy=119.9 r=3.1 />
<circle class=T cx=199.5 cy=116.3 r=3.1 />
<circle class=U cx=170.9 cy=118.5 r=3.1 />
<circle class=S cx=215.4 cy=114.5 r=3.1 />
<circle class=l cx=211 cy=63.9 r=3.1 />
<circle class=k cx=216.1 cy=61.5 r=3.1 />
<circle class=S cx=217.5 cy=114.3 r=3.1 />
<circle class=T cx=189.4 cy=117.5 r=3.1 />
<circle class=d cx=184.8 cy=51.5 r=3.1 />
<circle class=S cx=216.1 cy=114.5 r=3.1 />
<circle class=S cx=219.5 cy=114.1 r=3.1 />
<circle class=T cx=196.8 cy=116.5 r=3.1 />
<circle class=l cx=204.4 cy=63.7 r=3.1 />
<circle class=T cx=194.8 cy=116.9 r=3.1 />
<circle class=b cx=196.3 cy=49.2 r=3.1 />
<circle class=b cx=183.5 cy=49.2 r=3.1 />
<circle class=V cx=153.5 cy=119.6 r=3.1 />
<circle class=S cx=216.8 cy=114.3 r=3.1 />
<circle class=q cx=206.2 cy=71.4 r=3.1 />
<circle class=U cx=253.1 cy=118.8 r=3.1 />
<circle class=T cx=200.3 cy=116.2 r=3.1 />
<circle class=U cx=184.5 cy=118.1 r=3.1 />
<circle class=i cx=188 cy=59.7 r=3.1 />
<circle class=a cx=199.2 cy=48.6 r=3.1 />
<circle class=S cx=225.1 cy=114.1 r=3.1 />
<circle class=S cx=232.8 cy=114.2 r=3.1 />
<circle class=S cx=218.7 cy=114.4 r=3.1 />
<circle class=S cx=280.7 cy=114.3 r=3.1 />
<circle class=U cx=158.3 cy=118.1 r=3.1 />
<circle class=T cx=203.3 cy=115.8 r=3.1 />
<circle class=S cx=221.3 cy=114.3 r=3.1 />
<circle class=T cx=201.1 cy=116.2 r=3.1 />
<circle class=U cx=271.6 cy=119 r=3.1 />
<circle class=o cx=224.7 cy=67.5 r=3.1 />
<circle class=r cx=183.8 cy=72.2 r=3.1 />
<circle class=U cx=156.1 cy=118.6 r=3.1 />
<circle class=R cx=228.2 cy=113.9 r=3.1 />
<circle class=T cx=202.6 cy=115.9 r=3.1 />
<circle class=V cx=259.4 cy=120.8 r=3.1 />
<circle class=T cx=201.9 cy=116 r=3.1 />
<circle class=U cx=178 cy=118.4 r=3.1 />
<circle class=T cx=191.6 cy=117.4 r=3.1 />
<circle class=U cx=188.1 cy=117.9 r=3.1 />
<circle class=S cx=283.3 cy=114.4 r=3.1 />
<circle class=O cx=310.6 cy=108.7 r=3.1 />
<circle class=U cx=176.3 cy=119.2 r=3.1 />
<circle class=S cx=234.1 cy=114.4 r=3.1 />
<circle class=R cx=223.1 cy=114 r=3.1 />
<circle class=T cx=197.7 cy=116.5 r=3.1 />
<circle class=O cx=314.9 cy=108.9 r=3.1 />
<circle class=d cx=191.8 cy=52.6 r=3.1 />
<circle class=O cx=298.3 cy=108 r=3.1 />
<circle class=V cx=256.9 cy=119.7 r=3.1 />
<circle class=U cx=167.7 cy=119 r=3.1 />
<circle class=S cx=229.4 cy=114.3 r=3.1 />
<circle class=c cx=201.9 cy=51 r=3.1 />
<circle class=S cx=214.8 cy=114.9 r=3.1 />
<circle class=L cx=232.3 cy=104 r=3.1 />
<circle class=W cx=261.5 cy=121.2 r=3.1 />
<circle class=S cx=220.5 cy=114.4 r=3.1 />
<circle class=P cx=330.5 cy=109.6 r=3.1 />
<circle class=S cx=235.5 cy=114.8 r=3.1 />
<circle class=d cx=199.4 cy=52 r=3.1 />
<circle class=U cx=183.2 cy=118.3 r=3.1 />
<circle class=o cx=249.4 cy=67.8 r=3.1 />
<circle class=k4 cx=34.6 cy=135.8 r=3.1 />
<circle class=T cx=193.7 cy=117.2 r=3.1 />
<circle class=T cx=195.7 cy=116.9 r=3.1 />
<circle class=S cx=237 cy=115.5 r=3.1 />
<circle class=I cx=213.2 cy=98.7 r=3.1 />
<circle class=b cx=201.3 cy=50.4 r=3.1 />
<circle class=K cx=230.5 cy=102 r=3.1 />
<circle class=T cx=198.5 cy=116.6 r=3.1 />
<circle class=S cx=230.8 cy=114.9 r=3.1 />
<circle class=q cx=181.6 cy=70.5 r=3.1 />
<circle class=S cx=215.5 cy=115 r=3.1 />
<circle class=o cx=253.8 cy=67.8 r=3.1 />
<circle class=N cx=294.3 cy=107.5 r=3.1 />
<circle class=C cx=204.2 cy=89.6 r=3.1 />
<circle class=R cx=226.2 cy=114.1 r=3.1 />
<circle class=U cx=190.3 cy=118 r=3.1 />
<circle class=T cx=199.3 cy=116.9 r=3.1 />
<circle class=m cx=215 cy=65 r=3.1 />
<circle class=S cx=218.5 cy=114.6 r=3.1 />
<circle class=k2 cx=108.1 cy=131.7 r=3.1 />
<circle class=T cx=203.9 cy=116.1 r=3.1 />
<circle class=U cx=186.8 cy=118.3 r=3.1 />
<circle class=U cx=165.9 cy=119.4 r=3.1 />
<circle class=d cx=193.5 cy=52.3 r=3.1 />
<circle class=S cx=222.4 cy=114.4 r=3.1 />
<circle class=x cx=210.4 cy=81.1 r=3.1 />
<circle class=S cx=216.2 cy=114.9 r=3.1 />
<circle class=d cx=182.6 cy=52.1 r=3.1 />
<circle class=S cx=217 cy=114.8 r=3.1 />
<circle class=S cx=217.7 cy=114.7 r=3.1 />
<circle class=S cx=219.7 cy=114.6 r=3.1 />
<circle class=T cx=196.6 cy=117.3 r=3.1 />
<circle class=S cx=224.2 cy=114.2 r=3.1 />
<circle class=T cx=203.2 cy=116.3 r=3.1 />
<circle class=N cx=301 cy=107.6 r=3.1 />
<circle class=U cx=181.8 cy=118.6 r=3.1 />
<circle class=S cx=238.3 cy=115.7 r=3.1 />
<circle class=i cx=209.8 cy=59.4 r=3.1 />
<circle class=k0 cx=118.5 cy=128.4 r=3.1 />
<circle class=T cx=200.1 cy=116.7 r=3.1 />
<circle class=d cx=199 cy=51.8 r=3.1 />
<circle class=S cx=227.4 cy=114.5 r=3.1 />
<circle class=T cx=200.9 cy=116.7 r=3.1 />
<circle class=g cx=196.4 cy=57.2 r=3.1 />
<circle class=U cx=275.8 cy=119 r=3.1 />
<circle class=p cx=182.3 cy=69.2 r=3.1 />
<circle class=y cx=191.7 cy=83.1 r=3.1 />
<circle class=T cx=202.5 cy=116.4 r=3.1 />
<circle class=S cx=221.6 cy=114.9 r=3.1 />
<circle class=d cx=184.6 cy=52 r=3.1 />
<circle class=O cx=318.1 cy=108.3 r=3.1 />
<circle class=S cx=232 cy=115 r=3.1 />
<circle class=T cx=194.6 cy=117.4 r=3.1 />
<circle class=k0 cx=114.1 cy=129.5 r=3.1 />
<circle class=O cx=323.2 cy=108.5 r=3.1 />
<circle class=c cx=197.5 cy=51.3 r=3.1 />
<circle class=U cx=272.8 cy=118.1 r=3.1 />
<circle class=R cx=285 cy=113.7 r=3.1 />
<circle class=T cx=201.7 cy=116.5 r=3.1 />
<circle class=T cx=192.5 cy=117.5 r=3.1 />
<circle class=k2 cx=103.8 cy=132.3 r=3.1 />
<circle class=c cx=195 cy=51.1 r=3.1 />
<circle class=U cx=175.2 cy=118.7 r=3.1 />
<circle class=T cx=243.3 cy=117.5 r=3.1 />
<circle class=c cx=191.4 cy=51.3 r=3.1 />
<circle class=U cx=173.4 cy=119.5 r=3.1 />
<circle class=f cx=200.4 cy=55.8 r=3.1 />
<circle class=S cx=214.2 cy=115.1 r=3.1 />
<circle class=N cx=304 cy=107.3 r=3.1 />
<circle class=T cx=204.6 cy=116.4 r=3.1 />
<circle class=S cx=239.7 cy=115.8 r=3.1 />
<circle class=U cx=189.1 cy=118.2 r=3.1 />
<circle class=V cx=262.9 cy=120.7 r=3.1 />
<circle class=U cx=19.1 cy=119.5 r=3.1 />
<circle class=V cx=162.2 cy=120.2 r=3.1 />
<circle class=T cx=197.5 cy=117.1 r=3.1 />
<circle class=U cx=185.6 cy=118.4 r=3.1 />
<circle class=U cx=180.5 cy=118.9 r=3.1 />
<circle class=b cx=204.1 cy=49.7 r=3.1 />
<circle class=S cx=223.5 cy=114.6 r=3.1 />
<circle class=V cx=141.8 cy=121.3 r=3.1 />
<circle class=s cx=216.8 cy=73.9 r=3.1 />
<circle class=c cx=195.4 cy=51.8 r=3.1 />
<circle class=T cx=241.3 cy=116.4 r=3.1 />
<circle class=S cx=219.5 cy=115 r=3.1 />
<circle class=b cx=201.5 cy=49.8 r=3.1 />
<circle class=S cx=228.6 cy=114.7 r=3.1 />
<circle class=O cx=333.7 cy=108.6 r=3.1 />
<circle class=S cx=214.9 cy=115.2 r=3.1 />
<circle class=V cx=265.3 cy=121.4 r=3.1 />
<circle class=R cx=225.3 cy=114.3 r=3.1 />
<circle class=U cx=164.6 cy=119 r=3.1 />
<circle class=T cx=195.5 cy=117.7 r=3.1 />
<circle class=k3 cx=98.8 cy=133.3 r=3.1 />
<circle class=U cx=184.1 cy=119.3 r=3.1 />
<circle class=S cx=233.2 cy=115.1 r=3.1 />
<circle class=S cx=220.8 cy=114.9 r=3.1 />
<circle class=g cx=197.1 cy=57.7 r=3.1 />
<circle class=d cx=198.1 cy=52.7 r=3.1 />
<circle class=U cx=178.9 cy=119.6 r=3.1 />
<circle class=V cx=145.2 cy=120 r=3.1 />
<circle class=S cx=215.6 cy=115.2 r=3.1 />
<circle class=S cx=218.7 cy=115 r=3.1 />
<circle class=T cx=198.3 cy=117.1 r=3.1 />
<circle class=T cx=203.9 cy=116.4 r=3.1 />
<circle class=c cx=193.5 cy=51 r=3.1 />
<circle class=S cx=217.9 cy=115.2 r=3.1 />
<circle class=S cx=217.1 cy=115.3 r=3.1 />
<circle class=S cx=226.6 cy=115.1 r=3.1 />
<circle class=l cx=188 cy=63.4 r=3.1 />
<circle class=i cx=186.8 cy=60.7 r=3.1 />
<circle class=X cx=128.5 cy=124.7 r=3.1 />
<circle class=k4 cx=92.9 cy=134.8 r=3.1 />
<circle class=T cx=191.3 cy=118 r=3.1 />
<circle class=T cx=203.2 cy=116.8 r=3.1 />
<circle class=S cx=213.6 cy=115.5 r=3.1 />
<circle class=T cx=193.4 cy=117.8 r=3.1 />
<circle class=T cx=199.2 cy=117.3 r=3.1 />
<circle class=Q cx=286.9 cy=113.2 r=3.1 />
<circle class=b cx=195.3 cy=50.4 r=3.1 />
<circle class=S cx=216.4 cy=115.1 r=3.1 />
<circle class=U cx=187.8 cy=118.6 r=3.1 />
<circle class=S cx=234.6 cy=115.5 r=3.1 />
<circle class=W cx=136.1 cy=122.4 r=3.1 />
<circle class=T cx=244.5 cy=117.3 r=3.1 />
<circle class=q cx=195.3 cy=71.4 r=3.1 />
<circle class=T cx=205.3 cy=116.5 r=3.1 />
<circle class=c cx=198.1 cy=51.9 r=3.1 />
<circle class=T cx=202.4 cy=116.9 r=3.1 />
<circle class=r cx=193 cy=73.7 r=3.1 />
<circle class=c cx=184.9 cy=51.7 r=3.1 />
<circle class=S cx=222.6 cy=114.8 r=3.1 />
<circle class=U cx=172.1 cy=119.4 r=3.1 />
<circle class=h cx=199.7 cy=58.7 r=3.1 />
<circle class=V cx=139.6 cy=121.2 r=3.1 />
<circle class=j cx=229.1 cy=62 r=3.1 />
<circle class=g cx=207.9 cy=57.7 r=3.1 />
<circle class=T cx=277.2 cy=118.2 r=3.1 />
<circle class=v cx=192.9 cy=77.9 r=3.1 />
<circle class=T cx=200.9 cy=117.2 r=3.1 />
<circle class=s cx=194.4 cy=74.2 r=3.1 />
<circle class=T cx=201.7 cy=117.1 r=3.1 />
<circle class=W cx=270 cy=122.4 r=3.1 />
<circle class=S cx=224.5 cy=114.9 r=3.1 />
<circle class=S cx=214.3 cy=115.7 r=3.1 />
<circle class=T cx=196.4 cy=117.8 r=3.1 />
<circle class=S cx=229.7 cy=114.8 r=3.1 />
<circle class=U cx=248.2 cy=118.7 r=3.1 />
<circle class=r cx=187.8 cy=72.6 r=3.1 />
<circle class=h cx=210.4 cy=58.3 r=3.1 />
<circle class=T cx=200.1 cy=117.1 r=3.1 />
<circle class=U cx=177.4 cy=119.9 r=3.1 />
<circle class=h cx=213.4 cy=59.3 r=3.1 />
<circle class=u cx=190 cy=77.5 r=3.1 />
<circle class=b cx=197.1 cy=50.1 r=3.1 />
<circle class=d cx=204.8 cy=53.4 r=3.1 />
<circle class=o cx=242.2 cy=68.3 r=3.1 />
<circle class=U cx=160.8 cy=119.7 r=3.1 />
<circle class=p cx=184.1 cy=70.7 r=3.1 />
<circle class=T cx=237.6 cy=116.8 r=3.1 />
<circle class=S cx=236 cy=115.9 r=3.1 />
<circle class=U cx=250.1 cy=119.4 r=3.1 />
<circle class=V cx=266.9 cy=121.1 r=3.1 />
<circle class=T cx=194.3 cy=118.2 r=3.1 />
<circle class=T cx=246.1 cy=117.6 r=3.1 />
<circle class=Q cx=289.5 cy=113.2 r=3.1 />
<circle class=S cx=227.8 cy=115.3 r=3.1 />
<circle class=S cx=215 cy=115.8 r=3.1 />
<circle class=S cx=213 cy=115.7 r=3.1 />
<circle class=h cx=198.3 cy=59.1 r=3.1 />
<circle class=U cx=170.4 cy=119.8 r=3.1 />
<circle class=T cx=204.6 cy=116.6 r=3.1 />
<circle class=T cx=206 cy=116.6 r=3.1 />
<circle class=R cx=292.9 cy=113.6 r=3.1 />
<circle class=d cx=196.1 cy=52.2 r=3.1 />
<circle class=j cx=207 cy=61.3 r=3.1 />
<circle class=T cx=192.3 cy=118.4 r=3.1 />
<circle class=T cx=197.3 cy=117.8 r=3.1 />
<circle class=U cx=182.9 cy=119.1 r=3.1 />
<circle class=S cx=220.4 cy=115 r=3.1 />
<circle class=S cx=231 cy=115.2 r=3.1 />
<circle class=g cx=202.6 cy=58.1 r=3.1 />
<circle class=b cx=183.4 cy=51 r=3.1 />
<circle class=W cx=133.7 cy=122.4 r=3.1 />
<circle class=T cx=203.9 cy=117.1 r=3.1 />
<circle class=N cx=337.1 cy=107.7 r=3.1 />
<circle class=T cx=190.2 cy=118.1 r=3.1 />
<circle class=S cx=221.7 cy=114.9 r=3.1 />
<circle class=u cx=220.6 cy=77.5 r=3.1 />
<circle class=U cx=186.6 cy=118.8 r=3.1 />
<circle class=S cx=219.6 cy=115.4 r=3.1 />
<circle class=S cx=215.7 cy=115.7 r=3.1 />
<circle class=S cx=223.7 cy=115.3 r=3.1 />
<circle class=a cx=204.1 cy=49.5 r=3.1 />
<circle class=g cx=202.7 cy=58.1 r=3.1 />
<circle class=q cx=184.3 cy=72.5 r=3.1 />
<circle class=V cx=254 cy=120.8 r=3.1 />
<circle class=S cx=218.8 cy=115.6 r=3.1 />
<circle class=S cx=225.7 cy=115.2 r=3.1 />
<circle class=h cx=190.2 cy=59.5 r=3.1 />
<circle class=S cx=212.2 cy=116.1 r=3.1 />
<circle class=S cx=213.6 cy=116 r=3.1 />
<circle class=U cx=282.6 cy=118.8 r=3.1 />
<circle class=M cx=205.2 cy=105.8 r=3.1 />
<circle class=V cx=168.7 cy=120.3 r=3.1 />
<circle class=U cx=159.1 cy=119.8 r=3.1 />
<circle class=T cx=206.8 cy=116.8 r=3.1 />
<circle class=U cx=188.8 cy=119.2 r=3.1 />
<circle class=S cx=216.5 cy=115.7 r=3.1 />
<circle class=p cx=172 cy=70.4 r=3.1 />
<circle class=d cx=195.8 cy=53.4 r=3.1 />
<circle class=h cx=177.7 cy=59 r=3.1 />
<circle class=S cx=217.2 cy=115.7 r=3.1 />
<circle class=T cx=203.2 cy=117.3 r=3.1 />
<circle class=U cx=181.4 cy=119.8 r=3.1 />
<circle class=T cx=198.2 cy=117.8 r=3.1 />
<circle class=U cx=176.1 cy=120 r=3.1 />
<circle class=H cx=205.6 cy=98 r=3.1 />
<circle class=S cx=218 cy=115.6 r=3.1 />
<circle class=S cx=232.3 cy=115.7 r=3.1 />
<circle class=T cx=195.3 cy=118.3 r=3.1 />
<circle class=k8 cx=64 cy=141.8 r=3.1 />
<circle class=T cx=279 cy=117.7 r=3.1 />
<circle class=f cx=198.8 cy=56.4 r=3.1 />
<circle class=d cx=193.7 cy=53.6 r=3.1 />
<circle class=W cx=126.8 cy=123.9 r=3.1 />
<circle class=T cx=205.4 cy=116.8 r=3.1 />
<circle class=a cx=202.3 cy=49.5 r=3.1 />
<circle class=U cx=191 cy=119.1 r=3.1 />
<circle class=T cx=202.4 cy=117.4 r=3.1 />
<circle class=k3 cx=89.4 cy=134.5 r=3.1 />
<circle class=T cx=199.1 cy=117.8 r=3.1 />
<circle class=T cx=207.5 cy=116.9 r=3.1 />
<circle class=T cx=200 cy=117.8 r=3.1 />
<circle class=c cx=206.9 cy=52 r=3.1 />
<circle class=i cx=183.1 cy=60 r=3.1 />
<circle class=T cx=201.6 cy=117.6 r=3.1 />
<circle class=S cx=211.5 cy=116.2 r=3.1 />
<circle class=T cx=200.8 cy=117.7 r=3.1 />
<circle class=o cx=198.3 cy=69.3 r=3.1 />
<circle class=r cx=212.8 cy=73.7 r=3.1 />
<circle class=U cx=251.4 cy=119.1 r=3.1 />
<circle class=j cx=205.1 cy=62 r=3.1 />
<circle class=a cx=181.8 cy=49.8 r=3.1 />
<circle class=s cx=193.4 cy=74.7 r=3.1 />
<circle class=U cx=157.1 cy=120.2 r=3.1 />
<circle class=S cx=238.7 cy=116.4 r=3.1 />
<circle class=S cx=214.3 cy=116 r=3.1 />
<circle class=T cx=193.3 cy=118.6 r=3.1 />
<circle class=S cx=228.8 cy=115.2 r=3.1 />
<circle class=S cx=222.8 cy=115.5 r=3.1 />
<circle class=V cx=255.8 cy=120.9 r=3.1 />
<circle class=S cx=221.5 cy=115.5 r=3.1 />
<circle class=T cx=204.7 cy=117.3 r=3.1 />
<circle class=S cx=233.7 cy=116.2 r=3.1 />
<circle class=S cx=210.7 cy=116.5 r=3.1 />
<circle class=T cx=240.3 cy=117.2 r=3.1 />
<circle class=S cx=212.9 cy=116.2 r=3.1 />
<circle class=T cx=206.2 cy=117.2 r=3.1 />
<circle class=T cx=208.3 cy=116.8 r=3.1 />
<circle class=k4 cx=82.7 cy=136.1 r=3.1 />
<circle class=T cx=196.2 cy=118.5 r=3.1 />
<circle class=V cx=174.5 cy=120.4 r=3.1 />
<circle class=v cx=184.1 cy=79.1 r=3.1 />
<circle class=r cx=197.7 cy=74.3 r=3.1 />
<circle class=V cx=258.1 cy=121.9 r=3.1 />
<circle class=V cx=271.2 cy=121.5 r=3.1 />
<circle class=S cx=209.9 cy=116.7 r=3.1 />
<circle class=S cx=226.8 cy=115.5 r=3.1 />
<circle class=T cx=209.1 cy=116.7 r=3.1 />
<circle class=S cx=215 cy=116.2 r=3.1 />
<circle class=d cx=190.8 cy=53.9 r=3.1 />
<circle class=U cx=185.4 cy=119 r=3.1 />
<circle class=n cx=195.3 cy=67.7 r=3.1 />
<circle class=U cx=167.2 cy=120.2 r=3.1 />
<circle class=g cx=200.7 cy=57.3 r=3.1 />
<circle class=S cx=220.6 cy=115.8 r=3.1 />
<circle class=U cx=243.9 cy=118.9 r=3.1 />
<circle class=e cx=200.8 cy=55.2 r=3.1 />
<circle class=T cx=242 cy=117.9 r=3.1 />
<circle class=q cx=181.2 cy=71.3 r=3.1 />
<circle class=b cx=183.1 cy=50.9 r=3.1 />
<circle class=U cx=180.1 cy=119.9 r=3.1 />
<circle class=W cx=273.9 cy=122.2 r=3.1 />
<circle class=S cx=224.7 cy=115.3 r=3.1 />
<circle class=U cx=191.9 cy=119.7 r=3.1 />
<circle class=b cx=195 cy=51.4 r=3.1 />
<circle class=b cx=180.9 cy=51.3 r=3.1 />
<circle class=j cx=223.1 cy=61.4 r=3.1 />
<circle class=U cx=187.6 cy=119.5 r=3.1 />
<circle class=t cx=175.9 cy=76.3 r=3.1 />
<circle class=U cx=183.9 cy=120 r=3.1 />
<circle class=W cx=260.2 cy=122.5 r=3.1 />
<circle class=S cx=230.1 cy=115.7 r=3.1 />
<circle class=T cx=204 cy=117.5 r=3.1 />
<circle class=S cx=215.7 cy=116.2 r=3.1 />
<circle class=S cx=235.1 cy=116.7 r=3.1 />
<circle class=S cx=212.1 cy=116.5 r=3.1 />
<circle class=M cx=340.5 cy=106.7 r=3.1 />
<circle class=p cx=179.8 cy=70.8 r=3.1 />
<circle class=T cx=207 cy=117.2 r=3.1 />
<circle class=b cx=206.3 cy=51.3 r=3.1 />
<circle class=a cx=185.7 cy=49.5 r=3.1 />
<circle class=m cx=196.9 cy=65.3 r=3.1 />
<circle class=c cx=194.2 cy=52.6 r=3.1 />
<circle class=v cx=192.7 cy=79.8 r=3.1 />
<circle class=S cx=213.5 cy=116.3 r=3.1 />
<circle class=V cx=178.4 cy=120.8 r=3.1 />
<circle class=T cx=197.2 cy=118.3 r=3.1 />
<circle class=V cx=165.3 cy=120.7 r=3.1 />
<circle class=d cx=208.6 cy=53.4 r=3.1 />
<circle class=T cx=194.3 cy=118.7 r=3.1 />
<circle class=T cx=203.3 cy=117.8 r=3.1 />
<circle class=T cx=205.6 cy=117.4 r=3.1 />
<circle class=S cx=219.7 cy=115.8 r=3.1 />
<circle class=U cx=155.4 cy=120.1 r=3.1 />
<circle class=d cx=195.6 cy=53.1 r=3.1 />
<circle class=S cx=218.9 cy=116.1 r=3.1 />
<circle class=M cx=224.1 cy=106.5 r=3.1 />
<circle class=d cx=191.1 cy=53.1 r=3.1 />
<circle class=c cx=207.7 cy=52.6 r=3.1 />
<circle class=S cx=228 cy=116 r=3.1 />
<circle class=W cx=262.5 cy=123.2 r=3.1 />
<circle class=d cx=193.9 cy=53.7 r=3.1 />
<circle class=a cx=202.4 cy=49.3 r=3.1 />
<circle class=T cx=207.9 cy=117.2 r=3.1 />
<circle class=S cx=217.3 cy=116.2 r=3.1 />
<circle class=S cx=211.3 cy=116.7 r=3.1 />
<circle class=S cx=216.5 cy=116 r=3.1 />
<circle class=U cx=189.9 cy=119.2 r=3.1 />
<circle class=k4 cx=76.6 cy=137.1 r=3.1 />
<circle class=S cx=223.9 cy=115.9 r=3.1 />
<circle class=n cx=192.2 cy=67.7 r=3.1 />
<circle class=S cx=218.1 cy=116.1 r=3.1 />
<circle class=T cx=198.2 cy=118.4 r=3.1 />
<circle class=d cx=198.7 cy=53.3 r=3.1 />
<circle class=a cx=184.7 cy=49.5 r=3.1 />
<circle class=d cx=198.3 cy=53.8 r=3.1 />
<circle class=U cx=173.1 cy=120.4 r=3.1 />
<circle class=S cx=210.4 cy=116.9 r=3.1 />
<circle class=S cx=222.5 cy=115.9 r=3.1 />
<circle class=c cx=197.2 cy=52.6 r=3.1 />
<circle class=T cx=209.6 cy=117.1 r=3.1 />
<circle class=T cx=202.5 cy=117.9 r=3.1 />
<circle class=y cx=206 cy=83.6 r=3.1 />
<circle class=q cx=180.4 cy=72.8 r=3.1 />
<circle class=T cx=199.1 cy=118.5 r=3.1 />
<circle class=S cx=214.2 cy=116.5 r=3.1 />
<circle class=T cx=283.5 cy=117.6 r=3.1 />
<circle class=c cx=194.1 cy=52.2 r=3.1 />
<circle class=T cx=208.7 cy=117.1 r=3.1 />
<circle class=c cx=198.9 cy=52 r=3.1 />
<circle class=p cx=220.3 cy=71 r=3.1 />
<circle class=S cx=212.7 cy=116.6 r=3.1 />
<circle class=k8 cx=58.3 cy=142.1 r=3.1 />
<circle class=s cx=199.9 cy=74.7 r=3.1 />
<circle class=T cx=195.2 cy=119 r=3.1 />
<circle class=S cx=18.1 cy=116.5 r=3.1 />
<circle class=k2 cx=24 cy=133.8 r=3.1 />
<circle class=T cx=200 cy=118.4 r=3.1 />
<circle class=T cx=200.8 cy=118.3 r=3.1 />
<circle class=d cx=200.8 cy=53.4 r=3.1 />
<circle class=U cx=182.5 cy=120.4 r=3.1 />
<circle class=T cx=245.1 cy=118.8 r=3.1 />
<circle class=S cx=231.3 cy=115.9 r=3.1 />
<circle class=V cx=163.6 cy=121.1 r=3.1 />
<circle class=U cx=153.4 cy=120.4 r=3.1 />
<circle class=T cx=204.9 cy=117.6 r=3.1 />
<circle class=T cx=206.4 cy=117.4 r=3.1 />
<circle class=U cx=247.1 cy=119.8 r=3.1 />
<circle class=T cx=238 cy=117.8 r=3.1 />
<circle class=t cx=196.5 cy=76.6 r=3.1 />
<circle class=U cx=186.4 cy=119.8 r=3.1 />
<circle class=q cx=223.1 cy=73.1 r=3.1 />
<circle class=T cx=201.7 cy=117.9 r=3.1 />
<circle class=S cx=225.8 cy=115.5 r=3.1 />
<circle class=p cx=193.4 cy=70 r=3.1 />
<circle class=a cx=182.8 cy=49.6 r=3.1 />
<circle class=o cx=205 cy=68.7 r=3.1 />
<circle class=S cx=236.2 cy=116.6 r=3.1 />
<circle class=a cx=203.5 cy=49.3 r=3.1 />
<circle class=S cx=214.9 cy=116.6 r=3.1 />
<circle class=S cx=221.6 cy=116.1 r=3.1 />
<circle class=b cx=184.8 cy=51.6 r=3.1 />
<circle class=k cx=166.8 cy=63.9 r=3.1 />
<circle class=a cx=198.1 cy=49.9 r=3.1 />
<circle class=t cx=196 cy=77.1 r=3.1 />
<circle class=T cx=204.2 cy=118.1 r=3.1 />
<circle class=P cx=296.3 cy=111.8 r=3.1 />
<circle class=P cx=292.4 cy=111.3 r=3.1 />
<circle class=S cx=211.8 cy=116.9 r=3.1 />
<circle class=V cx=275.5 cy=121.6 r=3.1 />
<circle class=U cx=188.6 cy=119.9 r=3.1 />
<circle class=S cx=229.2 cy=116.3 r=3.1 />
<circle class=S cx=220.8 cy=116.5 r=3.1 />
<circle class=V cx=169.4 cy=122 r=3.1 />
<circle class=o cx=194.7 cy=69.1 r=3.1 />
<circle class=U cx=193.1 cy=119.3 r=3.1 />
<circle class=b cx=206.6 cy=50.9 r=3.1 />
<circle class=T cx=196.2 cy=119 r=3.1 />
<circle class=T cx=207.3 cy=117.5 r=3.1 />
<circle class=S cx=213.4 cy=116.8 r=3.1 />
<circle class=U cx=177.2 cy=120.7 r=3.1 />
<circle class=U cx=190.9 cy=119.7 r=3.1 />
<circle class=T cx=286 cy=117.6 r=3.1 />
<circle class=f cx=194.7 cy=57.4 r=3.1 />
<circle class=S cx=227.1 cy=116.4 r=3.1 />
<circle class=k cx=169 cy=64.2 r=3.1 />
<circle class=U cx=171.6 cy=120.6 r=3.1 />
<circle class=F cx=227.1 cy=94.8 r=3.1 />
<circle class=T cx=211 cy=117.2 r=3.1 />
<circle class=r cx=180.6 cy=73.9 r=3.1 />
<circle class=S cx=225 cy=116.2 r=3.1 />
<circle class=S cx=232.6 cy=116.4 r=3.1 />
<circle class=S cx=223.6 cy=116.5 r=3.1 />
<circle class=k cx=204.1 cy=63.8 r=3.1 />
<circle class=U cx=248.8 cy=120.2 r=3.1 />
<circle class=T cx=209.2 cy=117.6 r=3.1 />
<circle class=L cx=344.1 cy=105.7 r=3.1 />
<circle class=T cx=205.8 cy=117.7 r=3.1 />
<circle class=S cx=219.9 cy=116.6 r=3.1 />
<circle class=d cx=202 cy=54.2 r=3.1 />
<circle class=S cx=215.7 cy=116.4 r=3.1 />
<circle class=T cx=208.2 cy=117.4 r=3.1 />
<circle class=W cx=264 cy=122.8 r=3.1 />
<circle class=g cx=205.3 cy=58.2 r=3.1 />
<circle class=a cx=198.7 cy=50.1 r=3.1 />
<circle class=p cx=208.5 cy=70.4 r=3.1 />
<circle class=h cx=203.3 cy=60.4 r=3.1 />
<circle class=V cx=148.6 cy=121.5 r=3.1 />
<circle class=g cx=199.8 cy=58.7 r=3.1 />
<circle class=I cx=224.8 cy=99.7 r=3.1 />
<circle class=S cx=219 cy=116.7 r=3.1 />
<circle class=S cx=216.4 cy=116.5 r=3.1 />
<circle class=S cx=217.3 cy=116.7 r=3.1 />
<circle class=T cx=203.4 cy=118.1 r=3.1 />
<circle class=r cx=212.3 cy=74.6 r=3.1 />
<circle class=U cx=181.2 cy=120.6 r=3.1 />
<circle class=S cx=210.1 cy=117.1 r=3.1 />
<circle class=S cx=218.1 cy=116.7 r=3.1 />
<circle class=W cx=266.7 cy=123.8 r=3.1 />
<circle class=T cx=197.2 cy=118.9 r=3.1 />
<circle class=S cx=214.1 cy=117 r=3.1 />
<circle class=T cx=239.2 cy=117.9 r=3.1 />
<circle class=d cx=195.6 cy=54 r=3.1 />
<circle class=S cx=212.5 cy=117.1 r=3.1 />
<circle class=U cx=185.1 cy=120.1 r=3.1 />
<circle class=S cx=230.4 cy=116.7 r=3.1 />
<circle class=b cx=198.2 cy=51 r=3.1 />
<circle class=T cx=202.6 cy=118.4 r=3.1 />
<circle class=U cx=194.2 cy=119.5 r=3.1 />
<circle class=T cx=198.1 cy=119.1 r=3.1 />
<circle class=S cx=233.9 cy=117 r=3.1 />
<circle class=a cx=195.7 cy=50.2 r=3.1 />
<circle class=p cx=195.8 cy=71.5 r=3.1 />
<circle class=p cx=197.4 cy=70.2 r=3.1 />
<circle class=h cx=219.1 cy=60.1 r=3.1 />
<circle class=V cx=175.7 cy=121.2 r=3.1 />
<circle class=r cx=225.5 cy=74.5 r=3.1 />
<circle class=b cx=191.6 cy=51.5 r=3.1 />
<circle class=d cx=193 cy=53.7 r=3.1 />
<circle class=T cx=205.1 cy=118.1 r=3.1 />
<circle class=l cx=198 cy=65.3 r=3.1 />
<circle class=T cx=206.8 cy=117.8 r=3.1 />
<circle class=T cx=201.8 cy=118.7 r=3.1 />
<circle class=U cx=250.5 cy=120.6 r=3.1 />
<circle class=d cx=193.2 cy=53.2 r=3.1 />
<circle class=S cx=222.6 cy=116.6 r=3.1 />
<circle class=f cx=203.5 cy=56.8 r=3.1 />
<circle class=d cx=195.5 cy=54.4 r=3.1 />
<circle class=T cx=199.1 cy=119 r=3.1 />
<circle class=V cx=159.9 cy=121.7 r=3.1 />
<circle class=b cx=184.9 cy=51.5 r=3.1 />
<circle class=V cx=252.7 cy=121.7 r=3.1 />
<circle class=k cx=193.5 cy=63.5 r=3.1 />
<circle class=b cx=185 cy=51.5 r=3.1 />
<circle class=g cx=198 cy=58.8 r=3.1 />
<circle class=g cx=199.1 cy=59 r=3.1 />
<circle class=z cx=218.5 cy=85.7 r=3.1 />
<circle class=S cx=211.6 cy=117.3 r=3.1 />
<circle class=U cx=162.5 cy=120.3 r=3.1 />
<circle class=M cx=219.5 cy=106.9 r=3.1 />
<circle class=e cx=202.3 cy=55.2 r=3.1 />
<circle class=U cx=192 cy=119.8 r=3.1 />
<circle class=T cx=200 cy=118.8 r=3.1 />
<circle class=S cx=214.8 cy=117 r=3.1 />
<circle class=S cx=228.2 cy=116.6 r=3.1 />
<circle class=T cx=200.9 cy=118.6 r=3.1 />
<circle class=T cx=207.7 cy=117.8 r=3.1 />
<circle class=P cx=298.1 cy=111 r=3.1 />
<circle class=U cx=187.5 cy=120 r=3.1 />
<circle class=f cx=199.9 cy=56.5 r=3.1 />
<circle class=S cx=226.1 cy=116.5 r=3.1 />
<circle class=p cx=205.8 cy=71.9 r=3.1 />
<circle class=V cx=146.6 cy=121.6 r=3.1 />
<circle class=U cx=195.2 cy=119.6 r=3.1 />
<circle class=U cx=189.8 cy=120 r=3.1 />
<circle class=U cx=183.7 cy=120.9 r=3.1 />
<circle class=T cx=210.6 cy=117.6 r=3.1 />
<circle class=b cx=181 cy=51.2 r=3.1 />
<circle class=a cx=183.6 cy=49.8 r=3.1 />
<circle class=T cx=204.4 cy=118.4 r=3.1 />
<circle class=d cx=194.9 cy=54.6 r=3.1 />
<circle class=N cx=233 cy=109.4 r=3.1 />
<circle class=S cx=213.1 cy=117.2 r=3.1 />
<circle class=p cx=186.6 cy=71.1 r=3.1 />
<circle class=T cx=208.7 cy=117.8 r=3.1 />
<circle class=S cx=224.6 cy=116.7 r=3.1 />
<circle class=S cx=221.7 cy=116.7 r=3.1 />
<circle class=D cx=202.3 cy=93 r=3.1 />
<circle class=T cx=206.1 cy=118.2 r=3.1 />
<circle class=i cx=211 cy=61.8 r=3.1 />
<circle class=S cx=231.7 cy=117.2 r=3.1 />
<circle class=d cx=198.8 cy=54.3 r=3.1 />
<circle class=V cx=168.3 cy=121.4 r=3.1 />
<circle class=S cx=235.2 cy=117.3 r=3.1 />
<circle class=c cx=205.5 cy=53 r=3.1 />
<circle class=T cx=209.6 cy=117.6 r=3.1 />
<circle class=V cx=174.1 cy=121.6 r=3.1 />
<circle class=b cx=192.7 cy=51.6 r=3.1 />
<circle class=S cx=215.6 cy=117.1 r=3.1 />
<circle class=U cx=179.9 cy=120.8 r=3.1 />
<circle class=c cx=192 cy=52.3 r=3.1 />
<circle class=b cx=204.9 cy=51.4 r=3.1 />
<circle class=e cx=205.6 cy=55.7 r=3.1 />
<circle class=T cx=240.5 cy=117.8 r=3.1 />
<circle class=a cx=195.1 cy=50.1 r=3.1 />
<circle class=s cx=188.1 cy=75.9 r=3.1 />
<circle class=g cx=206.3 cy=58 r=3.1 />
<circle class=T cx=242.3 cy=118.9 r=3.1 />
<circle class=U cx=193 cy=120.2 r=3.1 />
<circle class=S cx=220.8 cy=116.9 r=3.1 />
<circle class=S cx=216.4 cy=117.2 r=3.1 />
<circle class=c cx=207.2 cy=52.8 r=3.1 />
<circle class=W cx=140.5 cy=123.5 r=3.1 />
<circle class=b cx=201.6 cy=52 r=3.1 />
<circle class=h cx=207.9 cy=59.4 r=3.1 />
<circle class=T cx=203.6 cy=118.6 r=3.1 />
<circle class=K cx=347.8 cy=104.6 r=3.1 />
<circle class=S cx=217.2 cy=117.3 r=3.1 />
<circle class=T cx=196.2 cy=119.6 r=3.1 />
<circle class=S cx=213.9 cy=117.5 r=3.1 />
<circle class=S cx=212.2 cy=117.5 r=3.1 />
<circle class=U cx=276.2 cy=120.3 r=3.1 />
<circle class=z cx=224 cy=85.6 r=3.1 />
<circle class=V cx=182.2 cy=121.8 r=3.1 />
<circle class=T cx=207.1 cy=118.3 r=3.1 />
<circle class=b cx=197 cy=51.7 r=3.1 />
<circle class=z cx=187.6 cy=85.4 r=3.1 />
<circle class=f cx=202 cy=57.5 r=3.1 />
<circle class=b cx=182.8 cy=51 r=3.1 />
<circle class=i cx=222.8 cy=61.6 r=3.1 />
<circle class=S cx=219.8 cy=117 r=3.1 />
<circle class=T cx=205.4 cy=118.6 r=3.1 />
<circle class=S cx=218.1 cy=117.2 r=3.1 />
<circle class=V cx=144.3 cy=121.8 r=3.1 />
<circle class=S cx=229.3 cy=117 r=3.1 />
<circle class=V cx=178.3 cy=121.6 r=3.1 />
<circle class=T cx=244 cy=119.7 r=3.1 />
<circle class=T cx=202.8 cy=118.9 r=3.1 />
<circle class=W cx=267.9 cy=123.1 r=3.1 />
<circle class=V cx=166.5 cy=121.9 r=3.1 />
<circle class=T cx=236.6 cy=117.8 r=3.1 />
<circle class=S cx=223.6 cy=116.9 r=3.1 />
<circle class=U cx=198.2 cy=120 r=3.1 />
<circle class=S cx=227.2 cy=117 r=3.1 />
<circle class=S cx=218.9 cy=117 r=3.1 />
<circle class=U cx=188.6 cy=120.7 r=3.1 />
<circle class=k2 cx=114.6 cy=133.1 r=3.1 />
<circle class=R cx=286.5 cy=115.9 r=3.1 />
<circle class=T cx=211.2 cy=117.8 r=3.1 />
<circle class=c cx=208.5 cy=53.3 r=3.1 />
<circle class=a cx=181.8 cy=50.7 r=3.1 />
<circle class=T cx=197.2 cy=119.6 r=3.1 />
<circle class=V cx=256.5 cy=122.8 r=3.1 />
<circle class=U cx=254 cy=121.4 r=3.1 />
<circle class=U cx=190.9 cy=120.3 r=3.1 />
<circle class=e cx=202.9 cy=55.3 r=3.1 />
<circle class=U cx=158.6 cy=121.3 r=3.1 />
<circle class=b cx=199.8 cy=51.5 r=3.1 />
<circle class=U cx=186.3 cy=120.3 r=3.1 />
<circle class=c cx=197.8 cy=52.8 r=3.1 />
<circle class=T cx=208.1 cy=118.2 r=3.1 />
<circle class=T cx=202 cy=119.2 r=3.1 />
<circle class=b cx=183.1 cy=52.4 r=3.1 />
<circle class=U cx=279 cy=120.8 r=3.1 />
<circle class=S cx=214.6 cy=117.5 r=3.1 />
<circle class=T cx=209.2 cy=118.1 r=3.1 />
<circle class=S cx=232.8 cy=117.3 r=3.1 />
<circle class=Q cx=216.2 cy=113.1 r=3.1 />
<circle class=S cx=225.7 cy=117.2 r=3.1 />
<circle class=T cx=210.2 cy=117.9 r=3.1 />
<circle class=e cx=203.8 cy=56.1 r=3.1 />
<circle class=T cx=199.2 cy=119.6 r=3.1 />
<circle class=V cx=172.7 cy=121.8 r=3.1 />
<circle class=X cx=134.2 cy=125.3 r=3.1 />
<circle class=T cx=201.1 cy=119.2 r=3.1 />
<circle class=U cx=245.8 cy=120.4 r=3.1 />
<circle class=a cx=184.1 cy=50.2 r=3.1 />
<circle class=T cx=200.2 cy=119.4 r=3.1 />
<circle class=T cx=238.1 cy=118.5 r=3.1 />
<circle class=U cx=194.2 cy=120 r=3.1 />
<circle class=S cx=212.9 cy=117.6 r=3.1 />
<circle class=r cx=191 cy=75.3 r=3.1 />
<circle class=T cx=204.7 cy=118.7 r=3.1 />
<circle class=b cx=201.9 cy=52.3 r=3.1 />
<circle class=k2 cx=109.8 cy=134.5 r=3.1 />
<circle class=W cx=270.2 cy=123.6 r=3.1 />
<circle class=V cx=156.4 cy=121.9 r=3.1 />
<circle class=N cx=299.5 cy=109.9 r=3.1 />
<circle class=T cx=206.5 cy=118.4 r=3.1 />
<circle class=S cx=222.6 cy=116.9 r=3.1 />
<circle class=U cx=184.8 cy=121.4 r=3.1 />
<circle class=W cx=258.6 cy=123.4 r=3.1 />
<circle class=A cx=222.8 cy=86.7 r=3.1 />
<circle class=V cx=176.8 cy=122.1 r=3.1 />
<circle class=T cx=211.9 cy=118.1 r=3.1 />
<circle class=k0 cx=121.3 cy=129.9 r=3.1 />
<circle class=S cx=215.4 cy=117.5 r=3.1 />
<circle class=c cx=204.5 cy=53.4 r=3.1 />
<circle class=V cx=180.9 cy=122 r=3.1 />
<circle class=n cx=209.2 cy=68.6 r=3.1 />
<circle class=k cx=222.3 cy=64.8 r=3.1 />
<circle class=b cx=207.6 cy=51.6 r=3.1 />
<circle class=U cx=195.2 cy=120.2 r=3.1 />
<circle class=h cx=193.2 cy=59.8 r=3.1 />
<circle class=k3 cx=104.3 cy=136.2 r=3.1 />
<circle class=T cx=207.6 cy=118.5 r=3.1 />
<circle class=S cx=213.6 cy=117.9 r=3.1 />
<circle class=S cx=230.4 cy=117.1 r=3.1 />
<circle class=V cx=165.1 cy=121.8 r=3.1 />
<circle class=T cx=203.9 cy=119 r=3.1 />
<circle class=S cx=221.6 cy=117.1 r=3.1 />
<circle class=Y cx=126.6 cy=127.6 r=3.1 />
<circle class=U cx=189.7 cy=121.1 r=3.1 />
<circle class=f cx=204.9 cy=56.8 r=3.1 />
<circle class=U cx=192 cy=120.4 r=3.1 />
<circle class=U cx=187.3 cy=121.2 r=3.1 />
<circle class=T cx=210.8 cy=118.3 r=3.1 />
<circle class=S cx=216.2 cy=117.6 r=3.1 />
<circle class=T cx=208.6 cy=118.7 r=3.1 />
<circle class=k0 cx=23 cy=130.9 r=3.1 />
<circle class=S cx=224.6 cy=117.4 r=3.1 />
<circle class=P cx=313.1 cy=111.5 r=3.1 />
<circle class=t cx=224.6 cy=78 r=3.1 />
<circle class=U cx=281.2 cy=120.8 r=3.1 />
<circle class=O cx=307.9 cy=110.7 r=3.1 />
<circle class=b cx=196.8 cy=51.7 r=3.1 />
<circle class=S cx=220.7 cy=117.5 r=3.1 />
<circle class=j cx=192.7 cy=62.7 r=3.1 />
<circle class=S cx=234.1 cy=117.7 r=3.1 />
<circle class=T cx=239.6 cy=119.1 r=3.1 />
<circle class=b cx=192.7 cy=51.5 r=3.1 />
<circle class=T cx=203.1 cy=119.6 r=3.1 />
<circle class=V cx=139.2 cy=122.7 r=3.1 />
<circle class=V cx=171.1 cy=122.2 r=3.1 />
<circle class=U cx=247.4 cy=120.8 r=3.1 />
<circle class=T cx=205.8 cy=118.9 r=3.1 />
<circle class=R cx=288.3 cy=115.4 r=3.1 />
<circle class=S cx=228.2 cy=117.1 r=3.1 />
<circle class=V cx=249.6 cy=122.2 r=3.1 />
<circle class=T cx=209.7 cy=118.4 r=3.1 />
<circle class=V cx=154.3 cy=122.3 r=3.1 />
<circle class=S cx=218.9 cy=117.8 r=3.1 />
<circle class=S cx=217.1 cy=117.6 r=3.1 />
<circle class=k cx=221.8 cy=64.3 r=3.1 />
<circle class=W cx=260.7 cy=123.9 r=3.1 />
<circle class=v cx=206.6 cy=79.7 r=3.1 />
<circle class=V cx=183.4 cy=122.3 r=3.1 />
<circle class=S cx=218 cy=117.7 r=3.1 />
<circle class=U cx=196.3 cy=120.2 r=3.1 />
<circle class=S cx=219.8 cy=117.5 r=3.1 />
<circle class=b cx=199 cy=52 r=3.1 />
<circle class=S cx=226.7 cy=117.5 r=3.1 />
<circle class=S cx=214.4 cy=118.1 r=3.1 />
<circle class=w cx=211 cy=82.7 r=3.1 />
<circle class=N cx=302.3 cy=109.6 r=3.1 />
<circle class=T cx=212.6 cy=118.4 r=3.1 />
<circle class=p cx=205.1 cy=71.1 r=3.1 />
<circle class=W cx=131.8 cy=125.2 r=3.1 />
<circle class=c cx=203.4 cy=53 r=3.1 />
<circle class=S cx=223.7 cy=117.8 r=3.1 />
<circle class=j cx=190.6 cy=64.1 r=3.1 />
<circle class=a cx=196.3 cy=50.5 r=3.1 />
<circle class=U cx=193.1 cy=120.8 r=3.1 />
<circle class=U cx=197.3 cy=120.3 r=3.1 />
<circle class=R cx=291.6 cy=115.8 r=3.1 />
<circle class=T cx=202.2 cy=119.6 r=3.1 />
<circle class=a cx=181.4 cy=51.2 r=3.1 />
<circle class=W cx=263.2 cy=125 r=3.1 />
<circle class=S cx=231.7 cy=117.8 r=3.1 />
<circle class=T cx=235.5 cy=118.4 r=3.1 />
<circle class=k6 cx=49 cy=141 r=3.1 />
<circle class=T cx=205 cy=119.3 r=3.1 />
<circle class=V cx=179.5 cy=122.5 r=3.1 />
<circle class=V cx=175.4 cy=122.3 r=3.1 />
<circle class=T cx=206.9 cy=118.8 r=3.1 />
<circle class=b cx=197.7 cy=51.7 r=3.1 />
<circle class=e cx=208 cy=56.1 r=3.1 />
<circle class=o cx=204.4 cy=70.5 r=3.1 />
<circle class=s cx=211.9 cy=77.2 r=3.1 />
<circle class=k4 cx=99.5 cy=137.3 r=3.1 />
<circle class=T cx=201.3 cy=119.8 r=3.1 />
<circle class=c cx=204.9 cy=53.7 r=3.1 />
<circle class=T cx=241 cy=119.5 r=3.1 />
<circle class=e cx=205.9 cy=56.3 r=3.1 />
<circle class=b cx=207.5 cy=52.7 r=3.1 />
<circle class=T cx=200.3 cy=120 r=3.1 />
<circle class=T cx=211.4 cy=118.5 r=3.1 />
<circle class=o cx=205.8 cy=70.5 r=3.1 />
<circle class=P cx=228.6 cy=112.2 r=3.1 />
<circle class=c cx=199.7 cy=53.3 r=3.1 />
<circle class=U cx=186 cy=121.9 r=3.1 />
<circle class=T cx=208 cy=119 r=3.1 />
<circle class=T cx=199.4 cy=120.1 r=3.1 />
<circle class=T cx=198.4 cy=120 r=3.1 />
<circle class=U cx=194.2 cy=121.2 r=3.1 />
<circle class=A cx=190.8 cy=87.6 r=3.1 />
<circle class=S cx=229.4 cy=117.8 r=3.1 />
<circle class=V cx=169.5 cy=122.5 r=3.1 />
<circle class=U cx=163.6 cy=121.8 r=3.1 />
<circle class=d cx=206.4 cy=54.8 r=3.1 />
<circle class=V cx=251.2 cy=122.5 r=3.1 />
<circle class=S cx=215.2 cy=117.9 r=3.1 />
<circle class=V cx=271.4 cy=122.7 r=3.1 />
<circle class=T cx=209.2 cy=118.9 r=3.1 />
<circle class=T cx=204.2 cy=119.7 r=3.1 />
<circle class=U cx=190.9 cy=121 r=3.1 />
<circle class=a cx=180.8 cy=50.9 r=3.1 />
<circle class=S cx=222.6 cy=117.8 r=3.1 />
<circle class=f cx=203.1 cy=57.7 r=3.1 />
<circle class=O cx=316.1 cy=111 r=3.1 />
<circle class=U cx=188.5 cy=121.5 r=3.1 />
<circle class=S cx=213.3 cy=118.4 r=3.1 />
<circle class=P cx=328.8 cy=112.8 r=3.1 />
<circle class=T cx=210.3 cy=118.6 r=3.1 />
<circle class=S cx=216 cy=118.3 r=3.1 />
<circle class=T cx=206.2 cy=119.5 r=3.1 />
<circle class=s cx=208.8 cy=77 r=3.1 />
<circle class=b cx=199.7 cy=52.1 r=3.1 />
<circle class=d cx=196.5 cy=54.3 r=3.1 />
<circle class=g cx=208 cy=58.9 r=3.1 />
<circle class=F cx=193.3 cy=96.2 r=3.1 />
<circle class=U cx=152.7 cy=122.1 r=3.1 />
<circle class=O cx=321.8 cy=111.7 r=3.1 />
<circle class=s cx=181.6 cy=76.2 r=3.1 />
<circle class=V cx=173.7 cy=123.2 r=3.1 />
<circle class=T cx=236.9 cy=118.9 r=3.1 />
<circle class=n cx=210.8 cy=69.4 r=3.1 />
<circle class=S cx=225.6 cy=117.4 r=3.1 />
<circle class=d cx=205.4 cy=55.5 r=3.1 />
<circle class=V cx=167.5 cy=123.5 r=3.1 />
<circle class=S cx=221.6 cy=117.9 r=3.1 />
<circle class=a cx=191.5 cy=51.2 r=3.1 />
<circle class=d cx=191.3 cy=55 r=3.1 />
<circle class=c cx=189.9 cy=53.4 r=3.1 />
<circle class=V cx=253.3 cy=123.4 r=3.1 />
<circle class=k cx=222.1 cy=64.6 r=3.1 />
<circle class=c cx=197.6 cy=53.6 r=3.1 />
<circle class=S cx=227.8 cy=117.8 r=3.1 />
<circle class=t cx=196.7 cy=78 r=3.1 />
<circle class=V cx=161.6 cy=122.4 r=3.1 />
<circle class=S cx=216.9 cy=118.2 r=3.1 />
<circle class=T cx=212.2 cy=118.8 r=3.1 />
<circle class=T cx=203.4 cy=119.9 r=3.1 />
<circle class=u cx=207.8 cy=79 r=3.1 />
<circle class=W cx=265.1 cy=125.1 r=3.1 />
<circle class=V cx=182.2 cy=122.3 r=3.1 />
<circle class=T cx=242.5 cy=119.9 r=3.1 />
<circle class=k4 cx=94 cy=138.7 r=3.1 />
<circle class=U cx=192 cy=121.6 r=3.1 />
<circle class=S cx=232.9 cy=118 r=3.1 />
<circle class=V cx=178.1 cy=122.9 r=3.1 />
<circle class=V cx=150.1 cy=123.1 r=3.1 />
<circle class=T cx=214.1 cy=118.6 r=3.1 />
<circle class=S cx=218.8 cy=118.4 r=3.1 />
<circle class=U cx=195.4 cy=120.8 r=3.1 />
<circle class=g cx=209.2 cy=59.4 r=3.1 />
<circle class=T cx=207.4 cy=119.3 r=3.1 />
<circle class=S cx=220.6 cy=117.9 r=3.1 />
<circle class=u cx=189.6 cy=79.4 r=3.1 />
<circle class=J cx=209.3 cy=103.3 r=3.1 />
<circle class=S cx=217.8 cy=118.1 r=3.1 />
<circle class=H cx=222 cy=100.1 r=3.1 />
<circle class=b cx=199.4 cy=52.8 r=3.1 />
<circle class=U cx=196.4 cy=121.1 r=3.1 />
<circle class=U cx=201.5 cy=120.7 r=3.1 />
<circle class=S cx=219.6 cy=117.9 r=3.1 />
<circle class=T cx=205.4 cy=119.6 r=3.1 />
<circle class=T cx=211 cy=118.9 r=3.1 />
<circle class=T cx=202.5 cy=120.1 r=3.1 />
<circle class=n cx=201.1 cy=70 r=3.1 />
<circle class=S cx=230.6 cy=118.1 r=3.1 />
<circle class=S cx=224.6 cy=117.7 r=3.1 />
<circle class=T cx=208.6 cy=119.3 r=3.1 />
<circle class=U cx=189.7 cy=121.9 r=3.1 />
<circle class=U cx=244.3 cy=120.8 r=3.1 />
<circle class=a cx=199.3 cy=51.1 r=3.1 />
<circle class=a cx=192 cy=51.5 r=3.1 />
<circle class=T cx=209.8 cy=119.1 r=3.1 />
<circle class=V cx=159.4 cy=123.3 r=3.1 />
<circle class=J cx=220.6 cy=102.4 r=3.1 />
<circle class=W cx=255.3 cy=124.2 r=3.1 />
<circle class=g cx=199.9 cy=59.1 r=3.1 />
<circle class=U cx=184.9 cy=122.1 r=3.1 />
<circle class=V cx=273.3 cy=122.6 r=3.1 />
<circle class=T cx=212.9 cy=119.2 r=3.1 />
<circle class=C cx=215.3 cy=92.3 r=3.1 />
<circle class=q cx=210.6 cy=74.2 r=3.1 />
<circle class=i cx=197.1 cy=62.3 r=3.1 />
<circle class=b cx=197.9 cy=52.6 r=3.1 />
<circle class=u cx=204.7 cy=80.1 r=3.1 />
<circle class=D cx=199.7 cy=93.8 r=3.1 />
<circle class=S cx=214.9 cy=118.6 r=3.1 />
<circle class=U cx=197.5 cy=120.9 r=3.1 />
<circle class=S cx=226.7 cy=118.3 r=3.1 />
<circle class=T cx=234.3 cy=118.8 r=3.1 />
<circle class=T cx=238.2 cy=119.3 r=3.1 />
<circle class=U cx=198.6 cy=120.9 r=3.1 />
<circle class=d cx=204.2 cy=55.6 r=3.1 />
<circle class=T cx=200.6 cy=120.5 r=3.1 />
<circle class=T cx=204.6 cy=120.2 r=3.1 />
<circle class=U cx=193.2 cy=121.6 r=3.1 />
<circle class=r cx=176.1 cy=75.4 r=3.1 />
<circle class=g cx=202.6 cy=60.2 r=3.1 />
<circle class=j cx=224 cy=63.6 r=3.1 />
<circle class=s cx=195.6 cy=76.5 r=3.1 />
<circle class=U cx=187.4 cy=121.8 r=3.1 />
<circle class=V cx=147.8 cy=123.4 r=3.1 />
<circle class=h cx=203.2 cy=60.6 r=3.1 />
<circle class=n cx=203.4 cy=69.5 r=3.1 />
<circle class=T cx=206.7 cy=119.7 r=3.1 />
<circle class=a cx=199.8 cy=52 r=3.1 />
<circle class=V cx=172.4 cy=123.1 r=3.1 />
<circle class=k cx=167 cy=64.8 r=3.1 />
<circle class=s cx=191.7 cy=77 r=3.1 />
<circle class=w cx=221.5 cy=82.4 r=3.1 />
<circle class=T cx=199.6 cy=120.5 r=3.1 />
<circle class=k6 cx=42.8 cy=141 r=3.1 />
<circle class=S cx=223.5 cy=117.9 r=3.1 />
<circle class=c cx=198.3 cy=53.8 r=3.1 />
<circle class=V cx=166.1 cy=123.4 r=3.1 />
<circle class=d cx=191.7 cy=54.8 r=3.1 />
<circle class=S cx=215.7 cy=118.7 r=3.1 />
<circle class=O cx=331.9 cy=112 r=3.1 />
<circle class=b cx=182.5 cy=52.4 r=3.1 />
<circle class=a cx=196.7 cy=52 r=3.1 />
<circle class=e cx=206 cy=57 r=3.1 />
<circle class=o cx=215.1 cy=70.5 r=3.1 />
<circle class=Q cx=291.8 cy=114 r=3.1 />
<circle class=S cx=280.6 cy=118.2 r=3.1 />
<circle class=U cx=246 cy=121.6 r=3.1 />
<circle class=V cx=180.9 cy=122.7 r=3.1 />
<circle class=S cx=228.8 cy=118 r=3.1 />
<circle class=K cx=201.7 cy=105.3 r=3.1 />
<circle class=U cx=194.3 cy=121.9 r=3.1 />
<circle class=T cx=216.7 cy=119 r=3.1 />
<circle class=T cx=211.7 cy=119.1 r=3.1 />
<circle class=u cx=184.6 cy=80.3 r=3.1 />
<circle class=b cx=207.1 cy=53.4 r=3.1 />
<circle class=k5 cx=89 cy=139.5 r=3.1 />
<circle class=W cx=266.7 cy=124.9 r=3.1 />
<circle class=b cx=203 cy=53.4 r=3.1 />
<circle class=T cx=203.8 cy=120.5 r=3.1 />
<circle class=T cx=239.8 cy=120.1 r=3.1 />
<circle class=d cx=199.2 cy=55.8 r=3.1 />
<circle class=T cx=207.9 cy=119.6 r=3.1 />
<circle class=d cx=199.9 cy=54.6 r=3.1 />
<circle class=d cx=205.3 cy=54.7 r=3.1 />
<circle class=V cx=176.8 cy=122.9 r=3.1 />
<circle class=U cx=190.9 cy=122.1 r=3.1 />
<circle class=T cx=210.5 cy=119.5 r=3.1 />
<circle class=T cx=209.2 cy=119.6 r=3.1 />
<circle class=S cx=222.5 cy=118.1 r=3.1 />
<circle class=S cx=213.7 cy=118.9 r=3.1 />
<circle class=b cx=195.7 cy=53.4 r=3.1 />
<circle class=d cx=205.2 cy=56 r=3.1 />
<circle class=p cx=227.8 cy=71.8 r=3.1 />
<circle class=d cx=194.8 cy=55 r=3.1 />
<circle class=S cx=225.6 cy=118.4 r=3.1 />
<circle class=S cx=231.7 cy=118.3 r=3.1 />
<circle class=b cx=208.2 cy=52.3 r=3.1 />
<circle class=S cx=221.5 cy=118.5 r=3.1 />
<circle class=U cx=188.5 cy=122.6 r=3.1 />
<circle class=V cx=170.5 cy=124.1 r=3.1 />
<circle class=T cx=235.6 cy=119.4 r=3.1 />
<circle class=V cx=157.7 cy=123.3 r=3.1 />
<circle class=T cx=205.9 cy=120.1 r=3.1 />
<circle class=V cx=257 cy=124.3 r=3.1 />
<circle class=V cx=183.6 cy=122.7 r=3.1 />
<circle class=V cx=145.4 cy=123.9 r=3.1 />
<circle class=S cx=220.5 cy=118.7 r=3.1 />
<circle class=T cx=202.9 cy=120.8 r=3.1 />
<circle class=d cx=204.3 cy=54.9 r=3.1 />
<circle class=S cx=217.6 cy=118.7 r=3.1 />
<circle class=e cx=204.5 cy=56.1 r=3.1 />
<circle class=N cx=215.6 cy=109.2 r=3.1 />
<circle class=U cx=195.5 cy=121.8 r=3.1 />
<circle class=N cx=227.7 cy=110.3 r=3.1 />
<circle class=b cx=204.1 cy=53.2 r=3.1 />
<circle class=S cx=218.5 cy=118.8 r=3.1 />
<circle class=U cx=275.1 cy=122.3 r=3.1 />
<circle class=w cx=224.6 cy=82.8 r=3.1 />
<circle class=b cx=205.3 cy=53.2 r=3.1 />
<circle class=S cx=219.5 cy=118.7 r=3.1 />
<circle class=c cx=195.4 cy=53.6 r=3.1 />
<circle class=P cx=294.8 cy=114.1 r=3.1 />
<circle class=q cx=176.5 cy=73.8 r=3.1 />
<circle class=o cx=181.6 cy=70.7 r=3.1 />
<circle class=a cx=181.8 cy=51.7 r=3.1 />
<circle class=b cx=199.4 cy=52.9 r=3.1 />
<circle class=U cx=186.1 cy=122.5 r=3.1 />
<circle class=p cx=213.8 cy=71.9 r=3.1 />
<circle class=s cx=208.5 cy=77.9 r=3.1 />
<circle class=S cx=230.1 cy=118.9 r=3.1 />
<circle class=T cx=212.5 cy=119.4 r=3.1 />
<circle class=V cx=179.4 cy=123.5 r=3.1 />
<circle class=Y cx=22 cy=127.9 r=3.1 />
<circle class=g cx=195.5 cy=60 r=3.1 />
<circle class=U cx=247.6 cy=122.1 r=3.1 />
<circle class=b cx=192.3 cy=52.9 r=3.1 />
<circle class=K cx=223.8 cy=104.5 r=3.1 />
<circle class=U cx=196.6 cy=121.8 r=3.1 />
<circle class=F cx=233 cy=96.8 r=3.1 />
<circle class=S cx=227.7 cy=118.4 r=3.1 />
<circle class=V cx=155.3 cy=124.3 r=3.1 />
<circle class=i cx=212.8 cy=63.6 r=3.1 />
<circle class=S cx=214.5 cy=118.9 r=3.1 />
<circle class=U cx=200.9 cy=121.4 r=3.1 />
<circle class=i cx=201.8 cy=63.6 r=3.1 />
<circle class=T cx=207.2 cy=120 r=3.1 />
<circle class=T cx=201.9 cy=120.7 r=3.1 />
<circle class=T cx=233.1 cy=119.3 r=3.1 />
<circle class=U cx=197.7 cy=121.8 r=3.1 />
<circle class=V cx=164.7 cy=123.4 r=3.1 />
<circle class=W cx=259.2 cy=125.3 r=3.1 />
<circle class=T cx=241.2 cy=120.6 r=3.1 />
<circle class=W cx=142.6 cy=124.8 r=3.1 />
<circle class=U cx=192.2 cy=122 r=3.1 />
<circle class=b cx=196.7 cy=53.1 r=3.1 />
<circle class=V cx=175.3 cy=123.5 r=3.1 />
<circle class=S cx=224.5 cy=118.5 r=3.1 />
<circle class=T cx=205.1 cy=120.4 r=3.1 />
<circle class=k cx=220.6 cy=66 r=3.1 />
<circle class=U cx=199.9 cy=121.5 r=3.1 />
<circle class=o cx=221.1 cy=71.3 r=3.1 />
<circle class=b cx=199.5 cy=53 r=3.1 />
<circle class=T cx=211.2 cy=119.6 r=3.1 />
<circle class=U cx=198.8 cy=121.5 r=3.1 />
<circle class=S cx=282.3 cy=117.7 r=3.1 />
<circle class=T cx=208.5 cy=120 r=3.1 />
<circle class=f cx=199.2 cy=57.8 r=3.1 />
<circle class=T cx=215.4 cy=119.3 r=3.1 />
<circle class=V cx=249.7 cy=123.2 r=3.1 />
<circle class=T cx=209.9 cy=119.8 r=3.1 />
<circle class=h cx=204.1 cy=61.2 r=3.1 />
<circle class=U cx=193.3 cy=122.7 r=3.1 />
<circle class=b cx=197.6 cy=53.5 r=3.1 />
<circle class=a cx=181.5 cy=51.9 r=3.1 />
<circle class=N cx=335.2 cy=111.1 r=3.1 />
<circle class=U cx=189.8 cy=122.7 r=3.1 />
<circle class=T cx=236.9 cy=119.6 r=3.1 />
<circle class=H cx=211.3 cy=100.3 r=3.1 />
<circle class=T cx=204.2 cy=120.9 r=3.1 />
<circle class=G cx=223.1 cy=99.1 r=3.1 />
<circle class=V cx=182.2 cy=123.3 r=3.1 />
<circle class=S cx=223.4 cy=118.7 r=3.1 />
<circle class=f cx=193.7 cy=59 r=3.1 />
<circle class=f cx=200.6 cy=59.5 r=3.1 />
<circle class=b cx=203.3 cy=52.6 r=3.1 />
<circle class=S cx=213.2 cy=119.3 r=3.1 />
<circle class=T cx=206.5 cy=120.5 r=3.1 />
<circle class=b cx=206.9 cy=53.7 r=3.1 />
<circle class=V cx=187.3 cy=123.1 r=3.1 />
<circle class=S cx=216.3 cy=119.2 r=3.1 />
<circle class=U cx=277 cy=122.2 r=3.1 />
<circle class=a cx=198.8 cy=52.2 r=3.1 />
<circle class=V cx=267.8 cy=124.1 r=3.1 />
<circle class=S cx=226.6 cy=118.6 r=3.1 />
<circle class=T cx=212 cy=120.1 r=3.1 />
<circle class=V cx=184.9 cy=123.2 r=3.1 />
<circle class=V cx=162.7 cy=124 r=3.1 />
<circle class=V cx=173.5 cy=124.5 r=3.1 />
<circle class=V cx=169.3 cy=123.8 r=3.1 />
<circle class=W cx=139.9 cy=125.4 r=3.1 />
<circle class=e cx=207.4 cy=57.8 r=3.1 />
<circle class=c cx=208.8 cy=54.6 r=3.1 />
<circle class=S cx=231.2 cy=119.3 r=3.1 />
<circle class=W cx=261.3 cy=125.8 r=3.1 />
<circle class=S cx=217.3 cy=119.4 r=3.1 />
<circle class=t cx=200.3 cy=78.4 r=3.1 />
<circle class=a cx=193.9 cy=52.4 r=3.1 />
<circle class=T cx=242.7 cy=121.1 r=3.1 />
<circle class=T cx=207.8 cy=120.6 r=3.1 />
<circle class=S cx=228.8 cy=119 r=3.1 />
<circle class=V cx=178.1 cy=123.8 r=3.1 />
<circle class=T cx=214.1 cy=119.8 r=3.1 />
<circle class=f cx=196.2 cy=59.7 r=3.1 />
<circle class=e cx=199.4 cy=56.7 r=3.1 />
<circle class=U cx=244.9 cy=122.9 r=3.1 />
<circle class=T cx=234.4 cy=119.8 r=3.1 />
<circle class=S cx=222.3 cy=118.7 r=3.1 />
<circle class=U cx=194.6 cy=122.4 r=3.1 />
<circle class=K cx=212.8 cy=105.4 r=3.1 />
<circle class=T cx=203.3 cy=121 r=3.1 />
<circle class=d cx=206.5 cy=55.1 r=3.1 />
<circle class=S cx=221.3 cy=119.1 r=3.1 />
<circle class=S cx=220.3 cy=119.2 r=3.1 />
<circle class=T cx=209.2 cy=120.4 r=3.1 />
<circle class=T cx=210.6 cy=120.1 r=3.1 />
<circle class=k4 cx=86.3 cy=138.6 r=3.1 />
<circle class=S cx=218.2 cy=119.2 r=3.1 />
<circle class=G cx=194.8 cy=100 r=3.1 />
<circle class=P cx=296.2 cy=113 r=3.1 />
<circle class=S cx=219.2 cy=119.2 r=3.1 />
<circle class=x cx=223 cy=85 r=3.1 />
<circle class=R cx=284.4 cy=117.4 r=3.1 />
<circle class=o cx=203.1 cy=71.1 r=3.1 />
<circle class=h cx=225.5 cy=61.7 r=3.1 />
<circle class=o cx=182 cy=71.6 r=3.1 />
<circle class=c cx=199.6 cy=54.8 r=3.1 />
<circle class=k5 cx=38.1 cy=140.1 r=3.1 />
<circle class=c cx=198.8 cy=54.8 r=3.1 />
<circle class=T cx=205.6 cy=120.8 r=3.1 />
<circle class=W cx=270.5 cy=125 r=3.1 />
<circle class=S cx=225.5 cy=119 r=3.1 />
<circle class=l cx=228.8 cy=67 r=3.1 />
<circle class=T cx=202.4 cy=121.4 r=3.1 />
<circle class=U cx=191.1 cy=122.7 r=3.1 />
<circle class=G cx=197.6 cy=99.4 r=3.1 />
<circle class=V cx=251.1 cy=123.3 r=3.1 />
<circle class=W cx=167.3 cy=124.9 r=3.1 />
<circle class=p cx=227.3 cy=73.1 r=3.1 />
<circle class=y cx=186.3 cy=87 r=3.1 />
<circle class=C cx=230.6 cy=93.3 r=3.1 />
<circle class=V cx=180.8 cy=124.1 r=3.1 />
<circle class=f cx=208 cy=59.4 r=3.1 />
<circle class=V cx=188.6 cy=123.7 r=3.1 />
<circle class=U cx=195.8 cy=122.2 r=3.1 />
<circle class=U cx=279.6 cy=122.6 r=3.1 />
<circle class=T cx=238.1 cy=119.9 r=3.1 />
<circle class=U cx=196.9 cy=122.5 r=3.1 />
<circle class=W cx=137 cy=126.1 r=3.1 />
<circle class=T cx=215 cy=119.8 r=3.1 />
<circle class=d cx=200.9 cy=56.6 r=3.1 />
<circle class=r cx=198.4 cy=76.8 r=3.1 />
<circle class=T cx=212.8 cy=120.1 r=3.1 />
<circle class=d cx=198.7 cy=56.5 r=3.1 />
<circle class=c cx=194.4 cy=55.1 r=3.1 />
<circle class=U cx=200.3 cy=122.1 r=3.1 />
<circle class=C cx=201.6 cy=93.1 r=3.1 />
<circle class=T cx=201.4 cy=121.5 r=3.1 />
<circle class=g cx=210.6 cy=60.1 r=3.1 />
<circle class=U cx=154.5 cy=123.1 r=3.1 />
<circle class=T cx=207.1 cy=121 r=3.1 />
<circle class=j cx=185.4 cy=65.5 r=3.1 />
<circle class=U cx=199.2 cy=122.2 r=3.1 />
<circle class=N cx=224.8 cy=110.9 r=3.1 />
<circle class=S cx=224.4 cy=119.3 r=3.1 />
<circle class=S cx=227.7 cy=119.3 r=3.1 />
<circle class=q cx=185.4 cy=74.3 r=3.1 />
<circle class=d cx=199.4 cy=56 r=3.1 />
<circle class=T cx=204.7 cy=121.3 r=3.1 />
<circle class=V cx=183.5 cy=124 r=3.1 />
<circle class=g cx=205.6 cy=60.6 r=3.1 />
<circle class=U cx=192.3 cy=123.2 r=3.1 />
<circle class=V cx=161.1 cy=124.2 r=3.1 />
<circle class=k cx=218.2 cy=65.6 r=3.1 />
<circle class=k8 cx=67.5 cy=145.2 r=3.1 />
<circle class=V cx=176.6 cy=124.4 r=3.1 />
<circle class=N cx=338.5 cy=110.2 r=3.1 />
<circle class=k5 cx=79 cy=140.7 r=3.1 />
<circle class=V cx=253.2 cy=124.3 r=3.1 />
<circle class=T cx=211.4 cy=120.4 r=3.1 />
<circle class=U cx=198.1 cy=121.9 r=3.1 />
<circle class=V cx=186.2 cy=123.5 r=3.1 />
<circle class=S cx=230 cy=119.6 r=3.1 />
<circle class=V cx=151.6 cy=124.5 r=3.1 />
<circle class=X cx=133.4 cy=127.4 r=3.1 />
<circle class=Q cx=225.1 cy=115.2 r=3.1 />
<circle class=S cx=215.9 cy=119.8 r=3.1 />
<circle class=T cx=209.9 cy=120.7 r=3.1 />
<circle class=h cx=207 cy=62.7 r=3.1 />
<circle class=a cx=194.7 cy=52.2 r=3.1 />
<circle class=S cx=232.3 cy=119.5 r=3.1 />
<circle class=T cx=235.6 cy=120.1 r=3.1 />
<circle class=S cx=223.3 cy=119.6 r=3.1 />
<circle class=T cx=239.8 cy=121 r=3.1 />
<circle class=V cx=172.3 cy=124.3 r=3.1 />
<circle class=P cx=304.1 cy=114.1 r=3.1 />
<circle class=T cx=208.5 cy=120.7 r=3.1 />
<circle class=g cx=209.3 cy=61.3 r=3.1 />
<circle class=g cx=208.1 cy=60.5 r=3.1 />
<circle class=c cx=194.7 cy=54.8 r=3.1 />
<circle class=h cx=181.8 cy=62.5 r=3.1 />
<circle class=h cx=182.3 cy=62.6 r=3.1 />
<circle class=W cx=255.9 cy=126.1 r=3.1 />
<circle class=W cx=148.3 cy=126.2 r=3.1 />
<circle class=T cx=213.6 cy=120.2 r=3.1 />
<circle class=u cx=222 cy=81 r=3.1 />
<circle class=A cx=195.3 cy=88.5 r=3.1 />
<circle class=C cx=204.6 cy=93.6 r=3.1 />
<circle class=U cx=246.2 cy=122.8 r=3.1 />
<circle class=b cx=204 cy=53.2 r=3.1 />
<circle class=T cx=216.9 cy=120 r=3.1 />
<circle class=k3 cx=110.7 cy=138.1 r=3.1 />
<circle class=T cx=203.8 cy=121.6 r=3.1 />
<circle class=W cx=272.6 cy=125.2 r=3.1 />
<circle class=O cx=298.4 cy=112.5 r=3.1 />
<circle class=R cx=286.4 cy=117.1 r=3.1 />
<circle class=U cx=193.6 cy=123.2 r=3.1 />
<circle class=f cx=201.9 cy=59.8 r=3.1 />
<circle class=V cx=262.5 cy=125.2 r=3.1 />
<circle class=c cx=189.4 cy=55.4 r=3.1 />
<circle class=V cx=179.3 cy=124.9 r=3.1 />
<circle class=S cx=222.2 cy=119.7 r=3.1 />
<circle class=T cx=221.1 cy=120.1 r=3.1 />
<circle class=n cx=193.8 cy=71.2 r=3.1 />
<circle class=c cx=201.2 cy=55.4 r=3.1 />
<circle class=T cx=206.2 cy=121.2 r=3.1 />
<circle class=b cx=205.9 cy=53.3 r=3.1 />
<circle class=T cx=217.9 cy=119.9 r=3.1 />
<circle class=U cx=190 cy=123.5 r=3.1 />
<circle class=p cx=215 cy=74 r=3.1 />
<circle class=T cx=218.9 cy=120 r=3.1 />
<circle class=T cx=212.2 cy=120.8 r=3.1 />
<circle class=R cx=290.3 cy=118.2 r=3.1 />
<circle class=S cx=226.5 cy=119.3 r=3.1 />
<circle class=i cx=220.3 cy=63.6 r=3.1 />
<circle class=g cx=198.8 cy=60.8 r=3.1 />
<circle class=T cx=202.8 cy=121.9 r=3.1 />
<circle class=W cx=174.9 cy=125.5 r=3.1 />
<circle class=V cx=166 cy=124.6 r=3.1 />
<circle class=j cx=188.8 cy=65.5 r=3.1 />
<circle class=n cx=215.1 cy=70.3 r=3.1 />
<circle class=b cx=206.8 cy=53.6 r=3.1 />
<circle class=T cx=214.5 cy=120.4 r=3.1 />
<circle class=T cx=207.7 cy=121.3 r=3.1 />
<circle class=c cx=202.8 cy=55.3 r=3.1 />
<circle class=W cx=170.4 cy=125.4 r=3.1 />
<circle class=S cx=220 cy=119.7 r=3.1 />
<circle class=f cx=196.2 cy=59.5 r=3.1 />
<circle class=T cx=228.8 cy=120.1 r=3.1 />
<circle class=U cx=194.9 cy=123.1 r=3.1 />
<circle class=V cx=159.3 cy=124.4 r=3.1 />
<circle class=P cx=307.9 cy=114.3 r=3.1 />
<circle class=W cx=156.1 cy=126.6 r=3.1 />
<circle class=T cx=210.7 cy=121 r=3.1 />
<circle class=V cx=182.2 cy=124.6 r=3.1 />
<circle class=b cx=195.1 cy=53.8 r=3.1 />
<circle class=T cx=236.9 cy=120.8 r=3.1 />
<circle class=T cx=205.3 cy=121.8 r=3.1 />
<circle class=T cx=241.2 cy=121.6 r=3.1 />
<circle class=T cx=233.6 cy=120.2 r=3.1 />
<circle class=v cx=203.8 cy=82.6 r=3.1 />
<circle class=f cx=205.6 cy=59.8 r=3.1 />
<circle class=T cx=209.2 cy=121.1 r=3.1 />
<circle class=V cx=187.6 cy=123.8 r=3.1 />
<circle class=V cx=184.9 cy=124.4 r=3.1 />
<circle class=c cx=191.9 cy=55.3 r=3.1 />
<circle class=x cx=232.4 cy=85.9 r=3.1 />
<circle class=U cx=196.1 cy=123.2 r=3.1 />
<circle class=S cx=225.3 cy=119.8 r=3.1 />
<circle class=T cx=201.8 cy=122 r=3.1 />
<circle class=b cx=208.5 cy=53.4 r=3.1 />
<circle class=V cx=21.1 cy=125 r=3.1 />
<circle class=c cx=196.5 cy=55 r=3.1 />
<circle class=T cx=280.6 cy=121.5 r=3.1 />
<circle class=U cx=200.7 cy=122.6 r=3.1 />
<circle class=k9 cx=59.7 cy=147 r=3.1 />
<circle class=U cx=197.2 cy=123.3 r=3.1 />
<circle class=U cx=191.3 cy=123.8 r=3.1 />
<circle class=S cx=231.1 cy=119.9 r=3.1 />
<circle class=U cx=247.7 cy=123.2 r=3.1 />
<circle class=g cx=199.1 cy=61.8 r=3.1 />
<circle class=k4 cx=105.8 cy=139.6 r=3.1 />
<circle class=d cx=195.1 cy=56.8 r=3.1 />
<circle class=k4 cx=31.1 cy=140.3 r=3.1 />
<circle class=W cx=264.6 cy=125.7 r=3.1 />
<circle class=U cx=198.5 cy=122.9 r=3.1 />
<circle class=T cx=215.5 cy=120.3 r=3.1 />
<circle class=p cx=201.7 cy=73.2 r=3.1 />
<circle class=U cx=199.6 cy=122.6 r=3.1 />
<circle class=e cx=201.8 cy=58.6 r=3.1 />
<circle class=D cx=197.2 cy=94 r=3.1 />
<circle class=T cx=213.1 cy=120.7 r=3.1 />
<circle class=W cx=257.3 cy=126 r=3.1 />
<circle class=M cx=341.9 cy=109.2 r=3.1 />
<circle class=V cx=164 cy=125.5 r=3.1 />
<circle class=V cx=192.5 cy=124.4 r=3.1 />
<circle class=T cx=206.9 cy=121.7 r=3.1 />
<circle class=V cx=178 cy=125.3 r=3.1 />
<circle class=c cx=205.8 cy=55.1 r=3.1 />
<circle class=V cx=274.3 cy=124.8 r=3.1 />
<circle class=T cx=204.4 cy=122 r=3.1 />
<circle class=T cx=227.6 cy=120.3 r=3.1 />
<circle class=G cx=214.3 cy=100.7 r=3.1 />
<circle class=d cx=204.7 cy=57.1 r=3.1 />
<circle class=e cx=193.9 cy=58.6 r=3.1 />
<circle class=T cx=216.5 cy=120.4 r=3.1 />
<circle class=f cx=202.8 cy=59.2 r=3.1 />
<circle class=d cx=195.9 cy=56.4 r=3.1 />
<circle class=T cx=208.5 cy=121.8 r=3.1 />
<circle class=d cx=197.5 cy=56.2 r=3.1 />
<circle class=V cx=188.9 cy=124.4 r=3.1 />
<circle class=S cx=224.1 cy=119.6 r=3.1 />
<circle class=V cx=147.1 cy=125.4 r=3.1 />
<circle class=V cx=249.8 cy=124.5 r=3.1 />
<circle class=R cx=325.8 cy=117.8 r=3.1 />
<circle class=T cx=238.4 cy=121.5 r=3.1 />
<circle class=S cx=223 cy=120.3 r=3.1 />
<circle class=T cx=210 cy=121.5 r=3.1 />
<circle class=P cx=311.3 cy=114.2 r=3.1 />
<circle class=W cx=143.2 cy=127.6 r=3.1 />
<circle class=B cx=203.2 cy=91.3 r=3.1 />
<circle class=T cx=211.5 cy=120.9 r=3.1 />
<circle class=T cx=242.7 cy=122.1 r=3.1 />
<circle class=T cx=217.5 cy=120.5 r=3.1 />
<circle class=b cx=207.4 cy=53.7 r=3.1 />
<circle class=T cx=234.9 cy=120.9 r=3.1 />
<circle class=V cx=169 cy=125.6 r=3.1 />
<circle class=a cx=192.5 cy=52.8 r=3.1 />
<circle class=a cx=189.9 cy=52.6 r=3.1 />
<circle class=e cx=205.9 cy=57.5 r=3.1 />
<circle class=V cx=180.9 cy=125.2 r=3.1 />
<circle class=T cx=203.4 cy=122.3 r=3.1 />
<circle class=T cx=214 cy=120.8 r=3.1 />
<circle class=g cx=200.7 cy=61.8 r=3.1 />
<circle class=V cx=186.3 cy=124.8 r=3.1 />
<circle class=b cx=192 cy=54.4 r=3.1 />
<circle class=W cx=266.9 cy=126.3 r=3.1 />
<circle class=T cx=218.6 cy=120.6 r=3.1 />
<circle class=b cx=199.4 cy=53.6 r=3.1 />
<circle class=s cx=203.3 cy=79.2 r=3.1 />
<circle class=c cx=203.9 cy=55.2 r=3.1 />
<circle class=U cx=193.9 cy=124.1 r=3.1 />
<circle class=V cx=183.6 cy=125.1 r=3.1 />
<circle class=T cx=219.6 cy=120.5 r=3.1 />
<circle class=T cx=232.3 cy=120.6 r=3.1 />
<circle class=S cx=221.8 cy=120.1 r=3.1 />
<circle class=V cx=173.9 cy=125 r=3.1 />
<circle class=T cx=206 cy=122 r=3.1 />
<circle class=S cx=220.7 cy=120.3 r=3.1 />
<circle class=c cx=203 cy=55.7 r=3.1 />
<circle class=e cx=198.8 cy=57.6 r=3.1 />
<circle class=S cx=229.7 cy=119.9 r=3.1 />
<circle class=S cx=226.3 cy=120.4 r=3.1 />
<circle class=W cx=259.4 cy=126.6 r=3.1 />
<circle class=a cx=192.4 cy=53.1 r=3.1 />
<circle class=U cx=244.7 cy=123.7 r=3.1 />
<circle class=W cx=154.9 cy=126 r=3.1 />
<circle class=P cx=316.3 cy=114.9 r=3.1 />
<circle class=c cx=192.6 cy=55.5 r=3.1 />
<circle class=T cx=215 cy=121.2 r=3.1 />
<circle class=T cx=202.4 cy=122.5 r=3.1 />
<circle class=V cx=190.2 cy=124.6 r=3.1 />
<circle class=T cx=212.4 cy=121.2 r=3.1 />
<circle class=i cx=223.3 cy=64.8 r=3.1 />
<circle class=U cx=195.2 cy=123.9 r=3.1 />
<circle class=T cx=207.6 cy=122.2 r=3.1 />
<circle class=U cx=201.3 cy=123 r=3.1 />
<circle class=T cx=209.2 cy=122.2 r=3.1 />
<circle class=U cx=200.1 cy=123.5 r=3.1 />
<circle class=T cx=210.9 cy=121.8 r=3.1 />
<circle class=V cx=162.6 cy=125.4 r=3.1 />
<circle class=U cx=196.5 cy=123.9 r=3.1 />
<circle class=R cx=295.2 cy=117.8 r=3.1 />
<circle class=T cx=205 cy=122.6 r=3.1 />
<circle class=Q cx=290.1 cy=116 r=3.1 />
<circle class=V cx=251.4 cy=124.9 r=3.1 />
<circle class=a cx=190.9 cy=53.8 r=3.1 />
<circle class=V cx=187.6 cy=125.4 r=3.1 />
<circle class=V cx=176.7 cy=125.5 r=3.1 />
<circle class=k4 cx=102.8 cy=139.4 r=3.1 />
<circle class=V cx=275.9 cy=124.5 r=3.1 />
<circle class=h cx=197 cy=63.2 r=3.1 />
<circle class=i cx=208.1 cy=64.7 r=3.1 />
<circle class=S cx=281.2 cy=120 r=3.1 />
<circle class=T cx=216 cy=121.1 r=3.1 />
<circle class=T cx=239.6 cy=121.8 r=3.1 />
<circle class=U cx=199 cy=123.4 r=3.1 />
<circle class=U cx=197.8 cy=123.5 r=3.1 />
<circle class=S cx=225 cy=120.3 r=3.1 />
<circle class=S cx=228.5 cy=120.5 r=3.1 />
<circle class=h cx=184 cy=63.6 r=3.1 />
<circle class=L cx=345.5 cy=108.2 r=3.1 />
<circle class=c cx=202.1 cy=56.2 r=3.1 />
<circle class=c cx=207.5 cy=55.5 r=3.1 />
<circle class=d cx=209.8 cy=57.4 r=3.1 />
<circle class=k8 cx=54.1 cy=147.2 r=3.1 />
<circle class=Q cx=226.9 cy=116.2 r=3.1 />
<circle class=w cx=217.8 cy=84 r=3.1 />
<circle class=T cx=217 cy=121.5 r=3.1 />
<circle class=V cx=167.5 cy=125.8 r=3.1 />
<circle class=U cx=204 cy=123.2 r=3.1 />
<circle class=T cx=236 cy=121.1 r=3.1 />
<circle class=m cx=224.1 cy=70.1 r=3.1 />
<circle class=T cx=213.4 cy=121.4 r=3.1 />
<circle class=V cx=179.5 cy=125.9 r=3.1 />
<circle class=e cx=193.3 cy=58.5 r=3.1 />
<circle class=T cx=233.5 cy=121.3 r=3.1 />
<circle class=U cx=191.7 cy=124.4 r=3.1 />
<circle class=S cx=223.9 cy=120.8 r=3.1 />
<circle class=V cx=185.1 cy=125.5 r=3.1 />
<circle class=c cx=189.6 cy=55.3 r=3.1 />
<circle class=S cx=230.9 cy=120.7 r=3.1 />
<circle class=V cx=172.4 cy=125.5 r=3.1 />
<circle class=W cx=268.6 cy=126.2 r=3.1 />
<circle class=T cx=206.7 cy=122.4 r=3.1 />
<circle class=n cx=185.2 cy=72 r=3.1 />
<circle class=m cx=217.1 cy=70.8 r=3.1 />
<circle class=W cx=141.9 cy=126.8 r=3.1 />
<circle class=i cx=210.3 cy=64.2 r=3.1 />
<circle class=U cx=246.2 cy=124 r=3.1 />
<circle class=T cx=218.1 cy=121.3 r=3.1 />
<circle class=V cx=153.1 cy=126.1 r=3.1 />
<circle class=W cx=261 cy=126.7 r=3.1 />
<circle class=i cx=189 cy=64.6 r=3.1 />
<circle class=V cx=182.5 cy=125.3 r=3.1 />
<circle class=V cx=193 cy=124.8 r=3.1 />
<circle class=T cx=221.5 cy=121.2 r=3.1 />
<circle class=T cx=211.7 cy=121.7 r=3.1 />
<circle class=U cx=203 cy=123.4 r=3.1 />
<circle class=A cx=221.1 cy=89.5 r=3.1 />
<circle class=S cx=222.6 cy=120.7 r=3.1 />
<circle class=k5 cx=96.3 cy=141.8 r=3.1 />
<circle class=c cx=202.8 cy=55.5 r=3.1 />
<circle class=q cx=202.1 cy=76.2 r=3.1 />
<circle class=T cx=210.1 cy=122.3 r=3.1 />
<circle class=b cx=202.3 cy=55.1 r=3.1 />
<circle class=S cx=227.3 cy=120.8 r=3.1 />
<circle class=T cx=208.4 cy=122.3 r=3.1 />
<circle class=V cx=253.3 cy=125.6 r=3.1 />
<circle class=V cx=160.8 cy=125.8 r=3.1 />
<circle class=T cx=214.4 cy=121.5 r=3.1 />
<circle class=T cx=219.2 cy=121 r=3.1 />
<circle class=d cx=204.3 cy=56.9 r=3.1 />
<circle class=k3 cx=26.4 cy=139.1 r=3.1 />
<circle class=W cx=170 cy=127.5 r=3.1 />
<circle class=d cx=191.5 cy=56.7 r=3.1 />
<circle class=P cx=326.9 cy=116 r=3.1 />
<circle class=d cx=206.6 cy=57.3 r=3.1 />
<circle class=c cx=203 cy=56.1 r=3.1 />
<circle class=S cx=220.3 cy=120.9 r=3.1 />
<circle class=V cx=189.2 cy=125.1 r=3.1 />
<circle class=V cx=278.2 cy=124.7 r=3.1 />
<circle class=e cx=207 cy=59.1 r=3.1 />
<circle class=V cx=175.2 cy=126.2 r=3.1 />
<circle class=c cx=207.9 cy=55.7 r=3.1 />
<circle class=T cx=237.5 cy=122.1 r=3.1 />
<circle class=T cx=241 cy=122.3 r=3.1 />
<circle class=T cx=205.8 cy=122.8 r=3.1 />
<circle class=U cx=194.4 cy=124.5 r=3.1 />
<circle class=v cx=200.9 cy=82.5 r=3.1 />
<circle class=V cx=195.6 cy=125 r=3.1 />
<circle class=u cx=180.1 cy=81.5 r=3.1 />
<circle class=P cx=233.7 cy=114.6 r=3.1 />
<circle class=b cx=193 cy=54.6 r=3.1 />
<circle class=U cx=201.9 cy=123.3 r=3.1 />
<circle class=T cx=212.7 cy=122.2 r=3.1 />
<circle class=V cx=165.8 cy=126.3 r=3.1 />
<circle class=Q cx=296.8 cy=116.8 r=3.1 />
<circle class=W cx=178 cy=126.8 r=3.1 />
<circle class=T cx=20.1 cy=122 r=3.1 />
<circle class=a cx=206.1 cy=54 r=3.1 />
<circle class=U cx=200.7 cy=123.9 r=3.1 />
<circle class=W cx=139 cy=127.7 r=3.1 />
<circle class=G cx=226.4 cy=101.6 r=3.1 />
<circle class=S cx=226 cy=121 r=3.1 />
<circle class=a cx=200.6 cy=53.6 r=3.1 />
<circle class=T cx=232.2 cy=121.7 r=3.1 />
<circle class=t cx=186.7 cy=80.6 r=3.1 />
<circle class=T cx=215.4 cy=121.5 r=3.1 />
<circle class=T cx=234.8 cy=121.8 r=3.1 />
<circle class=V cx=186.6 cy=125.8 r=3.1 />
<circle class=i cx=184.1 cy=64.6 r=3.1 />
<circle class=U cx=198.2 cy=124.6 r=3.1 />
<circle class=T cx=207.5 cy=123 r=3.1 />
<circle class=h cx=196 cy=63.8 r=3.1 />
<circle class=S cx=229.5 cy=120.7 r=3.1 />
<circle class=U cx=199.5 cy=124.2 r=3.1 />
<circle class=a cx=201.6 cy=53.3 r=3.1 />
<circle class=V cx=270.6 cy=126.4 r=3.1 />
<circle class=t cx=184.8 cy=81.3 r=3.1 />
<circle class=U cx=197 cy=124.5 r=3.1 />
<circle class=V cx=183.8 cy=126.4 r=3.1 />
<circle class=d cx=205 cy=57.6 r=3.1 />
<circle class=F cx=195.9 cy=99.2 r=3.1 />
<circle class=r cx=179.4 cy=78.6 r=3.1 />
<circle class=V cx=151 cy=126.5 r=3.1 />
<circle class=V cx=190.6 cy=125.3 r=3.1 />
<circle class=U cx=204.7 cy=123.3 r=3.1 />
<circle class=T cx=209.3 cy=122.7 r=3.1 />
<circle class=b cx=197.3 cy=55.4 r=3.1 />
<circle class=V cx=181 cy=126.4 r=3.1 />
<circle class=U cx=247.6 cy=124.2 r=3.1 />
<circle class=W cx=158.7 cy=126.6 r=3.1 />
<circle class=K cx=349.3 cy=107.2 r=3.1 />
<circle class=T cx=211 cy=122.2 r=3.1 />
<circle class=h cx=226.5 cy=63.7 r=3.1 />
<circle class=X cx=134.8 cy=129.8 r=3.1 />
<circle class=T cx=216.4 cy=121.7 r=3.1 />
<circle class=v cx=202.5 cy=84 r=3.1 />
<circle class=S cx=224.7 cy=121.2 r=3.1 />
<circle class=h cx=219.6 cy=64.2 r=3.1 />
<circle class=U cx=242.7 cy=123.4 r=3.1 />
<circle class=W cx=262.6 cy=126.7 r=3.1 />
<circle class=O cx=215.7 cy=114.7 r=3.1 />
<circle class=a cx=202.7 cy=53.4 r=3.1 />
<circle class=a cx=199.2 cy=53.7 r=3.1 />
<circle class=T cx=213.7 cy=122.3 r=3.1 />
<circle class=J cx=203.4 cy=105.4 r=3.1 />
<circle class=a cx=207.2 cy=54.3 r=3.1 />
<circle class=T cx=223.6 cy=121.7 r=3.1 />
<circle class=f cx=208.8 cy=61.3 r=3.1 />
<circle class=T cx=217.6 cy=121.9 r=3.1 />
<circle class=U cx=206.5 cy=123.6 r=3.1 />
<circle class=V cx=192 cy=125.6 r=3.1 />
<circle class=V cx=254.6 cy=125.5 r=3.1 />
<circle class=T cx=238.9 cy=122.8 r=3.1 />
<circle class=W cx=173.7 cy=126.9 r=3.1 />
<circle class=A cx=218.2 cy=90.2 r=3.1 />
<circle class=d cx=202.4 cy=57.5 r=3.1 />
<circle class=S cx=228.2 cy=121.2 r=3.1 />
<circle class=e cx=203.8 cy=59.2 r=3.1 />
<circle class=U cx=203.7 cy=123.6 r=3.1 />
<circle class=k5 cx=91.7 cy=142.5 r=3.1 />
<circle class=G cx=208 cy=101.6 r=3.1 />
<circle class=V cx=188 cy=126.2 r=3.1 />
<circle class=i cx=185.5 cy=65.3 r=3.1 />
<circle class=q cx=224.5 cy=76 r=3.1 />
<circle class=c cx=202.2 cy=56.1 r=3.1 />
<circle class=W cx=148.1 cy=127.9 r=3.1 />
<circle class=K cx=211.7 cy=108.1 r=3.1 />
<circle class=W cx=168.8 cy=127.3 r=3.1 />
<circle class=A cx=193.8 cy=91.9 r=3.1 />
<circle class=T cx=218.7 cy=121.6 r=3.1 />
<circle class=b cx=193.4 cy=55.4 r=3.1 />
<circle class=V cx=164.1 cy=126.8 r=3.1 />
<circle class=F cx=223.3 cy=98.7 r=3.1 />
<circle class=T cx=219.8 cy=121.7 r=3.1 />
<circle class=S cx=222.2 cy=121.3 r=3.1 />
<circle class=T cx=208.4 cy=123.4 r=3.1 />
<circle class=f cx=201.5 cy=60.7 r=3.1 />
<circle class=V cx=249.6 cy=125.5 r=3.1 />
<circle class=m cx=202.3 cy=70.1 r=3.1 />
<circle class=x cx=223.4 cy=87.5 r=3.1 />
<circle class=P cx=330 cy=115.3 r=3.1 />
<circle class=T cx=212 cy=122.6 r=3.1 />
<circle class=K cx=210.5 cy=107.7 r=3.1 />
<circle class=T cx=221 cy=121.6 r=3.1 />
<circle class=T cx=214.8 cy=122.5 r=3.1 />
<circle class=T cx=230.7 cy=121.6 r=3.1 />
<circle class=U cx=202.6 cy=124 r=3.1 />
<circle class=V cx=193.4 cy=125.6 r=3.1 />
<circle class=T cx=236 cy=122.3 r=3.1 />
<circle class=T cx=233.3 cy=122.2 r=3.1 />
<circle class=U cx=279.3 cy=123.6 r=3.1 />
<circle class=T cx=210.2 cy=122.9 r=3.1 />
<circle class=W cx=176.7 cy=127.1 r=3.1 />
<circle class=m cx=198.4 cy=69.9 r=3.1 />
<circle class=U cx=205.5 cy=124.1 r=3.1 />
<circle class=V cx=272.6 cy=126.6 r=3.1 />
<circle class=e cx=199.6 cy=59.8 r=3.1 />
<circle class=V cx=185.4 cy=126.6 r=3.1 />
<circle class=W cx=156.7 cy=127.3 r=3.1 />
<circle class=S cx=226.9 cy=121.5 r=3.1 />
<circle class=W cx=265 cy=127.6 r=3.1 />
<circle class=U cx=201.4 cy=124.5 r=3.1 />
<circle class=k7 cx=51.6 cy=145.4 r=3.1 />
<circle class=T cx=215.9 cy=122.7 r=3.1 />
<circle class=b cx=206.8 cy=56 r=3.1 />
<circle class=e cx=199.3 cy=59.7 r=3.1 />
<circle class=W cx=179.7 cy=127.1 r=3.1 />
<circle class=o cx=197.1 cy=73.2 r=3.1 />
<circle class=U cx=244.1 cy=123.9 r=3.1 />
<circle class=P cx=297.8 cy=115.5 r=3.1 />
<circle class=V cx=256.7 cy=126.4 r=3.1 />
<circle class=V cx=189.6 cy=126.2 r=3.1 />
<circle class=U cx=194.9 cy=125.1 r=3.1 />
<circle class=V cx=196.2 cy=125.5 r=3.1 />
<circle class=U cx=200.1 cy=124.7 r=3.1 />
<circle class=f cx=202.8 cy=61.3 r=3.1 />
<circle class=V cx=182.7 cy=126.6 r=3.1 />
<circle class=U cx=198.8 cy=125.2 r=3.1 />
<circle class=W cx=145.2 cy=129 r=3.1 />
<circle class=a cx=206.8 cy=54 r=3.1 />
<circle class=U cx=197.6 cy=125.2 r=3.1 />
<circle class=W cx=171.9 cy=127.8 r=3.1 />
<circle class=T cx=213 cy=122.7 r=3.1 />
<circle class=T cx=240.3 cy=123.4 r=3.1 />
<circle class=T cx=225.6 cy=121.8 r=3.1 />
<circle class=e cx=198.3 cy=59.3 r=3.1 />
<circle class=U cx=207.4 cy=123.8 r=3.1 />
<circle class=d cx=205 cy=58.1 r=3.1 />
<circle class=n cx=193 cy=72.9 r=3.1 />
<circle class=U cx=204.4 cy=124.3 r=3.1 />
<circle class=n cx=212 cy=73.2 r=3.1 />
<circle class=O cx=232 cy=115 r=3.1 />
<circle class=a cx=206.7 cy=54.6 r=3.1 />
<circle class=W cx=162.2 cy=127.4 r=3.1 />
<circle class=W cx=167.1 cy=127.9 r=3.1 />
<circle class=b cx=197.5 cy=55.2 r=3.1 />
<circle class=T cx=209.3 cy=123.6 r=3.1 />
<circle class=V cx=191 cy=126.6 r=3.1 />
<circle class=k6 cx=85.7 cy=144.1 r=3.1 />
<circle class=a cx=204.2 cy=54.5 r=3.1 />
<circle class=r cx=194.5 cy=78 r=3.1 />
<circle class=S cx=229.2 cy=121.6 r=3.1 />
<circle class=V cx=186.8 cy=127.2 r=3.1 />
<circle class=n cx=176.2 cy=72 r=3.1 />
<circle class=T cx=216.9 cy=122.2 r=3.1 />
<circle class=d cx=198.2 cy=58 r=3.1 />
<circle class=T cx=211.1 cy=122.8 r=3.1 />
<circle class=A cx=226.8 cy=91.1 r=3.1 />
<circle class=W cx=174.9 cy=128.4 r=3.1 />
<circle class=Q cx=286.7 cy=118.7 r=3.1 />
<circle class=T cx=223.1 cy=122.4 r=3.1 />
<circle class=U cx=203.3 cy=124.9 r=3.1 />
<circle class=T cx=214 cy=123 r=3.1 />
<circle class=p cx=179.3 cy=74.9 r=3.1 />
<circle class=S cx=224.2 cy=121.6 r=3.1 />
<circle class=P cx=206.3 cy=115.7 r=3.1 />
<circle class=c cx=192.7 cy=56.7 r=3.1 />
<circle class=T cx=237.2 cy=122.8 r=3.1 />
<circle class=T cx=218.1 cy=122.3 r=3.1 />
<circle class=b cx=194 cy=56 r=3.1 />
<circle class=d cx=206.7 cy=58.7 r=3.1 />
<circle class=T cx=281.3 cy=123.5 r=3.1 />
<circle class=W cx=259 cy=127.5 r=3.1 />
<circle class=K cx=204.6 cy=107.7 r=3.1 />
<circle class=T cx=234.5 cy=122.6 r=3.1 />
<circle class=T cx=231.7 cy=122 r=3.1 />
<circle class=P cx=301 cy=115.7 r=3.1 />
<circle class=U cx=250.7 cy=125 r=3.1 />
<circle class=b cx=197.8 cy=55.3 r=3.1 />
<circle class=U cx=245.8 cy=124.7 r=3.1 />
<circle class=T cx=219.3 cy=122.3 r=3.1 />
<circle class=V cx=192.5 cy=126.6 r=3.1 />
<circle class=W cx=184.1 cy=127.5 r=3.1 />
<circle class=T cx=228 cy=122.4 r=3.1 />
<circle class=W cx=266.8 cy=127.7 r=3.1 />
<circle class=O cx=333.1 cy=114.4 r=3.1 />
<circle class=U cx=206.4 cy=124.1 r=3.1 />
<circle class=k1 cx=25.4 cy=136.2 r=3.1 />
<circle class=T cx=221.7 cy=122.1 r=3.1 />
<circle class=T cx=220.5 cy=122.2 r=3.1 />
<circle class=U cx=242 cy=124.5 r=3.1 />
<circle class=U cx=202.1 cy=125.3 r=3.1 />
<circle class=d cx=204.5 cy=57.8 r=3.1 />
<circle class=V cx=274.1 cy=126 r=3.1 />
<circle class=X cx=142.6 cy=129.8 r=3.1 />
<circle class=t cx=224 cy=81 r=3.1 />
<circle class=K cx=212.7 cy=108 r=3.1 />
<circle class=W cx=178.3 cy=127.8 r=3.1 />
<circle class=a cx=191.3 cy=54.8 r=3.1 />
<circle class=p cx=216.4 cy=75.1 r=3.1 />
<circle class=P cx=217.6 cy=117.1 r=3.1 />
<circle class=T cx=212.2 cy=123.3 r=3.1 />
<circle class=V cx=155.5 cy=126.6 r=3.1 />
<circle class=W cx=181.3 cy=127.6 r=3.1 />
<circle class=c cx=198 cy=57 r=3.1 />
<circle class=b cx=198.8 cy=56.4 r=3.1 />
<circle class=T cx=208.3 cy=124.1 r=3.1 />
<circle class=V cx=188.4 cy=127.4 r=3.1 />
<circle class=V cx=194 cy=126.5 r=3.1 />
<circle class=W cx=170.3 cy=128.5 r=3.1 />
<circle class=T cx=215.1 cy=122.9 r=3.1 />
<circle class=W cx=160 cy=128.4 r=3.1 />
<circle class=r cx=215.8 cy=79 r=3.1 />
<circle class=b cx=200.8 cy=56 r=3.1 />
<circle class=h cx=203.7 cy=64.3 r=3.1 />
<circle class=Q cx=19.1 cy=119.1 r=3.1 />
<circle class=o cx=210.6 cy=74 r=3.1 />
<circle class=T cx=210.2 cy=123.8 r=3.1 />
<circle class=N cx=204.4 cy=114 r=3.1 />
<circle class=U cx=200.9 cy=125.3 r=3.1 />
<circle class=U cx=205.3 cy=124.7 r=3.1 />
<circle class=V cx=195.4 cy=126.3 r=3.1 />
<circle class=P cx=305.2 cy=116.3 r=3.1 />
<circle class=V cx=196.8 cy=126.4 r=3.1 />
<circle class=U cx=199.6 cy=125.7 r=3.1 />
<circle class=k4 cx=108 cy=142.5 r=3.1 />
<circle class=d cx=205 cy=58.3 r=3.1 />
<circle class=T cx=230.3 cy=122.4 r=3.1 />
<circle class=g cx=203.3 cy=62.5 r=3.1 />
<circle class=h cx=224.1 cy=64.2 r=3.1 />
<circle class=S cx=226.4 cy=121.9 r=3.1 />
<circle class=D cx=221.3 cy=96 r=3.1 />
<circle class=c cx=201.7 cy=57.3 r=3.1 />
<circle class=T cx=216.2 cy=122.9 r=3.1 />
<circle class=V cx=252.7 cy=126 r=3.1 />
<circle class=U cx=198.2 cy=125.7 r=3.1 />
<circle class=T cx=213.2 cy=123.5 r=3.1 />
<circle class=T cx=238.5 cy=123.5 r=3.1 />
<circle class=T cx=233 cy=123.1 r=3.1 />
<circle class=V cx=189.9 cy=127.6 r=3.1 />
<circle class=V cx=165.9 cy=127.6 r=3.1 />
<circle class=W cx=152.7 cy=128.2 r=3.1 />
<circle class=b cx=200.7 cy=56.3 r=3.1 />
<circle class=c cx=205.1 cy=57.2 r=3.1 />
<circle class=J cx=212.6 cy=106.6 r=3.1 />
<circle class=W cx=173.6 cy=128.6 r=3.1 />
<circle class=T cx=225.2 cy=122.6 r=3.1 />
<circle class=T cx=235.7 cy=123.3 r=3.1 />
<circle class=V cx=185.8 cy=127.5 r=3.1 />
<circle class=U cx=207.3 cy=124.6 r=3.1 />
<circle class=X cx=139.6 cy=130.9 r=3.1 />
<circle class=b cx=191.8 cy=55.9 r=3.1 />
<circle class=U cx=204.1 cy=125.1 r=3.1 />
<circle class=T cx=217.4 cy=123 r=3.1 />
<circle class=e cx=204 cy=60.5 r=3.1 />
<circle class=U cx=247.2 cy=125 r=3.1 />
<circle class=V cx=276.6 cy=126.6 r=3.1 />
<circle class=h cx=222.9 cy=64.8 r=3.1 />
<circle class=W cx=268.8 cy=127.9 r=3.1 />
<circle class=T cx=211.3 cy=124 r=3.1 />
<circle class=V cx=260.4 cy=127.3 r=3.1 />
<circle class=e cx=203 cy=59.6 r=3.1 />
<circle class=T cx=209.3 cy=124.4 r=3.1 />
<circle class=h cx=215.3 cy=64.4 r=3.1 />
<circle class=W cx=179.7 cy=129.1 r=3.1 />
<circle class=j cx=203.6 cy=67.1 r=3.1 />
<circle class=T cx=229 cy=123 r=3.1 />
<circle class=e cx=195.5 cy=60.4 r=3.1 />
<circle class=T cx=223.8 cy=122.7 r=3.1 />
<circle class=l cx=171.5 cy=70.6 r=3.1 />
<circle class=W cx=182.9 cy=128.1 r=3.1 />
<circle class=W cx=176.8 cy=128.6 r=3.1 />
<circle class=T cx=221.3 cy=123.3 r=3.1 />
<circle class=r cx=194.5 cy=78.8 r=3.1 />
<circle class=T cx=219.9 cy=123.1 r=3.1 />
<circle class=x cx=187 cy=87.9 r=3.1 />
<circle class=T cx=214.3 cy=123.6 r=3.1 />
<circle class=T cx=222.5 cy=122.8 r=3.1 />
<circle class=V cx=191.6 cy=127.2 r=3.1 />
<circle class=T cx=218.6 cy=122.6 r=3.1 />
<circle class=U cx=202.9 cy=125.4 r=3.1 />
<circle class=N cx=336.3 cy=113.6 r=3.1 />
<circle class=M cx=230.1 cy=112.5 r=3.1 />
<circle class=k5 cx=83 cy=143.2 r=3.1 />
<circle class=W cx=158.3 cy=128.7 r=3.1 />
<circle class=C cx=205.8 cy=95.4 r=3.1 />
<circle class=k6 cx=101.7 cy=145.2 r=3.1 />
<circle class=x cx=216.6 cy=87.3 r=3.1 />
<circle class=T cx=242.8 cy=123.9 r=3.1 />
<circle class=d cx=201.2 cy=58.7 r=3.1 />
<circle class=U cx=206.2 cy=125.1 r=3.1 />
<circle class=a cx=200.4 cy=54.8 r=3.1 />
<circle class=a cx=195.8 cy=55.3 r=3.1 />
<circle class=W cx=187.3 cy=128.1 r=3.1 />
<circle class=W cx=169.1 cy=128.4 r=3.1 />
<circle class=V cx=193 cy=127.6 r=3.1 />
<circle class=V cx=254.6 cy=127 r=3.1 />
<circle class=o cx=180.9 cy=74.8 r=3.1 />
<circle class=W cx=150 cy=129.3 r=3.1 />
<circle class=U cx=201.7 cy=125.9 r=3.1 />
<circle class=T cx=215.5 cy=123.8 r=3.1 />
<circle class=T cx=212.4 cy=124.1 r=3.1 />
<circle class=O cx=307.6 cy=115.8 r=3.1 />
<circle class=q cx=225.1 cy=77.1 r=3.1 />
<circle class=a cx=202.1 cy=55 r=3.1 />
<circle class=T cx=231.4 cy=123 r=3.1 />
<circle class=W cx=164.1 cy=128.4 r=3.1 />
<circle class=T cx=227.4 cy=122.9 r=3.1 />
<circle class=a cx=199.2 cy=54.9 r=3.1 />
<circle class=T cx=239.9 cy=124.1 r=3.1 />
<circle class=V cx=194.5 cy=127.6 r=3.1 />
<circle class=V cx=200.3 cy=126.5 r=3.1 />
<circle class=c cx=195.4 cy=57.8 r=3.1 />
<circle class=W cx=262.7 cy=128.3 r=3.1 />
<circle class=U cx=249 cy=125.9 r=3.1 />
<circle class=W cx=184.4 cy=129.1 r=3.1 />
<circle class=V cx=198.9 cy=126.9 r=3.1 />
<circle class=T cx=210.3 cy=124.5 r=3.1 />
<circle class=T cx=208.3 cy=124.5 r=3.1 />
<circle class=V cx=196.1 cy=127.3 r=3.1 />
<circle class=U cx=205 cy=125.7 r=3.1 />
<circle class=W cx=172.1 cy=129.2 r=3.1 />
<circle class=a cx=207.2 cy=55.7 r=3.1 />
<circle class=b cx=191.6 cy=56.9 r=3.1 />
<circle class=d cx=200 cy=58.6 r=3.1 />
<circle class=T cx=236.9 cy=123.7 r=3.1 />
<circle class=T cx=234 cy=123.3 r=3.1 />
<circle class=d cx=201.8 cy=59.5 r=3.1 />
<circle class=V cx=197.5 cy=127 r=3.1 />
<circle class=V cx=278.7 cy=126.7 r=3.1 />
<circle class=W cx=188.9 cy=128.3 r=3.1 />
<circle class=f cx=198.3 cy=62.2 r=3.1 />
<circle class=T cx=216.7 cy=123.7 r=3.1 />
<circle class=V cx=270.6 cy=127.9 r=3.1 />
<circle class=B cx=200.2 cy=93.8 r=3.1 />
<circle class=W cx=175.2 cy=129.8 r=3.1 />
<circle class=T cx=226 cy=123 r=3.1 />
<circle class=n cx=206.4 cy=74 r=3.1 />
<circle class=P cx=313.5 cy=117.2 r=3.1 />
<circle class=W cx=257.2 cy=128.6 r=3.1 />
<circle class=U cx=244.6 cy=125.2 r=3.1 />
<circle class=W cx=181.5 cy=129.4 r=3.1 />
<circle class=a cx=201.4 cy=55.3 r=3.1 />
<circle class=k7 cx=74.2 cy=146.4 r=3.1 />
<circle class=T cx=213.5 cy=124.3 r=3.1 />
<circle class=b cx=193.9 cy=56.4 r=3.1 />
<circle class=W cx=138.4 cy=130 r=3.1 />
<circle class=m cx=188.7 cy=72.3 r=3.1 />
<circle class=W cx=156.3 cy=129.4 r=3.1 />
<circle class=T cx=218 cy=123.8 r=3.1 />
<circle class=U cx=203.8 cy=126.1 r=3.1 />
<circle class=W cx=178.6 cy=129.2 r=3.1 />
<circle class=W cx=161.6 cy=130 r=3.1 />
<circle class=T cx=229.8 cy=123 r=3.1 />
<circle class=a cx=206.6 cy=55.1 r=3.1 />
<circle class=T cx=224.6 cy=123 r=3.1 />
<circle class=U cx=207.2 cy=125.2 r=3.1 />
<circle class=W cx=190.5 cy=128.4 r=3.1 />
<circle class=b cx=199.1 cy=57.1 r=3.1 />
<circle class=U cx=209.3 cy=125.3 r=3.1 />
<circle class=T cx=223.3 cy=123.5 r=3.1 />
<circle class=e cx=202.5 cy=60.2 r=3.1 />
<circle class=Q cx=320.7 cy=119.2 r=3.1 />
<circle class=W cx=167.5 cy=128.9 r=3.1 />
<circle class=Y cx=24.4 cy=133.3 r=3.1 />
<circle class=W cx=147.9 cy=129.7 r=3.1 />
<circle class=Q cx=214.6 cy=118.5 r=3.1 />
<circle class=a cx=198 cy=56.1 r=3.1 />
<circle class=T cx=211.4 cy=124.5 r=3.1 />
<circle class=T cx=219.2 cy=123.4 r=3.1 />
<circle class=T cx=221.9 cy=123.7 r=3.1 />
<circle class=k6 cx=96.8 cy=146.4 r=3.1 />
<circle class=H cx=215.2 cy=104.1 r=3.1 />
<circle class=a cx=195.2 cy=55.8 r=3.1 />
<circle class=W cx=186.2 cy=129 r=3.1 />
<circle class=T cx=214.7 cy=124.6 r=3.1 />
<circle class=M cx=339.6 cy=112.7 r=3.1 />
<circle class=W cx=192 cy=128.9 r=3.1 />
<circle class=T cx=220.5 cy=123.4 r=3.1 />
<circle class=U cx=202.5 cy=126.5 r=3.1 />
<circle class=d cx=198.7 cy=59 r=3.1 />
<circle class=T cx=241.2 cy=124.6 r=3.1 />
<circle class=U cx=250.5 cy=126.4 r=3.1 />
<circle class=T cx=232.4 cy=123.6 r=3.1 />
<circle class=T cx=228.4 cy=123.6 r=3.1 />
<circle class=T cx=238.3 cy=124.6 r=3.1 />
<circle class=V cx=264.4 cy=128.4 r=3.1 />
<circle class=G cx=197.5 cy=102.1 r=3.1 />
<circle class=a cx=197.9 cy=55.3 r=3.1 />
<circle class=c cx=203.7 cy=58.1 r=3.1 />
<circle class=V cx=201.2 cy=127 r=3.1 />
<circle class=L cx=232.8 cy=111.7 r=3.1 />
<circle class=U cx=206 cy=125.7 r=3.1 />
<circle class=e cx=207.1 cy=61.2 r=3.1 />
<circle class=W cx=170.7 cy=129.6 r=3.1 />
<circle class=U cx=246.2 cy=126 r=3.1 />
<circle class=G cx=201.9 cy=102.6 r=3.1 />
<circle class=s cx=229.2 cy=81.1 r=3.1 />
<circle class=s cx=184 cy=81.9 r=3.1 />
<circle class=W cx=153.8 cy=130.6 r=3.1 />
<circle class=U cx=208.2 cy=126.2 r=3.1 />
<circle class=T cx=215.9 cy=124.4 r=3.1 />
<circle class=T cx=212.6 cy=124.8 r=3.1 />
<circle class=V cx=193.8 cy=128.1 r=3.1 />
<circle class=T cx=235 cy=123.3 r=3.1 />
<circle class=V cx=272.4 cy=127.9 r=3.1 />
<circle class=W cx=187.8 cy=129.5 r=3.1 />
<circle class=F cx=203.8 cy=101.1 r=3.1 />
<circle class=b cx=195.7 cy=57.1 r=3.1 />
<circle class=V cx=199.8 cy=127.3 r=3.1 />
<circle class=b cx=196.7 cy=56.9 r=3.1 />
<circle class=W cx=183.4 cy=129.1 r=3.1 />
<circle class=V cx=198.3 cy=127.7 r=3.1 />
<circle class=V cx=196.8 cy=128 r=3.1 />
<circle class=D cx=214.2 cy=98.4 r=3.1 />
<circle class=T cx=210.4 cy=125.3 r=3.1 />
<circle class=V cx=195.4 cy=127.8 r=3.1 />
<circle class=T cx=226.9 cy=123.5 r=3.1 />
<circle class=W cx=173.9 cy=130 r=3.1 />
<circle class=X cx=145 cy=131 r=3.1 />
<circle class=W cx=165.4 cy=130.3 r=3.1 />
<circle class=U cx=204.8 cy=126.5 r=3.1 />
<circle class=W cx=180.3 cy=129.8 r=3.1 />
<circle class=T cx=217.2 cy=124.5 r=3.1 />
<circle class=T cx=279.2 cy=125.1 r=3.1 />
<circle class=W cx=159.9 cy=130.4 r=3.1 />
<circle class=P cx=233.6 cy=117.5 r=3.1 />
<circle class=p cx=196.7 cy=77.3 r=3.1 />
<circle class=D cx=231.2 cy=98.6 r=3.1 />
<circle class=V cx=258 cy=127.6 r=3.1 />
<circle class=V cx=252.7 cy=127.7 r=3.1 />
<circle class=J cx=205.9 cy=107.3 r=3.1 />
<circle class=b cx=193.5 cy=57.3 r=3.1 />
<circle class=U cx=242.9 cy=125.9 r=3.1 />
<circle class=a cx=191.1 cy=55.6 r=3.1 />
<circle class=S cx=230.7 cy=123.4 r=3.1 />
<circle class=a cx=204.3 cy=55.8 r=3.1 />
<circle class=W cx=177.4 cy=129.5 r=3.1 />
<circle class=Q cx=324.8 cy=119.2 r=3.1 />
<circle class=b cx=203.8 cy=57.8 r=3.1 />
<circle class=W cx=189.5 cy=129.6 r=3.1 />
<circle class=T cx=213.8 cy=125.1 r=3.1 />
<circle class=K cx=207.4 cy=109.5 r=3.1 />
<circle class=P cx=295.8 cy=117.7 r=3.1 />
<circle class=T cx=218.5 cy=124.5 r=3.1 />
<circle class=p cx=190.6 cy=77.3 r=3.1 />
<circle class=S cx=225.3 cy=123.4 r=3.1 />
<circle class=k6 cx=69 cy=146.9 r=3.1 />
<circle class=e cx=205.6 cy=61.4 r=3.1 />
<circle class=O cx=227.7 cy=116.1 r=3.1 />
<circle class=U cx=203.5 cy=127 r=3.1 />
<circle class=N cx=234.2 cy=115.5 r=3.1 />
<circle class=X cx=168.5 cy=131.5 r=3.1 />
<circle class=T cx=233.6 cy=124.3 r=3.1 />
<circle class=T cx=224 cy=124 r=3.1 />
<circle class=U cx=207 cy=126.2 r=3.1 />
<circle class=b cx=200.1 cy=57 r=3.1 />
<circle class=T cx=222.6 cy=124.4 r=3.1 />
<circle class=T cx=221.2 cy=124.5 r=3.1 />
<circle class=a cx=193.4 cy=55.8 r=3.1 />
<circle class=T cx=219.8 cy=124 r=3.1 />
<circle class=W cx=185.2 cy=129.3 r=3.1 />
<circle class=Q cx=214.9 cy=119.1 r=3.1 />
<circle class=b cx=207 cy=57.2 r=3.1 />
<circle class=T cx=229.4 cy=124.2 r=3.1 />
<circle class=T cx=211.6 cy=125.4 r=3.1 />
<circle class=L cx=343 cy=111.7 r=3.1 />
<circle class=V cx=265.9 cy=128.2 r=3.1 />
<circle class=w cx=211.4 cy=87.8 r=3.1 />
<circle class=U cx=209.3 cy=125.9 r=3.1 />
<circle class=W cx=191.2 cy=129.6 r=3.1 />
<circle class=T cx=239.2 cy=124.5 r=3.1 />
<circle class=V cx=202.1 cy=127.6 r=3.1 />
<circle class=T cx=236.3 cy=124.3 r=3.1 />
<circle class=Y cx=141.6 cy=132.7 r=3.1 />
<circle class=N cx=205.8 cy=114.2 r=3.1 />
<circle class=n cx=196.5 cy=73.9 r=3.1 />
<circle class=T cx=215 cy=125 r=3.1 />
<circle class=U cx=247.4 cy=125.9 r=3.1 />
<circle class=b cx=192.8 cy=57.4 r=3.1 />
<circle class=w cx=204.9 cy=87.5 r=3.1 />
<circle class=W cx=152.3 cy=130.4 r=3.1 />
<circle class=X cx=172.2 cy=131.3 r=3.1 />
<circle class=W cx=182.1 cy=130.1 r=3.1 />
<circle class=V cx=260.4 cy=128.9 r=3.1 />
<circle class=U cx=205.8 cy=126.9 r=3.1 />
<circle class=X cx=157.6 cy=131.5 r=3.1 />
<circle class=W cx=192.9 cy=129.2 r=3.1 />
<circle class=U cx=273.7 cy=127.2 r=3.1 />
<circle class=k5 cx=95 cy=145.2 r=3.1 />
<circle class=T cx=227.9 cy=124.6 r=3.1 />
<circle class=P cx=220.2 cy=118.8 r=3.1 />
<circle class=b cx=199.9 cy=58 r=3.1 />
<circle class=N cx=207.3 cy=114.6 r=3.1 />
<circle class=a cx=195.5 cy=56.8 r=3.1 />
<circle class=W cx=163.8 cy=130.7 r=3.1 />
<circle class=U cx=200.8 cy=127.5 r=3.1 />
<circle class=W cx=175.5 cy=131.2 r=3.1 />
<circle class=W cx=178.9 cy=130.8 r=3.1 />
<circle class=T cx=232 cy=124.8 r=3.1 />
<circle class=a cx=200.3 cy=56 r=3.1 />
<circle class=W cx=194.5 cy=129.4 r=3.1 />
<circle class=k3 cx=116.7 cy=142.1 r=3.1 />
<circle class=n cx=192.5 cy=74.1 r=3.1 />
<circle class=T cx=212.8 cy=125.9 r=3.1 />
<circle class=V cx=199.2 cy=128.3 r=3.1 />
<circle class=W cx=186.9 cy=129.6 r=3.1 />
<circle class=T cx=216.3 cy=124.9 r=3.1 />
<circle class=T cx=280.8 cy=124.6 r=3.1 />
<circle class=U cx=244.2 cy=126.3 r=3.1 />
<circle class=V cx=197.7 cy=128.7 r=3.1 />
<circle class=V cx=196.1 cy=128.9 r=3.1 />
<circle class=B cx=213.7 cy=94.4 r=3.1 />
<circle class=V cx=254 cy=127.7 r=3.1 />
<circle class=U cx=208.2 cy=126.5 r=3.1 />
<circle class=U cx=210.5 cy=126.4 r=3.1 />
<circle class=G cx=225.1 cy=102.8 r=3.1 />
<circle class=y cx=203 cy=91.2 r=3.1 />
<circle class=p cx=200.9 cy=77.9 r=3.1 />
<circle class=T cx=234.8 cy=125.3 r=3.1 />
<circle class=U cx=204.5 cy=127.4 r=3.1 />
<circle class=T cx=217.6 cy=125.1 r=3.1 />
<circle class=n cx=196.5 cy=74.5 r=3.1 />
<circle class=a cx=192.5 cy=56.6 r=3.1 />
<circle class=P cx=327.8 cy=118.5 r=3.1 />
<circle class=a cx=193.2 cy=56.2 r=3.1 />
<circle class=T cx=240.9 cy=126 r=3.1 />
<circle class=T cx=226.2 cy=124.1 r=3.1 />
<circle class=e cx=202.5 cy=61.9 r=3.1 />
<circle class=W cx=23.5 cy=130.4 r=3.1 />
<circle class=K cx=216.2 cy=109.5 r=3.1 />
<circle class=D cx=212.6 cy=98.6 r=3.1 />
<circle class=W cx=188.6 cy=130.1 r=3.1 />
<circle class=U cx=249.3 cy=127.1 r=3.1 />
<circle class=T cx=214 cy=125.9 r=3.1 />
<circle class=N cx=234.9 cy=115.8 r=3.1 />
<circle class=W cx=183.9 cy=130.5 r=3.1 />
<circle class=V cx=267.7 cy=128.3 r=3.1 />
<circle class=Y cx=138.8 cy=133.7 r=3.1 />
<circle class=T cx=219 cy=124.9 r=3.1 />
<circle class=v cx=216.2 cy=86.8 r=3.1 />
<circle class=W cx=167.4 cy=131.1 r=3.1 />
<circle class=T cx=224.7 cy=124.3 r=3.1 />
<circle class=T cx=237.5 cy=124.8 r=3.1 />
<circle class=k7 cx=61.7 cy=148.5 r=3.1 />
<circle class=b cx=202.4 cy=57.9 r=3.1 />
<circle class=T cx=220.4 cy=125 r=3.1 />
<circle class=P cx=208.6 cy=119.2 r=3.1 />
<circle class=T cx=223.3 cy=124.7 r=3.1 />
<circle class=U cx=206.9 cy=127.4 r=3.1 />
<circle class=U cx=203.2 cy=127.8 r=3.1 />
<circle class=T cx=230.2 cy=124.4 r=3.1 />
<circle class=W cx=190.2 cy=130.6 r=3.1 />
<circle class=T cx=221.8 cy=124.7 r=3.1 />
<circle class=U cx=211.7 cy=126.8 r=3.1 />
<circle class=W cx=150.2 cy=131 r=3.1 />
<circle class=b cx=200.9 cy=57.7 r=3.1 />
<circle class=s cx=199.5 cy=82.7 r=3.1 />
<circle class=X cx=161.5 cy=132.1 r=3.1 />
<circle class=K cx=346.6 cy=110.8 r=3.1 />
<circle class=U cx=209.3 cy=127.1 r=3.1 />
<circle class=V cx=262 cy=129 r=3.1 />
<circle class=V cx=201.7 cy=128.8 r=3.1 />
<circle class=W cx=180.8 cy=131.1 r=3.1 />
<circle class=k4 cx=111.4 cy=144.4 r=3.1 />
<circle class=T cx=215.4 cy=125.9 r=3.1 />
<circle class=X cx=177.3 cy=132.1 r=3.1 />
<circle class=U cx=275.1 cy=126.7 r=3.1 />
<circle class=W cx=156.2 cy=131.4 r=3.1 />
<circle class=W cx=171 cy=131.1 r=3.1 />
<circle class=V cx=255.9 cy=128.5 r=3.1 />
<circle class=a cx=206.5 cy=57.1 r=3.1 />
<circle class=U cx=245.7 cy=126.8 r=3.1 />
<circle class=T cx=282.8 cy=124.5 r=3.1 />
<circle class=k6 cx=89.3 cy=146.8 r=3.1 />
<circle class=W cx=192 cy=130.2 r=3.1 />
<circle class=W cx=174.2 cy=131.6 r=3.1 />
<circle class=a cx=206.5 cy=57.3 r=3.1 />
<circle class=T cx=233 cy=125 r=3.1 />
<circle class=W cx=185.7 cy=130.9 r=3.1 />
<circle class=b cx=195 cy=58 r=3.1 />
<circle class=T cx=228.6 cy=124.7 r=3.1 />
<circle class=M cx=205.9 cy=114.4 r=3.1 />
<circle class=w cx=227.6 cy=88.1 r=3.1 />
<circle class=b cx=195.8 cy=58.7 r=3.1 />
<circle class=U cx=205.6 cy=127.8 r=3.1 />
<circle class=e cx=199.6 cy=62.4 r=3.1 />
<circle class=V cx=200.2 cy=128.7 r=3.1 />
<circle class=T cx=216.8 cy=126.3 r=3.1 />
<circle class=b cx=197.7 cy=58.6 r=3.1 />
<circle class=W cx=195.3 cy=130.5 r=3.1 />
<circle class=V cx=198.7 cy=129.4 r=3.1 />
<circle class=W cx=197 cy=129.9 r=3.1 />
<circle class=F cx=208.1 cy=102.4 r=3.1 />
<circle class=V cx=193.8 cy=129.7 r=3.1 />
<circle class=T cx=242.2 cy=126.5 r=3.1 />
<circle class=U cx=251 cy=127.9 r=3.1 />
<circle class=L cx=217.6 cy=112.8 r=3.1 />
<circle class=P cx=212.1 cy=118.9 r=3.1 />
<circle class=T cx=213 cy=126.1 r=3.1 />
<circle class=T cx=235.7 cy=125.2 r=3.1 />
<circle class=T cx=227.1 cy=125 r=3.1 />
<circle class=U cx=208.1 cy=127.6 r=3.1 />
<circle class=X cx=182.4 cy=132.3 r=3.1 />
<circle class=X cx=165.5 cy=132.1 r=3.1 />
<circle class=W cx=187.4 cy=131.5 r=3.1 />
<circle class=O cx=330.8 cy=117.7 r=3.1 />
<circle class=d cx=200.6 cy=61 r=3.1 />
<circle class=b cx=196.5 cy=57.9 r=3.1 />
<circle class=U cx=210.6 cy=126.9 r=3.1 />
<circle class=X cx=147.4 cy=132.3 r=3.1 />
<circle class=T cx=218.1 cy=125.7 r=3.1 />
<circle class=A cx=190.9 cy=94.6 r=3.1 />
<circle class=T cx=238.6 cy=125.3 r=3.1 />
<circle class=b cx=199.1 cy=57.8 r=3.1 />
<circle class=G cx=226.8 cy=103.7 r=3.1 />
<circle class=U cx=204.3 cy=128.2 r=3.1 />
<circle class=U cx=268.8 cy=127.6 r=3.1 />
<circle class=T cx=231.3 cy=125.3 r=3.1 />
<circle class=T cx=225.5 cy=125.1 r=3.1 />
<circle class=T cx=219.5 cy=125.9 r=3.1 />
<circle class=b cx=204.2 cy=58.6 r=3.1 />
<circle class=k4 cx=27.5 cy=145.1 r=3.1 />
<circle class=p cx=203.2 cy=78.4 r=3.1 />
<circle class=e cx=198.7 cy=61.9 r=3.1 />
<circle class=T cx=214.3 cy=126.5 r=3.1 />
<circle class=T cx=224 cy=125.2 r=3.1 />
<circle class=k6 cx=105.6 cy=146.9 r=3.1 />
<circle class=V cx=263.5 cy=129 r=3.1 />
<circle class=V cx=202.8 cy=129.3 r=3.1 />
<circle class=T cx=222.5 cy=125.5 r=3.1 />
<circle class=X cx=169.1 cy=132.5 r=3.1 />
<circle class=T cx=220.9 cy=125.4 r=3.1 />
<circle class=U cx=277.3 cy=126.9 r=3.1 />
<circle class=W cx=179.4 cy=132.2 r=3.1 />
<circle class=P cx=219.5 cy=118.3 r=3.1 />
<circle class=W cx=154.2 cy=131.9 r=3.1 />
<circle class=W cx=189.3 cy=131.3 r=3.1 />
<circle class=U cx=247.1 cy=127.4 r=3.1 />
<circle class=A cx=192.9 cy=94.8 r=3.1 />
<circle class=U cx=206.8 cy=128 r=3.1 />
<circle class=W cx=160.6 cy=131.2 r=3.1 />
<circle class=U cx=257.3 cy=128.4 r=3.1 />
<circle class=X cx=176 cy=132.7 r=3.1 />
<circle class=b cx=195.6 cy=59 r=3.1 />
<circle class=G cx=231.9 cy=103.6 r=3.1 />
<circle class=U cx=211.9 cy=127.3 r=3.1 />
<circle class=a cx=196.9 cy=57.9 r=3.1 />
<circle class=X cx=172.7 cy=132.5 r=3.1 />
<circle class=K cx=225.7 cy=112.1 r=3.1 />
<circle class=e cx=205.3 cy=62.7 r=3.1 />
<circle class=T cx=229.6 cy=125.5 r=3.1 />
<circle class=a cx=199.6 cy=57.2 r=3.1 />
<circle class=U cx=209.4 cy=127.7 r=3.1 />
<circle class=T cx=215.7 cy=126.8 r=3.1 />
<circle class=T cx=233.9 cy=125.2 r=3.1 />
<circle class=a cx=193.1 cy=57.4 r=3.1 />
<circle class=V cx=201.3 cy=129.4 r=3.1 />
<circle class=p cx=202.5 cy=78.5 r=3.1 />
<circle class=k6 cx=57.4 cy=148.1 r=3.1 />
<circle class=W cx=191.1 cy=131.2 r=3.1 />
<circle class=W cx=184.6 cy=131.6 r=3.1 />
<circle class=Y cx=143.8 cy=134.5 r=3.1 />
<circle class=T cx=243.6 cy=127.1 r=3.1 />
<circle class=q cx=189.8 cy=80.2 r=3.1 />
<circle class=V cx=272.3 cy=129.6 r=3.1 />
<circle class=V cx=199.7 cy=130.1 r=3.1 />
<circle class=W cx=192.9 cy=131.5 r=3.1 />
<circle class=P cx=311.3 cy=119.8 r=3.1 />
</g>
<g class="o15">
<circle class=U cx=252.2 cy=127.8 r=3.1 />
<circle class=a cx=206.1 cy=57.3 r=3.1 />
<circle class=o cx=180.8 cy=76.8 r=3.1 />
<circle class=T cx=217.2 cy=126.9 r=3.1 />
<circle class=T cx=240.1 cy=126.3 r=3.1 />
<circle class=U cx=22.6 cy=127.4 r=3.1 />
<circle class=T cx=228 cy=125.8 r=3.1 />
<circle class=U cx=205.4 cy=128.5 r=3.1 />
<circle class=T cx=236.7 cy=125.3 r=3.1 />
<circle class=V cx=198.1 cy=130.3 r=3.1 />
<circle class=W cx=194.7 cy=131 r=3.1 />
<circle class=W cx=164.1 cy=132.3 r=3.1 />
<circle class=W cx=196.4 cy=130.6 r=3.1 />
<circle class=X cx=186.3 cy=132.8 r=3.1 />
<circle class=k4 cx=87.2 cy=145.6 r=3.1 />
<circle class=T cx=218.6 cy=127.1 r=3.1 />
<circle class=T cx=232.3 cy=126.1 r=3.1 />
<circle class=W cx=181.4 cy=132.5 r=3.1 />
<circle class=X cx=151.2 cy=133.8 r=3.1 />
<circle class=T cx=213.2 cy=126.7 r=3.1 />
<circle class=O cx=216.7 cy=117.9 r=3.1 />
<circle class=N cx=333.8 cy=116.9 r=3.1 />
<circle class=T cx=226.4 cy=126.1 r=3.1 />
<circle class=V cx=265.6 cy=129.6 r=3.1 />
<circle class=U cx=208.1 cy=128.1 r=3.1 />
<circle class=U cx=210.7 cy=127.9 r=3.1 />
<circle class=X cx=158.1 cy=132.9 r=3.1 />
<circle class=V cx=204 cy=129.4 r=3.1 />
<circle class=X cx=167.4 cy=133.5 r=3.1 />
<circle class=T cx=279.1 cy=126.8 r=3.1 />
<circle class=T cx=224.8 cy=126.3 r=3.1 />
<circle class=U cx=248.6 cy=128 r=3.1 />
<circle class=T cx=220.1 cy=126.5 r=3.1 />
<circle class=X cx=178 cy=133.3 r=3.1 />
<circle class=U cx=259.1 cy=128.9 r=3.1 />
<circle class=Z cx=139.5 cy=137.2 r=3.1 />
<circle class=T cx=221.6 cy=126.4 r=3.1 />
<circle class=Y cx=174.3 cy=134.2 r=3.1 />
<circle class=T cx=223.1 cy=126.2 r=3.1 />
<circle class=T cx=214.6 cy=127.5 r=3.1 />
<circle class=p cx=188.2 cy=78.5 r=3.1 />
<circle class=W cx=188.3 cy=132.4 r=3.1 />
<circle class=J cx=207.7 cy=109.2 r=3.1 />
<circle class=X cx=171.2 cy=133.2 r=3.1 />
<circle class=V cx=202.4 cy=130.1 r=3.1 />
<circle class=a cx=202.3 cy=57.7 r=3.1 />
<circle class=b cx=199.3 cy=58.8 r=3.1 />
<circle class=T cx=235 cy=125.9 r=3.1 />
<circle class=L cx=223.2 cy=113.5 r=3.1 />
<circle class=k5 cx=103 cy=146.5 r=3.1 />
<circle class=U cx=206.7 cy=129.2 r=3.1 />
<circle class=T cx=230.4 cy=125.7 r=3.1 />
<circle class=T cx=244.9 cy=127.4 r=3.1 />
<circle class=U cx=254.1 cy=128.8 r=3.1 />
<circle class=W cx=183.4 cy=132.8 r=3.1 />
<circle class=T cx=238.2 cy=126.8 r=3.1 />
<circle class=P cx=314.9 cy=119.9 r=3.1 />
<circle class=U cx=209.4 cy=129.3 r=3.1 />
<circle class=W cx=190.1 cy=132.7 r=3.1 />
<circle class=J cx=224.7 cy=109.9 r=3.1 />
<circle class=p cx=200.7 cy=79.4 r=3.1 />
<circle class=U cx=212 cy=127.8 r=3.1 />
<circle class=T cx=241.4 cy=127.1 r=3.1 />
<circle class=T cx=216.1 cy=127.6 r=3.1 />
<circle class=X cx=161.7 cy=134 r=3.1 />
<circle class=p cx=216.2 cy=78.8 r=3.1 />
<circle class=p cx=196.2 cy=79.7 r=3.1 />
<circle class=U cx=273.2 cy=128.5 r=3.1 />
<circle class=a cx=201.6 cy=58.4 r=3.1 />
<circle class=q cx=195.2 cy=80.7 r=3.1 />
<circle class=V cx=200.9 cy=130.1 r=3.1 />
<circle class=N cx=224.6 cy=117 r=3.1 />
<circle class=a cx=199.7 cy=57.7 r=3.1 />
<circle class=Y cx=155.1 cy=135.1 r=3.1 />
<circle class=a cx=195.6 cy=57.6 r=3.1 />
<circle class=V cx=199.2 cy=131 r=3.1 />
<circle class=W cx=192.1 cy=132.1 r=3.1 />
<circle class=T cx=228.7 cy=125.9 r=3.1 />
<circle class=T cx=217.6 cy=127.8 r=3.1 />
<circle class=Y cx=149 cy=134.5 r=3.1 />
<circle class=W cx=197.4 cy=131.8 r=3.1 />
<circle class=k6 cx=79.5 cy=148.4 r=3.1 />
<circle class=G cx=220.4 cy=106.2 r=3.1 />
<circle class=T cx=233.4 cy=126.7 r=3.1 />
<circle class=V cx=205.2 cy=129.7 r=3.1 />
<circle class=X cx=180 cy=133.8 r=3.1 />
<circle class=W cx=195.7 cy=132 r=3.1 />
<circle class=U cx=250.4 cy=129 r=3.1 />
<circle class=U cx=267 cy=129.4 r=3.1 />
<circle class=X cx=185.3 cy=133.4 r=3.1 />
<circle class=W cx=194 cy=131.6 r=3.1 />
<circle class=U cx=213.5 cy=128.4 r=3.1 />
<circle class=Y cx=165.4 cy=134.6 r=3.1 />
<circle class=V cx=261 cy=129.7 r=3.1 />
<circle class=k2 cx=28.2 cy=141.4 r=3.1 />
<circle class=b cx=195.4 cy=59 r=3.1 />
<circle class=N cx=337 cy=116 r=3.1 />
<circle class=T cx=227 cy=126.2 r=3.1 />
<circle class=T cx=219 cy=127.1 r=3.1 />
<circle class=F cx=212.1 cy=103.1 r=3.1 />
<circle class=Q cx=322.4 cy=122.2 r=3.1 />
<circle class=S cx=279.9 cy=125.5 r=3.1 />
<circle class=U cx=208 cy=129.4 r=3.1 />
<circle class=U cx=210.7 cy=128.7 r=3.1 />
<circle class=a cx=199.5 cy=58.2 r=3.1 />
<circle class=E cx=197 cy=101.3 r=3.1 />
<circle class=B cx=194.7 cy=97.5 r=3.1 />
<circle class=w cx=214.1 cy=90.5 r=3.1 />
<circle class=T cx=225.4 cy=126.5 r=3.1 />
<circle class=X cx=176.8 cy=133.7 r=3.1 />
<circle class=X cx=169.4 cy=134.5 r=3.1 />
<circle class=T cx=220.6 cy=127.1 r=3.1 />
<circle class=T cx=236.3 cy=126.9 r=3.1 />
<circle class=V cx=203.7 cy=130.2 r=3.1 />
<circle class=T cx=223.8 cy=127 r=3.1 />
<circle class=l cx=219 cy=73.7 r=3.1 />
<circle class=n cx=197.2 cy=76.8 r=3.1 />
<circle class=U cx=246.4 cy=128.3 r=3.1 />
<circle class=X cx=187.2 cy=133.7 r=3.1 />
<circle class=T cx=222.2 cy=126.9 r=3.1 />
<circle class=Y cx=138.6 cy=136 r=3.1 />
<circle class=k7 cx=95.9 cy=149.8 r=3.1 />
<circle class=K cx=229.7 cy=111.7 r=3.1 />
<circle class=X cx=173.4 cy=133.6 r=3.1 />
<circle class=E cx=233 cy=102.4 r=3.1 />
<circle class=U cx=255.6 cy=129 r=3.1 />
<circle class=T cx=231.4 cy=126.4 r=3.1 />
<circle class=o cx=185 cy=77.8 r=3.1 />
<circle class=T cx=214.9 cy=128.1 r=3.1 />
<circle class=X cx=181.9 cy=134.6 r=3.1 />
<circle class=a cx=199.8 cy=58 r=3.1 />
<circle class=o cx=191.1 cy=77.5 r=3.1 />
<circle class=T cx=239.1 cy=126.7 r=3.1 />
<circle class=S cx=21.6 cy=124.5 r=3.1 />
<circle class=X cx=159.9 cy=134.7 r=3.1 />
<circle class=V cx=202.1 cy=130.8 r=3.1 />
<circle class=U cx=274.9 cy=128.3 r=3.1 />
<circle class=T cx=242.4 cy=127 r=3.1 />
<circle class=Y cx=145.7 cy=136.5 r=3.1 />
<circle class=W cx=189.2 cy=133.6 r=3.1 />
<circle class=U cx=206.6 cy=129.8 r=3.1 />
<circle class=T cx=229.8 cy=127.4 r=3.1 />
<circle class=U cx=212.2 cy=128.8 r=3.1 />
<circle class=U cx=209.4 cy=129.8 r=3.1 />
<circle class=T cx=216.4 cy=128 r=3.1 />
<circle class=a cx=199.3 cy=58.2 r=3.1 />
<circle class=V cx=200.4 cy=131.5 r=3.1 />
<circle class=U cx=252.2 cy=130 r=3.1 />
<circle class=L cx=213.4 cy=113.9 r=3.1 />
<circle class=Y cx=153.5 cy=135.1 r=3.1 />
<circle class=W cx=191.1 cy=133.6 r=3.1 />
<circle class=O cx=221.7 cy=118.6 r=3.1 />
<circle class=k4 cx=116.1 cy=145.1 r=3.1 />
<circle class=U cx=268.3 cy=128.8 r=3.1 />
<circle class=T cx=234.1 cy=126.5 r=3.1 />
<circle class=X cx=178.8 cy=134.4 r=3.1 />
<circle class=W cx=198.7 cy=131.9 r=3.1 />
<circle class=W cx=194.9 cy=133.8 r=3.1 />
<circle class=X cx=164 cy=134.9 r=3.1 />
<circle class=M cx=228.8 cy=115.6 r=3.1 />
<circle class=W cx=196.9 cy=132.7 r=3.1 />
<circle class=T cx=218 cy=128.1 r=3.1 />
<circle class=U cx=262 cy=129 r=3.1 />
<circle class=X cx=184.2 cy=134.2 r=3.1 />
<circle class=W cx=193.2 cy=133 r=3.1 />
<circle class=S cx=281.9 cy=125.5 r=3.1 />
<circle class=T cx=227.9 cy=127 r=3.1 />
<circle class=U cx=205 cy=130.2 r=3.1 />
<circle class=U cx=213.7 cy=129.4 r=3.1 />
<circle class=U cx=248.3 cy=129.6 r=3.1 />
<circle class=L cx=340.3 cy=115.2 r=3.1 />
<circle class=T cx=219.6 cy=128.2 r=3.1 />
<circle class=P cx=325.4 cy=121.6 r=3.1 />
<circle class=m cx=176.7 cy=75.8 r=3.1 />
<circle class=T cx=237.3 cy=127.3 r=3.1 />
<circle class=U cx=257.2 cy=129.4 r=3.1 />
<circle class=X cx=175.6 cy=134.1 r=3.1 />
<circle class=X cx=168.1 cy=134.7 r=3.1 />
<circle class=k5 cx=77 cy=147.3 r=3.1 />
<circle class=T cx=240.8 cy=128.4 r=3.1 />
<circle class=U cx=207.9 cy=130.3 r=3.1 />
<circle class=T cx=221.2 cy=127.9 r=3.1 />
<circle class=S cx=226 cy=126.4 r=3.1 />
<circle class=T cx=232.5 cy=127.4 r=3.1 />
<circle class=T cx=222.9 cy=127.9 r=3.1 />
<circle class=X cx=171.9 cy=134.5 r=3.1 />
<circle class=U cx=210.8 cy=129.6 r=3.1 />
<circle class=T cx=224.4 cy=127.2 r=3.1 />
<circle class=y cx=191.2 cy=93.1 r=3.1 />
<circle class=T cx=244 cy=128.2 r=3.1 />
<circle class=V cx=203.4 cy=131.2 r=3.1 />
<circle class=X cx=186.2 cy=134.4 r=3.1 />
<circle class=O cx=217.9 cy=120 r=3.1 />
<circle class=Z cx=142.5 cy=138.3 r=3.1 />
<circle class=X cx=158.1 cy=135.2 r=3.1 />
<circle class=T cx=276.2 cy=127.7 r=3.1 />
<circle class=U cx=215.2 cy=129 r=3.1 />
<circle class=a cx=194.8 cy=58.7 r=3.1 />
<circle class=a cx=201 cy=58.6 r=3.1 />
<circle class=X cx=181 cy=134.7 r=3.1 />
<circle class=p cx=192.3 cy=80.7 r=3.1 />
<circle class=k4 cx=50.9 cy=145.7 r=3.1 />
<circle class=a cx=195.2 cy=58.9 r=3.1 />
<circle class=T cx=230.8 cy=128.4 r=3.1 />
<circle class=V cx=201.7 cy=132.1 r=3.1 />
<circle class=X cx=188.1 cy=135 r=3.1 />
<circle class=k6 cx=93.6 cy=148.9 r=3.1 />
<circle class=Y cx=151.6 cy=135.6 r=3.1 />
<circle class=V cx=206.4 cy=131.3 r=3.1 />
<circle class=M cx=210 cy=115.8 r=3.1 />
<circle class=U cx=270.5 cy=129.5 r=3.1 />
<circle class=U cx=253.3 cy=129.7 r=3.1 />
<circle class=v cx=196.1 cy=89.4 r=3.1 />
<circle class=U cx=264.7 cy=130.5 r=3.1 />
<circle class=Z cx=27.3 cy=138.5 r=3.1 />
<circle class=T cx=235.3 cy=127.4 r=3.1 />
<circle class=n cx=202.6 cy=78 r=3.1 />
<circle class=T cx=216.8 cy=129 r=3.1 />
<circle class=U cx=212.3 cy=129.7 r=3.1 />
<circle class=W cx=200 cy=132.8 r=3.1 />
<circle class=X cx=177.4 cy=135.6 r=3.1 />
<circle class=U cx=209.4 cy=130.4 r=3.1 />
<circle class=k4 cx=112 cy=146.4 r=3.1 />
<circle class=L cx=218.4 cy=115.7 r=3.1 />
<circle class=X cx=162.5 cy=135.1 r=3.1 />
<circle class=N cx=215.1 cy=119.1 r=3.1 />
<circle class=W cx=190.4 cy=133.9 r=3.1 />
<circle class=W cx=198.1 cy=133.6 r=3.1 />
<circle class=X cx=183 cy=135.5 r=3.1 />
<circle class=T cx=228.7 cy=127.6 r=3.1 />
<circle class=s cx=225.7 cy=85 r=3.1 />
<circle class=W cx=192.3 cy=134.5 r=3.1 />
<circle class=T cx=238.6 cy=128.4 r=3.1 />
<circle class=U cx=259.3 cy=130.4 r=3.1 />
<circle class=T cx=218.4 cy=128.8 r=3.1 />
<circle class=T cx=249.1 cy=129 r=3.1 />
<circle class=Q cx=310.2 cy=123.3 r=3.1 />
<circle class=W cx=196.3 cy=133.5 r=3.1 />
<circle class=V cx=204.8 cy=132.1 r=3.1 />
<circle class=Y cx=166 cy=136.3 r=3.1 />
<circle class=T cx=227.1 cy=128.4 r=3.1 />
<circle class=W cx=194.4 cy=133.4 r=3.1 />
<circle class=X cx=174.1 cy=135.2 r=3.1 />
<circle class=P cx=328.2 cy=120.9 r=3.1 />
<circle class=T cx=245.6 cy=129.1 r=3.1 />
<circle class=K cx=343.7 cy=114.3 r=3.1 />
<circle class=T cx=241.9 cy=128.6 r=3.1 />
<circle class=X cx=170.2 cy=135.8 r=3.1 />
<circle class=U cx=213.9 cy=129.8 r=3.1 />
<circle class=T cx=220 cy=128.7 r=3.1 />
<circle class=q cx=230.2 cy=81.8 r=3.1 />
<circle class=T cx=233.3 cy=127.4 r=3.1 />
<circle class=T cx=225.2 cy=128.2 r=3.1 />
<circle class=Y cx=155.6 cy=136.8 r=3.1 />
<circle class=Y cx=184.8 cy=136.6 r=3.1 />
<circle class=T cx=223.5 cy=128.5 r=3.1 />
<circle class=T cx=221.7 cy=128.3 r=3.1 />
<circle class=V cx=207.9 cy=131.8 r=3.1 />
<circle class=M cx=229.8 cy=117.4 r=3.1 />
<circle class=U cx=210.9 cy=131 r=3.1 />
<circle class=Z cx=139.8 cy=139.2 r=3.1 />
<circle class=S cx=277.5 cy=127.1 r=3.1 />
<circle class=W cx=203.1 cy=133.2 r=3.1 />
<circle class=Y cx=179.5 cy=136.4 r=3.1 />
<circle class=k5 cx=71.2 cy=148.3 r=3.1 />
<circle class=V cx=267 cy=131.5 r=3.1 />
<circle class=U cx=215.5 cy=130.3 r=3.1 />
<circle class=U cx=255.1 cy=130.5 r=3.1 />
<circle class=a cx=199.1 cy=59.4 r=3.1 />
<circle class=Y cx=148.9 cy=137.1 r=3.1 />
<circle class=T cx=272.1 cy=129.3 r=3.1 />
<circle class=T cx=231.4 cy=127.9 r=3.1 />
<circle class=T cx=236.5 cy=128.3 r=3.1 />
<circle class=W cx=201.3 cy=133.2 r=3.1 />
<circle class=X cx=187.3 cy=135.5 r=3.1 />
<circle class=q cx=220.2 cy=82.1 r=3.1 />
<circle class=V cx=206.3 cy=132.1 r=3.1 />
<circle class=X cx=160.6 cy=136.1 r=3.1 />
<circle class=k6 cx=89.2 cy=149.7 r=3.1 />
<circle class=k5 cx=106.4 cy=149 r=3.1 />
<circle class=U cx=261.1 cy=130.9 r=3.1 />
<circle class=X cx=176.2 cy=136 r=3.1 />
<circle class=T cx=217.1 cy=129.4 r=3.1 />
<circle class=U cx=212.5 cy=130.4 r=3.1 />
<circle class=X cx=189.4 cy=135.8 r=3.1 />
<circle class=T cx=229.6 cy=128.2 r=3.1 />
<circle class=T cx=250.4 cy=129.2 r=3.1 />
<circle class=T cx=239.6 cy=128.5 r=3.1 />
<circle class=U cx=209.4 cy=131.4 r=3.1 />
<circle class=W cx=199.5 cy=133.4 r=3.1 />
<circle class=v cx=213 cy=90.3 r=3.1 />
<circle class=Y cx=181.7 cy=136.8 r=3.1 />
<circle class=Y cx=172 cy=137.4 r=3.1 />
<circle class=Y cx=164.4 cy=137 r=3.1 />
<circle class=T cx=243.2 cy=129.3 r=3.1 />
<circle class=W cx=197.5 cy=134.6 r=3.1 />
<circle class=T cx=246.9 cy=129.5 r=3.1 />
<circle class=T cx=218.9 cy=129.8 r=3.1 />
<circle class=X cx=191.5 cy=135.5 r=3.1 />
<circle class=T cx=234.5 cy=128.6 r=3.1 />
<circle class=T cx=280.6 cy=128.2 r=3.1 />
<circle class=T cx=227.7 cy=128.5 r=3.1 />
<circle class=W cx=195.7 cy=134.5 r=3.1 />
<circle class=W cx=204.6 cy=133.3 r=3.1 />
<circle class=W cx=193.6 cy=134.9 r=3.1 />
<circle class=X cx=168.8 cy=136.2 r=3.1 />
<circle class=O cx=331.1 cy=120.1 r=3.1 />
<circle class=D cx=214.2 cy=102.3 r=3.1 />
<circle class=Y cx=153.4 cy=137.9 r=3.1 />
<circle class=T cx=220.5 cy=129.1 r=3.1 />
<circle class=L cx=222.5 cy=116.4 r=3.1 />
<circle class=T cx=225.9 cy=128.6 r=3.1 />
<circle class=U cx=214.1 cy=130.4 r=3.1 />
<circle class=T cx=222.3 cy=129.5 r=3.1 />
<circle class=X cx=26.4 cy=135.6 r=3.1 />
<circle class=T cx=224 cy=128.6 r=3.1 />
<circle class=Y cx=145.9 cy=138.7 r=3.1 />
<circle class=X cx=184 cy=136.6 r=3.1 />
<circle class=U cx=256.2 cy=130.1 r=3.1 />
<circle class=T cx=273.9 cy=129.3 r=3.1 />
<circle class=V cx=207.8 cy=132.4 r=3.1 />
<circle class=V cx=211 cy=131.9 r=3.1 />
<circle class=Y cx=178.2 cy=137.4 r=3.1 />
<circle class=N cx=223.7 cy=119.9 r=3.1 />
<circle class=W cx=202.8 cy=133.6 r=3.1 />
<circle class=T cx=267.3 cy=129.7 r=3.1 />
<circle class=T cx=232.5 cy=129 r=3.1 />
<circle class=L cx=208.3 cy=115.7 r=3.1 />
<circle class=T cx=237.4 cy=128.4 r=3.1 />
<circle class=U cx=215.8 cy=130.9 r=3.1 />
<circle class=J cx=216.9 cy=112.1 r=3.1 />
<circle class=Y cx=158.2 cy=137.7 r=3.1 />
<circle class=k5 cx=65.4 cy=149.2 r=3.1 />
<circle class=k3 cx=120.3 cy=146.2 r=3.1 />
<circle class=X cx=186.3 cy=136.7 r=3.1 />
<circle class=U cx=262.2 cy=130.5 r=3.1 />
<circle class=W cx=201 cy=134.3 r=3.1 />
<circle class=E cx=225.8 cy=105 r=3.1 />
<circle class=T cx=251.6 cy=129.3 r=3.1 />
<circle class=Y cx=174.8 cy=137.1 r=3.1 />
<circle class=T cx=230.6 cy=129.4 r=3.1 />
<circle class=T cx=240.7 cy=128.8 r=3.1 />
<circle class=K cx=230 cy=114.8 r=3.1 />
<circle class=v cx=194.2 cy=91.3 r=3.1 />
<circle class=V cx=206.1 cy=133.2 r=3.1 />
<circle class=U cx=217.5 cy=130.5 r=3.1 />
<circle class=U cx=212.7 cy=132 r=3.1 />
<circle class=T cx=244.5 cy=129.8 r=3.1 />
<circle class=Y cx=162.4 cy=138.2 r=3.1 />
<circle class=T cx=247.9 cy=129.4 r=3.1 />
<circle class=y cx=209.9 cy=94.8 r=3.1 />
<circle class=X cx=188.5 cy=136.5 r=3.1 />
<circle class=W cx=199 cy=134.8 r=3.1 />
<circle class=V cx=209.4 cy=132.5 r=3.1 />
<circle class=k4 cx=103.6 cy=148.8 r=3.1 />
<circle class=S cx=281.9 cy=127.5 r=3.1 />
<circle class=Y cx=171 cy=137.4 r=3.1 />
<circle class=k5 cx=85.3 cy=149.9 r=3.1 />
<circle class=X cx=180.9 cy=136.4 r=3.1 />
<circle class=T cx=235.5 cy=129.2 r=3.1 />
<circle class=U cx=219.3 cy=130.7 r=3.1 />
<circle class=Z cx=150.7 cy=139.4 r=3.1 />
<circle class=T cx=228.5 cy=129.2 r=3.1 />
<circle class=k2 cx=131.2 cy=144.6 r=3.1 />
<circle class=X cx=190.6 cy=136.9 r=3.1 />
<circle class=X cx=167.1 cy=137.2 r=3.1 />
<circle class=W cx=196.9 cy=135.9 r=3.1 />
<circle class=X cx=194.9 cy=136.2 r=3.1 />
<circle class=X cx=192.8 cy=136.4 r=3.1 />
<circle class=B cx=211.6 cy=99.9 r=3.1 />
<circle class=N cx=334.2 cy=119.3 r=3.1 />
<circle class=T cx=221.1 cy=130.3 r=3.1 />
<circle class=T cx=226.6 cy=129.6 r=3.1 />
<circle class=U cx=258.4 cy=131.4 r=3.1 />
<circle class=V cx=204.4 cy=133.9 r=3.1 />
<circle class=G cx=226.4 cy=107.6 r=3.1 />
<circle class=T cx=224.8 cy=129.9 r=3.1 />
<circle class=T cx=222.9 cy=130.1 r=3.1 />
<circle class=T cx=275.6 cy=129.1 r=3.1 />
<circle class=U cx=214.4 cy=131.7 r=3.1 />
<circle class=T cx=269.7 cy=130.6 r=3.1 />
<circle class=Y cx=183 cy=137.5 r=3.1 />
<circle class=T cx=238.6 cy=129.4 r=3.1 />
<circle class=Y cx=177 cy=138.1 r=3.1 />
<circle class=T cx=233.3 cy=129.1 r=3.1 />
<circle class=V cx=207.8 cy=133.5 r=3.1 />
<circle class=V cx=211.1 cy=132.9 r=3.1 />
<circle class=W cx=202.4 cy=135.4 r=3.1 />
<circle class=Y cx=156.1 cy=138.8 r=3.1 />
<circle class=U cx=264.2 cy=131.1 r=3.1 />
<circle class=T cx=253.3 cy=130 r=3.1 />
<circle class=U cx=216.1 cy=131.4 r=3.1 />
<circle class=T cx=242 cy=129.6 r=3.1 />
<circle class=k4 cx=116.4 cy=147.6 r=3.1 />
<circle class=Q cx=322.8 cy=124.6 r=3.1 />
<circle class=X cx=185.3 cy=137.5 r=3.1 />
<circle class=T cx=249.5 cy=130.3 r=3.1 />
<circle class=T cx=245.7 cy=130.2 r=3.1 />
<circle class=S cx=231.1 cy=129 r=3.1 />
<circle class=X cx=173.6 cy=137.5 r=3.1 />
<circle class=n cx=189.3 cy=79.4 r=3.1 />
<circle class=W cx=200.6 cy=135.1 r=3.1 />
<circle class=U cx=25.5 cy=132.7 r=3.1 />
<circle class=U cx=217.9 cy=131.6 r=3.1 />
<circle class=Y cx=161.1 cy=138.1 r=3.1 />
<circle class=W cx=206 cy=134.5 r=3.1 />
<circle class=T cx=236.4 cy=129.5 r=3.1 />
<circle class=Y cx=187.4 cy=138.4 r=3.1 />
<circle class=U cx=212.8 cy=132.3 r=3.1 />
<circle class=k4 cx=60.4 cy=149.3 r=3.1 />
<circle class=Y cx=169.4 cy=138.3 r=3.1 />
<circle class=T cx=229.5 cy=130.6 r=3.1 />
<circle class=X cx=179.7 cy=137.4 r=3.1 />
<circle class=Y cx=165.4 cy=138.1 r=3.1 />
<circle class=W cx=198.5 cy=136.4 r=3.1 />
<circle class=k6 cx=96.5 cy=152.3 r=3.1 />
<circle class=Y cx=149.3 cy=139.2 r=3.1 />
<circle class=V cx=209.5 cy=133.6 r=3.1 />
<circle class=U cx=260.2 cy=132 r=3.1 />
<circle class=J cx=220.8 cy=112.9 r=3.1 />
<circle class=k2 cx=128.6 cy=145.1 r=3.1 />
<circle class=Y cx=189.6 cy=138.4 r=3.1 />
<circle class=S cx=277.4 cy=129.1 r=3.1 />
<circle class=X cx=196.4 cy=136.9 r=3.1 />
<circle class=T cx=227.3 cy=129.9 r=3.1 />
<circle class=T cx=271.1 cy=130.3 r=3.1 />
<circle class=M cx=337.3 cy=118.5 r=3.1 />
<circle class=X cx=194.2 cy=137.4 r=3.1 />
<circle class=k4 cx=81.6 cy=149.8 r=3.1 />
<circle class=T cx=225.5 cy=130.8 r=3.1 />
<circle class=X cx=192.1 cy=137.1 r=3.1 />
<circle class=T cx=239.6 cy=129.6 r=3.1 />
<circle class=W cx=204.1 cy=134.9 r=3.1 />
<circle class=U cx=214.6 cy=132.6 r=3.1 />
<circle class=S cx=234.1 cy=129.2 r=3.1 />
<circle class=Y cx=181.7 cy=138.8 r=3.1 />
<circle class=Y cx=175.5 cy=139.3 r=3.1 />
<circle class=T cx=255.4 cy=131.4 r=3.1 />
<circle class=F cx=213.1 cy=107.9 r=3.1 />
<circle class=T cx=265.7 cy=131 r=3.1 />
<circle class=k0 cx=152.6 cy=141.8 r=3.1 />
<circle class=T cx=243.3 cy=130.5 r=3.1 />
<circle class=V cx=211.2 cy=134.1 r=3.1 />
<circle class=V cx=207.7 cy=134.2 r=3.1 />
<circle class=T cx=250.9 cy=130.8 r=3.1 />
<circle class=T cx=247.2 cy=131 r=3.1 />
<circle class=W cx=202.2 cy=135.6 r=3.1 />
<circle class=U cx=216.4 cy=132.2 r=3.1 />
<circle class=k2 cx=31.5 cy=146.5 r=3.1 />
<circle class=T cx=232.2 cy=130.2 r=3.1 />
<circle class=P cx=325.5 cy=123.9 r=3.1 />
<circle class=Y cx=171.9 cy=139.1 r=3.1 />
<circle class=k4 cx=111.6 cy=149.6 r=3.1 />
<circle class=X cx=184.3 cy=138.3 r=3.1 />
<circle class=Y cx=159 cy=139.5 r=3.1 />
<circle class=S cx=237.1 cy=129.1 r=3.1 />
<circle class=W cx=200.1 cy=137.1 r=3.1 />
<circle class=T cx=230.2 cy=130.8 r=3.1 />
<circle class=Y cx=168.2 cy=138.6 r=3.1 />
<circle class=T cx=261.1 cy=131.3 r=3.1 />
<circle class=V cx=213.1 cy=134.4 r=3.1 />
<circle class=Y cx=163.8 cy=138.9 r=3.1 />
<circle class=Y cx=178.2 cy=139.2 r=3.1 />
<circle class=W cx=205.8 cy=135.7 r=3.1 />
<circle class=S cx=279 cy=128.8 r=3.1 />
<circle class=J cx=222.5 cy=113.8 r=3.1 />
<circle class=Y cx=186.5 cy=139.2 r=3.1 />
<circle class=S cx=272 cy=129.3 r=3.1 />
<circle class=k3 cx=123.8 cy=147.9 r=3.1 />
<circle class=T cx=228.2 cy=131.2 r=3.1 />
<circle class=V cx=209.5 cy=134.5 r=3.1 />
<circle class=W cx=198.1 cy=136.8 r=3.1 />
<circle class=T cx=241 cy=130.9 r=3.1 />
<circle class=Y cx=188.9 cy=139.1 r=3.1 />
<circle class=L cx=340.7 cy=117.7 r=3.1 />
<circle class=X cx=195.7 cy=138.7 r=3.1 />
<circle class=T cx=226 cy=130.9 r=3.1 />
<circle class=k5 cx=93.9 cy=151.6 r=3.1 />
<circle class=T cx=235.3 cy=130.5 r=3.1 />
<circle class=Y cx=193.4 cy=139.5 r=3.1 />
<circle class=X cx=191.3 cy=138.5 r=3.1 />
<circle class=T cx=267.9 cy=131.9 r=3.1 />
<circle class=T cx=256.9 cy=131.9 r=3.1 />
<circle class=S cx=24.6 cy=129.9 r=3.1 />
<circle class=U cx=214.9 cy=133.1 r=3.1 />
<circle class=W cx=203.9 cy=136.7 r=3.1 />
<circle class=B cx=222.3 cy=100.5 r=3.1 />
<circle class=T cx=244.4 cy=130.6 r=3.1 />
<circle class=Y cx=174.4 cy=139.8 r=3.1 />
<circle class=Y cx=180.6 cy=139.7 r=3.1 />
<circle class=Z cx=151 cy=141.9 r=3.1 />
<circle class=k4 cx=77.1 cy=150.2 r=3.1 />
<circle class=T cx=252.8 cy=132 r=3.1 />
<circle class=T cx=248.4 cy=131.2 r=3.1 />
<circle class=V cx=207.6 cy=135.7 r=3.1 />
<circle class=V cx=211.3 cy=134.1 r=3.1 />
<circle class=T cx=233 cy=130.5 r=3.1 />
<circle class=L cx=224.3 cy=117.8 r=3.1 />
<circle class=W cx=201.8 cy=137.2 r=3.1 />
<circle class=O cx=328.3 cy=123.2 r=3.1 />
<circle class=T cx=238.4 cy=130.5 r=3.1 />
<circle class=Y cx=170.3 cy=140.2 r=3.1 />
<circle class=Y cx=182.9 cy=140.6 r=3.1 />
<circle class=Y cx=157.1 cy=140.3 r=3.1 />
<circle class=T cx=263.2 cy=132.3 r=3.1 />
<circle class=R cx=280.6 cy=128.4 r=3.1 />
<circle class=k5 cx=107 cy=151.4 r=3.1 />
<circle class=G cx=210.9 cy=110.9 r=3.1 />
<circle class=T cx=275.5 cy=131.4 r=3.1 />
<circle class=T cx=231 cy=131.2 r=3.1 />
<circle class=Y cx=165.9 cy=140.8 r=3.1 />
<circle class=Y cx=161.9 cy=140 r=3.1 />
<circle class=W cx=199.7 cy=137.8 r=3.1 />
<circle class=Y cx=176.9 cy=140.4 r=3.1 />
<circle class=U cx=213.2 cy=134 r=3.1 />
<circle class=W cx=205.7 cy=136.5 r=3.1 />
<circle class=Y cx=185.5 cy=140.2 r=3.1 />
<circle class=T cx=228.8 cy=131.5 r=3.1 />
<circle class=S cx=241.7 cy=130.4 r=3.1 />
<circle class=k0 cx=30.6 cy=143.6 r=3.1 />
<circle class=k4 cx=119.5 cy=149.9 r=3.1 />
<circle class=T cx=269.6 cy=132.1 r=3.1 />
<circle class=V cx=209.5 cy=135.5 r=3.1 />
<circle class=T cx=257.9 cy=131.4 r=3.1 />
<circle class=X cx=197.5 cy=138.4 r=3.1 />
<circle class=T cx=236.2 cy=131 r=3.1 />
<circle class=L cx=213.5 cy=118.3 r=3.1 />
<circle class=Y cx=188.1 cy=139.8 r=3.1 />
<circle class=K cx=344.2 cy=116.9 r=3.1 />
<circle class=T cx=246.1 cy=132.2 r=3.1 />
<circle class=Y cx=195.1 cy=139.7 r=3.1 />
<circle class=Y cx=190.4 cy=140.3 r=3.1 />
<circle class=T cx=254.4 cy=132.6 r=3.1 />
<circle class=Y cx=192.8 cy=139.8 r=3.1 />
<circle class=T cx=249.6 cy=131.4 r=3.1 />
<circle class=U cx=215.1 cy=133.7 r=3.1 />
<circle class=m cx=199.7 cy=80.7 r=3.1 />
<circle class=k6 cx=88.9 cy=153 r=3.1 />
<circle class=Y cx=172.9 cy=140.8 r=3.1 />
<circle class=W cx=203.6 cy=137.6 r=3.1 />
<circle class=Y cx=179.5 cy=140.4 r=3.1 />
<circle class=T cx=234 cy=131.6 r=3.1 />
<circle class=k4 cx=49.1 cy=150 r=3.1 />
<circle class=T cx=239.7 cy=131.6 r=3.1 />
<circle class=V cx=211.4 cy=135.8 r=3.1 />
<circle class=W cx=207.6 cy=136.7 r=3.1 />
<circle class=T cx=265 cy=132.8 r=3.1 />
<circle class=k4 cx=72.2 cy=150.7 r=3.1 />
<circle class=Q cx=23.7 cy=127 r=3.1 />
<circle class=N cx=331.2 cy=122.5 r=3.1 />
<circle class=L cx=226.8 cy=119.1 r=3.1 />
<circle class=Y cx=169 cy=140.7 r=3.1 />
<circle class=S cx=276.6 cy=130.6 r=3.1 />
<circle class=Y cx=155.8 cy=140.1 r=3.1 />
<circle class=W cx=201.5 cy=138.5 r=3.1 />
<circle class=T cx=231.8 cy=131.9 r=3.1 />
<circle class=Y cx=181.7 cy=141.9 r=3.1 />
<circle class=Y cx=164.5 cy=141.1 r=3.1 />
<circle class=Y cx=160.3 cy=140.7 r=3.1 />
<circle class=T cx=243.2 cy=131.6 r=3.1 />
<circle class=k5 cx=102.3 cy=153 r=3.1 />
<circle class=Y cx=175.5 cy=141.4 r=3.1 />
<circle class=T cx=229.6 cy=132.2 r=3.1 />
<circle class=T cx=270.9 cy=131.6 r=3.1 />
<circle class=U cx=260.8 cy=133.7 r=3.1 />
<circle class=X cx=199.3 cy=139.3 r=3.1 />
<circle class=U cx=213.4 cy=135.1 r=3.1 />
<circle class=S cx=237 cy=131 r=3.1 />
<circle class=Y cx=184.4 cy=141.7 r=3.1 />
<circle class=W cx=205.5 cy=138.1 r=3.1 />
<circle class=T cx=247 cy=131.9 r=3.1 />
<circle class=k1 cx=130.3 cy=146.2 r=3.1 />
<circle class=V cx=209.5 cy=136.4 r=3.1 />
<circle class=T cx=255.9 cy=133.2 r=3.1 />
<circle class=k4 cx=116 cy=150.9 r=3.1 />
<circle class=Y cx=196.9 cy=140.6 r=3.1 />
<circle class=T cx=251.2 cy=132.4 r=3.1 />
<circle class=Y cx=187 cy=141.5 r=3.1 />
<circle class=Y cx=194.4 cy=141.6 r=3.1 />
<circle class=Y cx=189.5 cy=141.5 r=3.1 />
<circle class=X cx=192.2 cy=140.3 r=3.1 />
<circle class=Z cx=171.1 cy=142.6 r=3.1 />
<circle class=T cx=235 cy=132.4 r=3.1 />
<circle class=Y cx=178.1 cy=142.1 r=3.1 />
<circle class=S cx=240.4 cy=131.2 r=3.1 />
<circle class=W cx=203.4 cy=138.5 r=3.1 />
<circle class=Y cx=29.7 cy=140.7 r=3.1 />
<circle class=T cx=266.4 cy=132.6 r=3.1 />
<circle class=S cx=278.5 cy=130.7 r=3.1 />
<circle class=k5 cx=85.2 cy=153.1 r=3.1 />
<circle class=Q cx=307 cy=127.8 r=3.1 />
<circle class=U cx=211.5 cy=135.4 r=3.1 />
<circle class=M cx=334.2 cy=121.8 r=3.1 />
<circle class=Y cx=167.4 cy=141.6 r=3.1 />
<circle class=W cx=207.5 cy=137.4 r=3.1 />
<circle class=Z cx=152.7 cy=142.7 r=3.1 />
<circle class=T cx=232.8 cy=133 r=3.1 />
<circle class=T cx=244.5 cy=132.4 r=3.1 />
<circle class=W cx=201.2 cy=139.3 r=3.1 />
<circle class=P cx=322.6 cy=126.9 r=3.1 />
<circle class=Y cx=181.1 cy=141.4 r=3.1 />
<circle class=Y cx=163.3 cy=141.2 r=3.1 />
<circle class=Y cx=158.1 cy=142.2 r=3.1 />
<circle class=S cx=272.7 cy=131.8 r=3.1 />
<circle class=T cx=261.7 cy=132.9 r=3.1 />
<circle class=k4 cx=67.3 cy=151.1 r=3.1 />
<circle class=T cx=230.5 cy=133.1 r=3.1 />
<circle class=k3 cx=43.2 cy=150.2 r=3.1 />
<circle class=S cx=238.2 cy=132.1 r=3.1 />
<circle class=Y cx=174 cy=142.8 r=3.1 />
<circle class=T cx=248.8 cy=133.3 r=3.1 />
<circle class=T cx=257.1 cy=133.1 r=3.1 />
<circle class=V cx=213.6 cy=136.6 r=3.1 />
<circle class=X cx=198.8 cy=140.7 r=3.1 />
<circle class=Y cx=183.9 cy=141 r=3.1 />
<circle class=T cx=252.9 cy=133.4 r=3.1 />
<circle class=k5 cx=98.7 cy=153.5 r=3.1 />
<circle class=W cx=205.4 cy=139.1 r=3.1 />
<circle class=V cx=209.5 cy=136.9 r=3.1 />
<circle class=k2 cx=125 cy=149.7 r=3.1 />
<circle class=X cx=196.5 cy=140.3 r=3.1 />
<circle class=Y cx=186.3 cy=141.7 r=3.1 />
<circle class=k4 cx=112.2 cy=152.2 r=3.1 />
<circle class=S cx=235.7 cy=132.3 r=3.1 />
<circle class=S cx=267.6 cy=132.2 r=3.1 />
<circle class=T cx=242.3 cy=133.7 r=3.1 />
<circle class=Z cx=169.7 cy=143.5 r=3.1 />
<circle class=Y cx=193.9 cy=141.9 r=3.1 />
<circle class=Y cx=188.8 cy=142.4 r=3.1 />
<circle class=R cx=280.5 cy=130.8 r=3.1 />
<circle class=Y cx=191.5 cy=141.6 r=3.1 />
<circle class=Y cx=177 cy=142.9 r=3.1 />
<circle class=W cx=203.2 cy=138.8 r=3.1 />
<circle class=S cx=233.3 cy=132.5 r=3.1 />
<circle class=Y cx=151 cy=142.9 r=3.1 />
<circle class=Y cx=165.6 cy=143 r=3.1 />
<circle class=L cx=337.4 cy=121 r=3.1 />
<circle class=V cx=211.6 cy=137.2 r=3.1 />
<circle class=T cx=245.8 cy=133.2 r=3.1 />
<circle class=W cx=207.5 cy=138.2 r=3.1 />
<circle class=T cx=263.5 cy=133.5 r=3.1 />
<circle class=T cx=275.6 cy=133.1 r=3.1 />
<circle class=k4 cx=82.2 cy=152.5 r=3.1 />
<circle class=P cx=325.2 cy=126.3 r=3.1 />
<circle class=Y cx=161.4 cy=142.4 r=3.1 />
<circle class=V cx=28.8 cy=137.9 r=3.1 />
<circle class=Y cx=180.1 cy=141.9 r=3.1 />
<circle class=Y cx=155.9 cy=143.5 r=3.1 />
<circle class=T cx=231.4 cy=134.3 r=3.1 />
<circle class=T cx=239.7 cy=133.8 r=3.1 />
<circle class=S cx=249.6 cy=132.9 r=3.1 />
<circle class=X cx=200.8 cy=141.2 r=3.1 />
<circle class=T cx=258.7 cy=133.6 r=3.1 />
<circle class=Y cx=173.5 cy=141.9 r=3.1 />
<circle class=S cx=253.8 cy=132.9 r=3.1 />
<circle class=Q cx=300.3 cy=129.4 r=3.1 />
<circle class=V cx=213.7 cy=136.9 r=3.1 />
<circle class=Y cx=198.3 cy=142 r=3.1 />
<circle class=Z cx=182.3 cy=144 r=3.1 />
<circle class=W cx=205.3 cy=138.8 r=3.1 />
<circle class=k3 cx=62.5 cy=151.3 r=3.1 />
<circle class=T cx=236.8 cy=133.3 r=3.1 />
<circle class=S cx=242.6 cy=132.3 r=3.1 />
<circle class=V cx=209.6 cy=137.6 r=3.1 />
<circle class=T cx=270.9 cy=134.5 r=3.1 />
<circle class=k3 cx=121.7 cy=150.8 r=3.1 />
<circle class=k5 cx=94.5 cy=154.4 r=3.1 />
<circle class=X cx=196 cy=141.5 r=3.1 />
<circle class=k3 cx=35.3 cy=151.3 r=3.1 />
<circle class=Y cx=185.3 cy=143 r=3.1 />
<circle class=Y cx=168.5 cy=143.8 r=3.1 />
<circle class=k4 cx=109.2 cy=152.5 r=3.1 />
<circle class=Y cx=188.1 cy=142.6 r=3.1 />
<circle class=Y cx=193.3 cy=142.8 r=3.1 />
<circle class=Y cx=190.8 cy=142.2 r=3.1 />
<circle class=Z cx=175.5 cy=144.5 r=3.1 />
<circle class=S cx=246.7 cy=132.9 r=3.1 />
<circle class=T cx=234.7 cy=134.7 r=3.1 />
<circle class=S cx=276.8 cy=132.5 r=3.1 />
<circle class=W cx=202.9 cy=140.7 r=3.1 />
<circle class=T cx=264.9 cy=133.6 r=3.1 />
<circle class=Y cx=164.6 cy=142.8 r=3.1 />
<circle class=K cx=340.7 cy=120.3 r=3.1 />
<circle class=V cx=211.7 cy=138.8 r=3.1 />
<circle class=V cx=207.4 cy=138.8 r=3.1 />
<circle class=N cx=328 cy=125.6 r=3.1 />
<circle class=S cx=251.1 cy=133.6 r=3.1 />
<circle class=T cx=232 cy=134.3 r=3.1 />
<circle class=T cx=241.1 cy=135.2 r=3.1 />
<circle class=T cx=260.5 cy=134.3 r=3.1 />
<circle class=Y cx=159 cy=144.4 r=3.1 />
<circle class=Y cx=153.9 cy=144.4 r=3.1 />
<circle class=Y cx=178.6 cy=144.1 r=3.1 />
<circle class=T cx=256.2 cy=134.9 r=3.1 />
<circle class=X cx=200.5 cy=141.9 r=3.1 />
<circle class=Y cx=171.8 cy=143.5 r=3.1 />
<circle class=k2 cx=130.4 cy=149.3 r=3.1 />
<circle class=Q cx=304.2 cy=130.4 r=3.1 />
<circle class=k4 cx=77.7 cy=153.1 r=3.1 />
<circle class=T cx=28 cy=135 r=3.1 />
<circle class=T cx=237.9 cy=134.2 r=3.1 />
<circle class=T cx=272.4 cy=134.3 r=3.1 />
<circle class=T cx=244.3 cy=134.1 r=3.1 />
<circle class=Y cx=181.5 cy=144.1 r=3.1 />
<circle class=X cx=198 cy=142.2 r=3.1 />
<circle class=W cx=205 cy=141.4 r=3.1 />
<circle class=W cx=209.6 cy=139.7 r=3.1 />
<circle class=X cx=195.5 cy=142.2 r=3.1 />
<circle class=Y cx=167.3 cy=144 r=3.1 />
<circle class=k3 cx=118.5 cy=151.6 r=3.1 />
<circle class=Y cx=184.3 cy=144.5 r=3.1 />
<circle class=X cx=175.2 cy=142.9 r=3.1 />
<circle class=S cx=266.2 cy=133.3 r=3.1 />
<circle class=S cx=278.7 cy=132.6 r=3.1 />
<circle class=T cx=235.4 cy=134.7 r=3.1 />
<circle class=T cx=248.5 cy=134.6 r=3.1 />
<circle class=k5 cx=90.3 cy=155.1 r=3.1 />
<circle class=k3 cx=56 cy=152.4 r=3.1 />
<circle class=Y cx=192.6 cy=144 r=3.1 />
<circle class=Y cx=190 cy=143.8 r=3.1 />
<circle class=k4 cx=105.7 cy=153.2 r=3.1 />
<circle class=Z cx=186.9 cy=145.2 r=3.1 />
<circle class=k1 cx=34.4 cy=148.5 r=3.1 />
<circle class=Y cx=162.6 cy=144.3 r=3.1 />
<circle class=W cx=202.7 cy=141.8 r=3.1 />
<circle class=S cx=252.5 cy=134.2 r=3.1 />
<circle class=S cx=261.6 cy=133.9 r=3.1 />
<circle class=S cx=256.7 cy=133.8 r=3.1 />
<circle class=T cx=242.1 cy=135.6 r=3.1 />
<circle class=N cx=330.9 cy=124.9 r=3.1 />
<circle class=T cx=233.1 cy=135.7 r=3.1 />
<circle class=V cx=211.8 cy=139.8 r=3.1 />
<circle class=Y cx=157.7 cy=144.3 r=3.1 />
<circle class=W cx=207.3 cy=140.6 r=3.1 />
<circle class=Y cx=178 cy=143.5 r=3.1 />
<circle class=Y cx=170.7 cy=143.8 r=3.1 />
<circle class=Q cx=308.5 cy=131.5 r=3.1 />
<circle class=S cx=273.9 cy=134 r=3.1 />
<circle class=X cx=200.1 cy=143.1 r=3.1 />
<circle class=S cx=245.3 cy=134.3 r=3.1 />
<circle class=k1 cx=127.7 cy=150.1 r=3.1 />
<circle class=T cx=238.9 cy=134.8 r=3.1 />
<circle class=Y cx=180.8 cy=144.1 r=3.1 />
<circle class=k3 cx=73.3 cy=153.3 r=3.1 />
<circle class=R cx=280.3 cy=132.3 r=3.1 />
<circle class=Y cx=197.3 cy=144.9 r=3.1 />
<circle class=S cx=249.5 cy=134.5 r=3.1 />
<circle class=X cx=204.9 cy=142.8 r=3.1 />
<circle class=R cx=27.1 cy=132.2 r=3.1 />
<circle class=W cx=209.6 cy=140.9 r=3.1 />
<circle class=S cx=268.6 cy=134.5 r=3.1 />
<circle class=Y cx=165.7 cy=145.1 r=3.1 />
<circle class=Y cx=183.6 cy=144.3 r=3.1 />
<circle class=T cx=236.7 cy=136.4 r=3.1 />
<circle class=Y cx=194.8 cy=144.4 r=3.1 />
<circle class=k2 cx=115.4 cy=152.3 r=3.1 />
<circle class=S cx=262.7 cy=133.6 r=3.1 />
<circle class=Y cx=173.4 cy=145 r=3.1 />
<circle class=S cx=253.7 cy=134.2 r=3.1 />
<circle class=Y cx=192.1 cy=144.1 r=3.1 />
<circle class=Y cx=186.4 cy=144.8 r=3.1 />
<circle class=S cx=242.7 cy=135.1 r=3.1 />
<circle class=Y cx=189.2 cy=145 r=3.1 />
<circle class=k4 cx=87.7 cy=154.5 r=3.1 />
<circle class=Y cx=160.9 cy=145.2 r=3.1 />
<circle class=W cx=202.5 cy=142.1 r=3.1 />
<circle class=T cx=259.3 cy=135.9 r=3.1 />
<circle class=T cx=233.9 cy=136.4 r=3.1 />
<circle class=M cx=333.9 cy=124.2 r=3.1 />
<circle class=V cx=211.9 cy=140.5 r=3.1 />
<circle class=Y cx=155.8 cy=145.3 r=3.1 />
<circle class=k4 cx=99.9 cy=155.9 r=3.1 />
<circle class=R cx=274.7 cy=132.9 r=3.1 />
<circle class=Y cx=33.5 cy=145.7 r=3.1 />
<circle class=S cx=246.6 cy=134.9 r=3.1 />
<circle class=k4 cx=46 cy=155.5 r=3.1 />
<circle class=Y cx=176.2 cy=146.1 r=3.1 />
<circle class=X cx=207.2 cy=143.4 r=3.1 />
<circle class=T cx=240.2 cy=136 r=3.1 />
<circle class=Y cx=169 cy=145.5 r=3.1 />
<circle class=Y cx=199.7 cy=144.5 r=3.1 />
<circle class=Q cx=301 cy=132.7 r=3.1 />
<circle class=k1 cx=124.9 cy=150.7 r=3.1 />
<circle class=Y cx=179.6 cy=145.3 r=3.1 />
<circle class=S cx=270.1 cy=134.4 r=3.1 />
<circle class=S cx=251 cy=135.4 r=3.1 />
<circle class=W cx=204.8 cy=142.1 r=3.1 />
<circle class=R cx=263.8 cy=133.2 r=3.1 />
<circle class=X cx=164.9 cy=144.5 r=3.1 />
<circle class=Y cx=197 cy=144.7 r=3.1 />
<circle class=T cx=237.4 cy=136.4 r=3.1 />
<circle class=W cx=209.6 cy=141.4 r=3.1 />
<circle class=S cx=255.5 cy=135.5 r=3.1 />
<circle class=S cx=259.7 cy=134.6 r=3.1 />
<circle class=O cx=324.7 cy=128.6 r=3.1 />
<circle class=Y cx=172.4 cy=145.2 r=3.1 />
<circle class=T cx=244.1 cy=136.2 r=3.1 />
<circle class=Y cx=182.3 cy=146.7 r=3.1 />
<circle class=Y cx=194.2 cy=145.6 r=3.1 />
<circle class=Y cx=185.7 cy=145.1 r=3.1 />
<circle class=k0 cx=132.7 cy=150.1 r=3.1 />
<circle class=Y cx=191.4 cy=145.3 r=3.1 />
<circle class=T cx=235 cy=137.6 r=3.1 />
<circle class=Y cx=159 cy=146.5 r=3.1 />
<circle class=Y cx=188.3 cy=146.4 r=3.1 />
<circle class=k4 cx=110.3 cy=154.9 r=3.1 />
<circle class=L cx=337.2 cy=123.6 r=3.1 />
<circle class=W cx=202.2 cy=143.7 r=3.1 />
<circle class=Y cx=154.3 cy=145.6 r=3.1 />
<circle class=R cx=277.8 cy=134.5 r=3.1 />
<circle class=V cx=212.1 cy=141.6 r=3.1 />
<circle class=k3 cx=84 cy=154.6 r=3.1 />
<circle class=S cx=247.9 cy=135.7 r=3.1 />
<circle class=X cx=175.8 cy=144.9 r=3.1 />
<circle class=S cx=240.9 cy=135.9 r=3.1 />
<circle class=W cx=207.2 cy=143.2 r=3.1 />
<circle class=k4 cx=96.7 cy=156 r=3.1 />
<circle class=Y cx=167.7 cy=146 r=3.1 />
<circle class=R cx=294.5 cy=134.2 r=3.1 />
<circle class=W cx=32.6 cy=142.9 r=3.1 />
<circle class=Q cx=304.8 cy=133.6 r=3.1 />
<circle class=S cx=272.2 cy=135.1 r=3.1 />
<circle class=Y cx=199.4 cy=145.4 r=3.1 />
<circle class=S cx=252.6 cy=136.5 r=3.1 />
<circle class=Y cx=178.8 cy=145.5 r=3.1 />
<circle class=T cx=238.4 cy=137 r=3.1 />
<circle class=k2 cx=120.3 cy=153.3 r=3.1 />
<circle class=Y cx=163 cy=145.9 r=3.1 />
<circle class=S cx=261.6 cy=135.4 r=3.1 />
<circle class=k4 cx=38.8 cy=156.4 r=3.1 />
<circle class=Y cx=196.6 cy=145.8 r=3.1 />
<circle class=T cx=257.7 cy=137.1 r=3.1 />
<circle class=X cx=204.5 cy=144.6 r=3.1 />
</g>
<g class="o16">
<circle class=N cx=327.5 cy=128 r=3.1 />
<circle class=T cx=245.6 cy=137.6 r=3.1 />
<circle class=W cx=209.7 cy=143.5 r=3.1 />
<circle class=Y cx=181.6 cy=146.6 r=3.1 />
<circle class=T cx=268.5 cy=137.8 r=3.1 />
<circle class=Y cx=170.7 cy=147.1 r=3.1 />
<circle class=X cx=158.1 cy=145.7 r=3.1 />
<circle class=T cx=235.9 cy=138.5 r=3.1 />
<circle class=Y cx=193.5 cy=147.1 r=3.1 />
<circle class=k1 cx=129.7 cy=151.4 r=3.1 />
<circle class=Y cx=190.7 cy=146.6 r=3.1 />
<circle class=Y cx=187.8 cy=146.6 r=3.1 />
<circle class=T cx=232.8 cy=137.8 r=3.1 />
<circle class=Y cx=184.4 cy=147.7 r=3.1 />
<circle class=S cx=241.7 cy=135.8 r=3.1 />
<circle class=K cx=340.6 cy=122.9 r=3.1 />
<circle class=S cx=249.5 cy=137 r=3.1 />
<circle class=V cx=212.2 cy=142.2 r=3.1 />
<circle class=X cx=201.9 cy=145 r=3.1 />
<circle class=X cx=174.9 cy=145.1 r=3.1 />
<circle class=k3 cx=106.7 cy=155.8 r=3.1 />
<circle class=Y cx=166.5 cy=146.3 r=3.1 />
<circle class=W cx=207.1 cy=144.8 r=3.1 />
<circle class=R cx=298.1 cy=135.3 r=3.1 />
<circle class=S cx=253.7 cy=136.4 r=3.1 />
<circle class=S cx=274.6 cy=136 r=3.1 />
<circle class=k3 cx=79.2 cy=155.5 r=3.1 />
<circle class=k3 cx=93.5 cy=156 r=3.1 />
<circle class=X cx=199.1 cy=145.5 r=3.1 />
<circle class=Q cx=308.5 cy=134.4 r=3.1 />
<circle class=S cx=239.3 cy=137.5 r=3.1 />
<circle class=V cx=214.8 cy=142.5 r=3.1 />
<circle class=U cx=31.8 cy=140 r=3.1 />
<circle class=X cx=162 cy=145.7 r=3.1 />
<circle class=S cx=269.4 cy=136.9 r=3.1 />
<circle class=Y cx=177.1 cy=148.1 r=3.1 />
<circle class=S cx=264.1 cy=137.3 r=3.1 />
<circle class=T cx=259.6 cy=138.3 r=3.1 />
<circle class=T cx=246.9 cy=138.5 r=3.1 />
<circle class=M cx=330.4 cy=127.4 r=3.1 />
<circle class=W cx=209.7 cy=143.8 r=3.1 />
<circle class=T cx=236.5 cy=138.3 r=3.1 />
<circle class=X cx=170 cy=146.4 r=3.1 />
<circle class=Y cx=196 cy=147.3 r=3.1 />
<circle class=X cx=204.4 cy=146 r=3.1 />
<circle class=Y cx=180.6 cy=147.6 r=3.1 />
<circle class=k1 cx=38.5 cy=153.3 r=3.1 />
<circle class=S cx=233.4 cy=137.8 r=3.1 />
<circle class=k3 cx=114.9 cy=156.6 r=3.1 />
<circle class=Y cx=155.7 cy=147.7 r=3.1 />
<circle class=Y cx=183.8 cy=147.7 r=3.1 />
<circle class=Y cx=193 cy=148.1 r=3.1 />
<circle class=Y cx=190.1 cy=147.4 r=3.1 />
<circle class=Y cx=186.9 cy=147.9 r=3.1 />
<circle class=k1 cx=126.7 cy=152.5 r=3.1 />
<circle class=T cx=251.3 cy=138.4 r=3.1 />
<circle class=X cx=173.7 cy=146 r=3.1 />
<circle class=T cx=243.8 cy=138.9 r=3.1 />
<circle class=X cx=201.6 cy=145.8 r=3.1 />
<circle class=R cx=275.9 cy=135.5 r=3.1 />
<circle class=O cx=321.3 cy=131.6 r=3.1 />
<circle class=W cx=212.3 cy=144.4 r=3.1 />
<circle class=W cx=207 cy=144.2 r=3.1 />
<circle class=k0 cx=135.1 cy=151.1 r=3.1 />
<circle class=Q cx=300.6 cy=135.3 r=3.1 />
<circle class=Y cx=165 cy=147.2 r=3.1 />
<circle class=S cx=255.7 cy=138 r=3.1 />
<circle class=k3 cx=102.8 cy=156.9 r=3.1 />
<circle class=T cx=240.5 cy=138.7 r=3.1 />
<circle class=k3 cx=55.7 cy=156.3 r=3.1 />
<circle class=S cx=265.3 cy=137 r=3.1 />
<circle class=S cx=271.2 cy=137.4 r=3.1 />
<circle class=S cx=247.6 cy=138 r=3.1 />
<circle class=R cx=313.2 cy=135.8 r=3.1 />
<circle class=V cx=215 cy=143.8 r=3.1 />
<circle class=S cx=293.4 cy=137.3 r=3.1 />
<circle class=S cx=261 cy=138.5 r=3.1 />
<circle class=Y cx=176.4 cy=147.8 r=3.1 />
<circle class=Y cx=198.5 cy=148.1 r=3.1 />
<circle class=S cx=30.9 cy=137.2 r=3.1 />
<circle class=k3 cx=72.8 cy=157.4 r=3.1 />
<circle class=L cx=333.4 cy=126.8 r=3.1 />
<circle class=T cx=237.6 cy=139.3 r=3.1 />
<circle class=k4 cx=87.5 cy=158.4 r=3.1 />
<circle class=Y cx=159.3 cy=148.4 r=3.1 />
<circle class=W cx=204.3 cy=145.7 r=3.1 />
<circle class=X cx=168.7 cy=147.2 r=3.1 />
<circle class=W cx=155.3 cy=146.2 r=3.1 />
<circle class=W cx=209.7 cy=145.2 r=3.1 />
<circle class=Y cx=195.6 cy=148.1 r=3.1 />
<circle class=Y cx=179.8 cy=147.9 r=3.1 />
<circle class=T cx=234.6 cy=139.7 r=3.1 />
<circle class=S cx=252.4 cy=138.6 r=3.1 />
<circle class=Y cx=183 cy=148.2 r=3.1 />
<circle class=Z cx=37.7 cy=150.5 r=3.1 />
<circle class=k3 cx=112.4 cy=156.6 r=3.1 />
<circle class=Y cx=192.5 cy=148.4 r=3.1 />
<circle class=S cx=244.6 cy=138.9 r=3.1 />
<circle class=W cx=172.6 cy=146.5 r=3.1 />
<circle class=S cx=256.6 cy=137.6 r=3.1 />
<circle class=Y cx=186 cy=149.4 r=3.1 />
<circle class=Y cx=189.1 cy=149.6 r=3.1 />
<circle class=U cx=232 cy=141.4 r=3.1 />
<circle class=N cx=323.9 cy=131 r=3.1 />
<circle class=W cx=212.4 cy=145 r=3.1 />
<circle class=X cx=201.3 cy=147.7 r=3.1 />
<circle class=W cx=207 cy=145.3 r=3.1 />
<circle class=S cx=241.3 cy=138.8 r=3.1 />
<circle class=X cx=163.5 cy=148 r=3.1 />
<circle class=k2 cx=122 cy=155.4 r=3.1 />
<circle class=S cx=262.3 cy=138.5 r=3.1 />
<circle class=S cx=273.3 cy=138 r=3.1 />
<circle class=k0 cx=131.2 cy=153.5 r=3.1 />
<circle class=Q cx=315.5 cy=135.2 r=3.1 />
<circle class=S cx=249.1 cy=139 r=3.1 />
<circle class=R cx=296 cy=137.6 r=3.1 />
<circle class=V cx=215.2 cy=144.5 r=3.1 />
<circle class=X cx=198.3 cy=147.9 r=3.1 />
<circle class=Y cx=175.4 cy=148.4 r=3.1 />
<circle class=X cx=158.5 cy=147.7 r=3.1 />
<circle class=k4 cx=97.2 cy=159.4 r=3.1 />
<circle class=W cx=167.8 cy=146.9 r=3.1 />
<circle class=K cx=336.7 cy=126.2 r=3.1 />
<circle class=T cx=269.4 cy=140.8 r=3.1 />
<circle class=T cx=238.8 cy=141 r=3.1 />
<circle class=P cx=30.1 cy=134.4 r=3.1 />
<circle class=S cx=245.2 cy=138.2 r=3.1 />
<circle class=X cx=178.9 cy=148.4 r=3.1 />
<circle class=W cx=153.3 cy=147.2 r=3.1 />
<circle class=X cx=204 cy=147.5 r=3.1 />
<circle class=W cx=209.7 cy=146.5 r=3.1 />
<circle class=X cx=192.1 cy=148.1 r=3.1 />
<circle class=T cx=232.2 cy=140.2 r=3.1 />
<circle class=Y cx=195 cy=149.8 r=3.1 />
<circle class=X cx=182.3 cy=148.4 r=3.1 />
<circle class=T cx=235.8 cy=141.5 r=3.1 />
<circle class=k4 cx=82.3 cy=159.8 r=3.1 />
<circle class=k4 cx=46.2 cy=159.2 r=3.1 />
<circle class=T cx=254.7 cy=140.9 r=3.1 />
<circle class=Y cx=188.7 cy=149.1 r=3.1 />
<circle class=X cx=36.8 cy=147.7 r=3.1 />
<circle class=N cx=326.7 cy=130.5 r=3.1 />
<circle class=Y cx=185.3 cy=149.8 r=3.1 />
<circle class=k2 cx=108.9 cy=157.6 r=3.1 />
<circle class=X cx=171.1 cy=148 r=3.1 />
<circle class=S cx=258.9 cy=139.4 r=3.1 />
<circle class=S cx=242.2 cy=139.1 r=3.1 />
<circle class=W cx=212.6 cy=145.8 r=3.1 />
<circle class=X cx=162.2 cy=148.4 r=3.1 />
<circle class=X cx=201 cy=148.6 r=3.1 />
<circle class=S cx=264.2 cy=139.4 r=3.1 />
<circle class=W cx=206.9 cy=147.5 r=3.1 />
<circle class=P cx=317.9 cy=134.6 r=3.1 />
<circle class=k2 cx=119.3 cy=156 r=3.1 />
<circle class=W cx=174.9 cy=147.6 r=3.1 />
<circle class=Q cx=298.2 cy=137.5 r=3.1 />
<circle class=S cx=250.6 cy=140.2 r=3.1 />
<circle class=k0 cx=129 cy=153.9 r=3.1 />
<circle class=S cx=276.4 cy=139.9 r=3.1 />
<circle class=S cx=270.2 cy=139.8 r=3.1 />
<circle class=R cx=310 cy=138.7 r=3.1 />
<circle class=V cx=215.5 cy=145.7 r=3.1 />
<circle class=W cx=166.7 cy=147.2 r=3.1 />
<circle class=X cx=197.9 cy=149.3 r=3.1 />
<circle class=X cx=156.6 cy=148.9 r=3.1 />
<circle class=T cx=240 cy=142.1 r=3.1 />
<circle class=X cx=178.1 cy=148.5 r=3.1 />
<circle class=W cx=209.7 cy=146.8 r=3.1 />
<circle class=X cx=194.7 cy=149.6 r=3.1 />
<circle class=S cx=255.6 cy=140.6 r=3.1 />
<circle class=k4 cx=93 cy=160.4 r=3.1 />
<circle class=X cx=203.8 cy=148.6 r=3.1 />
<circle class=T cx=236.7 cy=142.5 r=3.1 />
<circle class=X cx=191.4 cy=149.6 r=3.1 />
<circle class=T cx=247.9 cy=142.3 r=3.1 />
<circle class=Y cx=181 cy=150.5 r=3.1 />
<circle class=X cx=188.1 cy=149.8 r=3.1 />
<circle class=L cx=329.6 cy=129.9 r=3.1 />
<circle class=V cx=221.5 cy=146.1 r=3.1 />
<circle class=U cx=36 cy=144.9 r=3.1 />
<circle class=S cx=260.7 cy=140.5 r=3.1 />
<circle class=W cx=169.9 cy=148.7 r=3.1 />
<circle class=Y cx=184.5 cy=150.5 r=3.1 />
<circle class=U cx=230.5 cy=143.5 r=3.1 />
<circle class=U cx=233.9 cy=144 r=3.1 />
<circle class=k3 cx=78.5 cy=159.9 r=3.1 />
<circle class=k2 cx=43 cy=157.9 r=3.1 />
<circle class=S cx=243.8 cy=141.1 r=3.1 />
<circle class=X cx=160.7 cy=149 r=3.1 />
<circle class=R cx=271 cy=138.9 r=3.1 />
<circle class=W cx=212.7 cy=147.3 r=3.1 />
<circle class=X cx=200.7 cy=149.4 r=3.1 />
<circle class=O cx=320.4 cy=134.1 r=3.1 />
<circle class=k3 cx=104.7 cy=159.1 r=3.1 />
<circle class=k3 cx=61.1 cy=159.8 r=3.1 />
<circle class=W cx=206.8 cy=148.2 r=3.1 />
<circle class=S cx=278.2 cy=140 r=3.1 />
<circle class=S cx=266.7 cy=141.1 r=3.1 />
<circle class=Q cx=312.2 cy=138.2 r=3.1 />
<circle class=Z cx=135.1 cy=153 r=3.1 />
<circle class=T cx=252.5 cy=142.1 r=3.1 />
<circle class=X cx=173.4 cy=149.3 r=3.1 />
<circle class=S cx=240.5 cy=141.6 r=3.1 />
<circle class=k1 cx=116.3 cy=156.7 r=3.1 />
<circle class=W cx=155.2 cy=149.2 r=3.1 />
<circle class=W cx=165.2 cy=148.1 r=3.1 />
<circle class=X cx=197.5 cy=150 r=3.1 />
<circle class=W cx=215.8 cy=147.8 r=3.1 />
<circle class=S cx=256.7 cy=140.5 r=3.1 />
<circle class=k1 cx=125.1 cy=156.1 r=3.1 />
<circle class=S cx=304.6 cy=141 r=3.1 />
<circle class=V cx=218.7 cy=146.5 r=3.1 />
<circle class=X cx=176.8 cy=150.3 r=3.1 />
<circle class=T cx=237.6 cy=143 r=3.1 />
<circle class=W cx=203.7 cy=149 r=3.1 />
<circle class=X cx=194.2 cy=150.4 r=3.1 />
<circle class=W cx=191.1 cy=149.4 r=3.1 />
<circle class=W cx=209.8 cy=148.6 r=3.1 />
<circle class=U cx=221.7 cy=145.4 r=3.1 />
<circle class=X cx=180.4 cy=150.3 r=3.1 />
<circle class=T cx=249.1 cy=142.9 r=3.1 />
<circle class=T cx=231 cy=143.4 r=3.1 />
<circle class=T cx=234.4 cy=143.7 r=3.1 />
<circle class=X cx=187.5 cy=150.3 r=3.1 />
<circle class=k3 cx=89.3 cy=160.9 r=3.1 />
<circle class=K cx=332.6 cy=129.3 r=3.1 />
<circle class=U cx=224.9 cy=145.2 r=3.1 />
<circle class=X cx=183.9 cy=150.6 r=3.1 />
<circle class=W cx=168.7 cy=149.2 r=3.1 />
<circle class=S cx=295.9 cy=141 r=3.1 />
<circle class=S cx=35.2 cy=142.1 r=3.1 />
<circle class=W cx=159.5 cy=149.2 r=3.1 />
<circle class=W cx=200.5 cy=149.3 r=3.1 />
<circle class=T cx=263.2 cy=142.5 r=3.1 />
<circle class=S cx=267.9 cy=140.8 r=3.1 />
<circle class=T cx=245.3 cy=142.6 r=3.1 />
<circle class=U cx=228.3 cy=146 r=3.1 />
<circle class=k0 cx=42.2 cy=155.1 r=3.1 />
<circle class=N cx=323 cy=133.5 r=3.1 />
<circle class=W cx=212.8 cy=148.8 r=3.1 />
<circle class=Q cx=314.4 cy=137.6 r=3.1 />
<circle class=W cx=172.7 cy=149 r=3.1 />
<circle class=W cx=206.7 cy=149.6 r=3.1 />
<circle class=T cx=254.1 cy=143.1 r=3.1 />
<circle class=S cx=274.8 cy=141.8 r=3.1 />
<circle class=Z cx=132.7 cy=153.7 r=3.1 />
<circle class=T cx=241.9 cy=143.4 r=3.1 />
<circle class=V cx=215.9 cy=147.8 r=3.1 />
<circle class=k3 cx=100.2 cy=160.8 r=3.1 />
<circle class=W cx=163.6 cy=149.3 r=3.1 />
<circle class=X cx=153.1 cy=150.4 r=3.1 />
<circle class=X cx=197.1 cy=151.3 r=3.1 />
<circle class=T cx=238.3 cy=143.2 r=3.1 />
<circle class=S cx=258.7 cy=142.1 r=3.1 />
<circle class=S cx=249.8 cy=142.2 r=3.1 />
<circle class=k2 cx=112.2 cy=158.5 r=3.1 />
<circle class=k0 cx=122.4 cy=156.8 r=3.1 />
<circle class=S cx=307.8 cy=141.5 r=3.1 />
<circle class=V cx=219.1 cy=147.5 r=3.1 />
<circle class=W cx=179.9 cy=149.8 r=3.1 />
<circle class=T cx=235 cy=143.7 r=3.1 />
<circle class=X cx=175.6 cy=151.5 r=3.1 />
<circle class=X cx=193.7 cy=151.4 r=3.1 />
<circle class=W cx=203.5 cy=150.3 r=3.1 />
<circle class=W cx=209.8 cy=149.6 r=3.1 />
<circle class=U cx=222.2 cy=146.8 r=3.1 />
<circle class=W cx=158.5 cy=148.8 r=3.1 />
<circle class=X cx=190.2 cy=151.6 r=3.1 />
<circle class=T cx=228.6 cy=145.4 r=3.1 />
<circle class=X cx=183.1 cy=151.5 r=3.1 />
<circle class=U cx=225.5 cy=146.7 r=3.1 />
<circle class=V cx=212.9 cy=148 r=3.1 />
<circle class=Q cx=34.3 cy=139.4 r=3.1 />
<circle class=W cx=167.2 cy=150.5 r=3.1 />
<circle class=S cx=264.9 cy=143.1 r=3.1 />
<circle class=M cx=325.7 cy=133 r=3.1 />
<circle class=Y cx=186.4 cy=152.9 r=3.1 />
<circle class=U cx=232.4 cy=146.8 r=3.1 />
<circle class=S cx=255 cy=142.7 r=3.1 />
<circle class=X cx=41.4 cy=152.4 r=3.1 />
<circle class=W cx=200.2 cy=151 r=3.1 />
<circle class=P cx=316.8 cy=137.1 r=3.1 />
<circle class=k3 cx=84.9 cy=161.8 r=3.1 />
<circle class=R cx=276.2 cy=141.6 r=3.1 />
<circle class=T cx=247.1 cy=144.9 r=3.1 />
<circle class=W cx=171.1 cy=150.8 r=3.1 />
<circle class=T cx=271.5 cy=143.9 r=3.1 />
<circle class=S cx=292.2 cy=143.2 r=3.1 />
<circle class=W cx=206.6 cy=151.2 r=3.1 />
<circle class=T cx=243.1 cy=144.4 r=3.1 />
<circle class=W cx=175.5 cy=149.6 r=3.1 />
<circle class=W cx=196.8 cy=151.2 r=3.1 />
<circle class=W cx=151.6 cy=150.7 r=3.1 />
<circle class=W cx=162.3 cy=149.9 r=3.1 />
<circle class=S cx=239.2 cy=143.9 r=3.1 />
<circle class=W cx=216.2 cy=149.5 r=3.1 />
<circle class=Q cx=309.9 cy=141 r=3.1 />
<circle class=Z cx=129.1 cy=155.8 r=3.1 />
<circle class=W cx=193.4 cy=151.1 r=3.1 />
<circle class=S cx=260.9 cy=143.8 r=3.1 />
<circle class=S cx=251.6 cy=144 r=3.1 />
<circle class=V cx=209.8 cy=149.6 r=3.1 />
<circle class=T cx=225.7 cy=145.4 r=3.1 />
<circle class=k0 cx=119.8 cy=157.2 r=3.1 />
<circle class=k3 cx=95.9 cy=162.1 r=3.1 />
<circle class=W cx=182.7 cy=150.6 r=3.1 />
<circle class=V cx=219.5 cy=149.1 r=3.1 />
<circle class=U cx=222.6 cy=147.5 r=3.1 />
<circle class=T cx=236.1 cy=145.4 r=3.1 />
<circle class=V cx=166.5 cy=149.7 r=3.1 />
<circle class=T cx=229.2 cy=145.9 r=3.1 />
<circle class=T cx=232.6 cy=145.7 r=3.1 />
<circle class=W cx=203.3 cy=151.9 r=3.1 />
<circle class=V cx=156.9 cy=149.5 r=3.1 />
<circle class=X cx=189.6 cy=152.5 r=3.1 />
<circle class=X cx=178.3 cy=152.7 r=3.1 />
<circle class=S cx=266.6 cy=143.6 r=3.1 />
<circle class=X cx=185.9 cy=152.7 r=3.1 />
<circle class=k2 cx=106.7 cy=161.5 r=3.1 />
<circle class=R cx=271.9 cy=142.4 r=3.1 />
<circle class=k3 cx=47.9 cy=162.4 r=3.1 />
<circle class=L cx=328.5 cy=132.4 r=3.1 />
<circle class=S cx=256.4 cy=143.4 r=3.1 />
<circle class=V cx=213.1 cy=149.6 r=3.1 />
<circle class=N cx=319.2 cy=136.6 r=3.1 />
<circle class=T cx=248 cy=145 r=3.1 />
<circle class=V cx=40.6 cy=149.6 r=3.1 />
<circle class=W cx=199.9 cy=151.7 r=3.1 />
<circle class=V cx=170.5 cy=150 r=3.1 />
<circle class=S cx=304.4 cy=144.5 r=3.1 />
<circle class=V cx=161.3 cy=149.6 r=3.1 />
<circle class=W cx=206.5 cy=151.9 r=3.1 />
<circle class=W cx=150.2 cy=150.8 r=3.1 />
<circle class=V cx=216.4 cy=149.4 r=3.1 />
<circle class=W cx=174.3 cy=150.7 r=3.1 />
<circle class=S cx=295.2 cy=144.2 r=3.1 />
<circle class=Y cx=135.2 cy=155.3 r=3.1 />
<circle class=W cx=196.4 cy=152.2 r=3.1 />
<circle class=Q cx=312 cy=140.4 r=3.1 />
<circle class=S cx=262.2 cy=143.8 r=3.1 />
<circle class=T cx=244.7 cy=146.5 r=3.1 />
<circle class=S cx=280.8 cy=145.2 r=3.1 />
<circle class=T cx=240.5 cy=145.6 r=3.1 />
<circle class=V cx=178.2 cy=150.7 r=3.1 />
<circle class=k4 cx=78.5 cy=164.2 r=3.1 />
<circle class=U cx=219.7 cy=148.7 r=3.1 />
<circle class=S cx=253 cy=145 r=3.1 />
<circle class=W cx=203.2 cy=151.3 r=3.1 />
<circle class=W cx=192.7 cy=152.7 r=3.1 />
<circle class=W cx=181.8 cy=151.8 r=3.1 />
<circle class=W cx=185.5 cy=151.9 r=3.1 />
<circle class=T cx=237.1 cy=146.7 r=3.1 />
<circle class=W cx=209.8 cy=151.6 r=3.1 />
<circle class=k0 cx=125.6 cy=157.6 r=3.1 />
<circle class=U cx=223.2 cy=148.9 r=3.1 />
<circle class=T cx=233.4 cy=146.8 r=3.1 />
<circle class=W cx=142.6 cy=152.5 r=3.1 />
<circle class=X cx=189 cy=153.2 r=3.1 />
<circle class=W cx=164.9 cy=151.2 r=3.1 />
<circle class=k2 cx=92 cy=162.9 r=3.1 />
<circle class=V cx=154.9 cy=150.8 r=3.1 />
<circle class=U cx=230.1 cy=148.1 r=3.1 />
<circle class=N cx=321.7 cy=136 r=3.1 />
<circle class=k0 cx=47.1 cy=159.6 r=3.1 />
<circle class=K cx=331.5 cy=131.9 r=3.1 />
<circle class=V cx=213.2 cy=150.2 r=3.1 />
<circle class=T cx=39.8 cy=146.8 r=3.1 />
<circle class=k2 cx=103.8 cy=161.8 r=3.1 />
<circle class=T cx=249.6 cy=146.6 r=3.1 />
<circle class=V cx=196.3 cy=151 r=3.1 />
<circle class=k4 cx=59.9 cy=164.9 r=3.1 />
<circle class=V cx=227 cy=150.7 r=3.1 />
<circle class=R cx=306.3 cy=144 r=3.1 />
<circle class=k2 cx=113.6 cy=161.6 r=3.1 />
<circle class=W cx=199.5 cy=153.4 r=3.1 />
<circle class=W cx=206.5 cy=152.3 r=3.1 />
<circle class=W cx=168.6 cy=152.5 r=3.1 />
<circle class=V cx=173.4 cy=151 r=3.1 />
<circle class=T cx=259.3 cy=146.6 r=3.1 />
<circle class=P cx=314.2 cy=139.9 r=3.1 />
<circle class=V cx=216.6 cy=150.5 r=3.1 />
<circle class=S cx=276.2 cy=146.1 r=3.1 />
<circle class=V cx=159.2 cy=151.5 r=3.1 />
<circle class=T cx=245.8 cy=147.2 r=3.1 />
<circle class=W cx=147.8 cy=152.3 r=3.1 />
<circle class=S cx=290.9 cy=146.1 r=3.1 />
<circle class=W cx=203 cy=152.1 r=3.1 />
<circle class=T cx=241.9 cy=147.4 r=3.1 />
<circle class=S cx=264.8 cy=146 r=3.1 />
<circle class=W cx=188.6 cy=152.6 r=3.1 />
<circle class=V cx=164.1 cy=150.6 r=3.1 />
<circle class=W cx=176.8 cy=152.7 r=3.1 />
<circle class=Z cx=131.4 cy=157.9 r=3.1 />
<circle class=W cx=192.1 cy=154.1 r=3.1 />
<circle class=T cx=284.5 cy=147.6 r=3.1 />
<circle class=T cx=255.1 cy=147 r=3.1 />
<circle class=T cx=238.1 cy=147.8 r=3.1 />
<circle class=U cx=223.6 cy=149.9 r=3.1 />
<circle class=W cx=180.7 cy=153.2 r=3.1 />
<circle class=W cx=184.6 cy=153.3 r=3.1 />
<circle class=W cx=209.9 cy=153 r=3.1 />
<circle class=V cx=153.5 cy=151.2 r=3.1 />
<circle class=V cx=220.3 cy=152 r=3.1 />
<circle class=k4 cx=72.8 cy=165.9 r=3.1 />
<circle class=L cx=324.4 cy=135.5 r=3.1 />
<circle class=Y cx=46.3 cy=156.9 r=3.1 />
<circle class=R cx=39 cy=144.1 r=3.1 />
<circle class=T cx=301.9 cy=148.7 r=3.1 />
<circle class=V cx=213.3 cy=151.1 r=3.1 />
<circle class=V cx=168.4 cy=150.8 r=3.1 />
<circle class=W cx=139.8 cy=154.1 r=3.1 />
<circle class=U cx=234.7 cy=149.3 r=3.1 />
<circle class=S cx=250.6 cy=146.7 r=3.1 />
<circle class=U cx=227.4 cy=150.5 r=3.1 />
<circle class=k0 cx=121.8 cy=159.7 r=3.1 />
<circle class=U cx=231 cy=149.9 r=3.1 />
<circle class=Q cx=308.4 cy=143.5 r=3.1 />
<circle class=V cx=206.4 cy=152.4 r=3.1 />
<circle class=V cx=172.5 cy=151 r=3.1 />
<circle class=W cx=199.2 cy=154.4 r=3.1 />
<circle class=k1 cx=111.1 cy=161.6 r=3.1 />
<circle class=N cx=316.5 cy=139.3 r=3.1 />
<circle class=T cx=261 cy=147.5 r=3.1 />
<circle class=k3 cx=85.7 cy=165.7 r=3.1 />
<circle class=k2 cx=99.2 cy=163.6 r=3.1 />
<circle class=V cx=216.9 cy=151.9 r=3.1 />
<circle class=V cx=176.4 cy=151.9 r=3.1 />
<circle class=V cx=157.4 cy=152.7 r=3.1 />
<circle class=T cx=247.3 cy=148.8 r=3.1 />
<circle class=X cx=195.4 cy=155.3 r=3.1 />
<circle class=k4 cx=53.1 cy=166.6 r=3.1 />
<circle class=T cx=279.7 cy=148.6 r=3.1 />
<circle class=W cx=145 cy=154.4 r=3.1 />
<circle class=W cx=191.7 cy=154.3 r=3.1 />
<circle class=T cx=243.1 cy=148.8 r=3.1 />
<circle class=V cx=180.1 cy=153 r=3.1 />
<circle class=V cx=184.1 cy=153.2 r=3.1 />
<circle class=W cx=187.9 cy=153.7 r=3.1 />
<circle class=S cx=302.7 cy=147.1 r=3.1 />
<circle class=V cx=220.6 cy=152.1 r=3.1 />
<circle class=T cx=239.1 cy=148.7 r=3.1 />
<circle class=T cx=256.7 cy=148.1 r=3.1 />
<circle class=V cx=162.3 cy=152.2 r=3.1 />
<circle class=W cx=45.5 cy=154.1 r=3.1 />
<circle class=K cx=327.1 cy=135 r=3.1 />
<circle class=V cx=151.5 cy=152.2 r=3.1 />
<circle class=T cx=235.4 cy=149.7 r=3.1 />
<circle class=U cx=227.9 cy=150.7 r=3.1 />
<circle class=Z cx=128.1 cy=159.7 r=3.1 />
<circle class=S cx=251.8 cy=147.2 r=3.1 />
<circle class=W cx=209.9 cy=154.6 r=3.1 />
<circle class=W cx=202.6 cy=155.3 r=3.1 />
<circle class=V cx=224.3 cy=152.3 r=3.1 />
<circle class=P cx=310.4 cy=142.9 r=3.1 />
<circle class=U cx=231.8 cy=150.9 r=3.1 />
<circle class=U cx=157.4 cy=150.5 r=3.1 />
<circle class=V cx=166.5 cy=152.9 r=3.1 />
<circle class=W cx=198.9 cy=155 r=3.1 />
<circle class=N cx=318.9 cy=138.8 r=3.1 />
<circle class=V cx=171.1 cy=152.5 r=3.1 />
<circle class=W cx=213.6 cy=154.3 r=3.1 />
<circle class=U cx=175.6 cy=152.1 r=3.1 />
<circle class=X cx=135.9 cy=157.3 r=3.1 />
<circle class=W cx=206.3 cy=154.7 r=3.1 />
<circle class=T cx=248.2 cy=148.8 r=3.1 />
</g>
<g class="o17">
<circle class=k0 cx=116.9 cy=162.9 r=3.1 />
<circle class=W cx=195.1 cy=155.1 r=3.1 />
<circle class=T cx=263.3 cy=149.4 r=3.1 />
<circle class=V cx=217.2 cy=153.3 r=3.1 />
<circle class=U cx=161.6 cy=151.4 r=3.1 />
<circle class=k1 cx=52.3 cy=163.9 r=3.1 />
<circle class=R cx=304.6 cy=146.5 r=3.1 />
<circle class=W cx=143.3 cy=154.7 r=3.1 />
<circle class=V cx=179.3 cy=153.7 r=3.1 />
<circle class=V cx=183.4 cy=153.8 r=3.1 />
<circle class=W cx=191.1 cy=155.2 r=3.1 />
<circle class=U cx=220.9 cy=152.7 r=3.1 />
<circle class=T cx=240 cy=149.5 r=3.1 />
<circle class=U cx=224.6 cy=151.6 r=3.1 />
<circle class=U cx=44.8 cy=151.4 r=3.1 />
<circle class=U cx=150.3 cy=152.1 r=3.1 />
<circle class=T cx=282.7 cy=150.3 r=3.1 />
<circle class=k2 cx=105 cy=165.5 r=3.1 />
<circle class=V cx=209.9 cy=154.5 r=3.1 />
<circle class=T cx=244.6 cy=150.7 r=3.1 />
<circle class=W cx=202.5 cy=155.6 r=3.1 />
<circle class=O cx=312.6 cy=142.4 r=3.1 />
<circle class=T cx=258.8 cy=149.9 r=3.1 />
<circle class=k4 cx=78.4 cy=169.1 r=3.1 />
<circle class=U cx=228.5 cy=151.7 r=3.1 />
<circle class=U cx=165.7 cy=152.6 r=3.1 />
<circle class=W cx=186.8 cy=156.6 r=3.1 />
<circle class=T cx=236.4 cy=151.2 r=3.1 />
<circle class=S cx=253.6 cy=148.9 r=3.1 />
<circle class=k3 cx=91.5 cy=168.2 r=3.1 />
<circle class=Z cx=125.4 cy=160.7 r=3.1 />
<circle class=T cx=299 cy=150.1 r=3.1 />
<circle class=L cx=321.4 cy=138.3 r=3.1 />
<circle class=W cx=198.6 cy=156.2 r=3.1 />
<circle class=V cx=206.2 cy=154.9 r=3.1 />
<circle class=U cx=232.9 cy=153.4 r=3.1 />
<circle class=U cx=292.2 cy=152.2 r=3.1 />
<circle class=V cx=213.7 cy=155.2 r=3.1 />
<circle class=U cx=169.9 cy=153.4 r=3.1 />
<circle class=W cx=134 cy=157.4 r=3.1 />
<circle class=U cx=217.4 cy=153.6 r=3.1 />
<circle class=Z cx=51.5 cy=161.2 r=3.1 />
<circle class=Q cx=306.5 cy=145.9 r=3.1 />
<circle class=T cx=249.8 cy=150.6 r=3.1 />
<circle class=V cx=174.1 cy=154.1 r=3.1 />
<circle class=V cx=154 cy=154.4 r=3.1 />
<circle class=V cx=190.7 cy=155.3 r=3.1 />
<circle class=S cx=44 cy=148.7 r=3.1 />
<circle class=V cx=178.3 cy=154.6 r=3.1 />
<circle class=k0 cx=113.5 cy=164.2 r=3.1 />
<circle class=V cx=186.5 cy=155.8 r=3.1 />
<circle class=W cx=202.3 cy=156 r=3.1 />
<circle class=N cx=314.8 cy=141.8 r=3.1 />
<circle class=V cx=182.3 cy=155.7 r=3.1 />
<circle class=T cx=245.8 cy=151.7 r=3.1 />
<circle class=X cx=194.3 cy=158.4 r=3.1 />
<circle class=U cx=159.1 cy=154.2 r=3.1 />
<circle class=U cx=225.3 cy=153.8 r=3.1 />
<circle class=T cx=237.2 cy=151.8 r=3.1 />
<circle class=W cx=140 cy=157.3 r=3.1 />
<circle class=k4 cx=58.7 cy=170.6 r=3.1 />
<circle class=U cx=147.7 cy=154 r=3.1 />
<circle class=U cx=164.4 cy=153.3 r=3.1 />
<circle class=W cx=210 cy=156.7 r=3.1 />
<circle class=S cx=300.8 cy=149.6 r=3.1 />
<circle class=T cx=233.2 cy=152.6 r=3.1 />
<circle class=T cx=241.7 cy=152.4 r=3.1 />
<circle class=U cx=229.3 cy=153.4 r=3.1 />
<circle class=K cx=324 cy=137.7 r=3.1 />
<circle class=W cx=221.6 cy=156.4 r=3.1 />
<circle class=k2 cx=100.2 cy=167.6 r=3.1 />
<circle class=U cx=287.1 cy=153.6 r=3.1 />
<circle class=T cx=261.5 cy=152.9 r=3.1 />
<circle class=k4 cx=73.3 cy=170.4 r=3.1 />
<circle class=U cx=168.7 cy=154.1 r=3.1 />
<circle class=V cx=206.1 cy=155.9 r=3.1 />
<circle class=W cx=198.2 cy=157.4 r=3.1 />
<circle class=W cx=50.8 cy=158.5 r=3.1 />
<circle class=V cx=213.9 cy=156.3 r=3.1 />
<circle class=P cx=308.5 cy=145.4 r=3.1 />
<circle class=T cx=295.2 cy=153.2 r=3.1 />
<circle class=U cx=152.9 cy=154.2 r=3.1 />
<circle class=T cx=256.2 cy=152.2 r=3.1 />
<circle class=U cx=173.2 cy=154.4 r=3.1 />
<circle class=P cx=43.2 cy=146 r=3.1 />
<circle class=W cx=194.2 cy=157.1 r=3.1 />
<circle class=T cx=251.5 cy=152.3 r=3.1 />
<circle class=V cx=217.9 cy=156.5 r=3.1 />
<circle class=V cx=210 cy=155.7 r=3.1 />
<circle class=M cx=317.1 cy=141.3 r=3.1 />
<circle class=V cx=185.8 cy=156.5 r=3.1 />
<circle class=U cx=157.7 cy=154.7 r=3.1 />
<circle class=V cx=177 cy=156.5 r=3.1 />
<circle class=k2 cx=57.8 cy=168 r=3.1 />
<circle class=k1 cx=118.7 cy=166.3 r=3.1 />
<circle class=Q cx=302.5 cy=149 r=3.1 />
<circle class=T cx=163.3 cy=153.5 r=3.1 />
<circle class=V cx=181.2 cy=157.5 r=3.1 />
<circle class=T cx=247.4 cy=153.6 r=3.1 />
<circle class=W cx=189.6 cy=159 r=3.1 />
<circle class=T cx=168.2 cy=153.3 r=3.1 />
<circle class=T cx=238.3 cy=153.4 r=3.1 />
<circle class=T cx=234.1 cy=154 r=3.1 />
<circle class=W cx=202 cy=158.9 r=3.1 />
<circle class=U cx=230 cy=155 r=3.1 />
<circle class=Z cx=127.8 cy=163.2 r=3.1 />
<circle class=T cx=243 cy=154.2 r=3.1 />
<circle class=V cx=226.1 cy=156.2 r=3.1 />
<circle class=U cx=50.1 cy=155.8 r=3.1 />
<circle class=V cx=222.1 cy=157.8 r=3.1 />
<circle class=T cx=296.8 cy=152.6 r=3.1 />
<circle class=O cx=310.5 cy=144.8 r=3.1 />
<circle class=X cx=136.3 cy=160.2 r=3.1 />
<circle class=T cx=263.7 cy=154.7 r=3.1 />
<circle class=U cx=176.8 cy=154.9 r=3.1 />
<circle class=k2 cx=106.1 cy=169.6 r=3.1 />
<circle class=W cx=197.7 cy=159.6 r=3.1 />
<circle class=U cx=171.9 cy=155.9 r=3.1 />
<circle class=U cx=291 cy=156 r=3.1 />
<circle class=T cx=258.3 cy=154.1 r=3.1 />
<circle class=k2 cx=82.7 cy=170.4 r=3.1 />
<circle class=W cx=193.6 cy=158.5 r=3.1 />
<circle class=W cx=143.2 cy=158.8 r=3.1 />
<circle class=V cx=218.1 cy=156.9 r=3.1 />
<circle class=L cx=319.4 cy=140.7 r=3.1 />
<circle class=W cx=205.9 cy=159.1 r=3.1 />
<circle class=U cx=150.2 cy=156.5 r=3.1 />
<circle class=k0 cx=57.1 cy=165.3 r=3.1 />
<circle class=W cx=214.1 cy=159.6 r=3.1 />
<circle class=Q cx=304.4 cy=148.4 r=3.1 />
<circle class=V cx=189.3 cy=158.4 r=3.1 />
<circle class=T cx=156.2 cy=155.3 r=3.1 />
<circle class=V cx=180.7 cy=157.3 r=3.1 />
<circle class=V cx=185 cy=157.8 r=3.1 />
<circle class=T cx=162 cy=154 r=3.1 />
<circle class=k3 cx=93.1 cy=172 r=3.1 />
<circle class=U cx=277.5 cy=156.8 r=3.1 />
<circle class=V cx=201.8 cy=158.5 r=3.1 />
<circle class=T cx=253.8 cy=155.4 r=3.1 />
<circle class=S cx=49.3 cy=153.1 r=3.1 />
<circle class=T cx=248.6 cy=154.6 r=3.1 />
<circle class=k0 cx=115.6 cy=167.3 r=3.1 />
<circle class=k5 cx=64.1 cy=174.8 r=3.1 />
<circle class=R cx=298.4 cy=152 r=3.1 />
<circle class=N cx=312.6 cy=144.2 r=3.1 />
<circle class=W cx=210 cy=159.6 r=3.1 />
<circle class=V cx=222.5 cy=158.7 r=3.1 />
<circle class=U cx=226.6 cy=157.4 r=3.1 />
<circle class=T cx=166.1 cy=156 r=3.1 />
<circle class=Y cx=124.7 cy=164.7 r=3.1 />
<circle class=W cx=197.5 cy=159.8 r=3.1 />
<circle class=T cx=292.7 cy=155.6 r=3.1 />
<circle class=V cx=214.2 cy=158.8 r=3.1 />
<circle class=U cx=244.7 cy=157 r=3.1 />
<circle class=U cx=235.5 cy=157.5 r=3.1 />
<circle class=V cx=141.8 cy=158.6 r=3.1 />
<circle class=X cx=56.4 cy=162.6 r=3.1 />
<circle class=U cx=240.1 cy=157.3 r=3.1 />
<circle class=V cx=286.6 cy=158.5 r=3.1 />
<circle class=V cx=193.2 cy=159.1 r=3.1 />
<circle class=U cx=170.7 cy=156.8 r=3.1 />
<circle class=K cx=321.9 cy=140.2 r=3.1 />
<circle class=V cx=231.3 cy=158.7 r=3.1 />
<circle class=P cx=306.2 cy=147.8 r=3.1 />
<circle class=U cx=148.5 cy=157.1 r=3.1 />
<circle class=U cx=266.4 cy=157.3 r=3.1 />
<circle class=Y cx=132.2 cy=163.5 r=3.1 />
<circle class=T cx=260.4 cy=156.1 r=3.1 />
<circle class=Q cx=48.6 cy=150.4 r=3.1 />
<circle class=U cx=175.1 cy=158.1 r=3.1 />
<circle class=k2 cx=63.6 cy=171.9 r=3.1 />
<circle class=W cx=205.8 cy=162 r=3.1 />
<circle class=Q cx=300.1 cy=151.4 r=3.1 />
<circle class=W cx=188.4 cy=160.8 r=3.1 />
<circle class=V cx=179.4 cy=159.5 r=3.1 />
<circle class=V cx=210.1 cy=159.5 r=3.1 />
<circle class=L cx=314.8 cy=143.7 r=3.1 />
<circle class=U cx=153.8 cy=157.6 r=3.1 />
<circle class=W cx=218.6 cy=160.8 r=3.1 />
<circle class=W cx=183.8 cy=160.8 r=3.1 />
<circle class=T cx=159.6 cy=156.9 r=3.1 />
<circle class=W cx=201.5 cy=161.5 r=3.1 />
<circle class=S cx=294.2 cy=155 r=3.1 />
<circle class=V cx=55.7 cy=159.9 r=3.1 />
<circle class=V cx=223.1 cy=160.8 r=3.1 />
<circle class=V cx=197.1 cy=160.6 r=3.1 />
<circle class=U cx=274.1 cy=158.2 r=3.1 />
<circle class=U cx=256.6 cy=159.2 r=3.1 />
<circle class=N cx=308.2 cy=147.2 r=3.1 />
<circle class=U cx=251.1 cy=158.5 r=3.1 />
<circle class=U cx=164.3 cy=157.9 r=3.1 />
<circle class=U cx=288.5 cy=158.7 r=3.1 />
<circle class=U cx=246 cy=158.4 r=3.1 />
<circle class=V cx=227.6 cy=160.5 r=3.1 />
<circle class=T cx=174.5 cy=157.6 r=3.1 />
<circle class=U cx=169.4 cy=158.1 r=3.1 />
<circle class=V cx=214.4 cy=161 r=3.1 />
<circle class=U cx=241.3 cy=159.1 r=3.1 />
<circle class=k0 cx=63 cy=169.2 r=3.1 />
<circle class=k2 cx=109.5 cy=171.7 r=3.1 />
<circle class=V cx=192.5 cy=161.3 r=3.1 />
<circle class=V cx=236.9 cy=160.2 r=3.1 />
<circle class=P cx=301.9 cy=150.8 r=3.1 />
<circle class=U cx=178.8 cy=159.4 r=3.1 />
<circle class=W cx=205.7 cy=162.6 r=3.1 />
<circle class=K cx=317 cy=143.1 r=3.1 />
<circle class=V cx=187.9 cy=161.4 r=3.1 />
<circle class=U cx=145.6 cy=159.7 r=3.1 />
<circle class=W cx=232.6 cy=162.2 r=3.1 />
<circle class=V cx=183.1 cy=161.2 r=3.1 />
<circle class=T cx=55 cy=157.2 r=3.1 />
<circle class=V cx=269.6 cy=160.5 r=3.1 />
<circle class=R cx=295.8 cy=154.4 r=3.1 />
<circle class=T cx=158.1 cy=157.6 r=3.1 />
<circle class=W cx=219 cy=162.3 r=3.1 />
<circle class=k0 cx=118.1 cy=170.5 r=3.1 />
<circle class=U cx=151.5 cy=159.5 r=3.1 />
<circle class=M cx=310.1 cy=146.6 r=3.1 />
<circle class=T cx=289.9 cy=158 r=3.1 />
<circle class=V cx=223.5 cy=161.6 r=3.1 />
<circle class=X cx=136.2 cy=164.7 r=3.1 />
<circle class=Y cx=127.3 cy=167.9 r=3.1 />
<circle class=k3 cx=95.6 cy=175.2 r=3.1 />
<circle class=U cx=263.9 cy=160.7 r=3.1 />
<circle class=Y cx=62.3 cy=166.5 r=3.1 />
<circle class=W cx=210.1 cy=163.1 r=3.1 />
<circle class=W cx=201.1 cy=164.5 r=3.1 />
<circle class=T cx=162.7 cy=159.2 r=3.1 />
<circle class=U cx=232.8 cy=160.8 r=3.1 />
<circle class=k3 cx=69.7 cy=175.6 r=3.1 />
<circle class=O cx=303.6 cy=150.2 r=3.1 />
<circle class=W cx=196.6 cy=163.3 r=3.1 />
<circle class=V cx=228.3 cy=162.6 r=3.1 />
<circle class=V cx=214.6 cy=162.9 r=3.1 />
<circle class=U cx=237.8 cy=161.4 r=3.1 />
<circle class=Q cx=54.3 cy=154.6 r=3.1 />
<circle class=U cx=167.6 cy=160.3 r=3.1 />
<circle class=V cx=259.3 cy=162.7 r=3.1 />
<circle class=V cx=191.9 cy=163.1 r=3.1 />
<circle class=V cx=242.9 cy=161.8 r=3.1 />
<circle class=U cx=172.7 cy=160.7 r=3.1 />
<circle class=Q cx=297.4 cy=153.7 r=3.1 />
<circle class=V cx=278.2 cy=162.3 r=3.1 />
<circle class=V cx=253.7 cy=162.6 r=3.1 />
<circle class=V cx=182.4 cy=162.1 r=3.1 />
<circle class=U cx=177.5 cy=161.7 r=3.1 />
<circle class=S cx=291.3 cy=157.4 r=3.1 />
<circle class=W cx=61.6 cy=163.9 r=3.1 />
<circle class=W cx=205.5 cy=165.3 r=3.1 />
<circle class=L cx=312.2 cy=146 r=3.1 />
<circle class=W cx=248.9 cy=164 r=3.1 />
<circle class=U cx=285.5 cy=161.1 r=3.1 />
<circle class=W cx=219.4 cy=164.2 r=3.1 />
<circle class=W cx=186.7 cy=164.6 r=3.1 />
<circle class=k1 cx=69.1 cy=172.9 r=3.1 />
<circle class=N cx=305.4 cy=149.5 r=3.1 />
<circle class=O cx=53.6 cy=151.9 r=3.1 />
<circle class=T cx=161.4 cy=160 r=3.1 />
<circle class=W cx=210.2 cy=164.9 r=3.1 />
<circle class=U cx=148.6 cy=162.3 r=3.1 />
<circle class=W cx=224.2 cy=164.7 r=3.1 />
<circle class=U cx=154.7 cy=162.1 r=3.1 />
<circle class=P cx=299 cy=153.1 r=3.1 />
<circle class=Y cx=132 cy=168.3 r=3.1 />
<circle class=X cx=200.7 cy=167.5 r=3.1 />
<circle class=V cx=191.3 cy=164.1 r=3.1 />
<circle class=V cx=267.2 cy=164.6 r=3.1 />
<circle class=T cx=60.9 cy=161.2 r=3.1 />
<circle class=U cx=166.1 cy=161.7 r=3.1 />
<circle class=W cx=196 cy=165.8 r=3.1 />
<circle class=V cx=229.2 cy=164.8 r=3.1 />
<circle class=W cx=139.9 cy=166.4 r=3.1 />
<circle class=R cx=292.8 cy=156.7 r=3.1 />
<circle class=V cx=234 cy=164.2 r=3.1 />
<circle class=K cx=314.2 cy=145.3 r=3.1 />
<circle class=k2 cx=111.1 cy=176.5 r=3.1 />
<circle class=T cx=286.8 cy=160.4 r=3.1 />
<circle class=Y cx=68.4 cy=170.3 r=3.1 />
<circle class=V cx=281 cy=164.2 r=3.1 />
<circle class=k4 cx=76 cy=179.1 r=3.1 />
<circle class=W cx=205.4 cy=166.6 r=3.1 />
<circle class=V cx=176.1 cy=163.8 r=3.1 />
<circle class=V cx=170.8 cy=163.9 r=3.1 />
<circle class=M cx=307.2 cy=148.9 r=3.1 />
<circle class=W cx=215 cy=167.5 r=3.1 />
<circle class=k1 cx=119.7 cy=175.4 r=3.1 />
<circle class=W cx=239.8 cy=166.6 r=3.1 />
<circle class=W cx=245.1 cy=166.4 r=3.1 />
<circle class=W cx=185.8 cy=166.9 r=3.1 />
<circle class=W cx=250.7 cy=166.4 r=3.1 />
<circle class=W cx=180.8 cy=166 r=3.1 />
<circle class=N cx=300.6 cy=152.4 r=3.1 />
<circle class=R cx=60.3 cy=158.6 r=3.1 />
<circle class=W cx=219.9 cy=167.1 r=3.1 />
</g>
<g class="o18">
<circle class=Q cx=294.3 cy=156 r=3.1 />
<circle class=W cx=200.5 cy=167.8 r=3.1 />
<circle class=V cx=275.7 cy=166.1 r=3.1 />
<circle class=W cx=67.8 cy=167.7 r=3.1 />
<circle class=S cx=288.1 cy=159.6 r=3.1 />
<circle class=W cx=210.2 cy=168 r=3.1 />
<circle class=k1 cx=75.4 cy=176.5 r=3.1 />
<circle class=U cx=282.2 cy=163.4 r=3.1 />
<circle class=U cx=152.4 cy=164.2 r=3.1 />
<circle class=k4 cx=96.3 cy=180.9 r=3.1 />
<circle class=K cx=309.1 cy=148.2 r=3.1 />
<circle class=W cx=225.1 cy=168.6 r=3.1 />
<circle class=W cx=195.4 cy=168.4 r=3.1 />
<circle class=W cx=205.3 cy=167.6 r=3.1 />
<circle class=U cx=163.9 cy=164.7 r=3.1 />
<circle class=U cx=175.1 cy=164.9 r=3.1 />
<circle class=P cx=59.6 cy=156 r=3.1 />
<circle class=N cx=302.3 cy=151.7 r=3.1 />
<circle class=V cx=180.2 cy=166 r=3.1 />
<circle class=W cx=190.3 cy=168.2 r=3.1 />
<circle class=W cx=270.8 cy=168.8 r=3.1 />
<circle class=V cx=157.2 cy=166.6 r=3.1 />
<circle class=V cx=169.1 cy=166.1 r=3.1 />
<circle class=W cx=235.6 cy=168.4 r=3.1 />
<circle class=W cx=230.5 cy=169.5 r=3.1 />
<circle class=U cx=67.1 cy=165 r=3.1 />
<circle class=O cx=295.7 cy=155.3 r=3.1 />
<circle class=k4 cx=82.6 cy=182.3 r=3.1 />
<circle class=X cx=215.3 cy=169.9 r=3.1 />
<circle class=Z cx=74.8 cy=173.8 r=3.1 />
<circle class=W cx=143.1 cy=169.5 r=3.1 />
<circle class=Q cx=289.4 cy=158.9 r=3.1 />
<circle class=T cx=283.4 cy=162.6 r=3.1 />
<circle class=V cx=277.5 cy=166.5 r=3.1 />
<circle class=W cx=241.4 cy=169.7 r=3.1 />
<circle class=k4 cx=103.7 cy=182.5 r=3.1 />
<circle class=W cx=220.4 cy=170.2 r=3.1 />
<circle class=W cx=253.1 cy=170.3 r=3.1 />
<circle class=Z cx=133.2 cy=174.5 r=3.1 />
<circle class=X cx=184.3 cy=171.5 r=3.1 />
<circle class=L cx=304 cy=151 r=3.1 />
<circle class=S cx=66.5 cy=162.4 r=3.1 />
<circle class=k2 cx=113.5 cy=180.7 r=3.1 />
<circle class=k2 cx=81.9 cy=179.8 r=3.1 />
<circle class=X cx=210.3 cy=171.5 r=3.1 />
<circle class=X cx=74.2 cy=171.2 r=3.1 />
<circle class=N cx=297.2 cy=154.6 r=3.1 />
<circle class=P cx=290.8 cy=158.1 r=3.1 />
<circle class=R cx=284.5 cy=161.8 r=3.1 />
<circle class=W cx=272.7 cy=169.7 r=3.1 />
<circle class=Y cx=199.9 cy=173.4 r=3.1 />
<circle class=T cx=278.5 cy=165.7 r=3.1 />
<circle class=W cx=231.2 cy=170.8 r=3.1 />
<circle class=X cx=194.6 cy=172.3 r=3.1 />
<circle class=X cx=226 cy=172.8 r=3.1 />
<circle class=k5 cx=89.3 cy=185.4 r=3.1 />
<circle class=W cx=189.3 cy=171.6 r=3.1 />
<circle class=V cx=172.9 cy=169.3 r=3.1 />
<circle class=Q cx=65.9 cy=159.8 r=3.1 />
<circle class=X cx=215.5 cy=172.8 r=3.1 />
<circle class=k0 cx=81.4 cy=177.2 r=3.1 />
<circle class=K cx=305.6 cy=150.2 r=3.1 />
<circle class=W cx=178.4 cy=170.5 r=3.1 />
<circle class=V cx=73.6 cy=168.6 r=3.1 />
<circle class=V cx=160.8 cy=169.9 r=3.1 />
<circle class=W cx=183.7 cy=171.6 r=3.1 />
<circle class=V cx=166.8 cy=170.1 r=3.1 />
<circle class=M cx=298.7 cy=153.8 r=3.1 />
<circle class=W cx=153.9 cy=171.1 r=3.1 />
<circle class=X cx=267.8 cy=172.9 r=3.1 />
<circle class=O cx=292.1 cy=157.4 r=3.1 />
<circle class=Q cx=285.7 cy=161 r=3.1 />
<circle class=U cx=273.6 cy=168.8 r=3.1 />
<circle class=S cx=279.6 cy=164.8 r=3.1 />
<circle class=Y cx=205 cy=175.3 r=3.1 />
<circle class=X cx=255.1 cy=173 r=3.1 />
<circle class=X cx=261.7 cy=173.8 r=3.1 />
<circle class=Y cx=243.4 cy=174.3 r=3.1 />
<circle class=k2 cx=88.7 cy=182.9 r=3.1 />
<circle class=X cx=221.1 cy=174.2 r=3.1 />
<circle class=Y cx=80.8 cy=174.6 r=3.1 />
<circle class=T cx=73 cy=166 r=3.1 />
<circle class=Y cx=145.2 cy=175.1 r=3.1 />
<circle class=Y cx=249.9 cy=175.6 r=3.1 />
<circle class=K cx=300.3 cy=153 r=3.1 />
<circle class=Y cx=210.3 cy=176 r=3.1 />
<circle class=W cx=268.6 cy=171.9 r=3.1 />
<circle class=N cx=293.5 cy=156.6 r=3.1 />
<circle class=Y cx=199.4 cy=177.1 r=3.1 />
<circle class=T cx=274.6 cy=167.8 r=3.1 />
<circle class=P cx=286.9 cy=160.2 r=3.1 />
<circle class=R cx=280.6 cy=163.9 r=3.1 />
<circle class=Y cx=226.9 cy=176.4 r=3.1 />
<circle class=k0 cx=88.1 cy=180.3 r=3.1 />
<circle class=Y cx=193.7 cy=176.8 r=3.1 />
<circle class=V cx=80.2 cy=172 r=3.1 />
<circle class=Q cx=72.4 cy=163.5 r=3.1 />
<circle class=Y cx=188.1 cy=176.3 r=3.1 />
<circle class=X cx=238.5 cy=175.9 r=3.1 />
<circle class=X cx=182.4 cy=175.4 r=3.1 />
<circle class=k3 cx=95.6 cy=185.8 r=3.1 />
<circle class=X cx=263.5 cy=175 r=3.1 />
<circle class=U cx=269.4 cy=170.9 r=3.1 />
<circle class=W cx=164.2 cy=174.6 r=3.1 />
<circle class=L cx=294.8 cy=155.7 r=3.1 />
<circle class=S cx=275.5 cy=166.9 r=3.1 />
<circle class=X cx=176.2 cy=176 r=3.1 />
<circle class=N cx=288.1 cy=159.3 r=3.1 />
<circle class=Q cx=281.7 cy=163 r=3.1 />
<circle class=X cx=170.1 cy=175.6 r=3.1 />
<circle class=Y cx=87.6 cy=177.8 r=3.1 />
<circle class=O cx=71.8 cy=160.9 r=3.1 />
<circle class=T cx=79.6 cy=169.5 r=3.1 />
<circle class=Y cx=258.1 cy=178.1 r=3.1 />
<circle class=k1 cx=95.1 cy=183.3 r=3.1 />
<circle class=V cx=264.2 cy=174 r=3.1 />
<circle class=Z cx=199 cy=179.8 r=3.1 />
<circle class=T cx=270.2 cy=169.9 r=3.1 />
<circle class=W cx=87 cy=175.2 r=3.1 />
<circle class=Q cx=276.4 cy=165.9 r=3.1 />
<circle class=K cx=296.2 cy=154.8 r=3.1 />
<circle class=k4 cx=102.6 cy=188.5 r=3.1 />
<circle class=O cx=282.7 cy=162.1 r=3.1 />
<circle class=Z cx=210.4 cy=180.5 r=3.1 />
<circle class=M cx=289.3 cy=158.4 r=3.1 />
<circle class=R cx=79.1 cy=166.9 r=3.1 />
<circle class=Y cx=227.9 cy=180 r=3.1 />
<circle class=W cx=258.7 cy=176.9 r=3.1 />
<circle class=Z cx=94.5 cy=180.7 r=3.1 />
<circle class=Y cx=240 cy=179.2 r=3.1 />
<circle class=U cx=264.8 cy=172.8 r=3.1 />
<circle class=U cx=86.5 cy=172.7 r=3.1 />
<circle class=S cx=271 cy=168.8 r=3.1 />
<circle class=k2 cx=102.1 cy=186 r=3.1 />
<circle class=P cx=277.3 cy=164.9 r=3.1 />
<circle class=P cx=78.5 cy=164.4 r=3.1 />
<circle class=N cx=283.8 cy=161.1 r=3.1 />
<circle class=Y cx=253.1 cy=179.8 r=3.1 />
<circle class=L cx=290.5 cy=157.5 r=3.1 />
<circle class=Y cx=180.6 cy=180.7 r=3.1 />
<circle class=k0 cx=216.4 cy=182.9 r=3.1 />
<circle class=k4 cx=109.8 cy=191 r=3.1 />
<circle class=k0 cx=204.5 cy=183.2 r=3.1 />
<circle class=Z cx=186.4 cy=183 r=3.1 />
<circle class=k2 cx=137.4 cy=186.9 r=3.1 />
<circle class=W cx=94 cy=178.2 r=3.1 />
<circle class=V cx=259.3 cy=175.7 r=3.1 />
<circle class=T cx=265.5 cy=171.7 r=3.1 />
<circle class=S cx=86 cy=170.1 r=3.1 />
<circle class=Z cx=101.6 cy=183.5 r=3.1 />
<circle class=Q cx=271.8 cy=167.7 r=3.1 />
<circle class=Z cx=167 cy=182.6 r=3.1 />
<circle class=O cx=278.2 cy=163.8 r=3.1 />
<circle class=W cx=253.6 cy=178.5 r=3.1 />
<circle class=L cx=284.9 cy=160.1 r=3.1 />
<circle class=k2 cx=109.3 cy=188.5 r=3.1 />
<circle class=k0 cx=222.7 cy=184.8 r=3.1 />
<circle class=k5 cx=117 cy=193.3 r=3.1 />
<circle class=k4 cx=126.5 cy=191.9 r=3.1 />
<circle class=U cx=93.5 cy=175.7 r=3.1 />
<circle class=U cx=259.9 cy=174.5 r=3.1 />
<circle class=Y cx=235.1 cy=183.1 r=3.1 />
<circle class=k0 cx=159.3 cy=184.7 r=3.1 />
</g>
<g class="o19">
<circle class=Q cx=85.4 cy=167.6 r=3.1 />
<circle class=X cx=247.8 cy=181.3 r=3.1 />
<circle class=R cx=266.2 cy=170.5 r=3.1 />
<circle class=k0 cx=210.5 cy=186.6 r=3.1 />
<circle class=X cx=101.2 cy=180.9 r=3.1 />
<circle class=P cx=272.6 cy=166.6 r=3.1 />
<circle class=k0 cx=108.9 cy=186 r=3.1 />
<circle class=M cx=279.1 cy=162.8 r=3.1 />
<circle class=Y cx=241.9 cy=184 r=3.1 />
<circle class=V cx=254.1 cy=177.2 r=3.1 />
<circle class=k2 cx=116.6 cy=190.8 r=3.1 />
<circle class=K cx=285.9 cy=159.1 r=3.1 />
<circle class=k0 cx=151 cy=187.3 r=3.1 />
<circle class=S cx=93 cy=173.1 r=3.1 />
<circle class=S cx=260.5 cy=173.2 r=3.1 />
<circle class=N cx=84.9 cy=165.1 r=3.1 />
<circle class=k0 cx=204.3 cy=187.1 r=3.1 />
<circle class=W cx=248.2 cy=179.9 r=3.1 />
<circle class=V cx=100.7 cy=178.4 r=3.1 />
<circle class=k2 cx=142.2 cy=189.6 r=3.1 />
<circle class=Q cx=266.9 cy=169.3 r=3.1 />
<circle class=k0 cx=185.1 cy=187.7 r=3.1 />
<circle class=N cx=273.4 cy=165.4 r=3.1 />
<circle class=Y cx=108.4 cy=183.5 r=3.1 />
<circle class=k3 cx=124 cy=192.8 r=3.1 />
<circle class=k0 cx=116.2 cy=188.3 r=3.1 />
<circle class=X cx=242.2 cy=182.5 r=3.1 />
<circle class=T cx=254.6 cy=175.9 r=3.1 />
<circle class=L cx=280.1 cy=161.7 r=3.1 />
<circle class=Q cx=92.5 cy=170.6 r=3.1 />
<circle class=Z cx=229.6 cy=186.2 r=3.1 />
<circle class=Y cx=236.1 cy=185.2 r=3.1 />
<circle class=R cx=261 cy=172 r=3.1 />
<circle class=T cx=100.2 cy=176 r=3.1 />
<circle class=U cx=248.6 cy=178.5 r=3.1 />
<circle class=k4 cx=131.6 cy=194.4 r=3.1 />
<circle class=k0 cx=210.6 cy=188.9 r=3.1 />
<circle class=O cx=267.5 cy=168.1 r=3.1 />
<circle class=W cx=108 cy=181 r=3.1 />
<circle class=k1 cx=123.6 cy=190.3 r=3.1 />
<circle class=M cx=274.2 cy=164.2 r=3.1 />
<circle class=Y cx=115.8 cy=185.8 r=3.1 />
<circle class=O cx=92 cy=168.2 r=3.1 />
<circle class=V cx=242.5 cy=181.1 r=3.1 />
<circle class=S cx=255.1 cy=174.6 r=3.1 />
<circle class=W cx=236.4 cy=183.7 r=3.1 />
<circle class=P cx=261.6 cy=170.7 r=3.1 />
<circle class=R cx=99.8 cy=173.5 r=3.1 />
<circle class=T cx=249 cy=177.1 r=3.1 />
<circle class=k2 cx=131.1 cy=192.1 r=3.1 />
<circle class=Y cx=230.1 cy=186.3 r=3.1 />
<circle class=N cx=268.2 cy=166.8 r=3.1 />
<circle class=T cx=107.5 cy=178.6 r=3.1 />
<circle class=k0 cx=217.2 cy=190.5 r=3.1 />
<circle class=Z cx=123.2 cy=187.9 r=3.1 />
<circle class=W cx=115.4 cy=183.4 r=3.1 />
<circle class=Z cx=223.7 cy=189 r=3.1 />
<circle class=K cx=275 cy=163.1 r=3.1 />
<circle class=k2 cx=190.6 cy=192.7 r=3.1 />
<circle class=U cx=242.9 cy=179.6 r=3.1 />
<circle class=Q cx=255.6 cy=173.2 r=3.1 />
<circle class=k2 cx=138.7 cy=193.6 r=3.1 />
<circle class=P cx=99.3 cy=171 r=3.1 />
<circle class=V cx=236.6 cy=182.2 r=3.1 />
<circle class=N cx=262.2 cy=169.4 r=3.1 />
<circle class=k2 cx=146.3 cy=194.8 r=3.1 />
<circle class=Z cx=130.8 cy=189.7 r=3.1 />
<circle class=R cx=249.4 cy=175.7 r=3.1 />
<circle class=S cx=107.1 cy=176.1 r=3.1 />
<circle class=W cx=230.3 cy=184.7 r=3.1 />
<circle class=L cx=268.9 cy=165.6 r=3.1 />
<circle class=W cx=122.8 cy=185.5 r=3.1 />
<circle class=U cx=114.9 cy=180.9 r=3.1 />
<circle class=Y cx=223.8 cy=187.3 r=3.1 />
<circle class=k0 cx=210.7 cy=192.3 r=3.1 />
<circle class=Z cx=217.3 cy=189.8 r=3.1 />
<circle class=S cx=243.2 cy=178.2 r=3.1 />
<circle class=P cx=256 cy=171.8 r=3.1 />
<circle class=k0 cx=138.4 cy=191.3 r=3.1 />
<circle class=T cx=236.9 cy=180.6 r=3.1 />
<circle class=M cx=262.7 cy=168 r=3.1 />
<circle class=k2 cx=197 cy=194.7 r=3.1 />
<circle class=X cx=130.4 cy=187.3 r=3.1 />
<circle class=k0 cx=145.9 cy=192.5 r=3.1 />
<circle class=P cx=106.7 cy=173.7 r=3.1 />
<circle class=Q cx=249.8 cy=174.3 r=3.1 />
<circle class=V cx=122.5 cy=183.1 r=3.1 />
<circle class=S cx=114.5 cy=178.5 r=3.1 />
<circle class=V cx=230.5 cy=183.1 r=3.1 />
<circle class=k1 cx=153.5 cy=193.6 r=3.1 />
<circle class=k0 cx=203.9 cy=192.7 r=3.1 />
<circle class=k1 cx=161 cy=194.6 r=3.1 />
<circle class=W cx=224 cy=185.6 r=3.1 />
<circle class=Y cx=210.7 cy=190.5 r=3.1 />
<circle class=X cx=217.4 cy=188.1 r=3.1 />
<circle class=R cx=243.5 cy=176.7 r=3.1 />
<circle class=Y cx=138 cy=188.9 r=3.1 />
<circle class=k1 cx=190 cy=194.7 r=3.1 />
<circle class=N cx=256.5 cy=170.5 r=3.1 />
<circle class=S cx=237.1 cy=179.1 r=3.1 />
<circle class=V cx=130 cy=185 r=3.1 />
<circle class=N cx=106.3 cy=171.2 r=3.1 />
<circle class=Y cx=145.6 cy=190.3 r=3.1 />
<circle class=k0 cx=182.8 cy=194.5 r=3.1 />
<circle class=K cx=263.3 cy=166.7 r=3.1 />
<circle class=k0 cx=196.9 cy=192.9 r=3.1 />
<circle class=T cx=122.1 cy=180.7 r=3.1 />
<circle class=Q cx=114.2 cy=176.1 r=3.1 />
<circle class=O cx=250.2 cy=172.9 r=3.1 />
<circle class=T cx=230.7 cy=181.5 r=3.1 />
<circle class=Y cx=153.2 cy=191.4 r=3.1 />
<circle class=k0 cx=175.5 cy=194 r=3.1 />
<circle class=Y cx=203.8 cy=190.8 r=3.1 />
<circle class=Z cx=160.7 cy=192.4 r=3.1 />
<circle class=k0 cx=168.2 cy=193.3 r=3.1 />
<circle class=U cx=224.1 cy=183.9 r=3.1 />
<circle class=X cx=210.7 cy=188.6 r=3.1 />
<circle class=W cx=217.4 cy=186.3 r=3.1 />
<circle class=W cx=137.7 cy=186.6 r=3.1 />
<circle class=Z cx=189.8 cy=192.8 r=3.1 />
<circle class=P cx=243.8 cy=175.2 r=3.1 />
<circle class=L cx=257 cy=169.1 r=3.1 />
<circle class=T cx=129.7 cy=182.6 r=3.1 />
<circle class=W cx=145.3 cy=188 r=3.1 />
<circle class=Q cx=237.4 cy=177.5 r=3.1 />
<circle class=Z cx=182.6 cy=192.4 r=3.1 />
<circle class=Y cx=196.8 cy=190.9 r=3.1 />
<circle class=O cx=113.8 cy=173.7 r=3.1 />
<circle class=Q cx=121.7 cy=178.3 r=3.1 />
<circle class=N cx=250.6 cy=171.4 r=3.1 />
<circle class=W cx=152.9 cy=189.2 r=3.1 />
<circle class=R cx=230.8 cy=179.9 r=3.1 />
<circle class=Y cx=175.3 cy=191.9 r=3.1 />
<circle class=W cx=203.8 cy=188.9 r=3.1 />
<circle class=X cx=160.4 cy=190.3 r=3.1 />
<circle class=Y cx=167.9 cy=191.1 r=3.1 />
<circle class=T cx=224.2 cy=182.2 r=3.1 />
<circle class=U cx=137.3 cy=184.3 r=3.1 />
<circle class=V cx=210.7 cy=186.8 r=3.1 />
<circle class=U cx=217.5 cy=184.5 r=3.1 />
<circle class=X cx=189.7 cy=190.7 r=3.1 />
<circle class=N cx=244.1 cy=173.7 r=3.1 />
<circle class=R cx=129.3 cy=180.3 r=3.1 />
<circle class=U cx=145 cy=185.8 r=3.1 />
<circle class=X cx=182.5 cy=190.4 r=3.1 />
<circle class=P cx=121.3 cy=175.9 r=3.1 />
<circle class=P cx=237.6 cy=176 r=3.1 />
<circle class=W cx=196.8 cy=188.9 r=3.1 />
<circle class=V cx=152.6 cy=187 r=3.1 />
<circle class=L cx=251 cy=170 r=3.1 />
<circle class=W cx=175.1 cy=189.8 r=3.1 />
<circle class=Q cx=231 cy=178.3 r=3.1 />
<circle class=V cx=203.8 cy=187 r=3.1 />
<circle class=V cx=160.2 cy=188.1 r=3.1 />
<circle class=W cx=167.7 cy=189 r=3.1 />
<circle class=S cx=137 cy=182 r=3.1 />
<circle class=R cx=224.3 cy=180.5 r=3.1 />
<circle class=T cx=210.7 cy=184.9 r=3.1 />
<circle class=S cx=217.6 cy=182.8 r=3.1 />
<circle class=V cx=189.6 cy=188.7 r=3.1 />
<circle class=M cx=244.5 cy=172.2 r=3.1 />
<circle class=P cx=129 cy=177.9 r=3.1 />
<circle class=S cx=144.7 cy=183.5 r=3.1 />
<circle class=N cx=121 cy=173.5 r=3.1 />
<circle class=V cx=182.3 cy=188.3 r=3.1 />
<circle class=U cx=196.7 cy=187 r=3.1 />
<circle class=N cx=237.9 cy=174.4 r=3.1 />
<circle class=T cx=152.3 cy=184.8 r=3.1 />
<circle class=U cx=174.9 cy=187.7 r=3.1 />
<circle class=O cx=231.2 cy=176.6 r=3.1 />
<circle class=T cx=203.7 cy=185.1 r=3.1 />
</g>
<g class="o20">
<circle class=T cx=159.9 cy=186 r=3.1 />
<circle class=U cx=167.5 cy=186.9 r=3.1 />
<circle class=Q cx=136.7 cy=179.7 r=3.1 />
<circle class=P cx=224.5 cy=178.8 r=3.1 />
<circle class=S cx=210.7 cy=183.1 r=3.1 />
<circle class=Q cx=217.6 cy=181 r=3.1 />
<circle class=U cx=189.5 cy=186.7 r=3.1 />
<circle class=N cx=128.6 cy=175.6 r=3.1 />
<circle class=Q cx=144.4 cy=181.3 r=3.1 />
<circle class=T cx=182.2 cy=186.3 r=3.1 />
<circle class=S cx=196.6 cy=185 r=3.1 />
<circle class=L cx=238.1 cy=172.9 r=3.1 />
<circle class=R cx=152 cy=182.6 r=3.1 />
<circle class=T cx=174.8 cy=185.6 r=3.1 />
<circle class=R cx=203.7 cy=183.2 r=3.1 />
<circle class=S cx=159.7 cy=183.8 r=3.1 />
<circle class=M cx=231.4 cy=175 r=3.1 />
<circle class=O cx=136.3 cy=177.4 r=3.1 />
<circle class=S cx=167.2 cy=184.8 r=3.1 />
<circle class=N cx=224.6 cy=177.1 r=3.1 />
<circle class=Q cx=210.7 cy=181.2 r=3.1 />
<circle class=P cx=217.7 cy=179.2 r=3.1 />
<circle class=S cx=189.4 cy=184.7 r=3.1 />
<circle class=O cx=144 cy=179 r=3.1 />
<circle class=R cx=182 cy=184.2 r=3.1 />
<circle class=Q cx=196.6 cy=183 r=3.1 />
<circle class=P cx=151.7 cy=180.4 r=3.1 />
<circle class=Q cx=174.6 cy=183.5 r=3.1 />
<circle class=M cx=136 cy=175.1 r=3.1 />
<circle class=Q cx=159.4 cy=181.7 r=3.1 />
<circle class=P cx=203.7 cy=181.2 r=3.1 />
<circle class=Q cx=167 cy=182.7 r=3.1 />
<circle class=K cx=231.6 cy=173.4 r=3.1 />
<circle class=O cx=210.8 cy=179.4 r=3.1 />
<circle class=M cx=224.7 cy=175.4 r=3.1 />
<circle class=Q cx=189.3 cy=182.7 r=3.1 />
<circle class=N cx=217.8 cy=177.4 r=3.1 />
<circle class=M cx=143.7 cy=176.8 r=3.1 />
<circle class=P cx=181.9 cy=182.2 r=3.1 />
<circle class=P cx=196.5 cy=181.1 r=3.1 />
<circle class=N cx=151.5 cy=178.3 r=3.1 />
<circle class=P cx=174.4 cy=181.5 r=3.1 />
<circle class=N cx=159.2 cy=179.5 r=3.1 />
<circle class=N cx=203.7 cy=179.3 r=3.1 />
<circle class=O cx=166.8 cy=180.6 r=3.1 />
<circle class=M cx=210.8 cy=177.5 r=3.1 />
<circle class=O cx=189.2 cy=180.7 r=3.1 />
<circle class=N cx=181.7 cy=180.1 r=3.1 />
<circle class=N cx=196.4 cy=179.1 r=3.1 />
<circle class=N cx=174.2 cy=179.4 r=3.1 />
<circle class=L cx=158.9 cy=177.4 r=3.1 />
<circle class=M cx=166.6 cy=178.5 r=3.1 />
<circle class=L cx=203.6 cy=177.4 r=3.1 />
<circle class=M cx=189.1 cy=178.7 r=3.1 />
<circle class=L cx=196.3 cy=177.1 r=3.1 />
<circle class=L cx=174 cy=177.3 r=3.1 />
</g></g></g>
   <g id="text_26">
    <text style="font-size: 12px; font-family: 'DejaVu Sans', 'Liberation Sans', sans-serif; text-anchor: middle" x="442.8" y="71.76" transform="rotate(-0 442.8 71.76)">LiDAR Point 3D Coordinate Graph</text>
   </g>
   <g id="legend_1">
    <g id="patch_6">
     <path d="M 568.268875 100.438125 
L 625.772 100.438125 
Q 627.772 100.438125 627.772 98.438125 
L 627.772 84.76 
Q 627.772 82.76 625.772 82.76 
L 568.268875 82.76 
Q 566.268875 82.76 566.268875 84.76 
L 566.268875 98.438125 
Q 566.268875 100.438125 568.268875 100.438125 
z
" style="fill: #ffffff; opacity: 0.8; stroke: #cccccc; stroke-linejoin: miter"/>
    </g>
    <g id="PathCollection_1">
     <defs>
      <path id="me628a5f38a" d="M 0 2.236068 
C 0.593012 2.236068 1.161816 2.000462 1.581139 1.581139 
C 2.000462 1.161816 2.236068 0.593012 2.236068 0 
C 2.236068 -0.593012 2.000462 -1.161816 1.581139 -1.581139 
C 1.161816 -2.000462 0.593012 -2.236068 0 -2.236068 
C -0.593012 -2.236068 -1.161816 -2.000462 -1.581139 -1.581139 
C -2.000462 -1.161816 -2.236068 -0.593012 -2.236068 0 
C -2.236068 0.593012 -2.000462 1.161816 -1.581139 1.581139 
C -1.161816 2.000462 -0.593012 2.236068 0 2.236068 
z
" style="stroke: #21918c"/>
     </defs>
     <g>
      <use href="#me628a5f38a" x="580.268875" y="91.733438" style="fill: #21918c; stroke: #21918c"/>
     </g>
    </g>
    <g id="text_27">
     <text style="font-size: 10px; font-family: 'DejaVu Sans', 'Liberation Sans', sans-serif; text-anchor: start" x="598.268875" y="94.358438" transform="rotate(-0 598.268875 94.358438)">point</text>
    </g>
   </g>
  </g>
  <g id="axes_2">
   <g id="patch_7">
    <path d="M 206.28 577.08 
L 301.32 577.08 
L 301.32 482.04 
L 206.28 482.04 
z
" style="fill: #ffffff"/>
   </g>
   <g id="PathCollection_2"/>
   <g id="PathCollection_3"/>
   <g id="PathCollection_4"/>
   <g id="matplotlib.axis_1">
    <g id="xtick_23">
     <g id="line2d_26">
      <defs>
       <path id="ma3943b23fd" d="M 0 0 
L 0 3.5 
" style="stroke: #000000; stroke-width: 0.8"/>
      </defs>
      <g>
       <use href="#ma3943b23fd" x="218.442857" y="577.08" style="stroke: #000000; stroke-width: 0.8"/>
      </g>
     </g>
     <g id="text_28">
      <text style="font-size: 10px; font-family: 'DejaVu Sans', 'Liberation Sans', sans-serif; text-anchor: middle" x="218.442857" y="591.678437" transform="rotate(-0 218.442857 591.678437)">−500</text>
     </g>
    </g>
    <g id="xtick_24">
     <g id="line2d_27">
      <g>
       <use href="#ma3943b23fd" x="253.8" y="577.08" style="stroke: #000000; stroke-width: 0.8"/>
      </g>
     </g>
     <g id="text_29">
      <text style="font-size: 10px; font-family: 'DejaVu Sans', 'Liberation Sans', sans-serif; text-anchor: middle" x="253.8" y="591.678437" transform="rotate(-0 253.8 591.678437)">0</text>
     </g>
    </g>
    <g id="xtick_25">
     <g id="line2d_28">
      <g>
       <use href="#ma3943b23fd" x="289.157143" y="577.08" style="stroke: #000000; stroke-width: 0.8"/>
      </g>
     </g>
     <g id="text_30">
      <text style="font-size: 10px; font-family: 'DejaVu Sans', 'Liberation Sans', sans-serif; text-anchor: middle" x="289.157143" y="591.678437" transform="rotate(-0 289.157143 591.678437)">500</text>
     </g>
    </g>
    <g id="text_31">
     <text style="font-size: 10px; font-family: 'DejaVu Sans', 'Liberation Sans', sans-serif; text-anchor: middle" x="253.8" y="605.356562" transform="rotate(-0 253.8 605.356562)">X (cm)</text>
    </g>
   </g>
   <g id="matplotlib.axis_2">
    <g id="ytick_1">
     <g id="line2d_29">
      <defs>
       <path id="m6d16fec87a" d="M 0 0 
L -3.5 0 
" style="stroke: #000000; stroke-width: 0.8"/>
      </defs>
      <g>
       <use href="#m6d16fec87a" x="206.28" y="564.917143" style="stroke: #000000; stroke-width: 0.8"/>
      </g>
     </g>
     <g id="text_32">
      <text style="font-size: 10px; font-family: 'DejaVu Sans', 'Liberation Sans', sans-serif; text-anchor: end" x="199.28" y="568.716362" transform="rotate(-0 199.28 568.716362)">−500</text>
     </g>
    </g>
    <g id="ytick_2">
     <g id="line2d_30">
      <g>
       <use href="#m6d16fec87a" x="206.28" y="529.56" style="stroke: #000000; stroke-width: 0.8"/>
      </g>
     </g>
     <g id="text_33">
      <text style="font-size: 10px; font-family: 'DejaVu Sans', 'Liberation Sans', sans-serif; text-anchor: end" x="199.28" y="533.359219" transform="rotate(-0 199.28 533.359219)">0</text>
     </g>
    </g>
    <g id="ytick_3">
     <g id="line2d_31">
      <g>
       <use href="#m6d16fec87a" x="206.28" y="494.202857" style="stroke: #000000; stroke-width: 0.8"/>
      </g>
     </g>
     <g id="text_34">
      <text style="font-size: 10px; font-family: 'DejaVu Sans', 'Liberation Sans', sans-serif; text-anchor: end" x="199.28" y="498.002076" transform="rotate(-0 199.28 498.002076)">500</text>
     </g>
    </g>
    <g id="text_35">
     <text style="font-size: 10px; font-family: 'DejaVu Sans', 'Liberation Sans', sans-serif; text-anchor: middle" x="165.733125" y="529.56" transform="rotate(-90 165.733125 529.56)">Y (cm)</text>
    </g>
   </g>
   <g class="b2" transform="scale(0.72)"><clipPath id="c2d"><rect x="286.50" y="669.50" width="132.00" height="132.00"/></clipPath><path clip-path="url(#c2d)" fill="#90ee90" fill-rule="evenodd" d="M278.5 721.4 278.6 720.8 278.9 720.2 279.1 719.8 279.0 719.1 278.9 718.5 278.9 717.8 278.9 717.0 279.0 716.4 279.2 715.9 279.5 715.4 279.8 714.9 280.1 714.5 280.5 714.1 280.9 713.8 281.4 713.5 281.6 713.0 281.9 712.5 281.8 711.9 281.6 711.2 281.6 710.5 281.6 709.8 281.9 709.2 282.1 708.8 282.4 708.2 282.6 707.8 283.0 707.4 283.4 707.0 283.9 706.8 284.4 706.5 284.9 706.2 285.1 705.8 285.1 705.0 285.1 704.2 285.1 703.5 285.1 702.8 285.4 702.2 285.6 701.8 285.9 701.2 286.2 700.9 286.6 700.5 287.1 700.2 287.5 699.9 288.0 699.6 288.6 699.5 289.1 699.2 288.9 698.8 288.9 698.0 288.9 697.2 289.0 696.6 289.1 696.0 289.4 695.5 289.6 695.0 290.0 694.6 290.4 694.2 290.8 693.9 291.2 693.6 291.8 693.4 292.2 693.1 293.0 693.1 293.5 692.9 293.9 692.5 294.2 692.1 294.6 691.8 295.1 691.5 295.8 691.4 296.2 691.1 296.9 691.0 296.9 690.2 296.9 689.5 297.1 689.0 297.1 688.2 297.4 687.8 297.8 687.4 298.1 687.0 298.4 686.5 298.9 686.2 299.2 685.9 299.8 685.6 300.2 685.4 301.0 685.4 301.8 685.4 302.2 685.1 302.6 684.8 303.1 684.5 303.6 684.2 304.2 684.1 304.8 683.9 305.5 683.9 305.9 683.5 305.9 682.8 306.1 682.2 306.2 681.6 306.5 681.1 306.9 680.8 307.2 680.4 307.6 680.0 308.0 679.6 308.5 679.4 309.0 679.1 309.8 679.1 310.2 678.9 311.0 678.9 311.5 679.1 312.2 679.1 312.6 678.8 312.9 678.2 313.2 677.9 313.6 677.5 314.0 677.1 314.4 676.8 314.9 676.5 315.4 676.2 315.6 675.8 316.0 675.4 316.4 675.0 316.8 674.6 317.2 674.4 317.8 674.1 318.2 673.9 318.8 673.6 319.5 673.6 320.2 673.6 321.0 673.6 321.5 673.9 322.0 674.1 322.5 673.9 322.8 673.4 323.1 673.0 323.5 672.6 324.0 672.4 324.5 672.1 325.0 671.9 325.5 671.6 326.2 671.6 327.0 671.6 327.8 671.6 328.2 671.9 328.8 672.1 329.0 671.6 329.2 671.1 329.6 670.8 330.0 670.4 330.5 670.1 331.0 669.9 331.5 669.6 332.0 669.4 332.8 669.4 333.5 669.4 334.1 669.5 334.8 669.6 335.2 669.9 335.8 670.1 336.2 670.4 337.0 670.4 337.8 670.4 338.2 670.6 338.9 670.8 339.5 670.9 339.9 670.5 340.2 670.1 340.6 669.8 341.1 669.5 341.6 669.2 342.2 669.1 342.8 668.9 343.5 668.9 344.2 668.9 344.8 669.1 345.4 669.2 345.9 669.5 346.2 669.4 346.6 669.0 347.1 668.8 347.5 668.4 348.0 668.1 348.6 668.0 349.2 667.9 350.0 667.9 350.8 667.9 351.2 668.1 351.9 668.2 352.4 668.5 352.8 668.9 353.2 669.1 353.8 669.4 354.2 669.6 354.9 669.8 355.4 670.0 355.9 670.2 356.4 670.5 356.8 670.9 357.1 671.0 357.6 670.8 358.2 670.6 358.8 670.4 359.5 670.4 360.2 670.4 360.9 670.5 361.5 670.6 362.0 670.9 362.4 671.2 362.9 671.5 363.2 671.9 363.5 672.4 364.0 672.1 364.5 671.9 365.2 671.9 365.8 671.6 366.2 671.9 367.0 671.9 367.5 672.1 368.0 672.4 368.5 672.6 368.9 673.0 369.2 673.4 369.6 673.8 370.0 674.1 370.5 674.4 371.0 674.6 371.4 675.0 371.8 675.4 372.1 675.8 372.5 676.1 372.8 676.6 373.2 676.4 374.0 676.4 374.8 676.4 375.2 676.6 375.9 676.8 376.4 677.0 376.9 677.2 377.2 677.6 377.6 678.0 378.0 678.4 378.2 678.9 378.5 679.4 379.0 679.6 379.4 680.0 379.8 680.4 380.1 680.8 380.4 681.2 380.6 681.8 381.0 682.1 381.4 682.5 381.9 682.8 382.1 683.2 382.5 683.6 382.8 684.1 383.0 684.6 383.5 684.9 383.9 685.2 384.2 685.6 384.5 686.1 384.9 686.5 385.2 686.9 385.9 687.0 386.5 687.1 387.0 687.4 387.5 687.6 387.9 688.0 388.2 688.4 388.6 688.8 389.0 689.1 389.2 689.6 389.8 689.9 390.5 689.9 391.0 690.1 391.5 690.4 392.0 690.6 392.4 691.0 392.8 691.4 393.1 691.8 393.4 692.2 393.6 692.8 394.2 692.9 394.8 693.1 395.4 693.2 395.9 693.5 396.4 693.8 396.8 694.1 397.1 694.5 397.5 694.9 397.8 695.4 398.0 695.9 398.2 696.4 398.8 696.6 399.2 696.9 399.8 697.1 400.2 697.4 400.8 697.6 401.1 698.0 401.4 698.5 401.8 698.9 402.0 699.4 402.1 700.0 402.4 700.5 402.8 700.9 403.2 701.1 403.8 701.4 404.1 701.8 404.5 702.1 404.9 702.5 405.1 703.0 405.4 703.5 405.6 704.0 405.6 704.8 405.9 705.2 406.2 705.6 406.8 705.9 407.1 706.2 407.5 706.6 407.9 707.0 408.1 707.5 408.4 708.0 408.6 708.5 408.6 709.2 408.6 710.0 408.9 710.5 409.1 711.0 409.2 711.6 409.4 712.2 409.4 713.0 409.8 713.4 410.1 713.8 410.4 714.2 410.8 714.6 411.0 715.1 411.2 715.6 411.4 716.2 411.4 717.0 411.4 717.8 411.5 718.4 411.6 719.0 411.6 719.8 411.6 720.5 411.8 721.1 412.1 721.5 412.4 722.0 412.6 722.5 412.9 723.0 413.1 723.5 413.1 724.2 413.1 725.0 413.1 725.8 412.9 726.2 413.2 726.6 413.5 727.1 413.8 727.6 414.0 728.1 414.1 728.8 414.1 729.5 414.1 730.2 414.1 731.0 413.9 731.5 413.9 732.2 413.9 733.0 413.6 733.5 413.6 734.2 413.8 734.9 414.0 735.4 414.1 736.0 414.4 736.5 414.4 737.2 414.2 737.9 414.1 738.5 413.9 739.0 413.9 739.8 413.6 740.2 413.6 741.0 413.6 741.8 413.6 742.5 413.9 743.0 414.1 743.5 414.1 744.2 414.1 745.0 413.9 745.5 413.9 746.2 413.6 746.8 413.4 747.2 413.1 747.8 413.4 748.2 413.4 749.0 413.4 749.8 413.4 750.5 413.1 751.0 412.9 751.5 412.6 752.0 412.4 752.5 412.4 753.2 412.4 754.0 412.4 754.8 412.1 755.2 412.0 755.9 411.8 756.4 411.5 756.9 411.1 757.2 411.1 758.0 410.9 758.5 410.9 759.2 410.8 759.9 410.6 760.5 410.4 761.0 410.1 761.5 409.8 761.9 409.5 762.4 409.2 762.9 409.1 763.5 409.0 764.1 408.9 764.8 408.6 765.2 408.4 765.8 408.1 766.2 407.8 766.6 407.4 767.0 407.1 767.5 406.9 768.0 406.9 768.8 406.6 769.2 406.4 769.8 406.1 770.2 405.9 770.8 405.5 771.1 405.1 771.5 404.9 772.0 404.6 772.5 404.2 772.9 404.1 773.5 403.9 774.0 403.6 774.5 403.2 774.9 403.0 775.4 402.5 775.6 402.1 776.0 401.9 776.5 401.6 777.0 401.2 777.4 401.0 777.9 400.8 778.4 400.5 778.9 400.1 779.2 399.8 779.6 399.4 780.0 399.0 780.4 398.6 780.8 398.4 781.2 397.9 781.5 397.6 782.0 397.4 782.5 397.1 783.0 396.8 783.4 396.2 783.6 396.0 784.1 395.8 784.6 395.4 785.0 395.0 785.4 394.6 785.8 394.2 786.1 393.8 786.4 393.4 786.8 393.0 787.1 392.6 787.5 392.1 787.8 391.6 788.0 391.4 788.5 391.0 788.9 390.5 789.1 390.1 789.5 389.8 789.9 389.4 790.2 389.0 790.6 388.6 791.0 388.1 791.2 387.8 791.6 387.4 792.0 387.0 792.4 386.6 792.8 386.1 793.0 385.6 793.2 385.2 793.6 384.9 794.0 384.5 794.4 384.0 794.6 383.5 794.9 383.0 795.1 382.5 795.4 382.1 795.8 381.6 796.0 381.1 796.2 380.5 796.4 380.1 796.8 379.6 797.0 379.1 797.2 378.6 797.5 378.2 797.9 377.9 798.2 377.5 798.6 377.0 798.9 376.5 799.1 376.0 799.4 375.2 799.4 374.9 799.8 374.4 800.0 373.8 800.1 373.2 800.4 372.8 800.6 372.2 800.9 371.8 801.1 371.2 801.4 370.8 801.6 370.0 801.6 369.5 801.9 369.0 802.1 368.5 802.4 367.9 802.5 367.2 802.6 366.8 802.9 366.2 803.1 365.8 803.4 365.1 803.5 364.5 803.6 364.0 803.9 363.5 804.1 362.9 804.2 362.2 804.4 361.5 804.4 360.9 804.5 360.4 804.8 359.8 804.9 359.0 804.9 358.6 805.0 358.1 805.0 357.6 805.2 357.0 805.4 356.5 805.6 355.8 805.6 355.0 805.6 354.2 805.6 353.8 805.9 353.0 805.9 352.2 805.9 351.6 806.0 351.0 806.1 350.5 806.4 349.8 806.4 349.1 806.2 348.5 806.1 347.8 806.1 347.2 806.4 346.5 806.4 346.0 806.1 345.2 806.1 344.8 806.4 344.0 806.4 343.2 806.4 342.6 806.2 342.0 806.1 341.5 806.4 340.8 806.4 340.0 806.4 339.5 806.1 338.9 806.0 338.2 805.9 337.5 805.9 336.8 805.9 336.2 805.6 335.6 805.5 335.2 805.6 334.5 805.6 333.8 805.6 333.2 805.4 332.6 805.2 332.1 805.0 331.5 804.9 330.8 804.9 330.2 804.6 329.6 804.5 329.1 804.2 328.5 804.1 327.8 804.1 327.0 804.1 326.5 803.9 326.0 803.6 325.5 803.4 324.8 803.4 324.2 803.1 323.5 803.1 323.0 802.9 322.5 802.6 322.0 802.4 321.5 802.1 321.0 801.9 320.4 801.8 319.8 801.6 319.4 801.2 318.9 801.0 318.2 800.9 317.6 800.8 317.0 800.6 316.5 800.4 316.1 800.0 315.6 799.8 315.2 799.4 314.8 799.1 314.1 799.0 313.6 798.8 313.1 798.5 312.8 798.1 312.2 797.9 311.8 797.6 311.1 797.5 310.6 797.2 310.1 797.0 309.8 796.6 309.4 796.2 308.9 796.0 308.2 795.9 307.8 795.6 307.2 795.4 306.9 795.0 306.5 794.6 306.1 794.2 305.8 793.9 305.2 793.6 304.8 793.4 304.2 793.1 303.9 792.8 303.5 792.4 303.1 792.0 302.8 791.6 302.1 791.5 301.6 791.2 301.2 790.9 300.9 790.5 300.5 790.1 300.1 789.8 299.9 789.2 299.4 789.0 299.0 788.6 298.5 788.4 298.1 788.0 297.9 787.5 297.6 787.0 297.0 786.9 296.6 786.5 296.1 786.2 295.8 785.9 295.4 785.5 295.1 785.0 294.9 784.5 294.6 784.0 294.1 783.8 293.8 783.4 293.4 783.0 293.0 782.6 292.8 782.1 292.4 781.8 292.1 781.2 291.6 781.0 291.2 780.6 290.9 780.2 290.5 779.9 290.2 779.4 290.0 778.9 289.9 778.2 289.5 777.9 289.1 777.5 288.8 777.1 288.4 776.8 288.1 776.2 287.9 775.8 287.6 775.2 287.2 774.9 286.9 774.5 286.5 774.1 286.2 773.6 286.0 773.1 285.8 772.6 285.6 772.0 285.4 771.5 285.0 771.1 284.8 770.6 284.4 770.2 284.2 769.6 284.1 769.0 283.9 768.5 283.5 768.1 283.1 767.8 282.9 767.2 282.6 766.8 282.4 766.2 282.1 765.8 282.0 765.1 281.6 764.8 281.4 764.2 281.1 763.8 280.9 763.2 280.6 762.8 280.6 762.0 280.4 761.5 280.0 761.1 279.8 760.6 279.5 760.1 279.2 759.6 279.1 759.0 279.1 758.2 279.1 757.5 278.9 757.0 278.6 756.5Z"/><path clip-path="url(#c2d)" fill="#fff" d="M304.7 740.3 306.8 737.0 308.8 734.0 316.0 733.7 321.8 735.3 326.8 736.3 323.5 737.2 317.7 737.7 311.8 739.3 307.7 740.3Z"/></g>
   <g id="patch_8">
    <path d="M 206.28 577.08 
L 206.28 482.04 
" style="fill: none; stroke: #000000; stroke-width: 0.8; stroke-linejoin: miter; stroke-linecap: square"/>
   </g>
   <g id="patch_9">
    <path d="M 301.32 577.08 
L 301.32 482.04 
" style="fill: none; stroke: #000000; stroke-width: 0.8; stroke-linejoin: miter; stroke-linecap: square"/>
   </g>
   <g id="patch_10">
    <path d="M 206.28 577.08 
L 301.32 577.08 
" style="fill: none; stroke: #000000; stroke-width: 0.8; stroke-linejoin: miter; stroke-linecap: square"/>
   </g>
   <g id="patch_11">
    <path d="M 206.28 482.04 
L 301.32 482.04 
" style="fill: none; stroke: #000000; stroke-width: 0.8; stroke-linejoin: miter; stroke-linecap: square"/>
   </g>
   <g id="text_36">
    <text style="font-size: 12px; font-family: 'DejaVu Sans', 'Liberation Sans', sans-serif; text-anchor: middle" x="253.8" y="476.04" transform="rotate(-0 253.8 476.04)">LiDAR Point 2D Coordinate Graph</text>
   </g>
   <g id="legend_2">
    <g id="patch_12">
     <path d="M 313.072 519.39625 
L 370.575125 519.39625 
Q 372.575125 519.39625 372.575125 517.39625 
L 372.575125 489.04 
Q 372.575125 487.04 370.575125 487.04 
L 313.072 487.04 
Q 311.072 487.04 311.072 489.04 
L 311.072 517.39625 
Q 311.072 519.39625 313.072 519.39625 
z
" style="fill: #ffffff; opacity: 0.8; stroke: #cccccc; stroke-linejoin: miter"/>
    </g>
    <g id="PathCollection_5">
     <defs>
      <path id="mbdc53f8a1c" d="M 0 3 
C 0.795609 3 1.55874 2.683901 2.12132 2.12132 
C 2.683901 1.55874 3 0.795609 3 0 
C 3 -0.795609 2.683901 -1.55874 2.12132 -2.12132 
C 1.55874 -2.683901 0.795609 -3 0 -3 
C -0.795609 -3 -1.55874 -2.683901 -2.12132 -2.12132 
C -2.683901 -1.55874 -3 -0.795609 -3 0 
C -3 0.795609 -2.683901 1.55874 -2.12132 2.12132 
C -1.55874 2.683901 -0.795609 3 0 3 
z
" style="stroke: #90ee90"/>
     </defs>
     <g>
      <use href="#mbdc53f8a1c" x="325.072" y="496.013438" style="fill: #90ee90; stroke: #90ee90"/>
     </g>
    </g>
    <g id="text_37">
     <text style="font-size: 10px; font-family: 'DejaVu Sans', 'Liberation Sans', sans-serif; text-anchor: start" x="343.072" y="498.638438" transform="rotate(-0 343.072 498.638438)">point</text>
    </g>
    <g id="PathCollection_6">
     <defs>
      <path id="m85b2dac0ab" d="M 0 3 
C 0.795609 3 1.55874 2.683901 2.12132 2.12132 
C 2.683901 1.55874 3 0.795609 3 0 
C 3 -0.795609 2.683901 -1.55874 2.12132 -2.12132 
C 1.55874 -2.683901 0.795609 -3 0 -3 
C -0.795609 -3 -1.55874 -2.683901 -2.12132 -2.12132 
C -2.683901 -1.55874 -3 -0.795609 -3 0 
C -3 0.795609 -2.683901 1.55874 -2.12132 2.12132 
C -1.55874 2.683901 -0.795609 3 0 3 
z
" style="stroke: #0000ff"/>
     </defs>
     <g>
      <use href="#m85b2dac0ab" x="325.072" y="510.691563" style="fill: #0000ff; stroke: #0000ff"/>
     </g>
    </g>
    <g id="text_38">
     <text style="font-size: 10px; font-family: 'DejaVu Sans', 'Liberation Sans', sans-serif; text-anchor: start" x="343.072" y="513.316563" transform="rotate(-0 343.072 513.316563)">wall</text>
    </g>
   </g>
  </g>
  <g id="axes_3">
   <g id="patch_13">
    <path d="M 487.08 577.08 
L 777.96 577.08 
L 777.96 482.04 
L 487.08 482.04 
z
" style="fill: #ffffff"/>
   </g>
   <g id="patch_14">
    <path d="M 495.354083 577.08 
L 495.354083 559.910901 
L 508.335201 559.910901 
L 508.335201 569.173178 
L 521.316319 569.173178 
L 521.316319 564.391433 
L 534.297436 564.391433 
L 534.297436 572.185301 
L 547.278554 572.185301 
L 547.278554 569.173178 
L 560.259671 569.173178 
L 560.259671 554.827944 
L 573.240789 554.827944 
L 573.240789 511.114514 
L 586.221906 511.114514 
L 586.221906 486.565714 
L 599.203024 486.565714 
L 599.203024 503.923071 
L 612.184142 503.923071 
L 612.184142 562.885372 
L 625.165259 562.885372 
L 625.165259 577.08 
" clip-path="url(#p663ab96079)" style="fill: #0000ff"/>
   </g>
   <g id="matplotlib.axis_3">
    <g id="xtick_26">
     <g id="line2d_32">
      <g>
       <use href="#ma3943b23fd" x="487.08" y="577.08" style="stroke: #000000; stroke-width: 0.8"/>
      </g>
     </g>
     <g id="text_39">
      <text style="font-size: 10px; font-family: 'DejaVu Sans', 'Liberation Sans', sans-serif; text-anchor: middle" x="487.08" y="591.678437" transform="rotate(-0 487.08 591.678437)">0</text>
     </g>
    </g>
    <g id="xtick_27">
     <g id="line2d_33">
      <g>
       <use href="#ma3943b23fd" x="523.853704" y="577.08" style="stroke: #000000; stroke-width: 0.8"/>
      </g>
     </g>
     <g id="text_40">
      <text style="font-size: 10px; font-family: 'DejaVu Sans', 'Liberation Sans', sans-serif; text-anchor: middle" x="523.853704" y="591.678437" transform="rotate(-0 523.853704 591.678437)">100</text>
     </g>
    </g>
    <g id="xtick_28">
     <g id="line2d_34">
      <g>
       <use href="#ma3943b23fd" x="560.627408" y="577.08" style="stroke: #000000; stroke-width: 0.8"/>
      </g>
     </g>
     <g id="text_41">
      <text style="font-size: 10px; font-family: 'DejaVu Sans', 'Liberation Sans', sans-serif; text-anchor: middle" x="560.627408" y="591.678437" transform="rotate(-0 560.627408 591.678437)">200</text>
     </g>
    </g>
    <g id="xtick_29">
     <g id="line2d_35">
      <g>
       <use href="#ma3943b23fd" x="597.401113" y="577.08" style="stroke: #000000; stroke-width: 0.8"/>
      </g>
     </g>
     <g id="text_42">
      <text style="font-size: 10px; font-family: 'DejaVu Sans', 'Liberation Sans', sans-serif; text-anchor: middle" x="597.401113" y="591.678437" transform="rotate(-0 597.401113 591.678437)">300</text>
     </g>
    </g>
    <g id="xtick_30">
     <g id="line2d_36">
      <g>
       <use href="#ma3943b23fd" x="634.174817" y="577.08" style="stroke: #000000; stroke-width: 0.8"/>
      </g>
     </g>
     <g id="text_43">
      <text style="font-size: 10px; font-family: 'DejaVu Sans', 'Liberation Sans', sans-serif; text-anchor: middle" x="634.174817" y="591.678437" transform="rotate(-0 634.174817 591.678437)">400</text>
     </g>
    </g>
    <g id="xtick_31">
     <g id="line2d_37">
      <g>
       <use href="#ma3943b23fd" x="670.948521" y="577.08" style="stroke: #000000; stroke-width: 0.8"/>
      </g>
     </g>
     <g id="text_44">
      <text style="font-size: 10px; font-family: 'DejaVu Sans', 'Liberation Sans', sans-serif; text-anchor: middle" x="670.948521" y="591.678437" transform="rotate(-0 670.948521 591.678437)">500</text>
     </g>
    </g>
    <g id="xtick_32">
     <g id="line2d_38">
      <g>
       <use href="#ma3943b23fd" x="707.722225" y="577.08" style="stroke: #000000; stroke-width: 0.8"/>
      </g>
     </g>
     <g id="text_45">
      <text style="font-size: 10px; font-family: 'DejaVu Sans', 'Liberation Sans', sans-serif; text-anchor: middle" x="707.722225" y="591.678437" transform="rotate(-0 707.722225 591.678437)">600</text>
     </g>
    </g>
    <g id="xtick_33">
     <g id="line2d_39">
      <g>
       <use href="#ma3943b23fd" x="744.495929" y="577.08" style="stroke: #000000; stroke-width: 0.8"/>
      </g>
     </g>
     <g id="text_46">
      <text style="font-size: 10px; font-family: 'DejaVu Sans', 'Liberation Sans', sans-serif; text-anchor: middle" x="744.495929" y="591.678437" transform="rotate(-0 744.495929 591.678437)">700</text>
     </g>
    </g>
   </g>
   <g id="matplotlib.axis_4">
    <g id="ytick_4">
     <g id="line2d_40">
      <g>
       <use href="#m6d16fec87a" x="487.08" y="577.08" style="stroke: #000000; stroke-width: 0.8"/>
      </g>
     </g>
     <g id="text_47">
      <text style="font-size: 10px; font-family: 'DejaVu Sans', 'Liberation Sans', sans-serif; text-anchor: end" x="480.08" y="580.879219" transform="rotate(-0 480.08 580.879219)">0</text>
     </g>
    </g>
    <g id="ytick_5">
     <g id="line2d_41">
      <g>
       <use href="#m6d16fec87a" x="487.08" y="539.428467" style="stroke: #000000; stroke-width: 0.8"/>
      </g>
     </g>
     <g id="text_48">
      <text style="font-size: 10px; font-family: 'DejaVu Sans', 'Liberation Sans', sans-serif; text-anchor: end" x="480.08" y="543.227686" transform="rotate(-0 480.08 543.227686)">1000</text>
     </g>
    </g>
    <g id="ytick_6">
     <g id="line2d_42">
      <g>
       <use href="#m6d16fec87a" x="487.08" y="501.776934" style="stroke: #000000; stroke-width: 0.8"/>
      </g>
     </g>
     <g id="text_49">
      <text style="font-size: 10px; font-family: 'DejaVu Sans', 'Liberation Sans', sans-serif; text-anchor: end" x="480.08" y="505.576152" transform="rotate(-0 480.08 505.576152)">2000</text>
     </g>
    </g>
   </g>
   <g id="patch_15">
    <path d="M 487.08 577.08 
L 487.08 482.04 
" style="fill: none; stroke: #000000; stroke-width: 0.8; stroke-linejoin: miter; stroke-linecap: square"/>
   </g>
   <g id="patch_16">
    <path d="M 777.96 577.08 
L 777.96 482.04 
" style="fill: none; stroke: #000000; stroke-width: 0.8; stroke-linejoin: miter; stroke-linecap: square"/>
   </g>
   <g id="patch_17">
    <path d="M 487.08 577.08 
L 777.96 577.08 
" style="fill: none; stroke: #000000; stroke-width: 0.8; stroke-linejoin: miter; stroke-linecap: square"/>
   </g>
   <g id="patch_18">
    <path d="M 487.08 482.04 
L 777.96 482.04 
" style="fill: none; stroke: #000000; stroke-width: 0.8; stroke-linejoin: miter; stroke-linecap: square"/>
   </g>
   <g id="text_50">
    <text style="font-size: 12px; font-family: 'DejaVu Sans', 'Liberation Sans', sans-serif; text-anchor: middle" x="632.52" y="476.04" transform="rotate(-0 632.52 476.04)">Height Histogram</text>
   </g>
   <g id="legend_3">
    <g id="patch_19">
     <path d="M 705.902188 504.718125 
L 770.96 504.718125 
Q 772.96 504.718125 772.96 502.718125 
L 772.96 489.04 
Q 772.96 487.04 770.96 487.04 
L 705.902188 487.04 
Q 703.902188 487.04 703.902188 489.04 
L 703.902188 502.718125 
Q 703.902188 504.718125 705.902188 504.718125 
z
" style="fill: #ffffff; opacity: 0.8; stroke: #cccccc; stroke-linejoin: miter"/>
    </g>
    <g id="patch_20">
     <path d="M 707.902188 498.638438 
L 727.902188 498.638438 
L 727.902188 491.638438 
L 707.902188 491.638438 
z
" style="fill: #0000ff"/>
    </g>
    <g id="text_51">
     <text style="font-size: 10px; font-family: 'DejaVu Sans', 'Liberation Sans', sans-serif; text-anchor: start" x="735.902188" y="498.638438" transform="rotate(-0 735.902188 498.638438)">Height</text>
    </g>
   </g>
  </g>
 </g>
 <defs>
  <clipPath id="p2d250cd084">
   <rect x="252.828" y="77.76" width="379.944" height="379.944"/>
  </clipPath>
  <clipPath id="p8808621665">
   <rect x="206.28" y="482.04" width="95.04" height="95.04"/>
  </clipPath>
  <clipPath id="p663ab96079">
   <rect x="487.08" y="482.04" width="290.88" height="95.04"/>
  </clipPath>
 </defs>
</svg>
</body></html>
